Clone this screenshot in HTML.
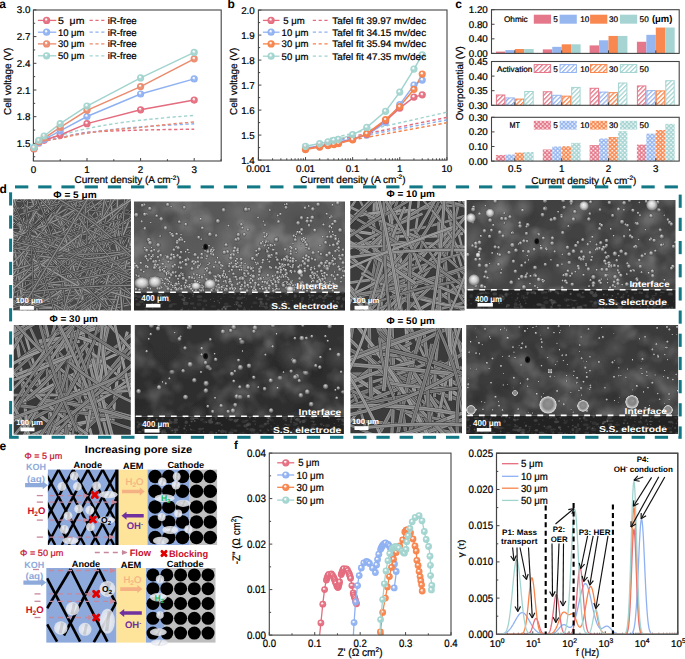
<!DOCTYPE html>
<html><head><meta charset="utf-8"><style>
html,body{margin:0;padding:0;background:#fff;overflow:hidden}
svg{display:block;font-family:"Liberation Sans", sans-serif;text-rendering:geometricPrecision}
</style></head><body>
<svg width="685" height="659" viewBox="0 0 685 659">
<defs><radialGradient id="ga5" cx="0.5" cy="0.5" r="0.5" fx="0.4" fy="0.34"><stop offset="0" stop-color="#fff"/><stop offset="0.18" stop-color="#fff" stop-opacity="0.7"/><stop offset="0.45" stop-color="#e46c7e" stop-opacity="0.9"/><stop offset="1" stop-color="#e46c7e"/></radialGradient>
<radialGradient id="ga10" cx="0.5" cy="0.5" r="0.5" fx="0.4" fy="0.34"><stop offset="0" stop-color="#fff"/><stop offset="0.18" stop-color="#fff" stop-opacity="0.7"/><stop offset="0.45" stop-color="#8fb1f2" stop-opacity="0.9"/><stop offset="1" stop-color="#8fb1f2"/></radialGradient>
<radialGradient id="ga30" cx="0.5" cy="0.5" r="0.5" fx="0.4" fy="0.34"><stop offset="0" stop-color="#fff"/><stop offset="0.18" stop-color="#fff" stop-opacity="0.7"/><stop offset="0.45" stop-color="#eb8a6c" stop-opacity="0.9"/><stop offset="1" stop-color="#eb8a6c"/></radialGradient>
<radialGradient id="ga50" cx="0.5" cy="0.5" r="0.5" fx="0.4" fy="0.34"><stop offset="0" stop-color="#fff"/><stop offset="0.18" stop-color="#fff" stop-opacity="0.7"/><stop offset="0.45" stop-color="#a2d4cf" stop-opacity="0.9"/><stop offset="1" stop-color="#a2d4cf"/></radialGradient>
<radialGradient id="gb5" cx="0.5" cy="0.5" r="0.5" fx="0.4" fy="0.34"><stop offset="0" stop-color="#fff"/><stop offset="0.18" stop-color="#fff" stop-opacity="0.7"/><stop offset="0.45" stop-color="#e46c7e" stop-opacity="0.9"/><stop offset="1" stop-color="#e46c7e"/></radialGradient>
<radialGradient id="gb10" cx="0.5" cy="0.5" r="0.5" fx="0.4" fy="0.34"><stop offset="0" stop-color="#fff"/><stop offset="0.18" stop-color="#fff" stop-opacity="0.7"/><stop offset="0.45" stop-color="#8fb1f2" stop-opacity="0.9"/><stop offset="1" stop-color="#8fb1f2"/></radialGradient>
<radialGradient id="gb30" cx="0.5" cy="0.5" r="0.5" fx="0.4" fy="0.34"><stop offset="0" stop-color="#fff"/><stop offset="0.18" stop-color="#fff" stop-opacity="0.7"/><stop offset="0.45" stop-color="#f7834a" stop-opacity="0.9"/><stop offset="1" stop-color="#f7834a"/></radialGradient>
<radialGradient id="gb50" cx="0.5" cy="0.5" r="0.5" fx="0.4" fy="0.34"><stop offset="0" stop-color="#fff"/><stop offset="0.18" stop-color="#fff" stop-opacity="0.7"/><stop offset="0.45" stop-color="#a2d4cf" stop-opacity="0.9"/><stop offset="1" stop-color="#a2d4cf"/></radialGradient>
<pattern id="h0" patternUnits="userSpaceOnUse" width="3.2" height="3.2" patternTransform="rotate(45)"><rect width="3.2" height="3.2" fill="#fff"/><rect width="1.3" height="3.2" fill="#e4788a"/></pattern>
<pattern id="x0" patternUnits="userSpaceOnUse" width="4.2" height="4.1"><rect width="4.2" height="4.1" fill="#e4788a"/><rect x="0.3" y="0.3" width="1.6" height="1.5" fill="#fff"/><rect x="2.4" y="2.35" width="1.6" height="1.5" fill="#fff"/></pattern>
<pattern id="h1" patternUnits="userSpaceOnUse" width="3.2" height="3.2" patternTransform="rotate(45)"><rect width="3.2" height="3.2" fill="#fff"/><rect width="1.3" height="3.2" fill="#96b6f0"/></pattern>
<pattern id="x1" patternUnits="userSpaceOnUse" width="4.2" height="4.1"><rect width="4.2" height="4.1" fill="#96b6f0"/><rect x="0.3" y="0.3" width="1.6" height="1.5" fill="#fff"/><rect x="2.4" y="2.35" width="1.6" height="1.5" fill="#fff"/></pattern>
<pattern id="h2" patternUnits="userSpaceOnUse" width="3.2" height="3.2" patternTransform="rotate(45)"><rect width="3.2" height="3.2" fill="#fff"/><rect width="1.3" height="3.2" fill="#f88850"/></pattern>
<pattern id="x2" patternUnits="userSpaceOnUse" width="4.2" height="4.1"><rect width="4.2" height="4.1" fill="#f88850"/><rect x="0.3" y="0.3" width="1.6" height="1.5" fill="#fff"/><rect x="2.4" y="2.35" width="1.6" height="1.5" fill="#fff"/></pattern>
<pattern id="h3" patternUnits="userSpaceOnUse" width="3.2" height="3.2" patternTransform="rotate(45)"><rect width="3.2" height="3.2" fill="#fff"/><rect width="1.3" height="3.2" fill="#a5d4d2"/></pattern>
<pattern id="x3" patternUnits="userSpaceOnUse" width="4.2" height="4.1"><rect width="4.2" height="4.1" fill="#a5d4d2"/><rect x="0.3" y="0.3" width="1.6" height="1.5" fill="#fff"/><rect x="2.4" y="2.35" width="1.6" height="1.5" fill="#fff"/></pattern>
<filter id="sblur" x="0" y="0" width="1" height="1"><feGaussianBlur stdDeviation="0.35"/></filter>
<clipPath id="c1"><rect x="13.2" y="199.3" width="117.8" height="111.3"/></clipPath>
<clipPath id="c2"><rect x="350.2" y="200.9" width="114.4" height="109.6"/></clipPath>
<clipPath id="c3"><rect x="13.7" y="324.9" width="117.1" height="109.9"/></clipPath>
<clipPath id="c4"><rect x="350.4" y="328" width="111.6" height="105.2"/></clipPath>
<radialGradient id="bub" cx="0.5" cy="0.5" r="0.5" fx="0.45" fy="0.3"><stop offset="0" stop-color="#d8d8d8"/><stop offset="0.4" stop-color="#a0a0a0"/><stop offset="0.78" stop-color="#686868"/><stop offset="1" stop-color="#3c3c3c" stop-opacity="0.7"/></radialGradient>
<radialGradient id="bigb" cx="0.5" cy="0.5" r="0.5" fx="0.5" fy="0.4"><stop offset="0" stop-color="#9a9a9a"/><stop offset="0.55" stop-color="#8c8c8c"/><stop offset="0.8" stop-color="#c8c8c8"/><stop offset="0.92" stop-color="#e8e8e8"/><stop offset="1" stop-color="#555" stop-opacity="0.6"/></radialGradient>
<radialGradient id="brb" cx="0.5" cy="0.5" r="0.5" fx="0.45" fy="0.35"><stop offset="0" stop-color="#f4f4f4"/><stop offset="0.5" stop-color="#d0d0d0"/><stop offset="0.85" stop-color="#8a8a8a"/><stop offset="1" stop-color="#505050" stop-opacity="0.6"/></radialGradient>
<radialGradient id="blobw" cx="0.5" cy="0.5" r="0.5"><stop offset="0" stop-color="#fff" stop-opacity="0.12"/><stop offset="1" stop-color="#fff" stop-opacity="0"/></radialGradient>
<radialGradient id="blobk" cx="0.5" cy="0.5" r="0.5"><stop offset="0" stop-color="#000" stop-opacity="0.12"/><stop offset="1" stop-color="#000" stop-opacity="0"/></radialGradient>
<radialGradient id="dspot" cx="0.5" cy="0.5" r="0.5"><stop offset="0" stop-color="#000"/><stop offset="0.6" stop-color="#111"/><stop offset="1" stop-color="#000" stop-opacity="0"/></radialGradient>
<filter id="bblur" x="0" y="0" width="1" height="1"><feGaussianBlur stdDeviation="0.3"/></filter>
<filter id="cloud" x="0" y="0" width="1" height="1"><feTurbulence type="fractalNoise" baseFrequency="0.035" numOctaves="3" seed="5"/><feColorMatrix type="matrix" values="0 0 0 0 1  0 0 0 0 1  0 0 0 0 1  2.6 0 0 0 -1.2"/></filter>
<filter id="grain" x="0" y="0" width="1" height="1"><feTurbulence type="fractalNoise" baseFrequency="0.9" numOctaves="1" seed="3"/><feColorMatrix type="matrix" values="0 0 0 0 0  0 0 0 0 0  0 0 0 0 0  0 0 0 -1.6 1.1"/></filter>
<clipPath id="b1"><rect x="134" y="201.5" width="211" height="109.1"/></clipPath>
<linearGradient id="b1g" x1="0" y1="0" x2="0" y2="1"><stop offset="0" stop-color="#585858"/><stop offset="1" stop-color="#5c5c5c"/></linearGradient>
<clipPath id="b2"><rect x="466.6" y="200" width="208.9" height="108.8"/></clipPath>
<linearGradient id="b2g" x1="0" y1="0" x2="0" y2="1"><stop offset="0" stop-color="#414141"/><stop offset="1" stop-color="#454545"/></linearGradient>
<clipPath id="b3"><rect x="134.8" y="325" width="209.1" height="108.9"/></clipPath>
<linearGradient id="b3g" x1="0" y1="0" x2="0" y2="1"><stop offset="0" stop-color="#313131"/><stop offset="1" stop-color="#2d2d2d"/></linearGradient>
<clipPath id="b4"><rect x="466.2" y="325" width="211.9" height="108.9"/></clipPath>
<linearGradient id="b4g" x1="0" y1="0" x2="0" y2="1"><stop offset="0" stop-color="#3a3a3a"/><stop offset="1" stop-color="#3c3c3c"/></linearGradient>
<radialGradient id="eb" cx="0.5" cy="0.5" r="0.5"><stop offset="0" stop-color="#f8f9fc" stop-opacity="0.9"/><stop offset="1" stop-color="#e4e6ee" stop-opacity="0.85"/></radialGradient>
<marker id="pa" markerWidth="6" markerHeight="6" refX="5" refY="3" orient="auto" markerUnits="userSpaceOnUse"><path d="M0,0.3 L6,3 L0,5.7 z" fill="#c6889c"/></marker>
<clipPath id="an1"><rect x="47.9" y="469.6" width="68" height="75.4"/></clipPath>
<clipPath id="an2"><rect x="46.3" y="568" width="70.2" height="74.6"/></clipPath></defs>
<rect x="33.4" y="10" width="187.8" height="151" fill="none" stroke="#444" stroke-width="1.1"/>
<line x1="33.4" y1="143.4" x2="36.4" y2="143.4" stroke="#444" stroke-width="1"/>
<line x1="33.4" y1="116.7" x2="36.4" y2="116.7" stroke="#444" stroke-width="1"/>
<line x1="33.4" y1="90" x2="36.4" y2="90" stroke="#444" stroke-width="1"/>
<line x1="33.4" y1="63.3" x2="36.4" y2="63.3" stroke="#444" stroke-width="1"/>
<line x1="33.4" y1="36.6" x2="36.4" y2="36.6" stroke="#444" stroke-width="1"/>
<line x1="33.4" y1="9.9" x2="36.4" y2="9.9" stroke="#444" stroke-width="1"/>
<line x1="33.4" y1="156.75" x2="35.2" y2="156.75" stroke="#444" stroke-width="1"/>
<line x1="33.4" y1="130.05" x2="35.2" y2="130.05" stroke="#444" stroke-width="1"/>
<line x1="33.4" y1="103.35" x2="35.2" y2="103.35" stroke="#444" stroke-width="1"/>
<line x1="33.4" y1="76.65" x2="35.2" y2="76.65" stroke="#444" stroke-width="1"/>
<line x1="33.4" y1="49.95" x2="35.2" y2="49.95" stroke="#444" stroke-width="1"/>
<line x1="33.4" y1="23.25" x2="35.2" y2="23.25" stroke="#444" stroke-width="1"/>
<line x1="33.4" y1="161" x2="33.4" y2="158" stroke="#444" stroke-width="1"/>
<line x1="87" y1="161" x2="87" y2="158" stroke="#444" stroke-width="1"/>
<line x1="140.6" y1="161" x2="140.6" y2="158" stroke="#444" stroke-width="1"/>
<line x1="194.2" y1="161" x2="194.2" y2="158" stroke="#444" stroke-width="1"/>
<line x1="60.2" y1="161" x2="60.2" y2="159.2" stroke="#444" stroke-width="1"/>
<line x1="113.8" y1="161" x2="113.8" y2="159.2" stroke="#444" stroke-width="1"/>
<line x1="167.4" y1="161" x2="167.4" y2="159.2" stroke="#444" stroke-width="1"/>
<line x1="221" y1="161" x2="221" y2="159.2" stroke="#444" stroke-width="1"/>
<text x="30.4" y="146.93" font-size="9.8" text-anchor="end" stroke="#000" stroke-width="0.22">1.5</text>
<text x="30.4" y="120.23" font-size="9.8" text-anchor="end" stroke="#000" stroke-width="0.22">1.8</text>
<text x="30.4" y="93.53" font-size="9.8" text-anchor="end" stroke="#000" stroke-width="0.22">2.1</text>
<text x="30.4" y="66.83" font-size="9.8" text-anchor="end" stroke="#000" stroke-width="0.22">2.4</text>
<text x="30.4" y="40.13" font-size="9.8" text-anchor="end" stroke="#000" stroke-width="0.22">2.7</text>
<text x="30.4" y="13.43" font-size="9.8" text-anchor="end" stroke="#000" stroke-width="0.22">3.0</text>
<text x="33.4" y="173.03" font-size="9.8" text-anchor="middle" stroke="#000" stroke-width="0.22">0</text>
<text x="87" y="173.03" font-size="9.8" text-anchor="middle" stroke="#000" stroke-width="0.22">1</text>
<text x="140.6" y="173.03" font-size="9.8" text-anchor="middle" stroke="#000" stroke-width="0.22">2</text>
<text x="194.2" y="173.03" font-size="9.8" text-anchor="middle" stroke="#000" stroke-width="0.22">3</text>
<text x="-0.8" y="8.4" font-size="12" font-weight="bold">a</text>
<text x="11.4" y="81.3" font-size="10" text-anchor="middle" stroke="#000" stroke-width="0.22" textLength="67.2" lengthAdjust="spacingAndGlyphs" transform="rotate(-90 11.4 81.3)">Cell voltage (V)</text>
<text x="127.1" y="183.3" font-size="10" text-anchor="middle" stroke="#000" stroke-width="0.22">Current density (A cm<tspan font-size="6.5" dy="-3.8">-2</tspan><tspan dy="3.8">)</tspan></text>
<polyline points="33.94,149.63 34.54,147.59 35.14,146.44 35.74,145.64 36.35,145.02 36.95,144.51 37.55,144.09 38.16,143.72 38.76,143.4 39.43,143.02 40.1,142.68 40.77,142.38 41.44,142.1 42.11,141.84 42.78,141.6 43.45,141.38 44.12,141.18 46.13,140.59 48.14,140.09 50.15,139.66 52.16,139.27 54.17,138.93 56.18,138.61 58.19,138.33 60.2,138.06 63.55,137.08 66.9,136.2 70.25,135.4 73.6,134.68 76.95,134.01 80.3,133.39 83.65,132.81 87,132.28 93.7,131.9 100.4,131.56 107.1,131.25 113.8,130.97 120.5,130.72 127.2,130.48 133.9,130.26 140.6,130.05 147.3,129.92 154,129.79 160.7,129.67 167.4,129.56 174.1,129.45 180.8,129.35 187.5,129.25 194.2,129.16" fill="none" stroke="#e46c7e" stroke-width="1.45" stroke-dasharray="3.3 2.5"/>
<polyline points="33.94,149.63 34.54,147.59 35.14,146.44 35.74,145.64 36.35,145.02 36.95,144.51 37.55,144.09 38.16,143.72 38.76,143.4 39.43,143.1 40.1,142.83 40.77,142.58 41.44,142.36 42.11,142.15 42.78,141.96 43.45,141.79 44.12,141.62 46.13,140.95 48.14,140.38 50.15,139.89 52.16,139.45 54.17,139.05 56.18,138.69 58.19,138.36 60.2,138.06 63.55,137.15 66.9,136.34 70.25,135.61 73.6,134.94 76.95,134.32 80.3,133.75 83.65,133.22 87,132.72 93.7,131.74 100.4,130.86 107.1,130.06 113.8,129.34 120.5,128.67 127.2,128.05 133.9,127.47 140.6,126.94 147.3,126.47 154,126.03 160.7,125.61 167.4,125.22 174.1,124.85 180.8,124.49 187.5,124.15 194.2,123.82" fill="none" stroke="#8fb1f2" stroke-width="1.45" stroke-dasharray="3.3 2.5"/>
<polyline points="33.94,150.52 34.54,148.33 35.14,147.1 35.74,146.24 36.35,145.58 36.95,145.04 37.55,144.58 38.16,144.19 38.76,143.84 39.43,143.47 40.1,143.13 40.77,142.82 41.44,142.54 42.11,142.29 42.78,142.05 43.45,141.83 44.12,141.62 46.13,141.04 48.14,140.54 50.15,140.1 52.16,139.72 54.17,139.37 56.18,139.06 58.19,138.77 60.2,138.51 63.55,137.6 66.9,136.79 70.25,136.05 73.6,135.38 76.95,134.76 80.3,134.19 83.65,133.66 87,133.17 93.7,132.18 100.4,131.3 107.1,130.51 113.8,129.78 120.5,129.11 127.2,128.49 133.9,127.92 140.6,127.38 147.3,126.58 154,125.83 160.7,125.12 167.4,124.44 174.1,123.8 180.8,123.19 187.5,122.6 194.2,122.04" fill="none" stroke="#eb8a6c" stroke-width="1.45" stroke-dasharray="3.3 2.5"/>
<polyline points="33.94,148.74 34.54,146.7 35.14,145.55 35.74,144.75 36.35,144.13 36.95,143.62 37.55,143.2 38.16,142.83 38.76,142.51 39.43,141.98 40.1,141.51 40.77,141.08 41.44,140.69 42.11,140.33 42.78,140 43.45,139.69 44.12,139.4 46.13,138.73 48.14,138.16 50.15,137.66 52.16,137.22 54.17,136.83 56.18,136.47 58.19,136.14 60.2,135.84 63.55,134.63 66.9,133.54 70.25,132.56 73.6,131.67 76.95,130.85 80.3,130.09 83.65,129.38 87,128.72 93.7,127.28 100.4,125.99 107.1,124.83 113.8,123.77 120.5,122.79 127.2,121.89 133.9,121.05 140.6,120.26 147.3,119.53 154,118.84 160.7,118.19 167.4,117.57 174.1,116.98 180.8,116.42 187.5,115.88 194.2,115.37" fill="none" stroke="#a2d4cf" stroke-width="1.45" stroke-dasharray="3.3 2.5"/>
<polyline points="33.94,148.74 38.76,142.96 44.12,140.29 60.2,134.94 87,123.64 140.6,109.85 194.2,100.06" fill="none" stroke="#e46c7e" stroke-width="1.5"/>
<polyline points="33.94,148.29 38.76,142.51 44.12,139.4 60.2,130.94 87,116.52 140.6,94 194.2,78.88" fill="none" stroke="#8fb1f2" stroke-width="1.5"/>
<polyline points="33.94,148.74 38.76,141.62 44.12,138.06 60.2,127.47 87,110.29 140.6,86.62 194.2,58.85" fill="none" stroke="#eb8a6c" stroke-width="1.5"/>
<polyline points="33.94,147.41 38.76,140.37 44.12,136.01 60.2,123.64 87,106.11 140.6,77.9 194.2,52.44" fill="none" stroke="#a2d4cf" stroke-width="1.5"/>
<circle cx="33.94" cy="148.74" r="3.6" fill="url(#ga5)"/>
<circle cx="38.76" cy="142.96" r="3.6" fill="url(#ga5)"/>
<circle cx="44.12" cy="140.29" r="3.6" fill="url(#ga5)"/>
<circle cx="60.2" cy="134.94" r="3.6" fill="url(#ga5)"/>
<circle cx="87" cy="123.64" r="3.6" fill="url(#ga5)"/>
<circle cx="140.6" cy="109.85" r="3.6" fill="url(#ga5)"/>
<circle cx="194.2" cy="100.06" r="3.6" fill="url(#ga5)"/>
<circle cx="33.94" cy="148.29" r="3.6" fill="url(#ga10)"/>
<circle cx="38.76" cy="142.51" r="3.6" fill="url(#ga10)"/>
<circle cx="44.12" cy="139.4" r="3.6" fill="url(#ga10)"/>
<circle cx="60.2" cy="130.94" r="3.6" fill="url(#ga10)"/>
<circle cx="87" cy="116.52" r="3.6" fill="url(#ga10)"/>
<circle cx="140.6" cy="94" r="3.6" fill="url(#ga10)"/>
<circle cx="194.2" cy="78.88" r="3.6" fill="url(#ga10)"/>
<circle cx="33.94" cy="148.74" r="3.6" fill="url(#ga30)"/>
<circle cx="38.76" cy="141.62" r="3.6" fill="url(#ga30)"/>
<circle cx="44.12" cy="138.06" r="3.6" fill="url(#ga30)"/>
<circle cx="60.2" cy="127.47" r="3.6" fill="url(#ga30)"/>
<circle cx="87" cy="110.29" r="3.6" fill="url(#ga30)"/>
<circle cx="140.6" cy="86.62" r="3.6" fill="url(#ga30)"/>
<circle cx="194.2" cy="58.85" r="3.6" fill="url(#ga30)"/>
<circle cx="33.94" cy="147.41" r="3.6" fill="url(#ga50)"/>
<circle cx="38.76" cy="140.37" r="3.6" fill="url(#ga50)"/>
<circle cx="44.12" cy="136.01" r="3.6" fill="url(#ga50)"/>
<circle cx="60.2" cy="123.64" r="3.6" fill="url(#ga50)"/>
<circle cx="87" cy="106.11" r="3.6" fill="url(#ga50)"/>
<circle cx="140.6" cy="77.9" r="3.6" fill="url(#ga50)"/>
<circle cx="194.2" cy="52.44" r="3.6" fill="url(#ga50)"/>
<line x1="37.9" y1="20.4" x2="56.3" y2="20.4" stroke="#e46c7e" stroke-width="1.3"/>
<circle cx="46.6" cy="20.4" r="3.6" fill="url(#ga5)"/>
<text x="57.9" y="23.86" font-size="9.6" stroke="#000" stroke-width="0.22" textLength="26.5" lengthAdjust="spacingAndGlyphs">5&#160; μm</text>
<line x1="89.6" y1="20.4" x2="106.2" y2="20.4" stroke="#e46c7e" stroke-width="1.3" stroke-dasharray="3.2 2.6"/>
<text x="107.7" y="23.86" font-size="9.6" stroke="#000" stroke-width="0.22" textLength="29" lengthAdjust="spacingAndGlyphs">iR-free</text>
<line x1="37.9" y1="32.2" x2="56.3" y2="32.2" stroke="#8fb1f2" stroke-width="1.3"/>
<circle cx="46.6" cy="32.2" r="3.6" fill="url(#ga10)"/>
<text x="57.9" y="35.66" font-size="9.6" stroke="#000" stroke-width="0.22" textLength="26.5" lengthAdjust="spacingAndGlyphs">10 μm</text>
<line x1="89.6" y1="32.2" x2="106.2" y2="32.2" stroke="#8fb1f2" stroke-width="1.3" stroke-dasharray="3.2 2.6"/>
<text x="107.7" y="35.66" font-size="9.6" stroke="#000" stroke-width="0.22" textLength="29" lengthAdjust="spacingAndGlyphs">iR-free</text>
<line x1="37.9" y1="43.9" x2="56.3" y2="43.9" stroke="#eb8a6c" stroke-width="1.3"/>
<circle cx="46.6" cy="43.9" r="3.6" fill="url(#ga30)"/>
<text x="57.9" y="47.36" font-size="9.6" stroke="#000" stroke-width="0.22" textLength="26.5" lengthAdjust="spacingAndGlyphs">30 μm</text>
<line x1="89.6" y1="43.9" x2="106.2" y2="43.9" stroke="#eb8a6c" stroke-width="1.3" stroke-dasharray="3.2 2.6"/>
<text x="107.7" y="47.36" font-size="9.6" stroke="#000" stroke-width="0.22" textLength="29" lengthAdjust="spacingAndGlyphs">iR-free</text>
<line x1="37.9" y1="55.8" x2="56.3" y2="55.8" stroke="#a2d4cf" stroke-width="1.3"/>
<circle cx="46.6" cy="55.8" r="3.6" fill="url(#ga50)"/>
<text x="57.9" y="59.26" font-size="9.6" stroke="#000" stroke-width="0.22" textLength="26.5" lengthAdjust="spacingAndGlyphs">50 μm</text>
<line x1="89.6" y1="55.8" x2="106.2" y2="55.8" stroke="#a2d4cf" stroke-width="1.3" stroke-dasharray="3.2 2.6"/>
<text x="107.7" y="59.26" font-size="9.6" stroke="#000" stroke-width="0.22" textLength="29" lengthAdjust="spacingAndGlyphs">iR-free</text>
<rect x="258.4" y="10" width="188.6" height="150.1" fill="none" stroke="#444" stroke-width="1.1"/>
<line x1="258.4" y1="160.1" x2="261.4" y2="160.1" stroke="#444" stroke-width="1"/>
<line x1="258.4" y1="135.1" x2="261.4" y2="135.1" stroke="#444" stroke-width="1"/>
<line x1="258.4" y1="110.1" x2="261.4" y2="110.1" stroke="#444" stroke-width="1"/>
<line x1="258.4" y1="85.1" x2="261.4" y2="85.1" stroke="#444" stroke-width="1"/>
<line x1="258.4" y1="60.1" x2="261.4" y2="60.1" stroke="#444" stroke-width="1"/>
<line x1="258.4" y1="35.1" x2="261.4" y2="35.1" stroke="#444" stroke-width="1"/>
<line x1="258.4" y1="10.1" x2="261.4" y2="10.1" stroke="#444" stroke-width="1"/>
<line x1="258.4" y1="147.6" x2="260.2" y2="147.6" stroke="#444" stroke-width="1"/>
<line x1="258.4" y1="122.6" x2="260.2" y2="122.6" stroke="#444" stroke-width="1"/>
<line x1="258.4" y1="97.6" x2="260.2" y2="97.6" stroke="#444" stroke-width="1"/>
<line x1="258.4" y1="72.6" x2="260.2" y2="72.6" stroke="#444" stroke-width="1"/>
<line x1="258.4" y1="47.6" x2="260.2" y2="47.6" stroke="#444" stroke-width="1"/>
<line x1="258.4" y1="22.6" x2="260.2" y2="22.6" stroke="#444" stroke-width="1"/>
<line x1="258.4" y1="160.1" x2="258.4" y2="157.1" stroke="#444" stroke-width="1"/>
<line x1="305.52" y1="160.1" x2="305.52" y2="157.1" stroke="#444" stroke-width="1"/>
<line x1="352.64" y1="160.1" x2="352.64" y2="157.1" stroke="#444" stroke-width="1"/>
<line x1="399.76" y1="160.1" x2="399.76" y2="157.1" stroke="#444" stroke-width="1"/>
<line x1="446.88" y1="160.1" x2="446.88" y2="157.1" stroke="#444" stroke-width="1"/>
<line x1="272.58" y1="160.1" x2="272.58" y2="158.3" stroke="#444" stroke-width="1"/>
<line x1="280.88" y1="160.1" x2="280.88" y2="158.3" stroke="#444" stroke-width="1"/>
<line x1="286.77" y1="160.1" x2="286.77" y2="158.3" stroke="#444" stroke-width="1"/>
<line x1="291.34" y1="160.1" x2="291.34" y2="158.3" stroke="#444" stroke-width="1"/>
<line x1="295.07" y1="160.1" x2="295.07" y2="158.3" stroke="#444" stroke-width="1"/>
<line x1="298.22" y1="160.1" x2="298.22" y2="158.3" stroke="#444" stroke-width="1"/>
<line x1="300.95" y1="160.1" x2="300.95" y2="158.3" stroke="#444" stroke-width="1"/>
<line x1="303.36" y1="160.1" x2="303.36" y2="158.3" stroke="#444" stroke-width="1"/>
<line x1="319.7" y1="160.1" x2="319.7" y2="158.3" stroke="#444" stroke-width="1"/>
<line x1="328" y1="160.1" x2="328" y2="158.3" stroke="#444" stroke-width="1"/>
<line x1="333.89" y1="160.1" x2="333.89" y2="158.3" stroke="#444" stroke-width="1"/>
<line x1="338.46" y1="160.1" x2="338.46" y2="158.3" stroke="#444" stroke-width="1"/>
<line x1="342.19" y1="160.1" x2="342.19" y2="158.3" stroke="#444" stroke-width="1"/>
<line x1="345.34" y1="160.1" x2="345.34" y2="158.3" stroke="#444" stroke-width="1"/>
<line x1="348.07" y1="160.1" x2="348.07" y2="158.3" stroke="#444" stroke-width="1"/>
<line x1="350.48" y1="160.1" x2="350.48" y2="158.3" stroke="#444" stroke-width="1"/>
<line x1="366.82" y1="160.1" x2="366.82" y2="158.3" stroke="#444" stroke-width="1"/>
<line x1="375.12" y1="160.1" x2="375.12" y2="158.3" stroke="#444" stroke-width="1"/>
<line x1="381.01" y1="160.1" x2="381.01" y2="158.3" stroke="#444" stroke-width="1"/>
<line x1="385.58" y1="160.1" x2="385.58" y2="158.3" stroke="#444" stroke-width="1"/>
<line x1="389.31" y1="160.1" x2="389.31" y2="158.3" stroke="#444" stroke-width="1"/>
<line x1="392.46" y1="160.1" x2="392.46" y2="158.3" stroke="#444" stroke-width="1"/>
<line x1="395.19" y1="160.1" x2="395.19" y2="158.3" stroke="#444" stroke-width="1"/>
<line x1="397.6" y1="160.1" x2="397.6" y2="158.3" stroke="#444" stroke-width="1"/>
<line x1="413.94" y1="160.1" x2="413.94" y2="158.3" stroke="#444" stroke-width="1"/>
<line x1="422.24" y1="160.1" x2="422.24" y2="158.3" stroke="#444" stroke-width="1"/>
<line x1="428.13" y1="160.1" x2="428.13" y2="158.3" stroke="#444" stroke-width="1"/>
<line x1="432.7" y1="160.1" x2="432.7" y2="158.3" stroke="#444" stroke-width="1"/>
<line x1="436.43" y1="160.1" x2="436.43" y2="158.3" stroke="#444" stroke-width="1"/>
<line x1="439.58" y1="160.1" x2="439.58" y2="158.3" stroke="#444" stroke-width="1"/>
<line x1="442.31" y1="160.1" x2="442.31" y2="158.3" stroke="#444" stroke-width="1"/>
<line x1="444.72" y1="160.1" x2="444.72" y2="158.3" stroke="#444" stroke-width="1"/>
<text x="254.8" y="163.63" font-size="9.8" text-anchor="end" stroke="#000" stroke-width="0.22">1.4</text>
<text x="254.8" y="138.63" font-size="9.8" text-anchor="end" stroke="#000" stroke-width="0.22">1.5</text>
<text x="254.8" y="113.63" font-size="9.8" text-anchor="end" stroke="#000" stroke-width="0.22">1.6</text>
<text x="254.8" y="88.63" font-size="9.8" text-anchor="end" stroke="#000" stroke-width="0.22">1.7</text>
<text x="254.8" y="63.63" font-size="9.8" text-anchor="end" stroke="#000" stroke-width="0.22">1.8</text>
<text x="254.8" y="38.63" font-size="9.8" text-anchor="end" stroke="#000" stroke-width="0.22">1.9</text>
<text x="254.8" y="13.63" font-size="9.8" text-anchor="end" stroke="#000" stroke-width="0.22">2.0</text>
<text x="258.4" y="172.03" font-size="9.8" text-anchor="middle" stroke="#000" stroke-width="0.22">0.001</text>
<text x="305.52" y="172.03" font-size="9.8" text-anchor="middle" stroke="#000" stroke-width="0.22">0.01</text>
<text x="352.64" y="172.03" font-size="9.8" text-anchor="middle" stroke="#000" stroke-width="0.22">0.1</text>
<text x="399.76" y="172.03" font-size="9.8" text-anchor="middle" stroke="#000" stroke-width="0.22">1</text>
<text x="446.88" y="172.03" font-size="9.8" text-anchor="middle" stroke="#000" stroke-width="0.22">10</text>
<text x="227.6" y="8.4" font-size="12" font-weight="bold">b</text>
<text x="236.6" y="81.3" font-size="10" text-anchor="middle" stroke="#000" stroke-width="0.22" textLength="67.2" lengthAdjust="spacingAndGlyphs" transform="rotate(-90 236.6 81.3)">Cell voltage (V)</text>
<text x="352.9" y="182.7" font-size="10" text-anchor="middle" stroke="#000" stroke-width="0.22">Current density (A cm<tspan font-size="6.5" dy="-3.8">-2</tspan><tspan dy="3.8">)</tspan></text>
<line x1="330" y1="138.5" x2="446.5" y2="112.3" stroke="#a2d4cf" stroke-width="1.45" stroke-dasharray="3.3 2.5"/>
<line x1="330" y1="141" x2="446.5" y2="117.5" stroke="#e46c7e" stroke-width="1.45" stroke-dasharray="3.3 2.5"/>
<line x1="330" y1="142" x2="446.5" y2="120" stroke="#8fb1f2" stroke-width="1.45" stroke-dasharray="3.3 2.5"/>
<line x1="330" y1="144" x2="446.5" y2="122.8" stroke="#f7834a" stroke-width="1.45" stroke-dasharray="3.3 2.5"/>
<polyline points="305.52,148.35 319.7,145.85 328,144.35 333.89,143.35 338.46,142.35 352.64,138.85 366.82,135.1 385.58,122.35 399.76,104.6 413.94,85.1 422.24,80.1" fill="none" stroke="#8fb1f2" stroke-width="1.5"/>
<polyline points="305.52,149.1 319.7,146.6 328,145.1 333.89,144.1 338.46,143.1 352.64,139.35 366.82,134.35 385.58,120.6 399.76,108.1 413.94,97.1 422.24,94.85" fill="none" stroke="#e46c7e" stroke-width="1.5"/>
<polyline points="305.52,149.6 319.7,147.1 328,145.6 333.89,144.6 338.46,143.6 352.64,139.85 366.82,133.6 385.58,119.6 399.76,106.6 413.94,89.35 422.24,74.1" fill="none" stroke="#f7834a" stroke-width="1.5"/>
<polyline points="305.52,146.35 319.7,143.6 328,141.85 333.89,140.35 338.46,139.35 352.64,134.6 366.82,127.35 385.58,111.35 399.76,92.1 413.94,69.1 422.24,54.85" fill="none" stroke="#a2d4cf" stroke-width="1.5"/>
<circle cx="305.52" cy="148.35" r="3.6" fill="url(#gb10)"/>
<circle cx="319.7" cy="145.85" r="3.6" fill="url(#gb10)"/>
<circle cx="328" cy="144.35" r="3.6" fill="url(#gb10)"/>
<circle cx="333.89" cy="143.35" r="3.6" fill="url(#gb10)"/>
<circle cx="338.46" cy="142.35" r="3.6" fill="url(#gb10)"/>
<circle cx="352.64" cy="138.85" r="3.6" fill="url(#gb10)"/>
<circle cx="366.82" cy="135.1" r="3.6" fill="url(#gb10)"/>
<circle cx="385.58" cy="122.35" r="3.6" fill="url(#gb10)"/>
<circle cx="399.76" cy="104.6" r="3.6" fill="url(#gb10)"/>
<circle cx="413.94" cy="85.1" r="3.6" fill="url(#gb10)"/>
<circle cx="422.24" cy="80.1" r="3.6" fill="url(#gb10)"/>
<circle cx="305.52" cy="149.1" r="3.6" fill="url(#gb5)"/>
<circle cx="319.7" cy="146.6" r="3.6" fill="url(#gb5)"/>
<circle cx="328" cy="145.1" r="3.6" fill="url(#gb5)"/>
<circle cx="333.89" cy="144.1" r="3.6" fill="url(#gb5)"/>
<circle cx="338.46" cy="143.1" r="3.6" fill="url(#gb5)"/>
<circle cx="352.64" cy="139.35" r="3.6" fill="url(#gb5)"/>
<circle cx="366.82" cy="134.35" r="3.6" fill="url(#gb5)"/>
<circle cx="385.58" cy="120.6" r="3.6" fill="url(#gb5)"/>
<circle cx="399.76" cy="108.1" r="3.6" fill="url(#gb5)"/>
<circle cx="413.94" cy="97.1" r="3.6" fill="url(#gb5)"/>
<circle cx="422.24" cy="94.85" r="3.6" fill="url(#gb5)"/>
<circle cx="305.52" cy="149.6" r="3.6" fill="url(#gb30)"/>
<circle cx="319.7" cy="147.1" r="3.6" fill="url(#gb30)"/>
<circle cx="328" cy="145.6" r="3.6" fill="url(#gb30)"/>
<circle cx="333.89" cy="144.6" r="3.6" fill="url(#gb30)"/>
<circle cx="338.46" cy="143.6" r="3.6" fill="url(#gb30)"/>
<circle cx="352.64" cy="139.85" r="3.6" fill="url(#gb30)"/>
<circle cx="366.82" cy="133.6" r="3.6" fill="url(#gb30)"/>
<circle cx="385.58" cy="119.6" r="3.6" fill="url(#gb30)"/>
<circle cx="399.76" cy="106.6" r="3.6" fill="url(#gb30)"/>
<circle cx="413.94" cy="89.35" r="3.6" fill="url(#gb30)"/>
<circle cx="422.24" cy="74.1" r="3.6" fill="url(#gb30)"/>
<circle cx="305.52" cy="146.35" r="3.6" fill="url(#gb50)"/>
<circle cx="319.7" cy="143.6" r="3.6" fill="url(#gb50)"/>
<circle cx="328" cy="141.85" r="3.6" fill="url(#gb50)"/>
<circle cx="333.89" cy="140.35" r="3.6" fill="url(#gb50)"/>
<circle cx="338.46" cy="139.35" r="3.6" fill="url(#gb50)"/>
<circle cx="352.64" cy="134.6" r="3.6" fill="url(#gb50)"/>
<circle cx="366.82" cy="127.35" r="3.6" fill="url(#gb50)"/>
<circle cx="385.58" cy="111.35" r="3.6" fill="url(#gb50)"/>
<circle cx="399.76" cy="92.1" r="3.6" fill="url(#gb50)"/>
<circle cx="413.94" cy="69.1" r="3.6" fill="url(#gb50)"/>
<circle cx="422.24" cy="54.85" r="3.6" fill="url(#gb50)"/>
<line x1="262.9" y1="20.4" x2="279.5" y2="20.4" stroke="#e46c7e" stroke-width="1.3"/>
<circle cx="271.1" cy="20.4" r="3.6" fill="url(#gb5)"/>
<text x="283.2" y="23.86" font-size="9.6" stroke="#000" stroke-width="0.22" textLength="21.5" lengthAdjust="spacingAndGlyphs">5 μm</text>
<line x1="312.8" y1="20.4" x2="330" y2="20.4" stroke="#e46c7e" stroke-width="1.3" stroke-dasharray="3.2 2.6"/>
<text x="332.3" y="23.86" font-size="9.6" stroke="#000" stroke-width="0.22" textLength="93.8" lengthAdjust="spacingAndGlyphs">Tafel fit 39.97 mv/dec</text>
<line x1="262.9" y1="32.2" x2="279.5" y2="32.2" stroke="#8fb1f2" stroke-width="1.3"/>
<circle cx="271.1" cy="32.2" r="3.6" fill="url(#gb10)"/>
<text x="281.6" y="35.66" font-size="9.6" stroke="#000" stroke-width="0.22" textLength="26.8" lengthAdjust="spacingAndGlyphs">10 μm</text>
<line x1="312.8" y1="32.2" x2="330" y2="32.2" stroke="#8fb1f2" stroke-width="1.3" stroke-dasharray="3.2 2.6"/>
<text x="332.3" y="35.66" font-size="9.6" stroke="#000" stroke-width="0.22" textLength="93.8" lengthAdjust="spacingAndGlyphs">Tafel fit 34.15 mv/dec</text>
<line x1="262.9" y1="43.9" x2="279.5" y2="43.9" stroke="#f7834a" stroke-width="1.3"/>
<circle cx="271.1" cy="43.9" r="3.6" fill="url(#gb30)"/>
<text x="281.6" y="47.36" font-size="9.6" stroke="#000" stroke-width="0.22" textLength="26.8" lengthAdjust="spacingAndGlyphs">30 μm</text>
<line x1="312.8" y1="43.9" x2="330" y2="43.9" stroke="#f7834a" stroke-width="1.3" stroke-dasharray="3.2 2.6"/>
<text x="332.3" y="47.36" font-size="9.6" stroke="#000" stroke-width="0.22" textLength="93.8" lengthAdjust="spacingAndGlyphs">Tafel fit 35.94 mv/dec</text>
<line x1="262.9" y1="56.2" x2="279.5" y2="56.2" stroke="#a2d4cf" stroke-width="1.3"/>
<circle cx="271.1" cy="56.2" r="3.6" fill="url(#gb50)"/>
<text x="281.6" y="59.66" font-size="9.6" stroke="#000" stroke-width="0.22" textLength="26.8" lengthAdjust="spacingAndGlyphs">50 μm</text>
<line x1="312.8" y1="56.2" x2="330" y2="56.2" stroke="#a2d4cf" stroke-width="1.3" stroke-dasharray="3.2 2.6"/>
<text x="332.3" y="59.66" font-size="9.6" stroke="#000" stroke-width="0.22" textLength="93.8" lengthAdjust="spacingAndGlyphs">Tafel fit 47.35 mv/dec</text>
<rect x="495.9" y="51.58" width="9.45" height="1.82" fill="#e4788a"/>
<rect x="505.35" y="50.12" width="9.45" height="3.28" fill="#96b6f0"/>
<rect x="514.8" y="49.03" width="9.45" height="4.37" fill="#f88850"/>
<rect x="524.25" y="49.03" width="9.45" height="4.37" fill="#a5d4d2"/>
<rect x="542.8" y="49.39" width="9.45" height="4.01" fill="#e4788a"/>
<rect x="552.25" y="46.84" width="9.45" height="6.55" fill="#96b6f0"/>
<rect x="561.7" y="44.3" width="9.45" height="9.1" fill="#f88850"/>
<rect x="571.15" y="44.3" width="9.45" height="9.1" fill="#a5d4d2"/>
<rect x="589.6" y="45.39" width="9.45" height="8.01" fill="#e4788a"/>
<rect x="599.05" y="40.29" width="9.45" height="13.11" fill="#96b6f0"/>
<rect x="608.5" y="35.92" width="9.45" height="17.48" fill="#f88850"/>
<rect x="617.95" y="35.92" width="9.45" height="17.48" fill="#a5d4d2"/>
<rect x="636.9" y="41.75" width="9.45" height="11.65" fill="#e4788a"/>
<rect x="646.35" y="34.83" width="9.45" height="18.57" fill="#96b6f0"/>
<rect x="655.8" y="27.54" width="9.45" height="25.86" fill="#f88850"/>
<rect x="665.25" y="27.54" width="9.45" height="25.86" fill="#a5d4d2"/>
<rect x="491.5" y="9.7" width="187.7" height="43.7" fill="none" stroke="#444" stroke-width="1.1"/>
<line x1="491.5" y1="53.4" x2="494.5" y2="53.4" stroke="#444" stroke-width="1"/>
<line x1="491.5" y1="38.83" x2="494.5" y2="38.83" stroke="#444" stroke-width="1"/>
<line x1="491.5" y1="24.27" x2="494.5" y2="24.27" stroke="#444" stroke-width="1"/>
<line x1="491.5" y1="9.7" x2="494.5" y2="9.7" stroke="#444" stroke-width="1"/>
<line x1="514.8" y1="53.4" x2="514.8" y2="50.4" stroke="#444" stroke-width="1"/>
<line x1="561.7" y1="53.4" x2="561.7" y2="50.4" stroke="#444" stroke-width="1"/>
<line x1="608.5" y1="53.4" x2="608.5" y2="50.4" stroke="#444" stroke-width="1"/>
<line x1="655.8" y1="53.4" x2="655.8" y2="50.4" stroke="#444" stroke-width="1"/>
<text x="487.8" y="56.93" font-size="9.8" text-anchor="end" stroke="#000" stroke-width="0.22">0.00</text>
<text x="487.8" y="42.36" font-size="9.8" text-anchor="end" stroke="#000" stroke-width="0.22">0.40</text>
<text x="487.8" y="27.79" font-size="9.8" text-anchor="end" stroke="#000" stroke-width="0.22">0.80</text>
<text x="487.8" y="13.23" font-size="9.8" text-anchor="end" stroke="#000" stroke-width="0.22">1.20</text>
<rect x="496.4" y="95" width="8.45" height="10.3" fill="url(#h0)" stroke="#e4788a" stroke-width="1"/>
<rect x="505.85" y="97.92" width="8.45" height="7.38" fill="url(#h1)" stroke="#96b6f0" stroke-width="1"/>
<rect x="515.3" y="99.08" width="8.45" height="6.22" fill="url(#h2)" stroke="#f88850" stroke-width="1"/>
<rect x="524.75" y="91.49" width="8.45" height="13.81" fill="url(#h3)" stroke="#a5d4d2" stroke-width="1"/>
<rect x="543.3" y="91.78" width="8.45" height="13.52" fill="url(#h0)" stroke="#e4788a" stroke-width="1"/>
<rect x="552.75" y="95.29" width="8.45" height="10.01" fill="url(#h1)" stroke="#96b6f0" stroke-width="1"/>
<rect x="562.2" y="96.16" width="8.45" height="9.14" fill="url(#h2)" stroke="#f88850" stroke-width="1"/>
<rect x="571.65" y="87.4" width="8.45" height="17.9" fill="url(#h3)" stroke="#a5d4d2" stroke-width="1"/>
<rect x="590.1" y="88.28" width="8.45" height="17.02" fill="url(#h0)" stroke="#e4788a" stroke-width="1"/>
<rect x="599.55" y="92.08" width="8.45" height="13.22" fill="url(#h1)" stroke="#96b6f0" stroke-width="1"/>
<rect x="609" y="92.66" width="8.45" height="12.64" fill="url(#h2)" stroke="#f88850" stroke-width="1"/>
<rect x="618.45" y="83.02" width="8.45" height="22.28" fill="url(#h3)" stroke="#a5d4d2" stroke-width="1"/>
<rect x="637.4" y="85.94" width="8.45" height="19.36" fill="url(#h0)" stroke="#e4788a" stroke-width="1"/>
<rect x="646.85" y="90.62" width="8.45" height="14.68" fill="url(#h1)" stroke="#96b6f0" stroke-width="1"/>
<rect x="656.3" y="90.91" width="8.45" height="14.39" fill="url(#h2)" stroke="#f88850" stroke-width="1"/>
<rect x="665.75" y="80.69" width="8.45" height="24.61" fill="url(#h3)" stroke="#a5d4d2" stroke-width="1"/>
<rect x="491.5" y="61.5" width="187.7" height="43.8" fill="none" stroke="#444" stroke-width="1.1"/>
<line x1="491.5" y1="105.3" x2="494.5" y2="105.3" stroke="#444" stroke-width="1"/>
<line x1="491.5" y1="90.7" x2="494.5" y2="90.7" stroke="#444" stroke-width="1"/>
<line x1="491.5" y1="76.1" x2="494.5" y2="76.1" stroke="#444" stroke-width="1"/>
<line x1="491.5" y1="61.5" x2="494.5" y2="61.5" stroke="#444" stroke-width="1"/>
<line x1="514.8" y1="105.3" x2="514.8" y2="102.3" stroke="#444" stroke-width="1"/>
<line x1="561.7" y1="105.3" x2="561.7" y2="102.3" stroke="#444" stroke-width="1"/>
<line x1="608.5" y1="105.3" x2="608.5" y2="102.3" stroke="#444" stroke-width="1"/>
<line x1="655.8" y1="105.3" x2="655.8" y2="102.3" stroke="#444" stroke-width="1"/>
<text x="487.8" y="108.83" font-size="9.8" text-anchor="end" stroke="#000" stroke-width="0.22">0.30</text>
<text x="487.8" y="94.23" font-size="9.8" text-anchor="end" stroke="#000" stroke-width="0.22">0.35</text>
<text x="487.8" y="79.63" font-size="9.8" text-anchor="end" stroke="#000" stroke-width="0.22">0.40</text>
<text x="487.8" y="65.03" font-size="9.8" text-anchor="end" stroke="#000" stroke-width="0.22">0.45</text>
<rect x="495.9" y="154.97" width="9.45" height="6.13" fill="url(#x0)"/>
<rect x="505.35" y="154.53" width="9.45" height="6.57" fill="url(#x1)"/>
<rect x="514.8" y="152.63" width="9.45" height="8.47" fill="url(#x2)"/>
<rect x="524.25" y="152.05" width="9.45" height="9.05" fill="url(#x3)"/>
<rect x="542.8" y="149.42" width="9.45" height="11.68" fill="url(#x0)"/>
<rect x="552.25" y="146.5" width="9.45" height="14.6" fill="url(#x1)"/>
<rect x="561.7" y="146.21" width="9.45" height="14.89" fill="url(#x2)"/>
<rect x="571.15" y="142.85" width="9.45" height="18.25" fill="url(#x3)"/>
<rect x="589.6" y="145.04" width="9.45" height="16.06" fill="url(#x0)"/>
<rect x="599.05" y="138.47" width="9.45" height="22.63" fill="url(#x1)"/>
<rect x="608.5" y="137.01" width="9.45" height="24.09" fill="url(#x2)"/>
<rect x="617.95" y="131.17" width="9.45" height="29.93" fill="url(#x3)"/>
<rect x="636.9" y="144.6" width="9.45" height="16.5" fill="url(#x0)"/>
<rect x="646.35" y="133.65" width="9.45" height="27.45" fill="url(#x1)"/>
<rect x="655.8" y="130" width="9.45" height="31.1" fill="url(#x2)"/>
<rect x="665.25" y="123.87" width="9.45" height="37.23" fill="url(#x3)"/>
<rect x="491.5" y="117.3" width="187.7" height="43.8" fill="none" stroke="#444" stroke-width="1.1"/>
<line x1="491.5" y1="161.1" x2="494.5" y2="161.1" stroke="#444" stroke-width="1"/>
<line x1="491.5" y1="146.5" x2="494.5" y2="146.5" stroke="#444" stroke-width="1"/>
<line x1="491.5" y1="131.9" x2="494.5" y2="131.9" stroke="#444" stroke-width="1"/>
<line x1="491.5" y1="117.3" x2="494.5" y2="117.3" stroke="#444" stroke-width="1"/>
<line x1="514.8" y1="161.1" x2="514.8" y2="158.1" stroke="#444" stroke-width="1"/>
<line x1="561.7" y1="161.1" x2="561.7" y2="158.1" stroke="#444" stroke-width="1"/>
<line x1="608.5" y1="161.1" x2="608.5" y2="158.1" stroke="#444" stroke-width="1"/>
<line x1="655.8" y1="161.1" x2="655.8" y2="158.1" stroke="#444" stroke-width="1"/>
<text x="487.8" y="164.63" font-size="9.8" text-anchor="end" stroke="#000" stroke-width="0.22">0.00</text>
<text x="487.8" y="150.03" font-size="9.8" text-anchor="end" stroke="#000" stroke-width="0.22">0.10</text>
<text x="487.8" y="135.43" font-size="9.8" text-anchor="end" stroke="#000" stroke-width="0.22">0.20</text>
<text x="487.8" y="120.83" font-size="9.8" text-anchor="end" stroke="#000" stroke-width="0.22">0.30</text>
<text x="503.9" y="22.15" font-size="8.2" stroke="#000" stroke-width="0.22" textLength="23.8" lengthAdjust="spacingAndGlyphs">Ohmic</text>
<rect x="533.8" y="14.7" width="17.2" height="9" fill="#e4788a"/>
<text x="553.2" y="22.15" font-size="8.2" stroke="#000" stroke-width="0.22">5</text>
<rect x="559.6" y="14.7" width="17.2" height="9" fill="#96b6f0"/>
<text x="580.3" y="22.15" font-size="8.2" stroke="#000" stroke-width="0.22">10</text>
<rect x="590.1" y="14.7" width="17.2" height="9" fill="#f88850"/>
<text x="608.9" y="22.15" font-size="8.2" stroke="#000" stroke-width="0.22">30</text>
<rect x="620" y="14.7" width="17.2" height="9" fill="#a5d4d2"/>
<text x="639.6" y="22.15" font-size="8.2" stroke="#000" stroke-width="0.22">50</text>
<text x="497" y="71.55" font-size="8.2" stroke="#000" stroke-width="0.22" textLength="35.3" lengthAdjust="spacingAndGlyphs">Activation</text>
<rect x="534.2" y="64.6" width="16.4" height="7.9" fill="url(#h0)" stroke="#e4788a" stroke-width="1"/>
<text x="553.2" y="71.55" font-size="8.2" stroke="#000" stroke-width="0.22">5</text>
<rect x="560" y="64.6" width="16.4" height="7.9" fill="url(#h1)" stroke="#96b6f0" stroke-width="1"/>
<text x="580.3" y="71.55" font-size="8.2" stroke="#000" stroke-width="0.22">10</text>
<rect x="590.5" y="64.6" width="16.4" height="7.9" fill="url(#h2)" stroke="#f88850" stroke-width="1"/>
<text x="608.9" y="71.55" font-size="8.2" stroke="#000" stroke-width="0.22">30</text>
<rect x="620.4" y="64.6" width="16.4" height="7.9" fill="url(#h3)" stroke="#a5d4d2" stroke-width="1"/>
<text x="639.6" y="71.55" font-size="8.2" stroke="#000" stroke-width="0.22">50</text>
<text x="509.6" y="128.15" font-size="8.2" stroke="#000" stroke-width="0.22" textLength="10.4" lengthAdjust="spacingAndGlyphs">MT</text>
<rect x="533.8" y="120.8" width="17.2" height="8.8" fill="url(#x0)"/>
<text x="553.2" y="128.15" font-size="8.2" stroke="#000" stroke-width="0.22">5</text>
<rect x="559.6" y="120.8" width="17.2" height="8.8" fill="url(#x1)"/>
<text x="580.3" y="128.15" font-size="8.2" stroke="#000" stroke-width="0.22">10</text>
<rect x="590.1" y="120.8" width="17.2" height="8.8" fill="url(#x2)"/>
<text x="608.9" y="128.15" font-size="8.2" stroke="#000" stroke-width="0.22">30</text>
<rect x="620" y="120.8" width="17.2" height="8.8" fill="url(#x3)"/>
<text x="639.6" y="128.15" font-size="8.2" stroke="#000" stroke-width="0.22">50</text>
<text x="651.9" y="22.46" font-size="9.6" font-weight="bold" textLength="20.4" lengthAdjust="spacingAndGlyphs">(μm)</text>
<text x="514.8" y="172.43" font-size="9.8" text-anchor="middle" stroke="#000" stroke-width="0.22">0.5</text>
<text x="561.7" y="172.43" font-size="9.8" text-anchor="middle" stroke="#000" stroke-width="0.22">1</text>
<text x="608.5" y="172.43" font-size="9.8" text-anchor="middle" stroke="#000" stroke-width="0.22">2</text>
<text x="655.8" y="172.43" font-size="9.8" text-anchor="middle" stroke="#000" stroke-width="0.22">3</text>
<text x="455.3" y="8.4" font-size="12" font-weight="bold">c</text>
<text x="462.6" y="83.2" font-size="10" text-anchor="middle" stroke="#000" stroke-width="0.22" textLength="74.2" lengthAdjust="spacingAndGlyphs" transform="rotate(-90 462.6 83.2)">Overpotential (V)</text>
<text x="583.8" y="183.8" font-size="10" text-anchor="middle" stroke="#000" stroke-width="0.22">Current density (A cm<tspan font-size="6.5" dy="-3.8">-2</tspan><tspan dy="3.8">)</tspan></text>
<rect x="15" y="185.4" width="13.3" height="3" fill="#127886"/>
<rect x="38.2" y="185.4" width="13.3" height="3" fill="#127886"/>
<rect x="61.4" y="185.4" width="13.3" height="3" fill="#127886"/>
<rect x="84.6" y="185.4" width="13.3" height="3" fill="#127886"/>
<rect x="107.8" y="185.4" width="13.3" height="3" fill="#127886"/>
<rect x="131" y="185.4" width="13.3" height="3" fill="#127886"/>
<rect x="154.2" y="185.4" width="13.3" height="3" fill="#127886"/>
<rect x="177.4" y="185.4" width="13.3" height="3" fill="#127886"/>
<rect x="200.6" y="185.4" width="13.3" height="3" fill="#127886"/>
<rect x="223.8" y="185.4" width="13.3" height="3" fill="#127886"/>
<rect x="247" y="185.4" width="13.3" height="3" fill="#127886"/>
<rect x="270.2" y="185.4" width="13.3" height="3" fill="#127886"/>
<rect x="293.4" y="185.4" width="13.3" height="3" fill="#127886"/>
<rect x="316.6" y="185.4" width="13.3" height="3" fill="#127886"/>
<rect x="339.8" y="185.4" width="13.3" height="3" fill="#127886"/>
<rect x="363" y="185.4" width="13.3" height="3" fill="#127886"/>
<rect x="386.2" y="185.4" width="13.3" height="3" fill="#127886"/>
<rect x="409.4" y="185.4" width="13.3" height="3" fill="#127886"/>
<rect x="432.6" y="185.4" width="13.3" height="3" fill="#127886"/>
<rect x="455.8" y="185.4" width="13.3" height="3" fill="#127886"/>
<rect x="479" y="185.4" width="13.3" height="3" fill="#127886"/>
<rect x="502.2" y="185.4" width="13.3" height="3" fill="#127886"/>
<rect x="525.4" y="185.4" width="13.3" height="3" fill="#127886"/>
<rect x="548.6" y="185.4" width="13.3" height="3" fill="#127886"/>
<rect x="571.8" y="185.4" width="13.3" height="3" fill="#127886"/>
<rect x="595" y="185.4" width="13.3" height="3" fill="#127886"/>
<rect x="618.2" y="185.4" width="13.3" height="3" fill="#127886"/>
<rect x="641.4" y="185.4" width="13.3" height="3" fill="#127886"/>
<rect x="664.6" y="185.4" width="13.3" height="3" fill="#127886"/>
<rect x="9.1" y="192.3" width="3" height="13.2" fill="#127886"/>
<rect x="9.1" y="215.48" width="3" height="13.2" fill="#127886"/>
<rect x="9.1" y="238.66" width="3" height="13.2" fill="#127886"/>
<rect x="9.1" y="261.84" width="3" height="13.2" fill="#127886"/>
<rect x="9.1" y="285.02" width="3" height="13.2" fill="#127886"/>
<rect x="9.1" y="308.2" width="3" height="13.2" fill="#127886"/>
<rect x="9.1" y="331.38" width="3" height="13.2" fill="#127886"/>
<rect x="9.1" y="354.56" width="3" height="13.2" fill="#127886"/>
<rect x="9.1" y="377.74" width="3" height="13.2" fill="#127886"/>
<rect x="9.1" y="400.92" width="3" height="13.2" fill="#127886"/>
<rect x="9.1" y="424.1" width="3" height="13.2" fill="#127886"/>
<rect x="678.7" y="194.6" width="3" height="13.2" fill="#127886"/>
<rect x="678.7" y="217.78" width="3" height="13.2" fill="#127886"/>
<rect x="678.7" y="240.96" width="3" height="13.2" fill="#127886"/>
<rect x="678.7" y="264.14" width="3" height="13.2" fill="#127886"/>
<rect x="678.7" y="287.32" width="3" height="13.2" fill="#127886"/>
<rect x="678.7" y="310.5" width="3" height="13.2" fill="#127886"/>
<rect x="678.7" y="333.68" width="3" height="13.2" fill="#127886"/>
<rect x="678.7" y="356.86" width="3" height="13.2" fill="#127886"/>
<rect x="678.7" y="380.04" width="3" height="13.2" fill="#127886"/>
<rect x="678.7" y="403.22" width="3" height="13.2" fill="#127886"/>
<rect x="678.7" y="426.4" width="3" height="12.4" fill="#127886"/>
<rect x="9.1" y="435.8" width="9.6" height="3" fill="#127886"/>
<rect x="28.4" y="435.8" width="13.3" height="3" fill="#127886"/>
<rect x="51.6" y="435.8" width="13.3" height="3" fill="#127886"/>
<rect x="74.8" y="435.8" width="13.3" height="3" fill="#127886"/>
<rect x="98" y="435.8" width="13.3" height="3" fill="#127886"/>
<rect x="121.2" y="435.8" width="13.3" height="3" fill="#127886"/>
<rect x="144.4" y="435.8" width="13.3" height="3" fill="#127886"/>
<rect x="167.6" y="435.8" width="13.3" height="3" fill="#127886"/>
<rect x="190.8" y="435.8" width="13.3" height="3" fill="#127886"/>
<rect x="214" y="435.8" width="13.3" height="3" fill="#127886"/>
<rect x="237.2" y="435.8" width="13.3" height="3" fill="#127886"/>
<rect x="260.4" y="435.8" width="13.3" height="3" fill="#127886"/>
<rect x="283.6" y="435.8" width="13.3" height="3" fill="#127886"/>
<rect x="306.8" y="435.8" width="13.3" height="3" fill="#127886"/>
<rect x="330" y="435.8" width="13.3" height="3" fill="#127886"/>
<rect x="353.2" y="435.8" width="13.3" height="3" fill="#127886"/>
<rect x="376.4" y="435.8" width="13.3" height="3" fill="#127886"/>
<rect x="399.6" y="435.8" width="13.3" height="3" fill="#127886"/>
<rect x="422.8" y="435.8" width="13.3" height="3" fill="#127886"/>
<rect x="446" y="435.8" width="13.3" height="3" fill="#127886"/>
<rect x="469.2" y="435.8" width="13.3" height="3" fill="#127886"/>
<rect x="492.4" y="435.8" width="13.3" height="3" fill="#127886"/>
<rect x="515.6" y="435.8" width="13.3" height="3" fill="#127886"/>
<rect x="538.8" y="435.8" width="13.3" height="3" fill="#127886"/>
<rect x="562" y="435.8" width="13.3" height="3" fill="#127886"/>
<rect x="585.2" y="435.8" width="13.3" height="3" fill="#127886"/>
<rect x="608.4" y="435.8" width="13.3" height="3" fill="#127886"/>
<rect x="631.6" y="435.8" width="13.3" height="3" fill="#127886"/>
<rect x="654.8" y="435.8" width="13.3" height="3" fill="#127886"/>
<rect x="678" y="435.8" width="0.5" height="3" fill="#127886"/>
<g clip-path="url(#c1)"><g filter="url(#sblur)"><rect x="11.2" y="197.3" width="121.8" height="115.3" fill="#4a4a4a"/><path d="M66.2,259.6Q29.1,293.7 -8.1,327.7" fill="none" stroke="rgb(71,71,71)" stroke-width="2"/><path d="M66.2,259.6Q29.1,293.7 -8.1,327.7" fill="none" stroke="rgb(146,146,146)" stroke-width="1.1"/><path d="M9.6,201.1Q106.4,206.5 202.6,218.4" fill="none" stroke="rgb(47,47,47)" stroke-width="2.2"/><path d="M9.6,201.1Q106.4,206.5 202.6,218.4" fill="none" stroke="rgb(122,122,122)" stroke-width="1.3"/><path d="M158,183.9Q104.1,241.4 32.4,274" fill="none" stroke="rgb(48,48,48)" stroke-width="1.9"/><path d="M158,183.9Q104.1,241.4 32.4,274" fill="none" stroke="rgb(123,123,123)" stroke-width="1"/><path d="M75.6,248.1Q17.8,268 -43.2,271.1" fill="none" stroke="rgb(48,48,48)" stroke-width="2"/><path d="M75.6,248.1Q17.8,268 -43.2,271.1" fill="none" stroke="rgb(123,123,123)" stroke-width="1.1"/><path d="M148.2,270.2Q76.4,289.9 2.5,298.4" fill="none" stroke="rgb(76,76,76)" stroke-width="2.2"/><path d="M148.2,270.2Q76.4,289.9 2.5,298.4" fill="none" stroke="rgb(151,151,151)" stroke-width="1.3"/><path d="M98.5,202.7Q104.3,308.1 152.3,402.2" fill="none" stroke="rgb(65,65,65)" stroke-width="1.8"/><path d="M98.5,202.7Q104.3,308.1 152.3,402.2" fill="none" stroke="rgb(140,140,140)" stroke-width="0.9"/><path d="M83.1,169.6Q12.9,224.2 -28.3,303" fill="none" stroke="rgb(59,59,59)" stroke-width="2"/><path d="M83.1,169.6Q12.9,224.2 -28.3,303" fill="none" stroke="rgb(134,134,134)" stroke-width="1.1"/><path d="M140,229.4Q48.8,264.5 -42.2,300" fill="none" stroke="rgb(49,49,49)" stroke-width="2.1"/><path d="M140,229.4Q48.8,264.5 -42.2,300" fill="none" stroke="rgb(124,124,124)" stroke-width="1.2"/><path d="M45.1,202.6Q75,280.4 94.4,361.5" fill="none" stroke="rgb(70,70,70)" stroke-width="2.3"/><path d="M45.1,202.6Q75,280.4 94.4,361.5" fill="none" stroke="rgb(145,145,145)" stroke-width="1.4"/><path d="M-17.3,258.8Q20.9,280.1 64,287.5" fill="none" stroke="rgb(48,48,48)" stroke-width="2"/><path d="M-17.3,258.8Q20.9,280.1 64,287.5" fill="none" stroke="rgb(123,123,123)" stroke-width="1.1"/><path d="M138.8,197.3Q67.1,230.9 -1.9,270" fill="none" stroke="rgb(57,57,57)" stroke-width="2.1"/><path d="M138.8,197.3Q67.1,230.9 -1.9,270" fill="none" stroke="rgb(132,132,132)" stroke-width="1.2"/><path d="M127.3,260.3Q63.7,298.7 17.4,356.9" fill="none" stroke="rgb(79,79,79)" stroke-width="1.9"/><path d="M127.3,260.3Q63.7,298.7 17.4,356.9" fill="none" stroke="rgb(154,154,154)" stroke-width="1"/><path d="M8,201.6Q46.4,297.3 99.4,385.7" fill="none" stroke="rgb(47,47,47)" stroke-width="2.1"/><path d="M8,201.6Q46.4,297.3 99.4,385.7" fill="none" stroke="rgb(122,122,122)" stroke-width="1.2"/><path d="M162.4,279.8Q58.3,294 -45.6,309.6" fill="none" stroke="rgb(82,82,82)" stroke-width="1.8"/><path d="M162.4,279.8Q58.3,294 -45.6,309.6" fill="none" stroke="rgb(157,157,157)" stroke-width="0.9"/><path d="M33.9,245.9Q35.8,305.1 40.9,364.1" fill="none" stroke="rgb(73,73,73)" stroke-width="2.3"/><path d="M33.9,245.9Q35.8,305.1 40.9,364.1" fill="none" stroke="rgb(148,148,148)" stroke-width="1.4"/><path d="M36.3,174.3Q66.3,241.1 104.3,303.7" fill="none" stroke="rgb(76,76,76)" stroke-width="2.1"/><path d="M36.3,174.3Q66.3,241.1 104.3,303.7" fill="none" stroke="rgb(151,151,151)" stroke-width="1.2"/><path d="M114.4,221.4Q94.6,293.7 53.3,356.3" fill="none" stroke="rgb(82,82,82)" stroke-width="1.8"/><path d="M114.4,221.4Q94.6,293.7 53.3,356.3" fill="none" stroke="rgb(157,157,157)" stroke-width="0.9"/><path d="M39.4,220.2Q101,296 174.8,360.1" fill="none" stroke="rgb(48,48,48)" stroke-width="1.8"/><path d="M39.4,220.2Q101,296 174.8,360.1" fill="none" stroke="rgb(123,123,123)" stroke-width="0.9"/><path d="M33.9,243.4Q60.6,288.1 99.2,323" fill="none" stroke="rgb(65,65,65)" stroke-width="1.9"/><path d="M33.9,243.4Q60.6,288.1 99.2,323" fill="none" stroke="rgb(140,140,140)" stroke-width="1"/><path d="M25.1,173.8Q26.3,217.5 17.7,260.4" fill="none" stroke="rgb(76,76,76)" stroke-width="2.2"/><path d="M25.1,173.8Q26.3,217.5 17.7,260.4" fill="none" stroke="rgb(151,151,151)" stroke-width="1.3"/><path d="M44.5,235.3Q97.5,250.5 147.4,273.9" fill="none" stroke="rgb(63,63,63)" stroke-width="2.2"/><path d="M44.5,235.3Q97.5,250.5 147.4,273.9" fill="none" stroke="rgb(138,138,138)" stroke-width="1.3"/><path d="M27.5,252.7Q23.5,299.4 24.5,346.2" fill="none" stroke="rgb(48,48,48)" stroke-width="2.2"/><path d="M27.5,252.7Q23.5,299.4 24.5,346.2" fill="none" stroke="rgb(123,123,123)" stroke-width="1.3"/><path d="M-66.4,231.7Q40.1,240.6 145.9,255.3" fill="none" stroke="rgb(74,74,74)" stroke-width="2.1"/><path d="M-66.4,231.7Q40.1,240.6 145.9,255.3" fill="none" stroke="rgb(149,149,149)" stroke-width="1.2"/><path d="M170.9,216.7Q77.3,223.1 -16.2,231" fill="none" stroke="rgb(48,48,48)" stroke-width="1.9"/><path d="M170.9,216.7Q77.3,223.1 -16.2,231" fill="none" stroke="rgb(123,123,123)" stroke-width="1"/><path d="M16.9,195.3Q74.7,253.9 102.6,331.5" fill="none" stroke="rgb(60,60,60)" stroke-width="1.9"/><path d="M16.9,195.3Q74.7,253.9 102.6,331.5" fill="none" stroke="rgb(135,135,135)" stroke-width="1"/><path d="M165.8,209.8Q111.2,222.5 66.8,257" fill="none" stroke="rgb(73,73,73)" stroke-width="2.2"/><path d="M165.8,209.8Q111.2,222.5 66.8,257" fill="none" stroke="rgb(148,148,148)" stroke-width="1.3"/><path d="M98.3,117.5Q75.4,213 61.2,310.1" fill="none" stroke="rgb(83,83,83)" stroke-width="1.9"/><path d="M98.3,117.5Q75.4,213 61.2,310.1" fill="none" stroke="rgb(158,158,158)" stroke-width="1"/><path d="M152.3,254.7Q65.2,286.2 -17.3,328.2" fill="none" stroke="rgb(59,59,59)" stroke-width="1.8"/><path d="M152.3,254.7Q65.2,286.2 -17.3,328.2" fill="none" stroke="rgb(134,134,134)" stroke-width="0.9"/><path d="M87.7,167Q62.5,227.3 20.4,277.4" fill="none" stroke="rgb(71,71,71)" stroke-width="1.8"/><path d="M87.7,167Q62.5,227.3 20.4,277.4" fill="none" stroke="rgb(146,146,146)" stroke-width="0.9"/><path d="M-3.9,169.8Q31.1,265.3 100.1,340" fill="none" stroke="rgb(59,59,59)" stroke-width="1.8"/><path d="M-3.9,169.8Q31.1,265.3 100.1,340" fill="none" stroke="rgb(134,134,134)" stroke-width="0.9"/><path d="M122.3,249.6Q115.6,289.9 106.2,329.6" fill="none" stroke="rgb(53,53,53)" stroke-width="1.9"/><path d="M122.3,249.6Q115.6,289.9 106.2,329.6" fill="none" stroke="rgb(128,128,128)" stroke-width="1"/><path d="M64.5,214.3Q103.6,307.5 159.3,391.8" fill="none" stroke="rgb(81,81,81)" stroke-width="2"/><path d="M64.5,214.3Q103.6,307.5 159.3,391.8" fill="none" stroke="rgb(156,156,156)" stroke-width="1.1"/><path d="M-1.2,268.6Q38.5,288.7 82.9,291.5" fill="none" stroke="rgb(68,68,68)" stroke-width="1.9"/><path d="M-1.2,268.6Q38.5,288.7 82.9,291.5" fill="none" stroke="rgb(143,143,143)" stroke-width="1"/><path d="M60.9,240.5Q89.4,290.5 106.9,345.3" fill="none" stroke="rgb(78,78,78)" stroke-width="2.3"/><path d="M60.9,240.5Q89.4,290.5 106.9,345.3" fill="none" stroke="rgb(153,153,153)" stroke-width="1.4"/><path d="M-2.2,250Q31.4,254 60.5,271.3" fill="none" stroke="rgb(56,56,56)" stroke-width="2.3"/><path d="M-2.2,250Q31.4,254 60.5,271.3" fill="none" stroke="rgb(131,131,131)" stroke-width="1.4"/><path d="M143.6,150.7Q116.1,239.2 78,323.8" fill="none" stroke="rgb(61,61,61)" stroke-width="2.1"/><path d="M143.6,150.7Q116.1,239.2 78,323.8" fill="none" stroke="rgb(136,136,136)" stroke-width="1.2"/><path d="M57.8,256.4Q79,305.7 102,354.2" fill="none" stroke="rgb(64,64,64)" stroke-width="1.8"/><path d="M57.8,256.4Q79,305.7 102,354.2" fill="none" stroke="rgb(139,139,139)" stroke-width="0.9"/><path d="M-21.5,141Q41.3,192.9 73.2,267.8" fill="none" stroke="rgb(49,49,49)" stroke-width="2"/><path d="M-21.5,141Q41.3,192.9 73.2,267.8" fill="none" stroke="rgb(124,124,124)" stroke-width="1.1"/><path d="M46.9,245.4Q36.4,287 23.8,328.1" fill="none" stroke="rgb(57,57,57)" stroke-width="2.2"/><path d="M46.9,245.4Q36.4,287 23.8,328.1" fill="none" stroke="rgb(132,132,132)" stroke-width="1.3"/><path d="M158.8,194.1Q96.9,197.1 42.9,227.4" fill="none" stroke="rgb(65,65,65)" stroke-width="2.3"/><path d="M158.8,194.1Q96.9,197.1 42.9,227.4" fill="none" stroke="rgb(140,140,140)" stroke-width="1.4"/><path d="M52.4,239.6Q81.6,276.2 103.7,317.4" fill="none" stroke="rgb(65,65,65)" stroke-width="1.8"/><path d="M52.4,239.6Q81.6,276.2 103.7,317.4" fill="none" stroke="rgb(140,140,140)" stroke-width="0.9"/><path d="M78,176.6Q111.5,230.4 119.5,293.3" fill="none" stroke="rgb(76,76,76)" stroke-width="1.9"/><path d="M78,176.6Q111.5,230.4 119.5,293.3" fill="none" stroke="rgb(151,151,151)" stroke-width="1"/><path d="M65.5,122.2Q24.2,222.4 -12.9,324.3" fill="none" stroke="rgb(69,69,69)" stroke-width="2.2"/><path d="M65.5,122.2Q24.2,222.4 -12.9,324.3" fill="none" stroke="rgb(144,144,144)" stroke-width="1.3"/><path d="M15.4,218.7Q52.3,253.7 72,300.5" fill="none" stroke="rgb(75,75,75)" stroke-width="1.9"/><path d="M15.4,218.7Q52.3,253.7 72,300.5" fill="none" stroke="rgb(150,150,150)" stroke-width="1"/><path d="M0.5,221.1Q14,268.7 47.2,305.4" fill="none" stroke="rgb(58,58,58)" stroke-width="1.8"/><path d="M0.5,221.1Q14,268.7 47.2,305.4" fill="none" stroke="rgb(133,133,133)" stroke-width="0.9"/><path d="M101.7,275.8Q52,297.8 -0.7,311.4" fill="none" stroke="rgb(52,52,52)" stroke-width="2.1"/><path d="M101.7,275.8Q52,297.8 -0.7,311.4" fill="none" stroke="rgb(127,127,127)" stroke-width="1.2"/><path d="M16.3,176.8Q41.4,202.2 67.9,226.4" fill="none" stroke="rgb(51,51,51)" stroke-width="1.8"/><path d="M16.3,176.8Q41.4,202.2 67.9,226.4" fill="none" stroke="rgb(126,126,126)" stroke-width="0.9"/><path d="M57.4,159Q16.4,201.1 -25.9,241.8" fill="none" stroke="rgb(53,53,53)" stroke-width="2.3"/><path d="M57.4,159Q16.4,201.1 -25.9,241.8" fill="none" stroke="rgb(128,128,128)" stroke-width="1.4"/><path d="M-30.6,262.4Q76.4,271 175.1,313.2" fill="none" stroke="rgb(56,56,56)" stroke-width="2.2"/><path d="M-30.6,262.4Q76.4,271 175.1,313.2" fill="none" stroke="rgb(131,131,131)" stroke-width="1.3"/><path d="M42.8,211.4Q105.1,249 177.2,258.3" fill="none" stroke="rgb(60,60,60)" stroke-width="1.9"/><path d="M42.8,211.4Q105.1,249 177.2,258.3" fill="none" stroke="rgb(135,135,135)" stroke-width="1"/><path d="M-25.1,295.1Q28.8,311.7 84.9,306.1" fill="none" stroke="rgb(82,82,82)" stroke-width="2.2"/><path d="M-25.1,295.1Q28.8,311.7 84.9,306.1" fill="none" stroke="rgb(157,157,157)" stroke-width="1.3"/><path d="M137.1,245.7Q113.5,283.2 87.4,319" fill="none" stroke="rgb(62,62,62)" stroke-width="1.8"/><path d="M137.1,245.7Q113.5,283.2 87.4,319" fill="none" stroke="rgb(137,137,137)" stroke-width="0.9"/><path d="M137,195.6Q42.7,204.2 -51.1,217.3" fill="none" stroke="rgb(81,81,81)" stroke-width="2.1"/><path d="M137,195.6Q42.7,204.2 -51.1,217.3" fill="none" stroke="rgb(156,156,156)" stroke-width="1.2"/><path d="M42,199.1Q77.1,237.5 91.2,287.6" fill="none" stroke="rgb(73,73,73)" stroke-width="2.1"/><path d="M42,199.1Q77.1,237.5 91.2,287.6" fill="none" stroke="rgb(148,148,148)" stroke-width="1.2"/><path d="M171.5,138.4Q125.3,199.4 84.9,264.4" fill="none" stroke="rgb(64,64,64)" stroke-width="1.8"/><path d="M171.5,138.4Q125.3,199.4 84.9,264.4" fill="none" stroke="rgb(139,139,139)" stroke-width="0.9"/><path d="M76.9,198.3Q71.3,248.1 43.2,289.6" fill="none" stroke="rgb(79,79,79)" stroke-width="2.1"/><path d="M76.9,198.3Q71.3,248.1 43.2,289.6" fill="none" stroke="rgb(154,154,154)" stroke-width="1.2"/><path d="M197.6,284.1Q120.8,312.6 39.2,319.4" fill="none" stroke="rgb(77,77,77)" stroke-width="1.9"/><path d="M197.6,284.1Q120.8,312.6 39.2,319.4" fill="none" stroke="rgb(152,152,152)" stroke-width="1"/><path d="M87.2,209.9Q118,283.1 164.6,347.4" fill="none" stroke="rgb(61,61,61)" stroke-width="2.1"/><path d="M87.2,209.9Q118,283.1 164.6,347.4" fill="none" stroke="rgb(136,136,136)" stroke-width="1.2"/><path d="M22.6,107.1Q35.9,207.9 15.2,307.4" fill="none" stroke="rgb(60,60,60)" stroke-width="2.2"/><path d="M22.6,107.1Q35.9,207.9 15.2,307.4" fill="none" stroke="rgb(135,135,135)" stroke-width="1.3"/><path d="M103.1,249.1Q47.2,271 -3.2,303.7" fill="none" stroke="rgb(52,52,52)" stroke-width="2.2"/><path d="M103.1,249.1Q47.2,271 -3.2,303.7" fill="none" stroke="rgb(127,127,127)" stroke-width="1.3"/><path d="M189.2,289.6Q115.6,311.2 39,308.6" fill="none" stroke="rgb(60,60,60)" stroke-width="1.9"/><path d="M189.2,289.6Q115.6,311.2 39,308.6" fill="none" stroke="rgb(135,135,135)" stroke-width="1"/><path d="M178.1,235.4Q126.5,282.3 70.2,323.4" fill="none" stroke="rgb(71,71,71)" stroke-width="2.1"/><path d="M178.1,235.4Q126.5,282.3 70.2,323.4" fill="none" stroke="rgb(146,146,146)" stroke-width="1.2"/><path d="M95.9,192.7Q67.9,212.4 51.9,242.6" fill="none" stroke="rgb(53,53,53)" stroke-width="2.2"/><path d="M95.9,192.7Q67.9,212.4 51.9,242.6" fill="none" stroke="rgb(128,128,128)" stroke-width="1.3"/><path d="M85.5,295.7Q44,295.3 3.9,306.1" fill="none" stroke="rgb(52,52,52)" stroke-width="2.3"/><path d="M85.5,295.7Q44,295.3 3.9,306.1" fill="none" stroke="rgb(127,127,127)" stroke-width="1.4"/><path d="M126,296.7Q64.8,293 5.3,307.6" fill="none" stroke="rgb(57,57,57)" stroke-width="2"/><path d="M126,296.7Q64.8,293 5.3,307.6" fill="none" stroke="rgb(132,132,132)" stroke-width="1.1"/><path d="M146.3,184.1Q129.6,251.8 94.5,312.1" fill="none" stroke="rgb(81,81,81)" stroke-width="2"/><path d="M146.3,184.1Q129.6,251.8 94.5,312.1" fill="none" stroke="rgb(156,156,156)" stroke-width="1.1"/><path d="M31.4,172.5Q56.3,216.2 91.2,252.4" fill="none" stroke="rgb(59,59,59)" stroke-width="1.8"/><path d="M31.4,172.5Q56.3,216.2 91.2,252.4" fill="none" stroke="rgb(134,134,134)" stroke-width="0.9"/><path d="M-31.9,253.3Q76.8,249.9 182.8,274.2" fill="none" stroke="rgb(58,58,58)" stroke-width="1.9"/><path d="M-31.9,253.3Q76.8,249.9 182.8,274.2" fill="none" stroke="rgb(133,133,133)" stroke-width="1"/><path d="M-3.5,201.5Q54,253.4 97,317.8" fill="none" stroke="rgb(57,57,57)" stroke-width="2.2"/><path d="M-3.5,201.5Q54,253.4 97,317.8" fill="none" stroke="rgb(132,132,132)" stroke-width="1.3"/><path d="M159.7,213.8Q76,251 -4.8,294" fill="none" stroke="rgb(65,65,65)" stroke-width="2"/><path d="M159.7,213.8Q76,251 -4.8,294" fill="none" stroke="rgb(140,140,140)" stroke-width="1.1"/><path d="M33.4,294.2Q110.1,281.6 184,305.6" fill="none" stroke="rgb(55,55,55)" stroke-width="1.9"/><path d="M33.4,294.2Q110.1,281.6 184,305.6" fill="none" stroke="rgb(130,130,130)" stroke-width="1"/><path d="M75.3,203.6Q18.8,236.2 -31.2,278.2" fill="none" stroke="rgb(67,67,67)" stroke-width="2.2"/><path d="M75.3,203.6Q18.8,236.2 -31.2,278.2" fill="none" stroke="rgb(142,142,142)" stroke-width="1.3"/><path d="M4.7,194.8Q16,248.1 21.9,302.2" fill="none" stroke="rgb(83,83,83)" stroke-width="2.2"/><path d="M4.7,194.8Q16,248.1 21.9,302.2" fill="none" stroke="rgb(158,158,158)" stroke-width="1.3"/><path d="M53.8,228.5Q81.8,267.1 88.6,314.3" fill="none" stroke="rgb(79,79,79)" stroke-width="1.9"/><path d="M53.8,228.5Q81.8,267.1 88.6,314.3" fill="none" stroke="rgb(154,154,154)" stroke-width="1"/><path d="M58.9,234.3Q21.8,297.2 14.4,369.9" fill="none" stroke="rgb(66,66,66)" stroke-width="2.2"/><path d="M58.9,234.3Q21.8,297.2 14.4,369.9" fill="none" stroke="rgb(141,141,141)" stroke-width="1.3"/><path d="M119.2,209.8Q95.5,249 72.8,288.8" fill="none" stroke="rgb(74,74,74)" stroke-width="2.2"/><path d="M119.2,209.8Q95.5,249 72.8,288.8" fill="none" stroke="rgb(149,149,149)" stroke-width="1.3"/><path d="M167.8,136.5Q117.5,232.7 87.2,336.9" fill="none" stroke="rgb(51,51,51)" stroke-width="2.3"/><path d="M167.8,136.5Q117.5,232.7 87.2,336.9" fill="none" stroke="rgb(126,126,126)" stroke-width="1.4"/><path d="M106.2,208.2Q66.4,280 36.3,356.4" fill="none" stroke="rgb(56,56,56)" stroke-width="2"/><path d="M106.2,208.2Q66.4,280 36.3,356.4" fill="none" stroke="rgb(131,131,131)" stroke-width="1.1"/><path d="M163.6,241.9Q79.6,293.5 12.1,365.3" fill="none" stroke="rgb(47,47,47)" stroke-width="2.2"/><path d="M163.6,241.9Q79.6,293.5 12.1,365.3" fill="none" stroke="rgb(122,122,122)" stroke-width="1.3"/><path d="M115.1,149.4Q52.6,227.4 -6.4,308.1" fill="none" stroke="rgb(63,63,63)" stroke-width="1.8"/><path d="M115.1,149.4Q52.6,227.4 -6.4,308.1" fill="none" stroke="rgb(138,138,138)" stroke-width="0.9"/><path d="M0.2,241.2Q69,259.9 140.4,261.4" fill="none" stroke="rgb(69,69,69)" stroke-width="2"/><path d="M0.2,241.2Q69,259.9 140.4,261.4" fill="none" stroke="rgb(144,144,144)" stroke-width="1.1"/><path d="M-54.4,205.7Q28.3,235.8 96.6,291.4" fill="none" stroke="rgb(64,64,64)" stroke-width="1.8"/><path d="M-54.4,205.7Q28.3,235.8 96.6,291.4" fill="none" stroke="rgb(139,139,139)" stroke-width="0.9"/><path d="M4.3,161.3Q91.5,213.3 164.6,283.8" fill="none" stroke="rgb(80,80,80)" stroke-width="1.8"/><path d="M4.3,161.3Q91.5,213.3 164.6,283.8" fill="none" stroke="rgb(155,155,155)" stroke-width="0.9"/><path d="M96.9,218Q94.2,252 84.7,284.8" fill="none" stroke="rgb(82,82,82)" stroke-width="2.2"/><path d="M96.9,218Q94.2,252 84.7,284.8" fill="none" stroke="rgb(157,157,157)" stroke-width="1.3"/><path d="M-10.9,217.3Q53.2,258 100.8,317" fill="none" stroke="rgb(68,68,68)" stroke-width="2.2"/><path d="M-10.9,217.3Q53.2,258 100.8,317" fill="none" stroke="rgb(143,143,143)" stroke-width="1.3"/><path d="M114.3,181.5Q93.8,226.8 80.8,274.7" fill="none" stroke="rgb(72,72,72)" stroke-width="2.3"/><path d="M114.3,181.5Q93.8,226.8 80.8,274.7" fill="none" stroke="rgb(147,147,147)" stroke-width="1.4"/><path d="M118.5,184.1Q60.3,257.9 -17.5,310.6" fill="none" stroke="rgb(57,57,57)" stroke-width="2.1"/><path d="M118.5,184.1Q60.3,257.9 -17.5,310.6" fill="none" stroke="rgb(132,132,132)" stroke-width="1.2"/><path d="M142.3,162.5Q133.6,268.4 89.3,365" fill="none" stroke="rgb(76,76,76)" stroke-width="2.3"/><path d="M142.3,162.5Q133.6,268.4 89.3,365" fill="none" stroke="rgb(151,151,151)" stroke-width="1.4"/><path d="M-3.9,178Q77.8,209.2 154.4,251.4" fill="none" stroke="rgb(62,62,62)" stroke-width="2.2"/><path d="M-3.9,178Q77.8,209.2 154.4,251.4" fill="none" stroke="rgb(137,137,137)" stroke-width="1.3"/><path d="M46,192.4Q30.9,224.9 7.7,252.1" fill="none" stroke="rgb(53,53,53)" stroke-width="1.9"/><path d="M46,192.4Q30.9,224.9 7.7,252.1" fill="none" stroke="rgb(128,128,128)" stroke-width="1"/><path d="M152.1,186.4Q123.5,201 99.4,222.3" fill="none" stroke="rgb(78,78,78)" stroke-width="2.2"/><path d="M152.1,186.4Q123.5,201 99.4,222.3" fill="none" stroke="rgb(153,153,153)" stroke-width="1.3"/><path d="M174.7,281.1Q96.8,296.2 17.6,298.9" fill="none" stroke="rgb(54,54,54)" stroke-width="2.3"/><path d="M174.7,281.1Q96.8,296.2 17.6,298.9" fill="none" stroke="rgb(129,129,129)" stroke-width="1.4"/><path d="M48.2,187.3Q86.2,217.6 122.7,249.8" fill="none" stroke="rgb(61,61,61)" stroke-width="2.2"/><path d="M48.2,187.3Q86.2,217.6 122.7,249.8" fill="none" stroke="rgb(136,136,136)" stroke-width="1.3"/><path d="M50,170.4Q42.4,231.1 32,291.4" fill="none" stroke="rgb(78,78,78)" stroke-width="1.9"/><path d="M50,170.4Q42.4,231.1 32,291.4" fill="none" stroke="rgb(153,153,153)" stroke-width="1"/><path d="M116.8,299.9Q83,295.5 49.4,301.1" fill="none" stroke="rgb(67,67,67)" stroke-width="2.3"/><path d="M116.8,299.9Q83,295.5 49.4,301.1" fill="none" stroke="rgb(142,142,142)" stroke-width="1.4"/><path d="M89.6,257.8Q124,288.9 146.2,329.5" fill="none" stroke="rgb(56,56,56)" stroke-width="2.2"/><path d="M89.6,257.8Q124,288.9 146.2,329.5" fill="none" stroke="rgb(131,131,131)" stroke-width="1.3"/><path d="M72,108.8Q104.7,203.4 141.4,296.6" fill="none" stroke="rgb(63,63,63)" stroke-width="2.1"/><path d="M72,108.8Q104.7,203.4 141.4,296.6" fill="none" stroke="rgb(138,138,138)" stroke-width="1.2"/><path d="M118.3,201.4Q40,271.7 -61.3,300.2" fill="none" stroke="rgb(55,55,55)" stroke-width="1.8"/><path d="M118.3,201.4Q40,271.7 -61.3,300.2" fill="none" stroke="rgb(130,130,130)" stroke-width="0.9"/><path d="M-16.5,216.3Q21.4,221.5 53,243.2" fill="none" stroke="rgb(64,64,64)" stroke-width="2.1"/><path d="M-16.5,216.3Q21.4,221.5 53,243.2" fill="none" stroke="rgb(139,139,139)" stroke-width="1.2"/><path d="M124.1,240.1Q90.6,291.5 64.1,346.7" fill="none" stroke="rgb(62,62,62)" stroke-width="2.3"/><path d="M124.1,240.1Q90.6,291.5 64.1,346.7" fill="none" stroke="rgb(137,137,137)" stroke-width="1.4"/><path d="M76.7,237.5Q43.1,266 7.5,291.9" fill="none" stroke="rgb(80,80,80)" stroke-width="2.2"/><path d="M76.7,237.5Q43.1,266 7.5,291.9" fill="none" stroke="rgb(155,155,155)" stroke-width="1.3"/><path d="M138.1,227.8Q119.7,298.9 116.6,372.3" fill="none" stroke="rgb(51,51,51)" stroke-width="2.1"/><path d="M138.1,227.8Q119.7,298.9 116.6,372.3" fill="none" stroke="rgb(126,126,126)" stroke-width="1.2"/><path d="M155,212.7Q105.9,289.2 39.5,351.3" fill="none" stroke="rgb(56,56,56)" stroke-width="2.3"/><path d="M155,212.7Q105.9,289.2 39.5,351.3" fill="none" stroke="rgb(131,131,131)" stroke-width="1.4"/><path d="M12.6,189.2Q17.9,222.4 27.6,254.7" fill="none" stroke="rgb(79,79,79)" stroke-width="2.3"/><path d="M12.6,189.2Q17.9,222.4 27.6,254.7" fill="none" stroke="rgb(154,154,154)" stroke-width="1.4"/><path d="M101.6,238.9Q68.4,240 35.3,242.1" fill="none" stroke="rgb(55,55,55)" stroke-width="2"/><path d="M101.6,238.9Q68.4,240 35.3,242.1" fill="none" stroke="rgb(130,130,130)" stroke-width="1.1"/><path d="M181.1,263.7Q116.2,276.9 56.3,304.8" fill="none" stroke="rgb(63,63,63)" stroke-width="1.9"/><path d="M181.1,263.7Q116.2,276.9 56.3,304.8" fill="none" stroke="rgb(138,138,138)" stroke-width="1"/><path d="M47.1,202.3Q106.7,215.9 167.9,215.4" fill="none" stroke="rgb(55,55,55)" stroke-width="1.9"/><path d="M47.1,202.3Q106.7,215.9 167.9,215.4" fill="none" stroke="rgb(130,130,130)" stroke-width="1"/><path d="M-34.7,211.3Q50,225.7 122.4,271.9" fill="none" stroke="rgb(79,79,79)" stroke-width="2.3"/><path d="M-34.7,211.3Q50,225.7 122.4,271.9" fill="none" stroke="rgb(154,154,154)" stroke-width="1.4"/><path d="M33.8,155Q60.3,246.3 123.8,317.1" fill="none" stroke="rgb(53,53,53)" stroke-width="2.1"/><path d="M33.8,155Q60.3,246.3 123.8,317.1" fill="none" stroke="rgb(128,128,128)" stroke-width="1.2"/><path d="M34,215.5Q15.7,289 22.9,364.5" fill="none" stroke="rgb(80,80,80)" stroke-width="2.1"/><path d="M34,215.5Q15.7,289 22.9,364.5" fill="none" stroke="rgb(155,155,155)" stroke-width="1.2"/><path d="M122.3,272.2Q80.9,307 30.3,326" fill="none" stroke="rgb(80,80,80)" stroke-width="2"/><path d="M122.3,272.2Q80.9,307 30.3,326" fill="none" stroke="rgb(155,155,155)" stroke-width="1.1"/><path d="M18.9,231.3Q52.8,241.6 83.8,258.5" fill="none" stroke="rgb(81,81,81)" stroke-width="2.2"/><path d="M18.9,231.3Q52.8,241.6 83.8,258.5" fill="none" stroke="rgb(156,156,156)" stroke-width="1.3"/><path d="M25.1,182.4Q43.9,235.6 75.2,282.6" fill="none" stroke="rgb(80,80,80)" stroke-width="2.1"/><path d="M25.1,182.4Q43.9,235.6 75.2,282.6" fill="none" stroke="rgb(155,155,155)" stroke-width="1.2"/><path d="M88.2,164.4Q25,232.4 -33.1,304.8" fill="none" stroke="rgb(64,64,64)" stroke-width="2"/><path d="M88.2,164.4Q25,232.4 -33.1,304.8" fill="none" stroke="rgb(139,139,139)" stroke-width="1.1"/><path d="M174.5,276.7Q65.9,284.4 -35.1,325.2" fill="none" stroke="rgb(50,50,50)" stroke-width="2.3"/><path d="M174.5,276.7Q65.9,284.4 -35.1,325.2" fill="none" stroke="rgb(125,125,125)" stroke-width="1.4"/><path d="M54.8,151.3Q14,253.9 3.3,363.9" fill="none" stroke="rgb(68,68,68)" stroke-width="2.2"/><path d="M54.8,151.3Q14,253.9 3.3,363.9" fill="none" stroke="rgb(143,143,143)" stroke-width="1.3"/><path d="M82.9,248.2Q56.8,304.7 28.7,360.2" fill="none" stroke="rgb(81,81,81)" stroke-width="2.3"/><path d="M82.9,248.2Q56.8,304.7 28.7,360.2" fill="none" stroke="rgb(156,156,156)" stroke-width="1.4"/><path d="M39.3,168.8Q79.2,196.4 106.7,236.3" fill="none" stroke="rgb(73,73,73)" stroke-width="1.8"/><path d="M39.3,168.8Q79.2,196.4 106.7,236.3" fill="none" stroke="rgb(148,148,148)" stroke-width="0.9"/><path d="M213.7,207.9Q118.4,260.1 33.9,328.7" fill="none" stroke="rgb(60,60,60)" stroke-width="2.2"/><path d="M213.7,207.9Q118.4,260.1 33.9,328.7" fill="none" stroke="rgb(135,135,135)" stroke-width="1.3"/><path d="M47,233.5Q51.8,270.3 41,305.8" fill="none" stroke="rgb(58,58,58)" stroke-width="2.3"/><path d="M47,233.5Q51.8,270.3 41,305.8" fill="none" stroke="rgb(133,133,133)" stroke-width="1.4"/><path d="M102,149.5Q74.1,247.6 44.9,345.3" fill="none" stroke="rgb(61,61,61)" stroke-width="2.2"/><path d="M102,149.5Q74.1,247.6 44.9,345.3" fill="none" stroke="rgb(136,136,136)" stroke-width="1.3"/><path d="M210.7,224.3Q119.7,269.3 25.7,307.5" fill="none" stroke="rgb(81,81,81)" stroke-width="2.2"/><path d="M210.7,224.3Q119.7,269.3 25.7,307.5" fill="none" stroke="rgb(156,156,156)" stroke-width="1.3"/><path d="M118.7,184.6Q114.6,220.7 122.7,256.1" fill="none" stroke="rgb(73,73,73)" stroke-width="2.3"/><path d="M118.7,184.6Q114.6,220.7 122.7,256.1" fill="none" stroke="rgb(148,148,148)" stroke-width="1.4"/><path d="M90.3,235.4Q37.2,282.8 -16.5,329.4" fill="none" stroke="rgb(79,79,79)" stroke-width="2"/><path d="M90.3,235.4Q37.2,282.8 -16.5,329.4" fill="none" stroke="rgb(154,154,154)" stroke-width="1.1"/><path d="M9.7,252Q107.3,262.3 204.3,276.7" fill="none" stroke="rgb(66,66,66)" stroke-width="1.9"/><path d="M9.7,252Q107.3,262.3 204.3,276.7" fill="none" stroke="rgb(141,141,141)" stroke-width="1"/><path d="M107.4,175.8Q94.6,270.7 83,365.7" fill="none" stroke="rgb(67,67,67)" stroke-width="2.3"/><path d="M107.4,175.8Q94.6,270.7 83,365.7" fill="none" stroke="rgb(142,142,142)" stroke-width="1.4"/><path d="M144.2,187.5Q126.6,259.5 110.9,332" fill="none" stroke="rgb(80,80,80)" stroke-width="2.1"/><path d="M144.2,187.5Q126.6,259.5 110.9,332" fill="none" stroke="rgb(155,155,155)" stroke-width="1.2"/><path d="M30.5,224.8Q61.2,269.5 92.1,314" fill="none" stroke="rgb(82,82,82)" stroke-width="2.1"/><path d="M30.5,224.8Q61.2,269.5 92.1,314" fill="none" stroke="rgb(157,157,157)" stroke-width="1.2"/><path d="M82.6,285.8Q105,306.9 125.8,329.7" fill="none" stroke="rgb(49,49,49)" stroke-width="2.1"/><path d="M82.6,285.8Q105,306.9 125.8,329.7" fill="none" stroke="rgb(124,124,124)" stroke-width="1.2"/><path d="M156.2,223.9Q54.9,235.6 -43,264.2" fill="none" stroke="rgb(52,52,52)" stroke-width="2.3"/><path d="M156.2,223.9Q54.9,235.6 -43,264.2" fill="none" stroke="rgb(127,127,127)" stroke-width="1.4"/><path d="M102.4,148.9Q118.8,241.3 123.4,335.1" fill="none" stroke="rgb(77,77,77)" stroke-width="2.2"/><path d="M102.4,148.9Q118.8,241.3 123.4,335.1" fill="none" stroke="rgb(152,152,152)" stroke-width="1.3"/><path d="M159.8,202.8Q110.8,252.5 47.7,282.3" fill="none" stroke="rgb(58,58,58)" stroke-width="1.8"/><path d="M159.8,202.8Q110.8,252.5 47.7,282.3" fill="none" stroke="rgb(133,133,133)" stroke-width="0.9"/><path d="M23.5,204.1Q101,259.5 194.7,276.4" fill="none" stroke="rgb(79,79,79)" stroke-width="2"/><path d="M23.5,204.1Q101,259.5 194.7,276.4" fill="none" stroke="rgb(154,154,154)" stroke-width="1.1"/><path d="M9.9,203Q38.1,253.8 84.2,289.2" fill="none" stroke="rgb(78,78,78)" stroke-width="1.9"/><path d="M9.9,203Q38.1,253.8 84.2,289.2" fill="none" stroke="rgb(153,153,153)" stroke-width="1"/><path d="M116.8,209.8Q130.1,242.8 133.2,278.2" fill="none" stroke="rgb(48,48,48)" stroke-width="1.8"/><path d="M116.8,209.8Q130.1,242.8 133.2,278.2" fill="none" stroke="rgb(123,123,123)" stroke-width="0.9"/><path d="M54.2,192Q23.5,214.5 -3.4,241.3" fill="none" stroke="rgb(47,47,47)" stroke-width="1.9"/><path d="M54.2,192Q23.5,214.5 -3.4,241.3" fill="none" stroke="rgb(122,122,122)" stroke-width="1"/><path d="M97.7,266.4Q23.7,266.1 -50.3,268.4" fill="none" stroke="rgb(53,53,53)" stroke-width="2"/><path d="M97.7,266.4Q23.7,266.1 -50.3,268.4" fill="none" stroke="rgb(128,128,128)" stroke-width="1.1"/><path d="M177.3,230.6Q88.8,255.7 22.2,319.1" fill="none" stroke="rgb(58,58,58)" stroke-width="2.2"/><path d="M177.3,230.6Q88.8,255.7 22.2,319.1" fill="none" stroke="rgb(133,133,133)" stroke-width="1.3"/><path d="M153.5,247.5Q66.2,280.2 -14.1,327.7" fill="none" stroke="rgb(71,71,71)" stroke-width="1.8"/><path d="M153.5,247.5Q66.2,280.2 -14.1,327.7" fill="none" stroke="rgb(146,146,146)" stroke-width="0.9"/><path d="M65.6,190.3Q30.9,251.1 -10,307.8" fill="none" stroke="rgb(77,77,77)" stroke-width="2.1"/><path d="M65.6,190.3Q30.9,251.1 -10,307.8" fill="none" stroke="rgb(152,152,152)" stroke-width="1.2"/><path d="M69.7,228.8Q25.5,241.8 -18.4,255.8" fill="none" stroke="rgb(81,81,81)" stroke-width="2"/><path d="M69.7,228.8Q25.5,241.8 -18.4,255.8" fill="none" stroke="rgb(156,156,156)" stroke-width="1.1"/><path d="M116.8,230.3Q50.6,264 -22.4,277.9" fill="none" stroke="rgb(68,68,68)" stroke-width="2.2"/><path d="M116.8,230.3Q50.6,264 -22.4,277.9" fill="none" stroke="rgb(143,143,143)" stroke-width="1.3"/><path d="M178.6,149.8Q119.3,215.6 50.7,271.7" fill="none" stroke="rgb(64,64,64)" stroke-width="2.3"/><path d="M178.6,149.8Q119.3,215.6 50.7,271.7" fill="none" stroke="rgb(139,139,139)" stroke-width="1.4"/><path d="M-40.3,186.1Q36.4,256.9 80,351.7" fill="none" stroke="rgb(64,64,64)" stroke-width="2.1"/><path d="M-40.3,186.1Q36.4,256.9 80,351.7" fill="none" stroke="rgb(139,139,139)" stroke-width="1.2"/><path d="M54.5,227Q95.8,246.4 138.3,263.3" fill="none" stroke="rgb(50,50,50)" stroke-width="2.1"/><path d="M54.5,227Q95.8,246.4 138.3,263.3" fill="none" stroke="rgb(125,125,125)" stroke-width="1.2"/><path d="M19.6,238.6Q79.1,260.9 132.3,295.5" fill="none" stroke="rgb(64,64,64)" stroke-width="2.2"/><path d="M19.6,238.6Q79.1,260.9 132.3,295.5" fill="none" stroke="rgb(139,139,139)" stroke-width="1.3"/><path d="M86.2,207.8Q78.7,257.3 56,301.8" fill="none" stroke="rgb(75,75,75)" stroke-width="2.2"/><path d="M86.2,207.8Q78.7,257.3 56,301.8" fill="none" stroke="rgb(150,150,150)" stroke-width="1.3"/><path d="M31.9,133Q70.9,209 120.5,278.6" fill="none" stroke="rgb(60,60,60)" stroke-width="2.2"/><path d="M31.9,133Q70.9,209 120.5,278.6" fill="none" stroke="rgb(135,135,135)" stroke-width="1.3"/><path d="M29.9,219.6Q56.6,250.6 70.8,288.9" fill="none" stroke="rgb(52,52,52)" stroke-width="1.9"/><path d="M29.9,219.6Q56.6,250.6 70.8,288.9" fill="none" stroke="rgb(127,127,127)" stroke-width="1"/><path d="M44.8,284.7Q89.3,283.3 131.3,298.4" fill="none" stroke="rgb(79,79,79)" stroke-width="2.1"/><path d="M44.8,284.7Q89.3,283.3 131.3,298.4" fill="none" stroke="rgb(154,154,154)" stroke-width="1.2"/><path d="M72.7,268.3Q87.1,296 87.4,327.2" fill="none" stroke="rgb(61,61,61)" stroke-width="1.9"/><path d="M72.7,268.3Q87.1,296 87.4,327.2" fill="none" stroke="rgb(136,136,136)" stroke-width="1"/><path d="M81.7,132.6Q30.5,228.9 -35.3,316" fill="none" stroke="rgb(80,80,80)" stroke-width="2.1"/><path d="M81.7,132.6Q30.5,228.9 -35.3,316" fill="none" stroke="rgb(155,155,155)" stroke-width="1.2"/><path d="M39.8,178.2Q51,216.4 75.9,247.5" fill="none" stroke="rgb(83,83,83)" stroke-width="1.8"/><path d="M39.8,178.2Q51,216.4 75.9,247.5" fill="none" stroke="rgb(158,158,158)" stroke-width="0.9"/><path d="M42.9,178.8Q20.7,210.2 -6.8,237" fill="none" stroke="rgb(50,50,50)" stroke-width="1.9"/><path d="M42.9,178.8Q20.7,210.2 -6.8,237" fill="none" stroke="rgb(125,125,125)" stroke-width="1"/><path d="M114,194.2Q54.3,201.6 -2.3,221.8" fill="none" stroke="rgb(53,53,53)" stroke-width="2.2"/><path d="M114,194.2Q54.3,201.6 -2.3,221.8" fill="none" stroke="rgb(128,128,128)" stroke-width="1.3"/><path d="M95.9,174.1Q80.8,229.2 90.6,285.4" fill="none" stroke="rgb(55,55,55)" stroke-width="2"/><path d="M95.9,174.1Q80.8,229.2 90.6,285.4" fill="none" stroke="rgb(130,130,130)" stroke-width="1.1"/><path d="M59.9,215.6Q79.7,297.7 109.4,376.8" fill="none" stroke="rgb(83,83,83)" stroke-width="2.1"/><path d="M59.9,215.6Q79.7,297.7 109.4,376.8" fill="none" stroke="rgb(158,158,158)" stroke-width="1.2"/><path d="M34.7,264.7Q66.3,300.5 90.3,341.8" fill="none" stroke="rgb(79,79,79)" stroke-width="1.8"/><path d="M34.7,264.7Q66.3,300.5 90.3,341.8" fill="none" stroke="rgb(154,154,154)" stroke-width="0.9"/><path d="M75.4,209.6Q30.1,237.9 -23.1,242.6" fill="none" stroke="rgb(80,80,80)" stroke-width="2.1"/><path d="M75.4,209.6Q30.1,237.9 -23.1,242.6" fill="none" stroke="rgb(155,155,155)" stroke-width="1.2"/><path d="M98.7,142.3Q59.3,225.1 -10.6,284.3" fill="none" stroke="rgb(70,70,70)" stroke-width="2.3"/><path d="M98.7,142.3Q59.3,225.1 -10.6,284.3" fill="none" stroke="rgb(145,145,145)" stroke-width="1.4"/><path d="M132.1,228.4Q92.6,306.1 22.7,358" fill="none" stroke="rgb(55,55,55)" stroke-width="1.9"/><path d="M132.1,228.4Q92.6,306.1 22.7,358" fill="none" stroke="rgb(130,130,130)" stroke-width="1"/><path d="M-59,257.7Q37.7,288.1 122.1,344.2" fill="none" stroke="rgb(68,68,68)" stroke-width="2.3"/><path d="M-59,257.7Q37.7,288.1 122.1,344.2" fill="none" stroke="rgb(143,143,143)" stroke-width="1.4"/><path d="M-26.4,187.9Q48.9,245.6 138.9,275.8" fill="none" stroke="rgb(56,56,56)" stroke-width="2"/><path d="M-26.4,187.9Q48.9,245.6 138.9,275.8" fill="none" stroke="rgb(131,131,131)" stroke-width="1.1"/><path d="M108.2,227.4Q56.3,289.1 -18.3,319.7" fill="none" stroke="rgb(55,55,55)" stroke-width="2.3"/><path d="M108.2,227.4Q56.3,289.1 -18.3,319.7" fill="none" stroke="rgb(130,130,130)" stroke-width="1.4"/><path d="M120.2,237.8Q54.6,253.1 -4.4,285.9" fill="none" stroke="rgb(74,74,74)" stroke-width="2.1"/><path d="M120.2,237.8Q54.6,253.1 -4.4,285.9" fill="none" stroke="rgb(149,149,149)" stroke-width="1.2"/><path d="M26.3,176.4Q58.6,236.6 65.2,304.6" fill="none" stroke="rgb(47,47,47)" stroke-width="2.2"/><path d="M26.3,176.4Q58.6,236.6 65.2,304.6" fill="none" stroke="rgb(122,122,122)" stroke-width="1.3"/><path d="M128.5,222.2Q99.7,289.3 89.2,361.6" fill="none" stroke="rgb(83,83,83)" stroke-width="2.1"/><path d="M128.5,222.2Q99.7,289.3 89.2,361.6" fill="none" stroke="rgb(158,158,158)" stroke-width="1.2"/><path d="M198,216.5Q127.4,282.1 42.6,327.9" fill="none" stroke="rgb(62,62,62)" stroke-width="2.2"/><path d="M198,216.5Q127.4,282.1 42.6,327.9" fill="none" stroke="rgb(137,137,137)" stroke-width="1.3"/><path d="M61.8,289.9Q29.2,313.6 -10.5,320.6" fill="none" stroke="rgb(74,74,74)" stroke-width="2.2"/><path d="M61.8,289.9Q29.2,313.6 -10.5,320.6" fill="none" stroke="rgb(149,149,149)" stroke-width="1.3"/><path d="M168.9,141.3Q103.7,230.8 64.7,334.3" fill="none" stroke="rgb(74,74,74)" stroke-width="1.8"/><path d="M168.9,141.3Q103.7,230.8 64.7,334.3" fill="none" stroke="rgb(149,149,149)" stroke-width="0.9"/><path d="M103.1,199.2Q56.1,233.1 21.1,279.2" fill="none" stroke="rgb(80,80,80)" stroke-width="1.9"/><path d="M103.1,199.2Q56.1,233.1 21.1,279.2" fill="none" stroke="rgb(155,155,155)" stroke-width="1"/><path d="M-36.4,212.5Q29.7,238.7 96.8,262.1" fill="none" stroke="rgb(68,68,68)" stroke-width="2.1"/><path d="M-36.4,212.5Q29.7,238.7 96.8,262.1" fill="none" stroke="rgb(143,143,143)" stroke-width="1.2"/><path d="M120,146.7Q112,215.4 84.8,278.9" fill="none" stroke="rgb(58,58,58)" stroke-width="2.1"/><path d="M120,146.7Q112,215.4 84.8,278.9" fill="none" stroke="rgb(133,133,133)" stroke-width="1.2"/><path d="M-16.8,148.7Q66.5,218.1 136.7,300.6" fill="none" stroke="rgb(76,76,76)" stroke-width="1.9"/><path d="M-16.8,148.7Q66.5,218.1 136.7,300.6" fill="none" stroke="rgb(151,151,151)" stroke-width="1"/><path d="M138.8,166.6Q84.6,232.1 62.7,314.3" fill="none" stroke="rgb(72,72,72)" stroke-width="2"/><path d="M138.8,166.6Q84.6,232.1 62.7,314.3" fill="none" stroke="rgb(147,147,147)" stroke-width="1.1"/><path d="M171.7,240.7Q80.9,279.5 -17.6,285.1" fill="none" stroke="rgb(53,53,53)" stroke-width="2"/><path d="M171.7,240.7Q80.9,279.5 -17.6,285.1" fill="none" stroke="rgb(128,128,128)" stroke-width="1.1"/><path d="M172.9,259.7Q108.1,275.9 41.7,284.1" fill="none" stroke="rgb(65,65,65)" stroke-width="2.1"/><path d="M172.9,259.7Q108.1,275.9 41.7,284.1" fill="none" stroke="rgb(140,140,140)" stroke-width="1.2"/><path d="M124.3,178.1Q126,216.8 118.4,254.8" fill="none" stroke="rgb(61,61,61)" stroke-width="2"/><path d="M124.3,178.1Q126,216.8 118.4,254.8" fill="none" stroke="rgb(136,136,136)" stroke-width="1.1"/><path d="M-17.8,241.2Q76.2,265.5 170.8,244.4" fill="none" stroke="rgb(58,58,58)" stroke-width="2.3"/><path d="M-17.8,241.2Q76.2,265.5 170.8,244.4" fill="none" stroke="rgb(133,133,133)" stroke-width="1.4"/><path d="M133.3,157.8Q37.9,207.6 -26.2,294" fill="none" stroke="rgb(48,48,48)" stroke-width="1.9"/><path d="M133.3,157.8Q37.9,207.6 -26.2,294" fill="none" stroke="rgb(123,123,123)" stroke-width="1"/><path d="M157.4,183.8Q66.6,237.5 -10.1,310" fill="none" stroke="rgb(81,81,81)" stroke-width="2.2"/><path d="M157.4,183.8Q66.6,237.5 -10.1,310" fill="none" stroke="rgb(156,156,156)" stroke-width="1.3"/><path d="M14,168.7Q39.2,241.7 30.6,318.5" fill="none" stroke="rgb(53,53,53)" stroke-width="1.8"/><path d="M14,168.7Q39.2,241.7 30.6,318.5" fill="none" stroke="rgb(128,128,128)" stroke-width="0.9"/><path d="M137.8,249.2Q89.6,264.6 39.7,256" fill="none" stroke="rgb(66,66,66)" stroke-width="2.3"/><path d="M137.8,249.2Q89.6,264.6 39.7,256" fill="none" stroke="rgb(141,141,141)" stroke-width="1.4"/><path d="M32.9,259.4Q67.5,280.8 103.4,300.1" fill="none" stroke="rgb(81,81,81)" stroke-width="2.2"/><path d="M32.9,259.4Q67.5,280.8 103.4,300.1" fill="none" stroke="rgb(156,156,156)" stroke-width="1.3"/><path d="M148.7,266.6Q83.9,303.7 27.7,352.8" fill="none" stroke="rgb(59,59,59)" stroke-width="2.2"/><path d="M148.7,266.6Q83.9,303.7 27.7,352.8" fill="none" stroke="rgb(134,134,134)" stroke-width="1.3"/><path d="M121,218.9Q72.8,235.7 22.1,241.6" fill="none" stroke="rgb(52,52,52)" stroke-width="1.9"/><path d="M121,218.9Q72.8,235.7 22.1,241.6" fill="none" stroke="rgb(127,127,127)" stroke-width="1"/><path d="M53.9,214.9Q101,233.3 144.7,258.6" fill="none" stroke="rgb(76,76,76)" stroke-width="1.9"/><path d="M53.9,214.9Q101,233.3 144.7,258.6" fill="none" stroke="rgb(151,151,151)" stroke-width="1"/><path d="M62.5,299.3Q16.1,315.7 -32.9,311.7" fill="none" stroke="rgb(59,59,59)" stroke-width="2.1"/><path d="M62.5,299.3Q16.1,315.7 -32.9,311.7" fill="none" stroke="rgb(134,134,134)" stroke-width="1.2"/><path d="M47.2,250.9Q77.7,278.4 107.2,307.1" fill="none" stroke="rgb(52,52,52)" stroke-width="2.2"/><path d="M47.2,250.9Q77.7,278.4 107.2,307.1" fill="none" stroke="rgb(127,127,127)" stroke-width="1.3"/><path d="M114,186.4Q84.2,204.6 59.8,229.4" fill="none" stroke="rgb(55,55,55)" stroke-width="2"/><path d="M114,186.4Q84.2,204.6 59.8,229.4" fill="none" stroke="rgb(130,130,130)" stroke-width="1.1"/><path d="M87.2,178Q87.4,214.2 78.5,249.3" fill="none" stroke="rgb(65,65,65)" stroke-width="2"/><path d="M87.2,178Q87.4,214.2 78.5,249.3" fill="none" stroke="rgb(140,140,140)" stroke-width="1.1"/><path d="M8.5,194Q50.8,274.7 65.6,364.6" fill="none" stroke="rgb(56,56,56)" stroke-width="1.9"/><path d="M8.5,194Q50.8,274.7 65.6,364.6" fill="none" stroke="rgb(131,131,131)" stroke-width="1"/><path d="M-38.3,232.5Q58,245.4 146.6,285.3" fill="none" stroke="rgb(65,65,65)" stroke-width="2"/><path d="M-38.3,232.5Q58,245.4 146.6,285.3" fill="none" stroke="rgb(140,140,140)" stroke-width="1.1"/><path d="M50.8,249.5Q108,266.9 164.2,287.6" fill="none" stroke="rgb(50,50,50)" stroke-width="2.1"/><path d="M50.8,249.5Q108,266.9 164.2,287.6" fill="none" stroke="rgb(125,125,125)" stroke-width="1.2"/><path d="M199.3,175.2Q107,228.7 22.3,293.7" fill="none" stroke="rgb(74,74,74)" stroke-width="1.8"/><path d="M199.3,175.2Q107,228.7 22.3,293.7" fill="none" stroke="rgb(149,149,149)" stroke-width="0.9"/><path d="M31.7,183.8Q95.9,216.1 143.9,269.6" fill="none" stroke="rgb(60,60,60)" stroke-width="2.3"/><path d="M31.7,183.8Q95.9,216.1 143.9,269.6" fill="none" stroke="rgb(135,135,135)" stroke-width="1.4"/><path d="M149.2,232.3Q108.7,237.7 70.2,251.7" fill="none" stroke="rgb(47,47,47)" stroke-width="1.9"/><path d="M149.2,232.3Q108.7,237.7 70.2,251.7" fill="none" stroke="rgb(122,122,122)" stroke-width="1"/><path d="M172.7,286Q97.5,283.2 22.8,292.6" fill="none" stroke="rgb(61,61,61)" stroke-width="2.1"/><path d="M172.7,286Q97.5,283.2 22.8,292.6" fill="none" stroke="rgb(136,136,136)" stroke-width="1.2"/><path d="M98,181.4Q44.6,270.3 -8.5,359.4" fill="none" stroke="rgb(64,64,64)" stroke-width="2.3"/><path d="M98,181.4Q44.6,270.3 -8.5,359.4" fill="none" stroke="rgb(139,139,139)" stroke-width="1.4"/><path d="M78.9,217.7Q99.1,250.3 128.6,274.7" fill="none" stroke="rgb(82,82,82)" stroke-width="1.8"/><path d="M78.9,217.7Q99.1,250.3 128.6,274.7" fill="none" stroke="rgb(157,157,157)" stroke-width="0.9"/></g></g>
<g clip-path="url(#c2)"><g filter="url(#sblur)"><rect x="348.2" y="198.9" width="118.4" height="113.6" fill="#3a3a3a"/><path d="M423.4,298.3Q458.5,310.9 495.8,311.3" fill="none" stroke="rgb(50,50,50)" stroke-width="3.6"/><path d="M423.4,298.3Q458.5,310.9 495.8,311.3" fill="none" stroke="rgb(125,125,125)" stroke-width="2.7"/><path d="M423.5,297.3Q458.7,309.9 496,310.3" fill="none" stroke="rgb(173,173,173)" stroke-width="0.5"/><path d="M423.2,299.2Q458.3,311.8 495.6,312.2" fill="none" stroke="rgb(173,173,173)" stroke-width="0.5"/><path d="M295,214.7Q376.6,245.1 462.9,233.6" fill="none" stroke="rgb(63,63,63)" stroke-width="3.5"/><path d="M295,214.7Q376.6,245.1 462.9,233.6" fill="none" stroke="rgb(138,138,138)" stroke-width="2.6"/><path d="M295.1,213.8Q376.7,244.2 463.1,232.7" fill="none" stroke="rgb(186,186,186)" stroke-width="0.5"/><path d="M294.9,215.6Q376.5,246.1 462.8,234.5" fill="none" stroke="rgb(186,186,186)" stroke-width="0.5"/><path d="M449.9,209.9Q470.6,258.5 467.7,311.2" fill="none" stroke="rgb(60,60,60)" stroke-width="2.7"/><path d="M449.9,209.9Q470.6,258.5 467.7,311.2" fill="none" stroke="rgb(135,135,135)" stroke-width="1.8"/><path d="M450.6,209.7Q471.2,258.4 468.3,311.1" fill="none" stroke="rgb(183,183,183)" stroke-width="0.5"/><path d="M449.3,210Q469.9,258.6 467,311.3" fill="none" stroke="rgb(183,183,183)" stroke-width="0.5"/><path d="M432.9,202.6Q473.2,296.4 480.7,398.2" fill="none" stroke="rgb(45,45,45)" stroke-width="2.9"/><path d="M432.9,202.6Q473.2,296.4 480.7,398.2" fill="none" stroke="rgb(120,120,120)" stroke-width="2"/><path d="M433.6,202.4Q473.9,296.2 481.4,398.1" fill="none" stroke="rgb(168,168,168)" stroke-width="0.5"/><path d="M432.2,202.7Q472.5,296.5 480,398.4" fill="none" stroke="rgb(168,168,168)" stroke-width="0.5"/><path d="M288.5,207Q345.6,252.6 417.3,266" fill="none" stroke="rgb(42,42,42)" stroke-width="3.5"/><path d="M288.5,207Q345.6,252.6 417.3,266" fill="none" stroke="rgb(117,117,117)" stroke-width="2.6"/><path d="M288.9,206.2Q346,251.7 417.7,265.2" fill="none" stroke="rgb(165,165,165)" stroke-width="0.5"/><path d="M288.2,207.9Q345.2,253.4 416.9,266.9" fill="none" stroke="rgb(165,165,165)" stroke-width="0.5"/><path d="M445,180.3Q449.9,253.6 483.1,319.2" fill="none" stroke="rgb(53,53,53)" stroke-width="3.1"/><path d="M445,180.3Q449.9,253.6 483.1,319.2" fill="none" stroke="rgb(128,128,128)" stroke-width="2.2"/><path d="M445.7,180.1Q450.6,253.4 483.9,319" fill="none" stroke="rgb(176,176,176)" stroke-width="0.5"/><path d="M444.2,180.5Q449.1,253.9 482.4,319.4" fill="none" stroke="rgb(176,176,176)" stroke-width="0.5"/><path d="M373.6,190.2Q396.8,294.1 409.6,399.9" fill="none" stroke="rgb(64,64,64)" stroke-width="3.6"/><path d="M373.6,190.2Q396.8,294.1 409.6,399.9" fill="none" stroke="rgb(139,139,139)" stroke-width="2.7"/><path d="M374.5,190Q397.8,294 410.6,399.7" fill="none" stroke="rgb(187,187,187)" stroke-width="0.5"/><path d="M372.6,190.4Q395.9,294.3 408.7,400.1" fill="none" stroke="rgb(187,187,187)" stroke-width="0.5"/><path d="M378.4,160.3Q368.2,231.6 379.2,302.7" fill="none" stroke="rgb(60,60,60)" stroke-width="3.5"/><path d="M378.4,160.3Q368.2,231.6 379.2,302.7" fill="none" stroke="rgb(135,135,135)" stroke-width="2.6"/><path d="M379.3,160.3Q369.2,231.5 380.2,302.7" fill="none" stroke="rgb(183,183,183)" stroke-width="0.5"/><path d="M377.4,160.3Q367.3,231.6 378.3,302.7" fill="none" stroke="rgb(183,183,183)" stroke-width="0.5"/><path d="M475,150.1Q441.8,249 431.3,352.7" fill="none" stroke="rgb(45,45,45)" stroke-width="3.3"/><path d="M475,150.1Q441.8,249 431.3,352.7" fill="none" stroke="rgb(120,120,120)" stroke-width="2.4"/><path d="M475.8,150.3Q442.6,249.2 432.1,352.9" fill="none" stroke="rgb(168,168,168)" stroke-width="0.5"/><path d="M474.2,150Q441,248.8 430.4,352.5" fill="none" stroke="rgb(168,168,168)" stroke-width="0.5"/><path d="M544.8,240.6Q454.9,285.1 370.8,339.8" fill="none" stroke="rgb(61,61,61)" stroke-width="3.6"/><path d="M544.8,240.6Q454.9,285.1 370.8,339.8" fill="none" stroke="rgb(136,136,136)" stroke-width="2.7"/><path d="M545.3,241.4Q455.4,286 371.3,340.6" fill="none" stroke="rgb(184,184,184)" stroke-width="0.5"/><path d="M544.3,239.7Q454.4,284.3 370.3,338.9" fill="none" stroke="rgb(184,184,184)" stroke-width="0.5"/><path d="M428.1,249.7Q385.1,305.5 343.2,361.9" fill="none" stroke="rgb(57,57,57)" stroke-width="3.5"/><path d="M428.1,249.7Q385.1,305.5 343.2,361.9" fill="none" stroke="rgb(132,132,132)" stroke-width="2.6"/><path d="M428.8,250.3Q385.9,306 343.9,362.5" fill="none" stroke="rgb(180,180,180)" stroke-width="0.5"/><path d="M427.3,249.2Q384.4,304.9 342.4,361.4" fill="none" stroke="rgb(180,180,180)" stroke-width="0.5"/><path d="M389.8,119Q379.4,223.4 382,328.3" fill="none" stroke="rgb(52,52,52)" stroke-width="2.8"/><path d="M389.8,119Q379.4,223.4 382,328.3" fill="none" stroke="rgb(127,127,127)" stroke-width="1.9"/><path d="M390.5,119Q380.1,223.5 382.6,328.4" fill="none" stroke="rgb(175,175,175)" stroke-width="0.5"/><path d="M389.1,119Q378.7,223.4 381.3,328.3" fill="none" stroke="rgb(175,175,175)" stroke-width="0.5"/><path d="M359.4,249.7Q444.4,284.1 507.1,351.1" fill="none" stroke="rgb(48,48,48)" stroke-width="3.5"/><path d="M359.4,249.7Q444.4,284.1 507.1,351.1" fill="none" stroke="rgb(123,123,123)" stroke-width="2.6"/><path d="M359.9,248.9Q445,283.3 507.6,350.3" fill="none" stroke="rgb(171,171,171)" stroke-width="0.5"/><path d="M358.9,250.5Q443.9,284.8 506.6,351.8" fill="none" stroke="rgb(171,171,171)" stroke-width="0.5"/><path d="M505.1,252.1Q422.2,291.5 330.7,299.3" fill="none" stroke="rgb(44,44,44)" stroke-width="3"/><path d="M505.1,252.1Q422.2,291.5 330.7,299.3" fill="none" stroke="rgb(119,119,119)" stroke-width="2.1"/><path d="M505.3,252.8Q422.4,292.3 330.9,300" fill="none" stroke="rgb(167,167,167)" stroke-width="0.5"/><path d="M504.9,251.4Q422,290.8 330.5,298.6" fill="none" stroke="rgb(167,167,167)" stroke-width="0.5"/><path d="M544.3,178.9Q464.5,226.6 372,236.1" fill="none" stroke="rgb(46,46,46)" stroke-width="3.1"/><path d="M544.3,178.9Q464.5,226.6 372,236.1" fill="none" stroke="rgb(121,121,121)" stroke-width="2.2"/><path d="M544.5,179.7Q464.7,227.4 372.3,236.9" fill="none" stroke="rgb(169,169,169)" stroke-width="0.5"/><path d="M544,178.2Q464.2,225.8 371.8,235.4" fill="none" stroke="rgb(169,169,169)" stroke-width="0.5"/><path d="M458.9,205.4Q426.6,206.3 395.5,214.5" fill="none" stroke="rgb(47,47,47)" stroke-width="2.7"/><path d="M458.9,205.4Q426.6,206.3 395.5,214.5" fill="none" stroke="rgb(122,122,122)" stroke-width="1.8"/><path d="M459,206.1Q426.7,207 395.6,215.2" fill="none" stroke="rgb(170,170,170)" stroke-width="0.5"/><path d="M458.8,204.8Q426.5,205.7 395.4,213.9" fill="none" stroke="rgb(170,170,170)" stroke-width="0.5"/><path d="M413.1,250.3Q378.1,315.5 316.5,356.7" fill="none" stroke="rgb(46,46,46)" stroke-width="3.4"/><path d="M413.1,250.3Q378.1,315.5 316.5,356.7" fill="none" stroke="rgb(121,121,121)" stroke-width="2.5"/><path d="M413.8,250.9Q378.7,316.1 317.2,357.3" fill="none" stroke="rgb(169,169,169)" stroke-width="0.5"/><path d="M412.5,249.7Q377.4,314.9 315.8,356" fill="none" stroke="rgb(169,169,169)" stroke-width="0.5"/><path d="M330.3,135Q359,209.4 404.8,274.8" fill="none" stroke="rgb(52,52,52)" stroke-width="2.8"/><path d="M330.3,135Q359,209.4 404.8,274.8" fill="none" stroke="rgb(127,127,127)" stroke-width="1.9"/><path d="M330.9,134.6Q359.7,209.1 405.4,274.5" fill="none" stroke="rgb(175,175,175)" stroke-width="0.5"/><path d="M329.7,135.3Q358.4,209.7 404.2,275.1" fill="none" stroke="rgb(175,175,175)" stroke-width="0.5"/><path d="M418.7,157.3Q423.7,237.6 393.5,312.1" fill="none" stroke="rgb(56,56,56)" stroke-width="3"/><path d="M418.7,157.3Q423.7,237.6 393.5,312.1" fill="none" stroke="rgb(131,131,131)" stroke-width="2.1"/><path d="M419.5,157.4Q424.4,237.7 394.2,312.2" fill="none" stroke="rgb(179,179,179)" stroke-width="0.5"/><path d="M418,157.2Q422.9,237.4 392.7,312" fill="none" stroke="rgb(179,179,179)" stroke-width="0.5"/><path d="M444.8,230.3Q445,278.5 453,326.1" fill="none" stroke="rgb(37,37,37)" stroke-width="3.1"/><path d="M444.8,230.3Q445,278.5 453,326.1" fill="none" stroke="rgb(112,112,112)" stroke-width="2.2"/><path d="M445.5,230.3Q445.8,278.5 453.7,326" fill="none" stroke="rgb(160,160,160)" stroke-width="0.5"/><path d="M444,230.4Q444.2,278.6 452.2,326.1" fill="none" stroke="rgb(160,160,160)" stroke-width="0.5"/><path d="M423.5,275.7Q351.3,277.4 282.5,298.9" fill="none" stroke="rgb(51,51,51)" stroke-width="3.3"/><path d="M423.5,275.7Q351.3,277.4 282.5,298.9" fill="none" stroke="rgb(126,126,126)" stroke-width="2.4"/><path d="M423.6,276.6Q351.5,278.2 282.6,299.8" fill="none" stroke="rgb(174,174,174)" stroke-width="0.5"/><path d="M423.3,274.9Q351.2,276.6 282.3,298.1" fill="none" stroke="rgb(174,174,174)" stroke-width="0.5"/><path d="M312.8,249Q368.9,303.9 420.5,363.1" fill="none" stroke="rgb(66,66,66)" stroke-width="2.7"/><path d="M312.8,249Q368.9,303.9 420.5,363.1" fill="none" stroke="rgb(141,141,141)" stroke-width="1.8"/><path d="M313.2,248.6Q369.4,303.5 421,362.7" fill="none" stroke="rgb(189,189,189)" stroke-width="0.5"/><path d="M312.3,249.5Q368.5,304.4 420.1,363.6" fill="none" stroke="rgb(189,189,189)" stroke-width="0.5"/><path d="M431.5,245.5Q464.7,269.7 488.3,303.3" fill="none" stroke="rgb(45,45,45)" stroke-width="3.2"/><path d="M431.5,245.5Q464.7,269.7 488.3,303.3" fill="none" stroke="rgb(120,120,120)" stroke-width="2.3"/><path d="M432.1,244.9Q465.3,269.1 488.9,302.7" fill="none" stroke="rgb(168,168,168)" stroke-width="0.5"/><path d="M430.9,246.1Q464.1,270.3 487.7,303.9" fill="none" stroke="rgb(168,168,168)" stroke-width="0.5"/><path d="M515.6,286.2Q411.4,323 301.1,331.2" fill="none" stroke="rgb(47,47,47)" stroke-width="3.2"/><path d="M515.6,286.2Q411.4,323 301.1,331.2" fill="none" stroke="rgb(122,122,122)" stroke-width="2.3"/><path d="M515.7,287Q411.5,323.9 301.3,332" fill="none" stroke="rgb(170,170,170)" stroke-width="0.5"/><path d="M515.4,285.4Q411.2,322.2 300.9,330.4" fill="none" stroke="rgb(170,170,170)" stroke-width="0.5"/><path d="M422.8,177.2Q362.8,230.4 296,274.6" fill="none" stroke="rgb(48,48,48)" stroke-width="3.5"/><path d="M422.8,177.2Q362.8,230.4 296,274.6" fill="none" stroke="rgb(123,123,123)" stroke-width="2.6"/><path d="M423.4,178Q363.4,231.1 296.6,275.3" fill="none" stroke="rgb(171,171,171)" stroke-width="0.5"/><path d="M422.2,176.5Q362.2,229.6 295.4,273.8" fill="none" stroke="rgb(171,171,171)" stroke-width="0.5"/><path d="M348.1,194.5Q411.8,189.3 472.7,208.4" fill="none" stroke="rgb(46,46,46)" stroke-width="3.6"/><path d="M348.1,194.5Q411.8,189.3 472.7,208.4" fill="none" stroke="rgb(121,121,121)" stroke-width="2.7"/><path d="M348.2,193.5Q411.9,188.4 472.8,207.5" fill="none" stroke="rgb(169,169,169)" stroke-width="0.5"/><path d="M348,195.4Q411.6,190.3 472.6,209.4" fill="none" stroke="rgb(169,169,169)" stroke-width="0.5"/><path d="M389.1,176Q368.3,209.5 334.6,230.2" fill="none" stroke="rgb(60,60,60)" stroke-width="3.5"/><path d="M389.1,176Q368.3,209.5 334.6,230.2" fill="none" stroke="rgb(135,135,135)" stroke-width="2.6"/><path d="M389.7,176.6Q369,210.2 335.3,230.8" fill="none" stroke="rgb(183,183,183)" stroke-width="0.5"/><path d="M388.4,175.3Q367.6,208.9 334,229.5" fill="none" stroke="rgb(183,183,183)" stroke-width="0.5"/><path d="M305.1,207.8Q370.9,289.9 466.2,334.7" fill="none" stroke="rgb(58,58,58)" stroke-width="3.6"/><path d="M305.1,207.8Q370.9,289.9 466.2,334.7" fill="none" stroke="rgb(133,133,133)" stroke-width="2.7"/><path d="M305.7,207Q371.5,289.1 466.8,333.9" fill="none" stroke="rgb(181,181,181)" stroke-width="0.5"/><path d="M304.5,208.5Q370.3,290.6 465.6,335.5" fill="none" stroke="rgb(181,181,181)" stroke-width="0.5"/><path d="M427.3,106.8Q378.2,197.1 370.4,299.6" fill="none" stroke="rgb(37,37,37)" stroke-width="3.4"/><path d="M427.3,106.8Q378.2,197.1 370.4,299.6" fill="none" stroke="rgb(112,112,112)" stroke-width="2.5"/><path d="M428.2,107.1Q379.1,197.4 371.3,299.9" fill="none" stroke="rgb(160,160,160)" stroke-width="0.5"/><path d="M426.5,106.6Q377.4,196.9 369.6,299.4" fill="none" stroke="rgb(160,160,160)" stroke-width="0.5"/><path d="M319.4,247Q427.3,233.1 532.7,260" fill="none" stroke="rgb(54,54,54)" stroke-width="3.1"/><path d="M319.4,247Q427.3,233.1 532.7,260" fill="none" stroke="rgb(129,129,129)" stroke-width="2.2"/><path d="M319.5,246.1Q427.4,232.3 532.8,259.2" fill="none" stroke="rgb(177,177,177)" stroke-width="0.5"/><path d="M319.4,247.8Q427.3,234 532.7,260.8" fill="none" stroke="rgb(177,177,177)" stroke-width="0.5"/><path d="M375,259.8Q391,295.2 395.9,333.7" fill="none" stroke="rgb(32,32,32)" stroke-width="3.6"/><path d="M375,259.8Q391,295.2 395.9,333.7" fill="none" stroke="rgb(107,107,107)" stroke-width="2.7"/><path d="M376,259.5Q392,294.9 396.9,333.4" fill="none" stroke="rgb(155,155,155)" stroke-width="0.5"/><path d="M374.1,260Q390.1,295.4 395,333.9" fill="none" stroke="rgb(155,155,155)" stroke-width="0.5"/><path d="M471.1,146.6Q431.2,202 415.1,268.4" fill="none" stroke="rgb(31,31,31)" stroke-width="3.4"/><path d="M471.1,146.6Q431.2,202 415.1,268.4" fill="none" stroke="rgb(106,106,106)" stroke-width="2.5"/><path d="M472,146.9Q432.1,202.4 415.9,268.8" fill="none" stroke="rgb(154,154,154)" stroke-width="0.5"/><path d="M470.3,146.2Q430.4,201.6 414.2,268" fill="none" stroke="rgb(154,154,154)" stroke-width="0.5"/><path d="M418.1,234.5Q381.8,237.3 347.4,249.1" fill="none" stroke="rgb(67,67,67)" stroke-width="2.9"/><path d="M418.1,234.5Q381.8,237.3 347.4,249.1" fill="none" stroke="rgb(142,142,142)" stroke-width="2"/><path d="M418.3,235.2Q381.9,238 347.5,249.8" fill="none" stroke="rgb(190,190,190)" stroke-width="0.5"/><path d="M418,233.8Q381.7,236.5 347.2,248.3" fill="none" stroke="rgb(190,190,190)" stroke-width="0.5"/><path d="M340.8,254.9Q388.2,289.5 445.1,303.8" fill="none" stroke="rgb(38,38,38)" stroke-width="3"/><path d="M340.8,254.9Q388.2,289.5 445.1,303.8" fill="none" stroke="rgb(113,113,113)" stroke-width="2.1"/><path d="M341.1,254.2Q388.5,288.8 445.4,303.1" fill="none" stroke="rgb(161,161,161)" stroke-width="0.5"/><path d="M340.5,255.6Q387.9,290.2 444.7,304.5" fill="none" stroke="rgb(161,161,161)" stroke-width="0.5"/><path d="M405.2,197.6Q350.1,289.7 313.6,390.5" fill="none" stroke="rgb(61,61,61)" stroke-width="2.7"/><path d="M405.2,197.6Q350.1,289.7 313.6,390.5" fill="none" stroke="rgb(136,136,136)" stroke-width="1.8"/><path d="M405.8,197.9Q350.7,289.9 314.2,390.8" fill="none" stroke="rgb(184,184,184)" stroke-width="0.5"/><path d="M404.6,197.3Q349.5,289.4 313.1,390.3" fill="none" stroke="rgb(184,184,184)" stroke-width="0.5"/><path d="M438.7,221.6Q440.4,280.2 439.5,338.8" fill="none" stroke="rgb(48,48,48)" stroke-width="3.7"/><path d="M438.7,221.6Q440.4,280.2 439.5,338.8" fill="none" stroke="rgb(123,123,123)" stroke-width="2.8"/><path d="M439.7,221.6Q441.4,280.2 440.5,338.8" fill="none" stroke="rgb(171,171,171)" stroke-width="0.5"/><path d="M437.7,221.6Q439.4,280.2 438.5,338.8" fill="none" stroke="rgb(171,171,171)" stroke-width="0.5"/><path d="M461.7,227.7Q408.4,298.1 349.4,363.9" fill="none" stroke="rgb(49,49,49)" stroke-width="3.3"/><path d="M461.7,227.7Q408.4,298.1 349.4,363.9" fill="none" stroke="rgb(124,124,124)" stroke-width="2.4"/><path d="M462.4,228.3Q409,298.6 350.1,364.4" fill="none" stroke="rgb(172,172,172)" stroke-width="0.5"/><path d="M461.1,227.2Q407.7,297.5 348.8,363.3" fill="none" stroke="rgb(172,172,172)" stroke-width="0.5"/><path d="M417.4,147.5Q388.5,215.9 373.3,288.6" fill="none" stroke="rgb(36,36,36)" stroke-width="3.5"/><path d="M417.4,147.5Q388.5,215.9 373.3,288.6" fill="none" stroke="rgb(111,111,111)" stroke-width="2.6"/><path d="M418.3,147.8Q389.4,216.2 374.2,288.8" fill="none" stroke="rgb(159,159,159)" stroke-width="0.5"/><path d="M416.5,147.2Q387.5,215.6 372.4,288.3" fill="none" stroke="rgb(159,159,159)" stroke-width="0.5"/><path d="M361.4,273.2Q412.9,304.4 473.1,307.9" fill="none" stroke="rgb(57,57,57)" stroke-width="2.9"/><path d="M361.4,273.2Q412.9,304.4 473.1,307.9" fill="none" stroke="rgb(132,132,132)" stroke-width="2"/><path d="M361.6,272.5Q413.1,303.8 473.3,307.2" fill="none" stroke="rgb(180,180,180)" stroke-width="0.5"/><path d="M361.2,273.9Q412.7,305.1 472.9,308.6" fill="none" stroke="rgb(180,180,180)" stroke-width="0.5"/><path d="M534.2,265.2Q449.4,275.8 371.7,311.7" fill="none" stroke="rgb(49,49,49)" stroke-width="2.7"/><path d="M534.2,265.2Q449.4,275.8 371.7,311.7" fill="none" stroke="rgb(124,124,124)" stroke-width="1.8"/><path d="M534.4,265.8Q449.5,276.5 371.9,312.3" fill="none" stroke="rgb(172,172,172)" stroke-width="0.5"/><path d="M534,264.6Q449.2,275.2 371.5,311" fill="none" stroke="rgb(172,172,172)" stroke-width="0.5"/><path d="M447.6,258.6Q398.1,287.2 342.2,298.4" fill="none" stroke="rgb(40,40,40)" stroke-width="3"/><path d="M447.6,258.6Q398.1,287.2 342.2,298.4" fill="none" stroke="rgb(115,115,115)" stroke-width="2.1"/><path d="M447.9,259.4Q398.4,287.9 342.4,299.2" fill="none" stroke="rgb(163,163,163)" stroke-width="0.5"/><path d="M447.3,257.9Q397.9,286.5 341.9,297.7" fill="none" stroke="rgb(163,163,163)" stroke-width="0.5"/><path d="M439.2,278.8Q411.9,304.8 384.9,331.2" fill="none" stroke="rgb(47,47,47)" stroke-width="3.6"/><path d="M439.2,278.8Q411.9,304.8 384.9,331.2" fill="none" stroke="rgb(122,122,122)" stroke-width="2.7"/><path d="M439.9,279.5Q412.5,305.5 385.6,331.9" fill="none" stroke="rgb(170,170,170)" stroke-width="0.5"/><path d="M438.5,278.2Q411.2,304.1 384.3,330.5" fill="none" stroke="rgb(170,170,170)" stroke-width="0.5"/><path d="M417.7,210.1Q368.1,209.2 321.5,226.2" fill="none" stroke="rgb(67,67,67)" stroke-width="3.1"/><path d="M417.7,210.1Q368.1,209.2 321.5,226.2" fill="none" stroke="rgb(142,142,142)" stroke-width="2.2"/><path d="M417.8,210.9Q368.2,210 321.6,227" fill="none" stroke="rgb(190,190,190)" stroke-width="0.5"/><path d="M417.6,209.3Q368,208.4 321.4,225.4" fill="none" stroke="rgb(190,190,190)" stroke-width="0.5"/><path d="M493.7,178.8Q437.9,255.6 373.4,325.3" fill="none" stroke="rgb(56,56,56)" stroke-width="3.6"/><path d="M493.7,178.8Q437.9,255.6 373.4,325.3" fill="none" stroke="rgb(131,131,131)" stroke-width="2.7"/><path d="M494.5,179.4Q438.6,256.2 374.2,325.9" fill="none" stroke="rgb(179,179,179)" stroke-width="0.5"/><path d="M493,178.2Q437.1,254.9 372.7,324.7" fill="none" stroke="rgb(179,179,179)" stroke-width="0.5"/><path d="M383,170.8Q390.4,259.4 434.1,336.8" fill="none" stroke="rgb(61,61,61)" stroke-width="3.5"/><path d="M383,170.8Q390.4,259.4 434.1,336.8" fill="none" stroke="rgb(136,136,136)" stroke-width="2.6"/><path d="M383.9,170.5Q391.4,259.1 435,336.5" fill="none" stroke="rgb(184,184,184)" stroke-width="0.5"/><path d="M382.1,171.1Q389.5,259.6 433.2,337" fill="none" stroke="rgb(184,184,184)" stroke-width="0.5"/><path d="M455.3,180.2Q408.3,274.3 327.5,341.6" fill="none" stroke="rgb(45,45,45)" stroke-width="3.7"/><path d="M455.3,180.2Q408.3,274.3 327.5,341.6" fill="none" stroke="rgb(120,120,120)" stroke-width="2.8"/><path d="M456.1,180.8Q409.1,274.9 328.2,342.2" fill="none" stroke="rgb(168,168,168)" stroke-width="0.5"/><path d="M454.5,179.6Q407.5,273.7 326.7,341" fill="none" stroke="rgb(168,168,168)" stroke-width="0.5"/><path d="M461.9,188.4Q404.9,211.8 360.4,254.6" fill="none" stroke="rgb(51,51,51)" stroke-width="3.8"/><path d="M461.9,188.4Q404.9,211.8 360.4,254.6" fill="none" stroke="rgb(126,126,126)" stroke-width="2.9"/><path d="M462.5,189.3Q405.4,212.7 360.9,255.4" fill="none" stroke="rgb(174,174,174)" stroke-width="0.5"/><path d="M461.4,187.5Q404.3,210.9 359.8,253.7" fill="none" stroke="rgb(174,174,174)" stroke-width="0.5"/><path d="M479.9,249.5Q398.7,266.8 326.8,308.3" fill="none" stroke="rgb(44,44,44)" stroke-width="2.7"/><path d="M479.9,249.5Q398.7,266.8 326.8,308.3" fill="none" stroke="rgb(119,119,119)" stroke-width="1.8"/><path d="M480.1,250.1Q398.9,267.4 327,308.9" fill="none" stroke="rgb(167,167,167)" stroke-width="0.5"/><path d="M479.7,248.9Q398.5,266.2 326.6,307.7" fill="none" stroke="rgb(167,167,167)" stroke-width="0.5"/><path d="M530,237.8Q439.6,286.6 337.3,296.9" fill="none" stroke="rgb(43,43,43)" stroke-width="3.7"/><path d="M530,237.8Q439.6,286.6 337.3,296.9" fill="none" stroke="rgb(118,118,118)" stroke-width="2.8"/><path d="M530.3,238.8Q439.8,287.6 337.6,297.9" fill="none" stroke="rgb(166,166,166)" stroke-width="0.5"/><path d="M529.7,236.9Q439.3,285.7 337,295.9" fill="none" stroke="rgb(166,166,166)" stroke-width="0.5"/><path d="M398.8,234.9Q377.8,300.9 364.3,368.9" fill="none" stroke="rgb(58,58,58)" stroke-width="2.7"/><path d="M398.8,234.9Q377.8,300.9 364.3,368.9" fill="none" stroke="rgb(133,133,133)" stroke-width="1.8"/><path d="M399.5,235Q378.5,301.1 365,369" fill="none" stroke="rgb(181,181,181)" stroke-width="0.5"/><path d="M398.2,234.7Q377.2,300.8 363.7,368.7" fill="none" stroke="rgb(181,181,181)" stroke-width="0.5"/><path d="M330.9,212Q394.7,274.7 479.7,302.3" fill="none" stroke="rgb(53,53,53)" stroke-width="3.6"/><path d="M330.9,212Q394.7,274.7 479.7,302.3" fill="none" stroke="rgb(128,128,128)" stroke-width="2.7"/><path d="M331.5,211.2Q395.2,273.9 480.3,301.5" fill="none" stroke="rgb(176,176,176)" stroke-width="0.5"/><path d="M330.4,212.9Q394.2,275.6 479.2,303.1" fill="none" stroke="rgb(176,176,176)" stroke-width="0.5"/><path d="M422.6,213.6Q345.4,244.9 278.5,294.6" fill="none" stroke="rgb(52,52,52)" stroke-width="3.3"/><path d="M422.6,213.6Q345.4,244.9 278.5,294.6" fill="none" stroke="rgb(127,127,127)" stroke-width="2.4"/><path d="M423.1,214.4Q345.8,245.7 278.9,295.3" fill="none" stroke="rgb(175,175,175)" stroke-width="0.5"/><path d="M422.2,212.9Q345,244.2 278,293.8" fill="none" stroke="rgb(175,175,175)" stroke-width="0.5"/><path d="M389.2,189Q396.6,297.8 416.3,405.2" fill="none" stroke="rgb(56,56,56)" stroke-width="3.1"/><path d="M389.2,189Q396.6,297.8 416.3,405.2" fill="none" stroke="rgb(131,131,131)" stroke-width="2.2"/><path d="M390,188.9Q397.4,297.7 417.1,405.1" fill="none" stroke="rgb(179,179,179)" stroke-width="0.5"/><path d="M388.4,189.1Q395.8,297.9 415.5,405.3" fill="none" stroke="rgb(179,179,179)" stroke-width="0.5"/><path d="M455.3,225.7Q389.2,286.3 303.6,313.2" fill="none" stroke="rgb(60,60,60)" stroke-width="3.3"/><path d="M455.3,225.7Q389.2,286.3 303.6,313.2" fill="none" stroke="rgb(135,135,135)" stroke-width="2.4"/><path d="M455.7,226.4Q389.6,287.1 304,313.9" fill="none" stroke="rgb(183,183,183)" stroke-width="0.5"/><path d="M454.8,224.9Q388.7,285.6 303.1,312.4" fill="none" stroke="rgb(183,183,183)" stroke-width="0.5"/><path d="M385,165.7Q440.5,207.4 470,270.3" fill="none" stroke="rgb(55,55,55)" stroke-width="2.7"/><path d="M385,165.7Q440.5,207.4 470,270.3" fill="none" stroke="rgb(130,130,130)" stroke-width="1.8"/><path d="M385.5,165.3Q441,207 470.5,269.8" fill="none" stroke="rgb(178,178,178)" stroke-width="0.5"/><path d="M384.5,166.1Q440,207.8 469.5,270.7" fill="none" stroke="rgb(178,178,178)" stroke-width="0.5"/><path d="M451.5,163.9Q425.6,230 378,282.7" fill="none" stroke="rgb(50,50,50)" stroke-width="3.5"/><path d="M451.5,163.9Q425.6,230 378,282.7" fill="none" stroke="rgb(125,125,125)" stroke-width="2.6"/><path d="M452.3,164.4Q426.5,230.5 378.8,283.2" fill="none" stroke="rgb(173,173,173)" stroke-width="0.5"/><path d="M450.7,163.4Q424.8,229.5 377.2,282.2" fill="none" stroke="rgb(173,173,173)" stroke-width="0.5"/><path d="M311.8,224.5Q349.1,298.2 406.1,358" fill="none" stroke="rgb(56,56,56)" stroke-width="3.5"/><path d="M311.8,224.5Q349.1,298.2 406.1,358" fill="none" stroke="rgb(131,131,131)" stroke-width="2.6"/><path d="M312.6,224Q349.9,297.7 406.9,357.4" fill="none" stroke="rgb(179,179,179)" stroke-width="0.5"/><path d="M311.1,225.1Q348.3,298.8 405.4,358.5" fill="none" stroke="rgb(179,179,179)" stroke-width="0.5"/><path d="M410.7,255Q407.2,301.7 408.2,348.6" fill="none" stroke="rgb(40,40,40)" stroke-width="3.7"/><path d="M410.7,255Q407.2,301.7 408.2,348.6" fill="none" stroke="rgb(115,115,115)" stroke-width="2.8"/><path d="M411.7,255Q408.2,301.8 409.2,348.6" fill="none" stroke="rgb(163,163,163)" stroke-width="0.5"/><path d="M409.7,254.9Q406.2,301.7 407.2,348.6" fill="none" stroke="rgb(163,163,163)" stroke-width="0.5"/><path d="M413.9,229.8Q442.3,269.2 469.1,309.9" fill="none" stroke="rgb(48,48,48)" stroke-width="3"/><path d="M413.9,229.8Q442.3,269.2 469.1,309.9" fill="none" stroke="rgb(123,123,123)" stroke-width="2.1"/><path d="M414.5,229.3Q442.9,268.8 469.7,309.5" fill="none" stroke="rgb(171,171,171)" stroke-width="0.5"/><path d="M413.3,230.2Q441.7,269.7 468.4,310.3" fill="none" stroke="rgb(171,171,171)" stroke-width="0.5"/><path d="M405.9,133.9Q343.1,204.5 308.5,292.4" fill="none" stroke="rgb(53,53,53)" stroke-width="3"/><path d="M405.9,133.9Q343.1,204.5 308.5,292.4" fill="none" stroke="rgb(128,128,128)" stroke-width="2.1"/><path d="M406.5,134.3Q343.7,204.9 309.2,292.8" fill="none" stroke="rgb(176,176,176)" stroke-width="0.5"/><path d="M405.3,133.5Q342.5,204.1 307.9,292" fill="none" stroke="rgb(176,176,176)" stroke-width="0.5"/><path d="M302.4,218.4Q362.4,245.1 415.7,283.7" fill="none" stroke="rgb(59,59,59)" stroke-width="3.8"/><path d="M302.4,218.4Q362.4,245.1 415.7,283.7" fill="none" stroke="rgb(134,134,134)" stroke-width="2.9"/><path d="M302.9,217.5Q363,244.2 416.2,282.8" fill="none" stroke="rgb(182,182,182)" stroke-width="0.5"/><path d="M301.9,219.3Q361.9,246 415.2,284.6" fill="none" stroke="rgb(182,182,182)" stroke-width="0.5"/><path d="M435.6,192.3Q457.3,230 491.5,256.9" fill="none" stroke="rgb(54,54,54)" stroke-width="3.3"/><path d="M435.6,192.3Q457.3,230 491.5,256.9" fill="none" stroke="rgb(129,129,129)" stroke-width="2.4"/><path d="M436.2,191.7Q457.9,229.4 492.1,256.3" fill="none" stroke="rgb(177,177,177)" stroke-width="0.5"/><path d="M435,192.8Q456.6,230.5 490.8,257.4" fill="none" stroke="rgb(177,177,177)" stroke-width="0.5"/><path d="M324.5,195Q370.9,217.5 418.3,237.5" fill="none" stroke="rgb(52,52,52)" stroke-width="3.2"/><path d="M324.5,195Q370.9,217.5 418.3,237.5" fill="none" stroke="rgb(127,127,127)" stroke-width="2.3"/><path d="M324.8,194.3Q371.2,216.7 418.6,236.8" fill="none" stroke="rgb(175,175,175)" stroke-width="0.5"/><path d="M324.2,195.8Q370.5,218.2 418,238.3" fill="none" stroke="rgb(175,175,175)" stroke-width="0.5"/><path d="M404.8,206.7Q373.8,277.2 359.8,352.9" fill="none" stroke="rgb(56,56,56)" stroke-width="3.1"/><path d="M404.8,206.7Q373.8,277.2 359.8,352.9" fill="none" stroke="rgb(131,131,131)" stroke-width="2.2"/><path d="M405.6,207Q374.6,277.4 360.6,353.1" fill="none" stroke="rgb(179,179,179)" stroke-width="0.5"/><path d="M404.1,206.5Q373.1,277 359.1,352.7" fill="none" stroke="rgb(179,179,179)" stroke-width="0.5"/><path d="M524.6,278Q431.8,275 347.7,314.3" fill="none" stroke="rgb(35,35,35)" stroke-width="3"/><path d="M524.6,278Q431.8,275 347.7,314.3" fill="none" stroke="rgb(110,110,110)" stroke-width="2.1"/><path d="M524.7,278.8Q431.9,275.8 347.8,315.1" fill="none" stroke="rgb(158,158,158)" stroke-width="0.5"/><path d="M524.4,277.3Q431.6,274.2 347.5,313.6" fill="none" stroke="rgb(158,158,158)" stroke-width="0.5"/><path d="M301.3,188.6Q396.3,237.6 483.2,299.9" fill="none" stroke="rgb(42,42,42)" stroke-width="3.3"/><path d="M301.3,188.6Q396.3,237.6 483.2,299.9" fill="none" stroke="rgb(117,117,117)" stroke-width="2.4"/><path d="M301.7,187.8Q396.7,236.8 483.6,299.1" fill="none" stroke="rgb(165,165,165)" stroke-width="0.5"/><path d="M300.8,189.3Q395.9,238.3 482.7,300.6" fill="none" stroke="rgb(165,165,165)" stroke-width="0.5"/><path d="M424.4,238.6Q386.9,248.8 348.1,246.3" fill="none" stroke="rgb(58,58,58)" stroke-width="2.8"/><path d="M424.4,238.6Q386.9,248.8 348.1,246.3" fill="none" stroke="rgb(133,133,133)" stroke-width="1.9"/><path d="M424.4,239.3Q386.9,249.5 348.1,247" fill="none" stroke="rgb(181,181,181)" stroke-width="0.5"/><path d="M424.3,237.9Q386.8,248.1 348,245.6" fill="none" stroke="rgb(181,181,181)" stroke-width="0.5"/><path d="M417.3,195.5Q350.3,234.7 285,276.5" fill="none" stroke="rgb(40,40,40)" stroke-width="3.3"/><path d="M417.3,195.5Q350.3,234.7 285,276.5" fill="none" stroke="rgb(115,115,115)" stroke-width="2.4"/><path d="M417.8,196.2Q350.8,235.4 285.5,277.3" fill="none" stroke="rgb(163,163,163)" stroke-width="0.5"/><path d="M416.9,194.8Q349.9,233.9 284.6,275.8" fill="none" stroke="rgb(163,163,163)" stroke-width="0.5"/><path d="M390.8,115.4Q376.1,223.1 391.9,330.7" fill="none" stroke="rgb(40,40,40)" stroke-width="3.1"/><path d="M390.8,115.4Q376.1,223.1 391.9,330.7" fill="none" stroke="rgb(115,115,115)" stroke-width="2.2"/><path d="M391.6,115.4Q376.9,223.1 392.7,330.7" fill="none" stroke="rgb(163,163,163)" stroke-width="0.5"/><path d="M390,115.4Q375.3,223.1 391.1,330.7" fill="none" stroke="rgb(163,163,163)" stroke-width="0.5"/><path d="M374.7,184.5Q404,225.3 421.9,272.1" fill="none" stroke="rgb(52,52,52)" stroke-width="3.4"/><path d="M374.7,184.5Q404,225.3 421.9,272.1" fill="none" stroke="rgb(127,127,127)" stroke-width="2.5"/><path d="M375.5,184.1Q404.8,224.8 422.7,271.7" fill="none" stroke="rgb(175,175,175)" stroke-width="0.5"/><path d="M373.9,185Q403.2,225.7 421.1,272.5" fill="none" stroke="rgb(175,175,175)" stroke-width="0.5"/><path d="M491.7,178.9Q472.7,277.4 423.8,364.9" fill="none" stroke="rgb(59,59,59)" stroke-width="2.8"/><path d="M491.7,178.9Q472.7,277.4 423.8,364.9" fill="none" stroke="rgb(134,134,134)" stroke-width="1.9"/><path d="M492.3,179.2Q473.4,277.6 424.4,365.1" fill="none" stroke="rgb(182,182,182)" stroke-width="0.5"/><path d="M491.1,178.7Q472.1,277.2 423.2,364.7" fill="none" stroke="rgb(182,182,182)" stroke-width="0.5"/><path d="M446.3,118.1Q447.2,216 432.2,312.8" fill="none" stroke="rgb(56,56,56)" stroke-width="3.6"/><path d="M446.3,118.1Q447.2,216 432.2,312.8" fill="none" stroke="rgb(131,131,131)" stroke-width="2.7"/><path d="M447.3,118.1Q448.2,216.1 433.2,312.9" fill="none" stroke="rgb(179,179,179)" stroke-width="0.5"/><path d="M445.4,118Q446.2,216 431.3,312.8" fill="none" stroke="rgb(179,179,179)" stroke-width="0.5"/><path d="M427.7,160.5Q367.7,197.3 324.9,253.1" fill="none" stroke="rgb(36,36,36)" stroke-width="3.4"/><path d="M427.7,160.5Q367.7,197.3 324.9,253.1" fill="none" stroke="rgb(111,111,111)" stroke-width="2.5"/><path d="M428.2,161.2Q368.2,197.9 325.4,253.8" fill="none" stroke="rgb(159,159,159)" stroke-width="0.5"/><path d="M427.1,159.9Q367.1,196.6 324.3,252.5" fill="none" stroke="rgb(159,159,159)" stroke-width="0.5"/><path d="M526.5,254.8Q416.6,241.4 308.5,265.1" fill="none" stroke="rgb(57,57,57)" stroke-width="3.2"/><path d="M526.5,254.8Q416.6,241.4 308.5,265.1" fill="none" stroke="rgb(132,132,132)" stroke-width="2.3"/><path d="M526.5,255.6Q416.6,242.2 308.5,265.9" fill="none" stroke="rgb(180,180,180)" stroke-width="0.5"/><path d="M526.4,253.9Q416.5,240.5 308.4,264.2" fill="none" stroke="rgb(180,180,180)" stroke-width="0.5"/><path d="M455.7,226Q393.2,247.7 333,275.1" fill="none" stroke="rgb(63,63,63)" stroke-width="2.8"/><path d="M455.7,226Q393.2,247.7 333,275.1" fill="none" stroke="rgb(138,138,138)" stroke-width="1.9"/><path d="M456,226.6Q393.5,248.4 333.2,275.7" fill="none" stroke="rgb(186,186,186)" stroke-width="0.5"/><path d="M455.5,225.3Q393,247.1 332.7,274.4" fill="none" stroke="rgb(186,186,186)" stroke-width="0.5"/><path d="M401.1,132.5Q473.8,196.2 508.6,286.3" fill="none" stroke="rgb(53,53,53)" stroke-width="2.8"/><path d="M401.1,132.5Q473.8,196.2 508.6,286.3" fill="none" stroke="rgb(128,128,128)" stroke-width="1.9"/><path d="M401.7,132.1Q474.3,195.8 509.2,285.9" fill="none" stroke="rgb(176,176,176)" stroke-width="0.5"/><path d="M400.6,132.9Q473.2,196.6 508.1,286.7" fill="none" stroke="rgb(176,176,176)" stroke-width="0.5"/><path d="M350.8,97.8Q384.1,201.6 400,309.5" fill="none" stroke="rgb(60,60,60)" stroke-width="3.7"/><path d="M350.8,97.8Q384.1,201.6 400,309.5" fill="none" stroke="rgb(135,135,135)" stroke-width="2.8"/><path d="M351.8,97.6Q385.1,201.4 401,309.3" fill="none" stroke="rgb(183,183,183)" stroke-width="0.5"/><path d="M349.9,98Q383.1,201.8 399.1,309.7" fill="none" stroke="rgb(183,183,183)" stroke-width="0.5"/><path d="M306.2,252.3Q354.5,300.9 405.6,346.5" fill="none" stroke="rgb(63,63,63)" stroke-width="2.9"/><path d="M306.2,252.3Q354.5,300.9 405.6,346.5" fill="none" stroke="rgb(138,138,138)" stroke-width="2"/><path d="M306.7,251.7Q355,300.3 406.1,346" fill="none" stroke="rgb(186,186,186)" stroke-width="0.5"/><path d="M305.7,252.8Q354,301.4 405.1,347.1" fill="none" stroke="rgb(186,186,186)" stroke-width="0.5"/><path d="M416.6,176Q407.5,205.5 407.8,236.4" fill="none" stroke="rgb(64,64,64)" stroke-width="3.1"/><path d="M416.6,176Q407.5,205.5 407.8,236.4" fill="none" stroke="rgb(139,139,139)" stroke-width="2.2"/><path d="M417.4,176.1Q408.3,205.6 408.6,236.5" fill="none" stroke="rgb(187,187,187)" stroke-width="0.5"/><path d="M415.8,175.9Q406.7,205.4 407,236.3" fill="none" stroke="rgb(187,187,187)" stroke-width="0.5"/><path d="M449.4,175.7Q458.1,216 451.4,256.8" fill="none" stroke="rgb(44,44,44)" stroke-width="2.8"/><path d="M449.4,175.7Q458.1,216 451.4,256.8" fill="none" stroke="rgb(119,119,119)" stroke-width="1.9"/><path d="M450,175.7Q458.8,216 452.1,256.8" fill="none" stroke="rgb(167,167,167)" stroke-width="0.5"/><path d="M448.7,175.7Q457.4,216.1 450.7,256.8" fill="none" stroke="rgb(167,167,167)" stroke-width="0.5"/></g></g>
<g clip-path="url(#c3)"><g filter="url(#sblur)"><rect x="11.7" y="322.9" width="121.1" height="113.9" fill="#383838"/><path d="M10.5,312.8Q37,386.7 72.7,456.6" fill="none" stroke="rgb(29,29,29)" stroke-width="3"/><path d="M10.5,312.8Q37,386.7 72.7,456.6" fill="none" stroke="rgb(104,104,104)" stroke-width="2.1"/><path d="M11.1,312.5Q37.7,386.4 73.4,456.3" fill="none" stroke="rgb(152,152,152)" stroke-width="0.5"/><path d="M9.8,313.1Q36.4,387 72,456.9" fill="none" stroke="rgb(152,152,152)" stroke-width="0.5"/><path d="M127.3,331.7Q115.3,375.7 112.9,421.2" fill="none" stroke="rgb(64,64,64)" stroke-width="3.5"/><path d="M127.3,331.7Q115.3,375.7 112.9,421.2" fill="none" stroke="rgb(139,139,139)" stroke-width="2.6"/><path d="M128.3,331.9Q116.2,375.8 113.9,421.4" fill="none" stroke="rgb(187,187,187)" stroke-width="0.5"/><path d="M126.4,331.6Q114.3,375.5 112,421.1" fill="none" stroke="rgb(187,187,187)" stroke-width="0.5"/><path d="M-2.4,358.3Q62.7,408.4 141.4,432" fill="none" stroke="rgb(29,29,29)" stroke-width="3.5"/><path d="M-2.4,358.3Q62.7,408.4 141.4,432" fill="none" stroke="rgb(104,104,104)" stroke-width="2.6"/><path d="M-2,357.5Q63.1,407.5 141.8,431.1" fill="none" stroke="rgb(152,152,152)" stroke-width="0.5"/><path d="M-2.9,359.2Q62.3,409.2 141,432.8" fill="none" stroke="rgb(152,152,152)" stroke-width="0.5"/><path d="M148.4,278.7Q97.6,337.5 36.3,385.2" fill="none" stroke="rgb(46,46,46)" stroke-width="2.9"/><path d="M148.4,278.7Q97.6,337.5 36.3,385.2" fill="none" stroke="rgb(121,121,121)" stroke-width="2"/><path d="M148.9,279.2Q98.1,338 36.8,385.7" fill="none" stroke="rgb(169,169,169)" stroke-width="0.5"/><path d="M147.9,278.2Q97.1,337 35.8,384.6" fill="none" stroke="rgb(169,169,169)" stroke-width="0.5"/><path d="M150,371.5Q62.2,386.9 -11.8,436.3" fill="none" stroke="rgb(65,65,65)" stroke-width="3.4"/><path d="M150,371.5Q62.2,386.9 -11.8,436.3" fill="none" stroke="rgb(140,140,140)" stroke-width="2.5"/><path d="M150.3,372.3Q62.6,387.7 -11.5,437.1" fill="none" stroke="rgb(188,188,188)" stroke-width="0.5"/><path d="M149.6,370.7Q61.9,386 -12.2,435.4" fill="none" stroke="rgb(188,188,188)" stroke-width="0.5"/><path d="M100.9,413.7Q68.3,434.1 30.7,441.8" fill="none" stroke="rgb(56,56,56)" stroke-width="3.2"/><path d="M100.9,413.7Q68.3,434.1 30.7,441.8" fill="none" stroke="rgb(131,131,131)" stroke-width="2.3"/><path d="M101.2,414.4Q68.6,434.9 31,442.5" fill="none" stroke="rgb(179,179,179)" stroke-width="0.5"/><path d="M100.6,412.9Q68,433.4 30.4,441" fill="none" stroke="rgb(179,179,179)" stroke-width="0.5"/><path d="M81.2,325.2Q101.4,419.8 128.6,512.6" fill="none" stroke="rgb(55,55,55)" stroke-width="3.5"/><path d="M81.2,325.2Q101.4,419.8 128.6,512.6" fill="none" stroke="rgb(130,130,130)" stroke-width="2.6"/><path d="M82.1,324.9Q102.4,419.5 129.5,512.4" fill="none" stroke="rgb(178,178,178)" stroke-width="0.5"/><path d="M80.3,325.4Q100.5,420 127.7,512.8" fill="none" stroke="rgb(178,178,178)" stroke-width="0.5"/><path d="M138.6,336.5Q66.5,414.2 25.7,512" fill="none" stroke="rgb(39,39,39)" stroke-width="4.1"/><path d="M138.6,336.5Q66.5,414.2 25.7,512" fill="none" stroke="rgb(114,114,114)" stroke-width="3.2"/><path d="M139.5,337.2Q67.4,414.8 26.6,512.6" fill="none" stroke="rgb(162,162,162)" stroke-width="0.5"/><path d="M137.6,335.9Q65.5,413.6 24.7,511.4" fill="none" stroke="rgb(162,162,162)" stroke-width="0.5"/><path d="M105.4,285.7Q110.4,362.7 85.6,435.9" fill="none" stroke="rgb(65,65,65)" stroke-width="3.7"/><path d="M105.4,285.7Q110.4,362.7 85.6,435.9" fill="none" stroke="rgb(140,140,140)" stroke-width="2.8"/><path d="M106.4,285.8Q111.4,362.9 86.6,436" fill="none" stroke="rgb(188,188,188)" stroke-width="0.5"/><path d="M104.4,285.5Q109.4,362.6 84.6,435.7" fill="none" stroke="rgb(188,188,188)" stroke-width="0.5"/><path d="M40.4,257.6Q45.6,338.5 49.6,419.5" fill="none" stroke="rgb(33,33,33)" stroke-width="3.3"/><path d="M40.4,257.6Q45.6,338.5 49.6,419.5" fill="none" stroke="rgb(108,108,108)" stroke-width="2.4"/><path d="M41.3,257.6Q46.5,338.5 50.4,419.5" fill="none" stroke="rgb(156,156,156)" stroke-width="0.5"/><path d="M39.5,257.7Q44.8,338.6 48.7,419.6" fill="none" stroke="rgb(156,156,156)" stroke-width="0.5"/><path d="M6.6,268.5Q48.2,351.8 117,414.5" fill="none" stroke="rgb(31,31,31)" stroke-width="3"/><path d="M6.6,268.5Q48.2,351.8 117,414.5" fill="none" stroke="rgb(106,106,106)" stroke-width="2.1"/><path d="M7.2,268Q48.8,351.3 117.5,414" fill="none" stroke="rgb(154,154,154)" stroke-width="0.5"/><path d="M6,268.9Q47.6,352.2 116.4,414.9" fill="none" stroke="rgb(154,154,154)" stroke-width="0.5"/><path d="M74.4,286.9Q69.3,391.2 41.4,491.8" fill="none" stroke="rgb(31,31,31)" stroke-width="3.2"/><path d="M74.4,286.9Q69.3,391.2 41.4,491.8" fill="none" stroke="rgb(106,106,106)" stroke-width="2.3"/><path d="M75.3,287Q70.1,391.3 42.2,491.9" fill="none" stroke="rgb(154,154,154)" stroke-width="0.5"/><path d="M73.6,286.8Q68.4,391 40.6,491.6" fill="none" stroke="rgb(154,154,154)" stroke-width="0.5"/><path d="M60,302.4Q54.6,334.9 39.9,364.3" fill="none" stroke="rgb(45,45,45)" stroke-width="3.4"/><path d="M60,302.4Q54.6,334.9 39.9,364.3" fill="none" stroke="rgb(120,120,120)" stroke-width="2.5"/><path d="M60.8,302.7Q55.5,335.2 40.8,364.6" fill="none" stroke="rgb(168,168,168)" stroke-width="0.5"/><path d="M59.1,302.2Q53.8,334.6 39.1,364" fill="none" stroke="rgb(168,168,168)" stroke-width="0.5"/><path d="M82.4,307.3Q26.9,318 -18.4,351.8" fill="none" stroke="rgb(53,53,53)" stroke-width="4"/><path d="M82.4,307.3Q26.9,318 -18.4,351.8" fill="none" stroke="rgb(128,128,128)" stroke-width="3.1"/><path d="M82.9,308.3Q27.3,319 -18,352.8" fill="none" stroke="rgb(176,176,176)" stroke-width="0.5"/><path d="M82,306.3Q26.4,317 -18.9,350.8" fill="none" stroke="rgb(176,176,176)" stroke-width="0.5"/><path d="M23,327.4Q49.4,423.6 92.6,513.6" fill="none" stroke="rgb(61,61,61)" stroke-width="3"/><path d="M23,327.4Q49.4,423.6 92.6,513.6" fill="none" stroke="rgb(136,136,136)" stroke-width="2.1"/><path d="M23.8,327.2Q50.1,423.4 93.3,513.3" fill="none" stroke="rgb(184,184,184)" stroke-width="0.5"/><path d="M22.3,327.7Q48.7,423.9 91.9,513.8" fill="none" stroke="rgb(184,184,184)" stroke-width="0.5"/><path d="M111.2,312.9Q48,396.7 -20.3,476.4" fill="none" stroke="rgb(48,48,48)" stroke-width="3.2"/><path d="M111.2,312.9Q48,396.7 -20.3,476.4" fill="none" stroke="rgb(123,123,123)" stroke-width="2.3"/><path d="M111.9,313.4Q48.7,397.2 -19.6,476.9" fill="none" stroke="rgb(171,171,171)" stroke-width="0.5"/><path d="M110.6,312.3Q47.4,396.1 -20.9,475.8" fill="none" stroke="rgb(171,171,171)" stroke-width="0.5"/><path d="M57.8,252.5Q95.6,321.3 98,399.9" fill="none" stroke="rgb(37,37,37)" stroke-width="3.6"/><path d="M57.8,252.5Q95.6,321.3 98,399.9" fill="none" stroke="rgb(112,112,112)" stroke-width="2.7"/><path d="M58.8,252.2Q96.6,321.1 99,399.6" fill="none" stroke="rgb(160,160,160)" stroke-width="0.5"/><path d="M56.9,252.7Q94.7,321.6 97.1,400.1" fill="none" stroke="rgb(160,160,160)" stroke-width="0.5"/><path d="M11.8,310Q26.9,393.2 29.7,477.7" fill="none" stroke="rgb(60,60,60)" stroke-width="3.7"/><path d="M11.8,310Q26.9,393.2 29.7,477.7" fill="none" stroke="rgb(135,135,135)" stroke-width="2.8"/><path d="M12.8,309.9Q27.9,393.1 30.7,477.6" fill="none" stroke="rgb(183,183,183)" stroke-width="0.5"/><path d="M10.8,310.1Q25.9,393.3 28.6,477.8" fill="none" stroke="rgb(183,183,183)" stroke-width="0.5"/><path d="M72.5,240.4Q27.6,338.6 -39.9,422.7" fill="none" stroke="rgb(49,49,49)" stroke-width="3.4"/><path d="M72.5,240.4Q27.6,338.6 -39.9,422.7" fill="none" stroke="rgb(124,124,124)" stroke-width="2.5"/><path d="M73.3,240.9Q28.4,339 -39.2,423.1" fill="none" stroke="rgb(172,172,172)" stroke-width="0.5"/><path d="M71.8,240Q26.9,338.1 -40.7,422.2" fill="none" stroke="rgb(172,172,172)" stroke-width="0.5"/><path d="M105.2,278.1Q42.4,353.6 -36.2,412.4" fill="none" stroke="rgb(35,35,35)" stroke-width="3.8"/><path d="M105.2,278.1Q42.4,353.6 -36.2,412.4" fill="none" stroke="rgb(110,110,110)" stroke-width="2.9"/><path d="M105.9,278.9Q43.1,354.4 -35.5,413.2" fill="none" stroke="rgb(158,158,158)" stroke-width="0.5"/><path d="M104.4,277.3Q41.7,352.8 -36.9,411.7" fill="none" stroke="rgb(158,158,158)" stroke-width="0.5"/><path d="M123.3,241.1Q112.4,329.7 85,414.6" fill="none" stroke="rgb(46,46,46)" stroke-width="3.2"/><path d="M123.3,241.1Q112.4,329.7 85,414.6" fill="none" stroke="rgb(121,121,121)" stroke-width="2.3"/><path d="M124.1,241.3Q113.2,329.9 85.8,414.8" fill="none" stroke="rgb(169,169,169)" stroke-width="0.5"/><path d="M122.5,241Q111.6,329.5 84.2,414.4" fill="none" stroke="rgb(169,169,169)" stroke-width="0.5"/><path d="M24.3,261.4Q58.4,342 59,429.6" fill="none" stroke="rgb(50,50,50)" stroke-width="3.3"/><path d="M24.3,261.4Q58.4,342 59,429.6" fill="none" stroke="rgb(125,125,125)" stroke-width="2.4"/><path d="M25.1,261.2Q59.2,341.9 59.8,429.4" fill="none" stroke="rgb(173,173,173)" stroke-width="0.5"/><path d="M23.5,261.6Q57.5,342.2 58.2,429.7" fill="none" stroke="rgb(173,173,173)" stroke-width="0.5"/><path d="M181.1,289.4Q105.4,368.1 4.4,409.7" fill="none" stroke="rgb(42,42,42)" stroke-width="3.8"/><path d="M181.1,289.4Q105.4,368.1 4.4,409.7" fill="none" stroke="rgb(117,117,117)" stroke-width="2.9"/><path d="M181.7,290.3Q105.9,369 5,410.6" fill="none" stroke="rgb(165,165,165)" stroke-width="0.5"/><path d="M180.5,288.6Q104.8,367.3 3.8,408.8" fill="none" stroke="rgb(165,165,165)" stroke-width="0.5"/><path d="M87.2,348.7Q116.9,374.9 147.5,400.2" fill="none" stroke="rgb(65,65,65)" stroke-width="3.1"/><path d="M87.2,348.7Q116.9,374.9 147.5,400.2" fill="none" stroke="rgb(140,140,140)" stroke-width="2.2"/><path d="M87.7,348.1Q117.5,374.3 148,399.6" fill="none" stroke="rgb(188,188,188)" stroke-width="0.5"/><path d="M86.6,349.3Q116.4,375.5 147,400.9" fill="none" stroke="rgb(188,188,188)" stroke-width="0.5"/><path d="M102.1,309.2Q28.1,345.3 -31.7,401.8" fill="none" stroke="rgb(37,37,37)" stroke-width="3.3"/><path d="M102.1,309.2Q28.1,345.3 -31.7,401.8" fill="none" stroke="rgb(112,112,112)" stroke-width="2.4"/><path d="M102.6,309.9Q28.6,346 -31.2,402.5" fill="none" stroke="rgb(160,160,160)" stroke-width="0.5"/><path d="M101.6,308.5Q27.6,344.6 -32.2,401.1" fill="none" stroke="rgb(160,160,160)" stroke-width="0.5"/><path d="M122.9,351.4Q61,377.9 3.2,412.4" fill="none" stroke="rgb(65,65,65)" stroke-width="3.2"/><path d="M122.9,351.4Q61,377.9 3.2,412.4" fill="none" stroke="rgb(140,140,140)" stroke-width="2.3"/><path d="M123.3,352.1Q61.4,378.6 3.6,413.1" fill="none" stroke="rgb(188,188,188)" stroke-width="0.5"/><path d="M122.5,350.6Q60.6,377.1 2.8,411.6" fill="none" stroke="rgb(188,188,188)" stroke-width="0.5"/><path d="M34.9,411.8Q58.5,432 88.5,440.4" fill="none" stroke="rgb(61,61,61)" stroke-width="4"/><path d="M34.9,411.8Q58.5,432 88.5,440.4" fill="none" stroke="rgb(136,136,136)" stroke-width="3.1"/><path d="M35.4,410.8Q59,431 89,439.4" fill="none" stroke="rgb(184,184,184)" stroke-width="0.5"/><path d="M34.3,412.7Q58,433 87.9,441.3" fill="none" stroke="rgb(184,184,184)" stroke-width="0.5"/><path d="M111.1,418.5Q63.2,423.6 18,440.1" fill="none" stroke="rgb(62,62,62)" stroke-width="3.9"/><path d="M111.1,418.5Q63.2,423.6 18,440.1" fill="none" stroke="rgb(137,137,137)" stroke-width="3"/><path d="M111.3,419.6Q63.5,424.7 18.3,441.2" fill="none" stroke="rgb(185,185,185)" stroke-width="0.5"/><path d="M110.8,417.5Q63,422.6 17.8,439.1" fill="none" stroke="rgb(185,185,185)" stroke-width="0.5"/><path d="M219.6,351.1Q120.5,368 33.5,418.3" fill="none" stroke="rgb(36,36,36)" stroke-width="4.1"/><path d="M219.6,351.1Q120.5,368 33.5,418.3" fill="none" stroke="rgb(111,111,111)" stroke-width="3.2"/><path d="M219.9,352.1Q120.9,369.1 33.9,419.3" fill="none" stroke="rgb(159,159,159)" stroke-width="0.5"/><path d="M219.2,350Q120.1,366.9 33.1,417.2" fill="none" stroke="rgb(159,159,159)" stroke-width="0.5"/><path d="M190.2,304.4Q103.2,312.6 27,355.4" fill="none" stroke="rgb(56,56,56)" stroke-width="4"/><path d="M190.2,304.4Q103.2,312.6 27,355.4" fill="none" stroke="rgb(131,131,131)" stroke-width="3.1"/><path d="M190.5,305.4Q103.5,313.6 27.3,356.4" fill="none" stroke="rgb(179,179,179)" stroke-width="0.5"/><path d="M189.8,303.3Q102.8,311.5 26.6,354.3" fill="none" stroke="rgb(179,179,179)" stroke-width="0.5"/><path d="M111.7,295Q84.4,329.4 50.8,357.7" fill="none" stroke="rgb(62,62,62)" stroke-width="3.7"/><path d="M111.7,295Q84.4,329.4 50.8,357.7" fill="none" stroke="rgb(137,137,137)" stroke-width="2.8"/><path d="M112.5,295.7Q85.1,330.1 51.5,358.4" fill="none" stroke="rgb(185,185,185)" stroke-width="0.5"/><path d="M111,294.3Q83.7,328.7 50.1,357" fill="none" stroke="rgb(185,185,185)" stroke-width="0.5"/><path d="M114.2,320.2Q78.6,337.8 38.9,341.3" fill="none" stroke="rgb(63,63,63)" stroke-width="4.1"/><path d="M114.2,320.2Q78.6,337.8 38.9,341.3" fill="none" stroke="rgb(138,138,138)" stroke-width="3.2"/><path d="M114.5,321.3Q78.9,338.9 39.3,342.4" fill="none" stroke="rgb(186,186,186)" stroke-width="0.5"/><path d="M113.9,319.1Q78.2,336.7 38.6,340.2" fill="none" stroke="rgb(186,186,186)" stroke-width="0.5"/><path d="M49,370Q68.9,411.2 90.1,451.8" fill="none" stroke="rgb(39,39,39)" stroke-width="3.9"/><path d="M49,370Q68.9,411.2 90.1,451.8" fill="none" stroke="rgb(114,114,114)" stroke-width="3"/><path d="M50,369.5Q69.8,410.8 91.1,451.3" fill="none" stroke="rgb(162,162,162)" stroke-width="0.5"/><path d="M48.1,370.4Q67.9,411.7 89.2,452.3" fill="none" stroke="rgb(162,162,162)" stroke-width="0.5"/><path d="M79.6,341.3Q38.9,347 3.9,368.7" fill="none" stroke="rgb(65,65,65)" stroke-width="3.5"/><path d="M79.6,341.3Q38.9,347 3.9,368.7" fill="none" stroke="rgb(140,140,140)" stroke-width="2.6"/><path d="M79.9,342.2Q39.2,347.9 4.2,369.5" fill="none" stroke="rgb(188,188,188)" stroke-width="0.5"/><path d="M79.3,340.4Q38.5,346.1 3.5,367.8" fill="none" stroke="rgb(188,188,188)" stroke-width="0.5"/><path d="M80.8,291.6Q114.2,330.8 148.6,369.2" fill="none" stroke="rgb(59,59,59)" stroke-width="3.4"/><path d="M80.8,291.6Q114.2,330.8 148.6,369.2" fill="none" stroke="rgb(134,134,134)" stroke-width="2.5"/><path d="M81.5,291Q114.9,330.3 149.3,368.6" fill="none" stroke="rgb(182,182,182)" stroke-width="0.5"/><path d="M80.1,292.2Q113.5,331.4 147.9,369.8" fill="none" stroke="rgb(182,182,182)" stroke-width="0.5"/><path d="M134.4,375Q60.6,433.8 -31.4,454.9" fill="none" stroke="rgb(59,59,59)" stroke-width="3"/><path d="M134.4,375Q60.6,433.8 -31.4,454.9" fill="none" stroke="rgb(134,134,134)" stroke-width="2.1"/><path d="M134.8,375.7Q60.9,434.4 -31,455.6" fill="none" stroke="rgb(182,182,182)" stroke-width="0.5"/><path d="M134.1,374.3Q60.3,433.1 -31.7,454.3" fill="none" stroke="rgb(182,182,182)" stroke-width="0.5"/><path d="M60.2,400Q129.6,412.6 195.5,437.6" fill="none" stroke="rgb(51,51,51)" stroke-width="3.3"/><path d="M60.2,400Q129.6,412.6 195.5,437.6" fill="none" stroke="rgb(126,126,126)" stroke-width="2.4"/><path d="M60.4,399.2Q129.8,411.8 195.7,436.7" fill="none" stroke="rgb(174,174,174)" stroke-width="0.5"/><path d="M60,400.9Q129.3,413.4 195.2,438.4" fill="none" stroke="rgb(174,174,174)" stroke-width="0.5"/><path d="M29.3,325.9Q48.7,374.9 88.4,409.5" fill="none" stroke="rgb(37,37,37)" stroke-width="3.4"/><path d="M29.3,325.9Q48.7,374.9 88.4,409.5" fill="none" stroke="rgb(112,112,112)" stroke-width="2.5"/><path d="M30.1,325.4Q49.4,374.4 89.2,409" fill="none" stroke="rgb(160,160,160)" stroke-width="0.5"/><path d="M28.6,326.4Q47.9,375.5 87.7,410" fill="none" stroke="rgb(160,160,160)" stroke-width="0.5"/><path d="M65.4,369.7Q84.2,401.4 92.1,437.4" fill="none" stroke="rgb(63,63,63)" stroke-width="3.3"/><path d="M65.4,369.7Q84.2,401.4 92.1,437.4" fill="none" stroke="rgb(138,138,138)" stroke-width="2.4"/><path d="M66.2,369.4Q85,401.1 92.9,437.1" fill="none" stroke="rgb(186,186,186)" stroke-width="0.5"/><path d="M64.6,370.1Q83.4,401.8 91.3,437.8" fill="none" stroke="rgb(186,186,186)" stroke-width="0.5"/><path d="M82.5,353.2Q62,414.5 33.9,472.7" fill="none" stroke="rgb(49,49,49)" stroke-width="3.5"/><path d="M82.5,353.2Q62,414.5 33.9,472.7" fill="none" stroke="rgb(124,124,124)" stroke-width="2.6"/><path d="M83.4,353.5Q62.9,414.8 34.8,473.1" fill="none" stroke="rgb(172,172,172)" stroke-width="0.5"/><path d="M81.7,352.8Q61.2,414.1 33.1,472.4" fill="none" stroke="rgb(172,172,172)" stroke-width="0.5"/><path d="M56.9,352Q62.1,401.3 69,450.4" fill="none" stroke="rgb(33,33,33)" stroke-width="3.7"/><path d="M56.9,352Q62.1,401.3 69,450.4" fill="none" stroke="rgb(108,108,108)" stroke-width="2.8"/><path d="M57.9,351.8Q63.1,401.2 70,450.3" fill="none" stroke="rgb(156,156,156)" stroke-width="0.5"/><path d="M55.8,352.1Q61,401.4 68,450.5" fill="none" stroke="rgb(156,156,156)" stroke-width="0.5"/><path d="M78.2,336.7Q108.9,347 137.3,362.4" fill="none" stroke="rgb(64,64,64)" stroke-width="4.1"/><path d="M78.2,336.7Q108.9,347 137.3,362.4" fill="none" stroke="rgb(139,139,139)" stroke-width="3.2"/><path d="M78.6,335.7Q109.3,345.9 137.8,361.4" fill="none" stroke="rgb(187,187,187)" stroke-width="0.5"/><path d="M77.7,337.8Q108.4,348 136.9,363.5" fill="none" stroke="rgb(187,187,187)" stroke-width="0.5"/><path d="M101.8,314.1Q100.1,354.4 110.8,393.3" fill="none" stroke="rgb(62,62,62)" stroke-width="3.7"/><path d="M101.8,314.1Q100.1,354.4 110.8,393.3" fill="none" stroke="rgb(137,137,137)" stroke-width="2.8"/><path d="M102.8,314Q101.1,354.3 111.8,393.2" fill="none" stroke="rgb(185,185,185)" stroke-width="0.5"/><path d="M100.8,314.2Q99.1,354.5 109.8,393.4" fill="none" stroke="rgb(185,185,185)" stroke-width="0.5"/><path d="M156.8,342.5Q117.6,408.3 56.2,454" fill="none" stroke="rgb(29,29,29)" stroke-width="3.6"/><path d="M156.8,342.5Q117.6,408.3 56.2,454" fill="none" stroke="rgb(104,104,104)" stroke-width="2.7"/><path d="M157.5,343.2Q118.3,408.9 56.9,454.7" fill="none" stroke="rgb(152,152,152)" stroke-width="0.5"/><path d="M156.1,341.9Q116.8,407.6 55.4,453.4" fill="none" stroke="rgb(152,152,152)" stroke-width="0.5"/><path d="M44.4,283Q67,351.6 93.9,418.6" fill="none" stroke="rgb(53,53,53)" stroke-width="3.7"/><path d="M44.4,283Q67,351.6 93.9,418.6" fill="none" stroke="rgb(128,128,128)" stroke-width="2.8"/><path d="M45.4,282.7Q67.9,351.3 94.8,418.3" fill="none" stroke="rgb(176,176,176)" stroke-width="0.5"/><path d="M43.5,283.4Q66,352 92.9,419" fill="none" stroke="rgb(176,176,176)" stroke-width="0.5"/><path d="M69.6,308.5Q31.4,321.5 -0.2,346.4" fill="none" stroke="rgb(47,47,47)" stroke-width="3.7"/><path d="M69.6,308.5Q31.4,321.5 -0.2,346.4" fill="none" stroke="rgb(122,122,122)" stroke-width="2.8"/><path d="M70,309.4Q31.9,322.4 0.3,347.3" fill="none" stroke="rgb(170,170,170)" stroke-width="0.5"/><path d="M69.1,307.6Q30.9,320.6 -0.7,345.6" fill="none" stroke="rgb(170,170,170)" stroke-width="0.5"/><path d="M-9.3,402.3Q81.5,413.2 172.3,423.1" fill="none" stroke="rgb(35,35,35)" stroke-width="3.8"/><path d="M-9.3,402.3Q81.5,413.2 172.3,423.1" fill="none" stroke="rgb(110,110,110)" stroke-width="2.9"/><path d="M-9.2,401.3Q81.6,412.2 172.4,422.1" fill="none" stroke="rgb(158,158,158)" stroke-width="0.5"/><path d="M-9.4,403.3Q81.3,414.2 172.2,424.1" fill="none" stroke="rgb(158,158,158)" stroke-width="0.5"/><path d="M91,262.9Q65.1,333.6 66.3,408.9" fill="none" stroke="rgb(33,33,33)" stroke-width="3.1"/><path d="M91,262.9Q65.1,333.6 66.3,408.9" fill="none" stroke="rgb(108,108,108)" stroke-width="2.2"/><path d="M91.8,263Q65.9,333.7 67.1,409" fill="none" stroke="rgb(156,156,156)" stroke-width="0.5"/><path d="M90.2,262.8Q64.4,333.5 65.5,408.7" fill="none" stroke="rgb(156,156,156)" stroke-width="0.5"/><path d="M-14,288.6Q34.9,351.8 98.1,400.7" fill="none" stroke="rgb(52,52,52)" stroke-width="3.4"/><path d="M-14,288.6Q34.9,351.8 98.1,400.7" fill="none" stroke="rgb(127,127,127)" stroke-width="2.5"/><path d="M-13.4,288Q35.6,351.1 98.7,400.1" fill="none" stroke="rgb(175,175,175)" stroke-width="0.5"/><path d="M-14.6,289.2Q34.3,352.4 97.5,401.3" fill="none" stroke="rgb(175,175,175)" stroke-width="0.5"/><path d="M102.9,322.5Q90.5,429.3 64.9,533.7" fill="none" stroke="rgb(55,55,55)" stroke-width="3.2"/><path d="M102.9,322.5Q90.5,429.3 64.9,533.7" fill="none" stroke="rgb(130,130,130)" stroke-width="2.3"/><path d="M103.7,322.6Q91.3,429.4 65.7,533.8" fill="none" stroke="rgb(178,178,178)" stroke-width="0.5"/><path d="M102.1,322.3Q89.7,429.1 64.1,533.5" fill="none" stroke="rgb(178,178,178)" stroke-width="0.5"/><path d="M92.6,358.4Q109.6,432 132.3,504" fill="none" stroke="rgb(59,59,59)" stroke-width="4"/><path d="M92.6,358.4Q109.6,432 132.3,504" fill="none" stroke="rgb(134,134,134)" stroke-width="3.1"/><path d="M93.7,358.1Q110.7,431.7 133.4,503.7" fill="none" stroke="rgb(182,182,182)" stroke-width="0.5"/><path d="M91.6,358.7Q108.5,432.3 131.3,504.3" fill="none" stroke="rgb(182,182,182)" stroke-width="0.5"/><path d="M72.3,354.1Q32,369 -8.4,383.9" fill="none" stroke="rgb(62,62,62)" stroke-width="3.5"/><path d="M72.3,354.1Q32,369 -8.4,383.9" fill="none" stroke="rgb(137,137,137)" stroke-width="2.6"/><path d="M72.7,355Q32.3,369.9 -8,384.7" fill="none" stroke="rgb(185,185,185)" stroke-width="0.5"/><path d="M72,353.2Q31.7,368.1 -8.7,383" fill="none" stroke="rgb(185,185,185)" stroke-width="0.5"/><path d="M161.9,371.7Q122.8,384.7 88.1,407" fill="none" stroke="rgb(61,61,61)" stroke-width="3.1"/><path d="M161.9,371.7Q122.8,384.7 88.1,407" fill="none" stroke="rgb(136,136,136)" stroke-width="2.2"/><path d="M162.3,372.4Q123.1,385.4 88.5,407.7" fill="none" stroke="rgb(184,184,184)" stroke-width="0.5"/><path d="M161.6,371Q122.5,384 87.8,406.3" fill="none" stroke="rgb(184,184,184)" stroke-width="0.5"/><path d="M110.6,262.7Q59.5,356.6 -9.5,438.1" fill="none" stroke="rgb(55,55,55)" stroke-width="3.7"/><path d="M110.6,262.7Q59.5,356.6 -9.5,438.1" fill="none" stroke="rgb(130,130,130)" stroke-width="2.8"/><path d="M111.5,263.3Q60.4,357.1 -8.6,438.7" fill="none" stroke="rgb(178,178,178)" stroke-width="0.5"/><path d="M109.8,262.2Q58.7,356 -10.3,437.5" fill="none" stroke="rgb(178,178,178)" stroke-width="0.5"/><path d="M184.4,384Q83.9,398.9 -17.6,394.3" fill="none" stroke="rgb(53,53,53)" stroke-width="3.2"/><path d="M184.4,384Q83.9,398.9 -17.6,394.3" fill="none" stroke="rgb(128,128,128)" stroke-width="2.3"/><path d="M184.5,384.8Q83.9,399.7 -17.6,395.1" fill="none" stroke="rgb(176,176,176)" stroke-width="0.5"/><path d="M184.4,383.1Q83.9,398 -17.7,393.5" fill="none" stroke="rgb(176,176,176)" stroke-width="0.5"/><path d="M-13,340.8Q28.7,396.7 87.4,434.3" fill="none" stroke="rgb(59,59,59)" stroke-width="3.4"/><path d="M-13,340.8Q28.7,396.7 87.4,434.3" fill="none" stroke="rgb(134,134,134)" stroke-width="2.5"/><path d="M-12.4,340.1Q29.3,396 88,433.7" fill="none" stroke="rgb(182,182,182)" stroke-width="0.5"/><path d="M-13.6,341.4Q28.1,397.3 86.8,435" fill="none" stroke="rgb(182,182,182)" stroke-width="0.5"/><path d="M121.4,248.6Q88.3,345.6 70.3,446.4" fill="none" stroke="rgb(33,33,33)" stroke-width="2.9"/><path d="M121.4,248.6Q88.3,345.6 70.3,446.4" fill="none" stroke="rgb(108,108,108)" stroke-width="2"/><path d="M122.1,248.8Q89,345.7 71,446.6" fill="none" stroke="rgb(156,156,156)" stroke-width="0.5"/><path d="M120.7,248.4Q87.6,345.4 69.6,446.2" fill="none" stroke="rgb(156,156,156)" stroke-width="0.5"/><path d="M185.6,289.6Q115.3,370.1 42.5,448.2" fill="none" stroke="rgb(44,44,44)" stroke-width="3.2"/><path d="M185.6,289.6Q115.3,370.1 42.5,448.2" fill="none" stroke="rgb(119,119,119)" stroke-width="2.3"/><path d="M186.2,290.1Q115.9,370.6 43.1,448.8" fill="none" stroke="rgb(167,167,167)" stroke-width="0.5"/><path d="M184.9,289Q114.7,369.5 41.9,447.7" fill="none" stroke="rgb(167,167,167)" stroke-width="0.5"/><path d="M43.3,400.1Q90.9,404.6 135.9,420.6" fill="none" stroke="rgb(45,45,45)" stroke-width="4"/><path d="M43.3,400.1Q90.9,404.6 135.9,420.6" fill="none" stroke="rgb(120,120,120)" stroke-width="3.1"/><path d="M43.6,399Q91.1,403.6 136.1,419.5" fill="none" stroke="rgb(168,168,168)" stroke-width="0.5"/><path d="M43.1,401.2Q90.6,405.7 135.6,421.6" fill="none" stroke="rgb(168,168,168)" stroke-width="0.5"/><path d="M47,365.2Q23.7,389.5 12.6,421.3" fill="none" stroke="rgb(31,31,31)" stroke-width="3.1"/><path d="M47,365.2Q23.7,389.5 12.6,421.3" fill="none" stroke="rgb(106,106,106)" stroke-width="2.2"/><path d="M47.7,365.6Q24.4,389.9 13.3,421.7" fill="none" stroke="rgb(154,154,154)" stroke-width="0.5"/><path d="M46.3,364.8Q23,389.1 11.9,420.9" fill="none" stroke="rgb(154,154,154)" stroke-width="0.5"/><path d="M74.7,343.7Q56.1,376.4 26.1,399.2" fill="none" stroke="rgb(47,47,47)" stroke-width="3.9"/><path d="M74.7,343.7Q56.1,376.4 26.1,399.2" fill="none" stroke="rgb(122,122,122)" stroke-width="3"/><path d="M75.5,344.4Q56.9,377.1 26.9,399.9" fill="none" stroke="rgb(170,170,170)" stroke-width="0.5"/><path d="M73.9,343Q55.2,375.7 25.3,398.4" fill="none" stroke="rgb(170,170,170)" stroke-width="0.5"/><path d="M56.1,332.4Q27.9,383.6 -20.3,416.8" fill="none" stroke="rgb(53,53,53)" stroke-width="3.3"/><path d="M56.1,332.4Q27.9,383.6 -20.3,416.8" fill="none" stroke="rgb(128,128,128)" stroke-width="2.4"/><path d="M56.8,333Q28.5,384.2 -19.6,417.4" fill="none" stroke="rgb(176,176,176)" stroke-width="0.5"/><path d="M55.5,331.8Q27.2,383 -20.9,416.3" fill="none" stroke="rgb(176,176,176)" stroke-width="0.5"/><path d="M98.7,245.3Q76.2,349.5 42.5,450.6" fill="none" stroke="rgb(36,36,36)" stroke-width="3.6"/><path d="M98.7,245.3Q76.2,349.5 42.5,450.6" fill="none" stroke="rgb(111,111,111)" stroke-width="2.7"/><path d="M99.6,245.6Q77.1,349.8 43.4,450.9" fill="none" stroke="rgb(159,159,159)" stroke-width="0.5"/><path d="M97.8,245.1Q75.3,349.3 41.6,450.4" fill="none" stroke="rgb(159,159,159)" stroke-width="0.5"/><path d="M103.5,269.7Q116.3,333.5 130.8,396.9" fill="none" stroke="rgb(62,62,62)" stroke-width="3.2"/><path d="M103.5,269.7Q116.3,333.5 130.8,396.9" fill="none" stroke="rgb(137,137,137)" stroke-width="2.3"/><path d="M104.3,269.5Q117.1,333.3 131.6,396.7" fill="none" stroke="rgb(185,185,185)" stroke-width="0.5"/><path d="M102.6,269.8Q115.5,333.6 130,397.1" fill="none" stroke="rgb(185,185,185)" stroke-width="0.5"/><path d="M192.3,306.6Q130,373 55.5,425.4" fill="none" stroke="rgb(45,45,45)" stroke-width="3.7"/><path d="M192.3,306.6Q130,373 55.5,425.4" fill="none" stroke="rgb(120,120,120)" stroke-width="2.8"/><path d="M193,307.4Q130.7,373.8 56.2,426.2" fill="none" stroke="rgb(168,168,168)" stroke-width="0.5"/><path d="M191.7,305.9Q129.3,372.3 54.9,424.7" fill="none" stroke="rgb(168,168,168)" stroke-width="0.5"/><path d="M-10.3,362.9Q25.4,429.2 62.8,494.5" fill="none" stroke="rgb(61,61,61)" stroke-width="3.7"/><path d="M-10.3,362.9Q25.4,429.2 62.8,494.5" fill="none" stroke="rgb(136,136,136)" stroke-width="2.8"/><path d="M-9.4,362.4Q26.3,428.7 63.7,494" fill="none" stroke="rgb(184,184,184)" stroke-width="0.5"/><path d="M-11.2,363.4Q24.5,429.7 61.9,495" fill="none" stroke="rgb(184,184,184)" stroke-width="0.5"/><path d="M95,340Q65.1,410.2 14.9,467.6" fill="none" stroke="rgb(38,38,38)" stroke-width="3.7"/><path d="M95,340Q65.1,410.2 14.9,467.6" fill="none" stroke="rgb(113,113,113)" stroke-width="2.8"/><path d="M95.8,340.6Q65.9,410.7 15.7,468.1" fill="none" stroke="rgb(161,161,161)" stroke-width="0.5"/><path d="M94.2,339.5Q64.2,409.7 14,467.1" fill="none" stroke="rgb(161,161,161)" stroke-width="0.5"/><path d="M53.4,387.5Q27.1,418.7 16,457.9" fill="none" stroke="rgb(50,50,50)" stroke-width="3.1"/><path d="M53.4,387.5Q27.1,418.7 16,457.9" fill="none" stroke="rgb(125,125,125)" stroke-width="2.2"/><path d="M54.1,387.9Q27.8,419 16.7,458.3" fill="none" stroke="rgb(173,173,173)" stroke-width="0.5"/><path d="M52.7,387.1Q26.4,418.3 15.3,457.5" fill="none" stroke="rgb(173,173,173)" stroke-width="0.5"/><path d="M75.8,343.9Q97.4,394.2 102.6,448.6" fill="none" stroke="rgb(40,40,40)" stroke-width="3.5"/><path d="M75.8,343.9Q97.4,394.2 102.6,448.6" fill="none" stroke="rgb(115,115,115)" stroke-width="2.6"/><path d="M76.7,343.7Q98.3,394 103.5,448.4" fill="none" stroke="rgb(163,163,163)" stroke-width="0.5"/><path d="M74.9,344.2Q96.5,394.4 101.7,448.9" fill="none" stroke="rgb(163,163,163)" stroke-width="0.5"/><path d="M33.7,296.7Q94.8,339.1 158.9,376.8" fill="none" stroke="rgb(35,35,35)" stroke-width="3.4"/><path d="M33.7,296.7Q94.8,339.1 158.9,376.8" fill="none" stroke="rgb(110,110,110)" stroke-width="2.5"/><path d="M34.2,295.9Q95.3,338.3 159.4,376" fill="none" stroke="rgb(158,158,158)" stroke-width="0.5"/><path d="M33.3,297.4Q94.3,339.8 158.4,377.5" fill="none" stroke="rgb(158,158,158)" stroke-width="0.5"/><path d="M75.6,354Q44.8,367 14.1,380" fill="none" stroke="rgb(61,61,61)" stroke-width="3.2"/><path d="M75.6,354Q44.8,367 14.1,380" fill="none" stroke="rgb(136,136,136)" stroke-width="2.3"/><path d="M75.9,354.8Q45.1,367.7 14.4,380.8" fill="none" stroke="rgb(184,184,184)" stroke-width="0.5"/><path d="M75.2,353.3Q44.5,366.2 13.8,379.3" fill="none" stroke="rgb(184,184,184)" stroke-width="0.5"/><path d="M33.2,291.5Q45.7,364.5 77.1,431.4" fill="none" stroke="rgb(36,36,36)" stroke-width="3.3"/><path d="M33.2,291.5Q45.7,364.5 77.1,431.4" fill="none" stroke="rgb(111,111,111)" stroke-width="2.4"/><path d="M34.1,291.3Q46.5,364.2 77.9,431.2" fill="none" stroke="rgb(159,159,159)" stroke-width="0.5"/><path d="M32.4,291.8Q44.8,364.7 76.3,431.7" fill="none" stroke="rgb(159,159,159)" stroke-width="0.5"/><path d="M72,326.5Q18.5,381.4 -9.1,453" fill="none" stroke="rgb(41,41,41)" stroke-width="3"/><path d="M72,326.5Q18.5,381.4 -9.1,453" fill="none" stroke="rgb(116,116,116)" stroke-width="2.1"/><path d="M72.7,326.9Q19.1,381.9 -8.5,453.4" fill="none" stroke="rgb(164,164,164)" stroke-width="0.5"/><path d="M71.4,326.1Q17.8,381 -9.8,452.6" fill="none" stroke="rgb(164,164,164)" stroke-width="0.5"/><path d="M43.7,296.2Q99.1,391.8 116.5,500.9" fill="none" stroke="rgb(54,54,54)" stroke-width="3.6"/><path d="M43.7,296.2Q99.1,391.8 116.5,500.9" fill="none" stroke="rgb(129,129,129)" stroke-width="2.7"/><path d="M44.6,295.8Q100.1,391.5 117.5,500.6" fill="none" stroke="rgb(177,177,177)" stroke-width="0.5"/><path d="M42.7,296.5Q98.2,392.1 115.6,501.3" fill="none" stroke="rgb(177,177,177)" stroke-width="0.5"/><path d="M69.1,362.2Q103,391.8 145.3,407.4" fill="none" stroke="rgb(47,47,47)" stroke-width="3.3"/><path d="M69.1,362.2Q103,391.8 145.3,407.4" fill="none" stroke="rgb(122,122,122)" stroke-width="2.4"/><path d="M69.5,361.4Q103.5,391 145.7,406.6" fill="none" stroke="rgb(170,170,170)" stroke-width="0.5"/><path d="M68.6,362.9Q102.6,392.5 144.8,408.1" fill="none" stroke="rgb(170,170,170)" stroke-width="0.5"/><path d="M117,377.7Q19.3,419 -82.6,448.7" fill="none" stroke="rgb(48,48,48)" stroke-width="3.6"/><path d="M117,377.7Q19.3,419 -82.6,448.7" fill="none" stroke="rgb(123,123,123)" stroke-width="2.7"/><path d="M117.4,378.6Q19.6,419.9 -82.3,449.6" fill="none" stroke="rgb(171,171,171)" stroke-width="0.5"/><path d="M116.7,376.8Q19,418.1 -82.9,447.8" fill="none" stroke="rgb(171,171,171)" stroke-width="0.5"/></g></g>
<g clip-path="url(#c4)"><g filter="url(#sblur)"><rect x="348.4" y="326" width="115.6" height="109.2" fill="#3a3a3a"/><path d="M363.1,298.7Q385.4,335.9 390.3,379" fill="none" stroke="rgb(49,49,49)" stroke-width="3.7"/><path d="M363.1,298.7Q385.4,335.9 390.3,379" fill="none" stroke="rgb(124,124,124)" stroke-width="2.8"/><path d="M364.1,298.4Q386.4,335.6 391.3,378.7" fill="none" stroke="rgb(172,172,172)" stroke-width="0.5"/><path d="M362.2,299Q384.5,336.2 389.4,379.3" fill="none" stroke="rgb(172,172,172)" stroke-width="0.5"/><path d="M383.8,361.7Q445,402.3 495.6,455.3" fill="none" stroke="rgb(37,37,37)" stroke-width="3.4"/><path d="M383.8,361.7Q445,402.3 495.6,455.3" fill="none" stroke="rgb(112,112,112)" stroke-width="2.5"/><path d="M384.4,361Q445.5,401.6 496.2,454.6" fill="none" stroke="rgb(160,160,160)" stroke-width="0.5"/><path d="M383.2,362.4Q444.4,402.9 495.1,456" fill="none" stroke="rgb(160,160,160)" stroke-width="0.5"/><path d="M298.6,420.7Q380.4,417.5 460.6,433.7" fill="none" stroke="rgb(41,41,41)" stroke-width="3.6"/><path d="M298.6,420.7Q380.4,417.5 460.6,433.7" fill="none" stroke="rgb(116,116,116)" stroke-width="2.7"/><path d="M298.7,419.7Q380.5,416.5 460.7,432.8" fill="none" stroke="rgb(164,164,164)" stroke-width="0.5"/><path d="M298.5,421.6Q380.3,418.4 460.5,434.7" fill="none" stroke="rgb(164,164,164)" stroke-width="0.5"/><path d="M450.5,320.6Q371,381.5 319.5,467.4" fill="none" stroke="rgb(52,52,52)" stroke-width="3.3"/><path d="M450.5,320.6Q371,381.5 319.5,467.4" fill="none" stroke="rgb(127,127,127)" stroke-width="2.4"/><path d="M451.1,321.1Q371.7,382.1 320.1,467.9" fill="none" stroke="rgb(175,175,175)" stroke-width="0.5"/><path d="M449.8,320Q370.4,380.9 318.8,466.8" fill="none" stroke="rgb(175,175,175)" stroke-width="0.5"/><path d="M367.8,345.2Q432.7,369.4 482.9,417.2" fill="none" stroke="rgb(66,66,66)" stroke-width="4.4"/><path d="M367.8,345.2Q432.7,369.4 482.9,417.2" fill="none" stroke="rgb(141,141,141)" stroke-width="3.5"/><path d="M368.5,344.2Q433.4,368.3 483.6,416.1" fill="none" stroke="rgb(189,189,189)" stroke-width="0.5"/><path d="M367.1,346.3Q432.1,370.5 482.3,418.3" fill="none" stroke="rgb(189,189,189)" stroke-width="0.5"/><path d="M391.7,260.2Q450.7,323.8 496.7,397.3" fill="none" stroke="rgb(43,43,43)" stroke-width="4.2"/><path d="M391.7,260.2Q450.7,323.8 496.7,397.3" fill="none" stroke="rgb(118,118,118)" stroke-width="3.3"/><path d="M392.6,259.5Q451.6,323.1 497.7,396.6" fill="none" stroke="rgb(166,166,166)" stroke-width="0.5"/><path d="M390.7,260.9Q449.7,324.5 495.8,398.1" fill="none" stroke="rgb(166,166,166)" stroke-width="0.5"/><path d="M387.4,349.1Q400.7,390.1 405.8,432.9" fill="none" stroke="rgb(33,33,33)" stroke-width="4.3"/><path d="M387.4,349.1Q400.7,390.1 405.8,432.9" fill="none" stroke="rgb(108,108,108)" stroke-width="3.4"/><path d="M388.6,348.8Q401.9,389.8 407,432.6" fill="none" stroke="rgb(156,156,156)" stroke-width="0.5"/><path d="M386.2,349.4Q399.5,390.4 404.6,433.2" fill="none" stroke="rgb(156,156,156)" stroke-width="0.5"/><path d="M431,376.1Q359.4,371.4 287.9,377.2" fill="none" stroke="rgb(40,40,40)" stroke-width="4.1"/><path d="M431,376.1Q359.4,371.4 287.9,377.2" fill="none" stroke="rgb(115,115,115)" stroke-width="3.2"/><path d="M431,377.3Q359.4,372.5 287.9,378.4" fill="none" stroke="rgb(163,163,163)" stroke-width="0.5"/><path d="M430.9,374.9Q359.4,370.2 287.9,376.1" fill="none" stroke="rgb(163,163,163)" stroke-width="0.5"/><path d="M449.2,304.1Q458.7,349.4 474.2,393.1" fill="none" stroke="rgb(53,53,53)" stroke-width="3.6"/><path d="M449.2,304.1Q458.7,349.4 474.2,393.1" fill="none" stroke="rgb(128,128,128)" stroke-width="2.7"/><path d="M450.1,303.8Q459.7,349.1 475.1,392.8" fill="none" stroke="rgb(176,176,176)" stroke-width="0.5"/><path d="M448.3,304.3Q457.8,349.7 473.3,393.3" fill="none" stroke="rgb(176,176,176)" stroke-width="0.5"/><path d="M417.9,348.1Q402.7,391.6 380.2,431.8" fill="none" stroke="rgb(45,45,45)" stroke-width="4.3"/><path d="M417.9,348.1Q402.7,391.6 380.2,431.8" fill="none" stroke="rgb(120,120,120)" stroke-width="3.4"/><path d="M419,348.6Q403.9,392.1 381.4,432.3" fill="none" stroke="rgb(168,168,168)" stroke-width="0.5"/><path d="M416.7,347.6Q401.6,391.1 379.1,431.3" fill="none" stroke="rgb(168,168,168)" stroke-width="0.5"/><path d="M417.5,372.6Q377.7,381.4 345.3,405.9" fill="none" stroke="rgb(32,32,32)" stroke-width="3.6"/><path d="M417.5,372.6Q377.7,381.4 345.3,405.9" fill="none" stroke="rgb(107,107,107)" stroke-width="2.7"/><path d="M417.9,373.4Q378.1,382.3 345.7,406.8" fill="none" stroke="rgb(155,155,155)" stroke-width="0.5"/><path d="M417.1,371.7Q377.3,380.5 344.9,405.1" fill="none" stroke="rgb(155,155,155)" stroke-width="0.5"/><path d="M455.9,367.2Q351.2,389.5 254.4,435.5" fill="none" stroke="rgb(32,32,32)" stroke-width="4.4"/><path d="M455.9,367.2Q351.2,389.5 254.4,435.5" fill="none" stroke="rgb(107,107,107)" stroke-width="3.5"/><path d="M456.3,368.4Q351.6,390.7 254.8,436.7" fill="none" stroke="rgb(155,155,155)" stroke-width="0.5"/><path d="M455.5,366Q350.8,388.3 254,434.3" fill="none" stroke="rgb(155,155,155)" stroke-width="0.5"/><path d="M313.6,323.9Q379.6,375 459.3,399.8" fill="none" stroke="rgb(35,35,35)" stroke-width="4.3"/><path d="M313.6,323.9Q379.6,375 459.3,399.8" fill="none" stroke="rgb(110,110,110)" stroke-width="3.4"/><path d="M314.1,322.8Q380.1,373.9 459.9,398.7" fill="none" stroke="rgb(158,158,158)" stroke-width="0.5"/><path d="M313,325Q379,376.1 458.7,400.9" fill="none" stroke="rgb(158,158,158)" stroke-width="0.5"/><path d="M376,307.9Q385.5,347.7 390.3,388.4" fill="none" stroke="rgb(52,52,52)" stroke-width="4.5"/><path d="M376,307.9Q385.5,347.7 390.3,388.4" fill="none" stroke="rgb(127,127,127)" stroke-width="3.6"/><path d="M377.3,307.6Q386.8,347.5 391.5,388.2" fill="none" stroke="rgb(175,175,175)" stroke-width="0.5"/><path d="M374.7,308.1Q384.3,347.9 389,388.6" fill="none" stroke="rgb(175,175,175)" stroke-width="0.5"/><path d="M406,307.6Q405.4,367.5 422.7,424.8" fill="none" stroke="rgb(67,67,67)" stroke-width="4.5"/><path d="M406,307.6Q405.4,367.5 422.7,424.8" fill="none" stroke="rgb(142,142,142)" stroke-width="3.6"/><path d="M407.3,307.4Q406.7,367.3 424,424.7" fill="none" stroke="rgb(190,190,190)" stroke-width="0.5"/><path d="M404.7,307.8Q404.2,367.7 421.5,425" fill="none" stroke="rgb(190,190,190)" stroke-width="0.5"/><path d="M350.2,386Q371.2,428.8 372.3,476.6" fill="none" stroke="rgb(41,41,41)" stroke-width="3.3"/><path d="M350.2,386Q371.2,428.8 372.3,476.6" fill="none" stroke="rgb(116,116,116)" stroke-width="2.4"/><path d="M351,385.8Q372,428.6 373.1,476.4" fill="none" stroke="rgb(164,164,164)" stroke-width="0.5"/><path d="M349.4,386.2Q370.4,429.1 371.4,476.8" fill="none" stroke="rgb(164,164,164)" stroke-width="0.5"/><path d="M441.1,360.5Q414,429.1 392.7,499.7" fill="none" stroke="rgb(33,33,33)" stroke-width="3.6"/><path d="M441.1,360.5Q414,429.1 392.7,499.7" fill="none" stroke="rgb(108,108,108)" stroke-width="2.7"/><path d="M442,360.8Q414.9,429.4 393.6,500" fill="none" stroke="rgb(156,156,156)" stroke-width="0.5"/><path d="M440.1,360.2Q413.1,428.8 391.7,499.4" fill="none" stroke="rgb(156,156,156)" stroke-width="0.5"/><path d="M411.6,342.7Q354.1,372.1 316.5,424.6" fill="none" stroke="rgb(46,46,46)" stroke-width="3.8"/><path d="M411.6,342.7Q354.1,372.1 316.5,424.6" fill="none" stroke="rgb(121,121,121)" stroke-width="2.9"/><path d="M412.3,343.5Q354.8,372.9 317.2,425.4" fill="none" stroke="rgb(169,169,169)" stroke-width="0.5"/><path d="M410.9,341.9Q353.4,371.3 315.8,423.8" fill="none" stroke="rgb(169,169,169)" stroke-width="0.5"/><path d="M348.8,338.2Q396.3,383.5 449.9,421.3" fill="none" stroke="rgb(44,44,44)" stroke-width="3.8"/><path d="M348.8,338.2Q396.3,383.5 449.9,421.3" fill="none" stroke="rgb(119,119,119)" stroke-width="2.9"/><path d="M349.4,337.4Q397,382.7 450.6,420.5" fill="none" stroke="rgb(167,167,167)" stroke-width="0.5"/><path d="M348.1,339Q395.7,384.3 449.3,422.1" fill="none" stroke="rgb(167,167,167)" stroke-width="0.5"/><path d="M371.6,295.9Q411.2,326.3 440.5,366.7" fill="none" stroke="rgb(47,47,47)" stroke-width="3.5"/><path d="M371.6,295.9Q411.2,326.3 440.5,366.7" fill="none" stroke="rgb(122,122,122)" stroke-width="2.6"/><path d="M372.3,295.3Q411.9,325.6 441.2,366.1" fill="none" stroke="rgb(170,170,170)" stroke-width="0.5"/><path d="M370.9,296.6Q410.5,327 439.8,367.4" fill="none" stroke="rgb(170,170,170)" stroke-width="0.5"/><path d="M439.5,316.5Q362.1,315.4 292.9,350.3" fill="none" stroke="rgb(33,33,33)" stroke-width="3.7"/><path d="M439.5,316.5Q362.1,315.4 292.9,350.3" fill="none" stroke="rgb(108,108,108)" stroke-width="2.8"/><path d="M439.8,317.5Q362.3,316.4 293.1,351.2" fill="none" stroke="rgb(156,156,156)" stroke-width="0.5"/><path d="M439.3,315.5Q361.8,314.4 292.7,349.3" fill="none" stroke="rgb(156,156,156)" stroke-width="0.5"/><path d="M326.8,276.3Q393.3,353.5 484.3,399.2" fill="none" stroke="rgb(52,52,52)" stroke-width="4.4"/><path d="M326.8,276.3Q393.3,353.5 484.3,399.2" fill="none" stroke="rgb(127,127,127)" stroke-width="3.5"/><path d="M327.6,275.3Q394.1,352.5 485.1,398.2" fill="none" stroke="rgb(175,175,175)" stroke-width="0.5"/><path d="M326,277.3Q392.5,354.5 483.5,400.2" fill="none" stroke="rgb(175,175,175)" stroke-width="0.5"/><path d="M436,360.6Q384.1,379.7 330.9,394.5" fill="none" stroke="rgb(48,48,48)" stroke-width="3.5"/><path d="M436,360.6Q384.1,379.7 330.9,394.5" fill="none" stroke="rgb(123,123,123)" stroke-width="2.6"/><path d="M436.3,361.5Q384.4,380.6 331.2,395.4" fill="none" stroke="rgb(171,171,171)" stroke-width="0.5"/><path d="M435.7,359.7Q383.8,378.8 330.6,393.6" fill="none" stroke="rgb(171,171,171)" stroke-width="0.5"/><path d="M387.1,270.6Q399,369.1 389.3,467.9" fill="none" stroke="rgb(43,43,43)" stroke-width="4"/><path d="M387.1,270.6Q399,369.1 389.3,467.9" fill="none" stroke="rgb(118,118,118)" stroke-width="3.1"/><path d="M388.2,270.6Q400.2,369.1 390.4,467.9" fill="none" stroke="rgb(166,166,166)" stroke-width="0.5"/><path d="M385.9,270.6Q397.9,369.1 388.2,468" fill="none" stroke="rgb(166,166,166)" stroke-width="0.5"/><path d="M256.4,380.6Q351.9,430.8 454.3,464.5" fill="none" stroke="rgb(41,41,41)" stroke-width="3.3"/><path d="M256.4,380.6Q351.9,430.8 454.3,464.5" fill="none" stroke="rgb(116,116,116)" stroke-width="2.4"/><path d="M256.7,379.8Q352.2,430.1 454.7,463.7" fill="none" stroke="rgb(164,164,164)" stroke-width="0.5"/><path d="M256.1,381.4Q351.5,431.6 454,465.3" fill="none" stroke="rgb(164,164,164)" stroke-width="0.5"/><path d="M421.7,314.8Q430.6,376.6 432.6,438.9" fill="none" stroke="rgb(44,44,44)" stroke-width="4.2"/><path d="M421.7,314.8Q430.6,376.6 432.6,438.9" fill="none" stroke="rgb(119,119,119)" stroke-width="3.3"/><path d="M422.9,314.7Q431.8,376.5 433.8,438.8" fill="none" stroke="rgb(167,167,167)" stroke-width="0.5"/><path d="M420.5,314.9Q429.4,376.7 431.4,439" fill="none" stroke="rgb(167,167,167)" stroke-width="0.5"/><path d="M489.7,314.5Q451,323.7 417,344.2" fill="none" stroke="rgb(45,45,45)" stroke-width="4.2"/><path d="M489.7,314.5Q451,323.7 417,344.2" fill="none" stroke="rgb(120,120,120)" stroke-width="3.3"/><path d="M490.1,315.6Q451.5,324.9 417.4,345.4" fill="none" stroke="rgb(168,168,168)" stroke-width="0.5"/><path d="M489.2,313.4Q450.6,322.6 416.5,343.1" fill="none" stroke="rgb(168,168,168)" stroke-width="0.5"/><path d="M344.4,370.9Q416,414.7 479.3,470" fill="none" stroke="rgb(61,61,61)" stroke-width="4.4"/><path d="M344.4,370.9Q416,414.7 479.3,470" fill="none" stroke="rgb(136,136,136)" stroke-width="3.5"/><path d="M345.1,369.9Q416.8,413.7 480.1,469" fill="none" stroke="rgb(184,184,184)" stroke-width="0.5"/><path d="M343.6,371.9Q415.3,415.7 478.6,471" fill="none" stroke="rgb(184,184,184)" stroke-width="0.5"/><path d="M369.5,353.2Q456.6,358.2 535.6,395.3" fill="none" stroke="rgb(47,47,47)" stroke-width="3.9"/><path d="M369.5,353.2Q456.6,358.2 535.6,395.3" fill="none" stroke="rgb(122,122,122)" stroke-width="3"/><path d="M369.8,352.2Q456.9,357.1 535.8,394.2" fill="none" stroke="rgb(170,170,170)" stroke-width="0.5"/><path d="M369.3,354.3Q456.3,359.2 535.3,396.3" fill="none" stroke="rgb(170,170,170)" stroke-width="0.5"/><path d="M380,259.6Q417.3,343 456.5,425.6" fill="none" stroke="rgb(53,53,53)" stroke-width="3.2"/><path d="M380,259.6Q417.3,343 456.5,425.6" fill="none" stroke="rgb(128,128,128)" stroke-width="2.3"/><path d="M380.8,259.2Q418.1,342.7 457.3,425.3" fill="none" stroke="rgb(176,176,176)" stroke-width="0.5"/><path d="M379.3,259.9Q416.6,343.4 455.8,426" fill="none" stroke="rgb(176,176,176)" stroke-width="0.5"/><path d="M451,277Q434.1,335.8 434.5,396.9" fill="none" stroke="rgb(45,45,45)" stroke-width="3.6"/><path d="M451,277Q434.1,335.8 434.5,396.9" fill="none" stroke="rgb(120,120,120)" stroke-width="2.7"/><path d="M451.9,277.2Q435.1,335.9 435.5,397" fill="none" stroke="rgb(168,168,168)" stroke-width="0.5"/><path d="M450,276.9Q433.2,335.6 433.6,396.8" fill="none" stroke="rgb(168,168,168)" stroke-width="0.5"/><path d="M423.9,383.6Q427.9,420.3 446.2,452.4" fill="none" stroke="rgb(54,54,54)" stroke-width="4.2"/><path d="M423.9,383.6Q427.9,420.3 446.2,452.4" fill="none" stroke="rgb(129,129,129)" stroke-width="3.3"/><path d="M425,383.2Q429.1,419.9 447.4,452" fill="none" stroke="rgb(177,177,177)" stroke-width="0.5"/><path d="M422.8,384Q426.8,420.7 445.1,452.8" fill="none" stroke="rgb(177,177,177)" stroke-width="0.5"/><path d="M490.7,333.9Q416.2,391.6 324.5,413.4" fill="none" stroke="rgb(43,43,43)" stroke-width="4.3"/><path d="M490.7,333.9Q416.2,391.6 324.5,413.4" fill="none" stroke="rgb(118,118,118)" stroke-width="3.4"/><path d="M491.2,335Q416.7,392.8 325,414.6" fill="none" stroke="rgb(166,166,166)" stroke-width="0.5"/><path d="M490.1,332.7Q415.7,390.5 324,412.3" fill="none" stroke="rgb(166,166,166)" stroke-width="0.5"/><path d="M418.8,386.4Q420.3,425.9 424.1,465.2" fill="none" stroke="rgb(41,41,41)" stroke-width="3.7"/><path d="M418.8,386.4Q420.3,425.9 424.1,465.2" fill="none" stroke="rgb(116,116,116)" stroke-width="2.8"/><path d="M419.8,386.4Q421.3,425.8 425.1,465.1" fill="none" stroke="rgb(164,164,164)" stroke-width="0.5"/><path d="M417.8,386.5Q419.3,426 423.1,465.2" fill="none" stroke="rgb(164,164,164)" stroke-width="0.5"/><path d="M369.1,286.6Q368.9,343.7 371.1,400.8" fill="none" stroke="rgb(41,41,41)" stroke-width="4.4"/><path d="M369.1,286.6Q368.9,343.7 371.1,400.8" fill="none" stroke="rgb(116,116,116)" stroke-width="3.5"/><path d="M370.3,286.6Q370.1,343.7 372.4,400.8" fill="none" stroke="rgb(164,164,164)" stroke-width="0.5"/><path d="M367.8,286.7Q367.6,343.8 369.9,400.8" fill="none" stroke="rgb(164,164,164)" stroke-width="0.5"/><path d="M360.7,292.6Q343.7,359.8 341.3,429" fill="none" stroke="rgb(35,35,35)" stroke-width="3.8"/><path d="M360.7,292.6Q343.7,359.8 341.3,429" fill="none" stroke="rgb(110,110,110)" stroke-width="2.9"/><path d="M361.8,292.7Q344.7,359.9 342.4,429.2" fill="none" stroke="rgb(158,158,158)" stroke-width="0.5"/><path d="M359.7,292.4Q342.6,359.6 340.3,428.9" fill="none" stroke="rgb(158,158,158)" stroke-width="0.5"/><path d="M379.3,332.7Q414.7,366.6 437.7,409.8" fill="none" stroke="rgb(31,31,31)" stroke-width="4.3"/><path d="M379.3,332.7Q414.7,366.6 437.7,409.8" fill="none" stroke="rgb(106,106,106)" stroke-width="3.4"/><path d="M380.3,332Q415.6,365.8 438.7,409" fill="none" stroke="rgb(154,154,154)" stroke-width="0.5"/><path d="M378.3,333.5Q413.7,367.3 436.7,410.5" fill="none" stroke="rgb(154,154,154)" stroke-width="0.5"/><path d="M368.9,306.3Q427.3,391.2 483,477.9" fill="none" stroke="rgb(50,50,50)" stroke-width="4.4"/><path d="M368.9,306.3Q427.3,391.2 483,477.9" fill="none" stroke="rgb(125,125,125)" stroke-width="3.5"/><path d="M369.9,305.6Q428.4,390.5 484,477.2" fill="none" stroke="rgb(173,173,173)" stroke-width="0.5"/><path d="M367.9,307Q426.3,391.9 481.9,478.6" fill="none" stroke="rgb(173,173,173)" stroke-width="0.5"/><path d="M440.2,303.3Q459.2,380.5 469.6,459.3" fill="none" stroke="rgb(54,54,54)" stroke-width="3.5"/><path d="M440.2,303.3Q459.2,380.5 469.6,459.3" fill="none" stroke="rgb(129,129,129)" stroke-width="2.6"/><path d="M441.2,303.1Q460.1,380.3 470.6,459.2" fill="none" stroke="rgb(177,177,177)" stroke-width="0.5"/><path d="M439.3,303.5Q458.2,380.7 468.7,459.5" fill="none" stroke="rgb(177,177,177)" stroke-width="0.5"/><path d="M444.1,287Q453.7,365.2 476.7,440.5" fill="none" stroke="rgb(49,49,49)" stroke-width="4"/><path d="M444.1,287Q453.7,365.2 476.7,440.5" fill="none" stroke="rgb(124,124,124)" stroke-width="3.1"/><path d="M445.2,286.8Q454.8,365 477.8,440.3" fill="none" stroke="rgb(172,172,172)" stroke-width="0.5"/><path d="M443,287.3Q452.6,365.4 475.6,440.7" fill="none" stroke="rgb(172,172,172)" stroke-width="0.5"/><path d="M464.8,310.7Q447.6,366.3 437.3,423.5" fill="none" stroke="rgb(56,56,56)" stroke-width="3.3"/><path d="M464.8,310.7Q447.6,366.3 437.3,423.5" fill="none" stroke="rgb(131,131,131)" stroke-width="2.4"/><path d="M465.6,310.9Q448.5,366.5 438.2,423.7" fill="none" stroke="rgb(179,179,179)" stroke-width="0.5"/><path d="M463.9,310.5Q446.8,366.1 436.5,423.3" fill="none" stroke="rgb(179,179,179)" stroke-width="0.5"/><path d="M392,371.7Q430.8,418.2 452.9,474.5" fill="none" stroke="rgb(32,32,32)" stroke-width="4.3"/><path d="M392,371.7Q430.8,418.2 452.9,474.5" fill="none" stroke="rgb(107,107,107)" stroke-width="3.4"/><path d="M393.1,371.1Q431.9,417.5 454,473.9" fill="none" stroke="rgb(155,155,155)" stroke-width="0.5"/><path d="M390.9,372.4Q429.8,418.8 451.9,475.2" fill="none" stroke="rgb(155,155,155)" stroke-width="0.5"/><path d="M352.4,391.2Q406.3,416.2 465.3,423.5" fill="none" stroke="rgb(42,42,42)" stroke-width="3.3"/><path d="M352.4,391.2Q406.3,416.2 465.3,423.5" fill="none" stroke="rgb(117,117,117)" stroke-width="2.4"/><path d="M352.7,390.4Q406.6,415.4 465.6,422.7" fill="none" stroke="rgb(165,165,165)" stroke-width="0.5"/><path d="M352.2,392.1Q406.1,417.1 465.1,424.4" fill="none" stroke="rgb(165,165,165)" stroke-width="0.5"/><path d="M439.7,277.9Q402.3,377 391.4,482.3" fill="none" stroke="rgb(38,38,38)" stroke-width="4.5"/><path d="M439.7,277.9Q402.3,377 391.4,482.3" fill="none" stroke="rgb(113,113,113)" stroke-width="3.6"/><path d="M441,278.2Q403.5,377.3 392.7,482.6" fill="none" stroke="rgb(161,161,161)" stroke-width="0.5"/><path d="M438.5,277.6Q401,376.7 390.2,482" fill="none" stroke="rgb(161,161,161)" stroke-width="0.5"/><path d="M414.4,361.7Q367.2,372 324.8,395.1" fill="none" stroke="rgb(56,56,56)" stroke-width="4.1"/><path d="M414.4,361.7Q367.2,372 324.8,395.1" fill="none" stroke="rgb(131,131,131)" stroke-width="3.2"/><path d="M414.8,362.8Q367.6,373.1 325.2,396.2" fill="none" stroke="rgb(179,179,179)" stroke-width="0.5"/><path d="M414,360.6Q366.8,370.9 324.4,394" fill="none" stroke="rgb(179,179,179)" stroke-width="0.5"/><path d="M447.2,305.3Q451.9,352.9 450.2,400.6" fill="none" stroke="rgb(65,65,65)" stroke-width="4.2"/><path d="M447.2,305.3Q451.9,352.9 450.2,400.6" fill="none" stroke="rgb(140,140,140)" stroke-width="3.3"/><path d="M448.4,305.3Q453.1,352.8 451.4,400.6" fill="none" stroke="rgb(188,188,188)" stroke-width="0.5"/><path d="M446,305.4Q450.7,352.9 449.1,400.7" fill="none" stroke="rgb(188,188,188)" stroke-width="0.5"/><path d="M479.3,413.5Q421.3,435.8 361.4,452.2" fill="none" stroke="rgb(49,49,49)" stroke-width="4.3"/><path d="M479.3,413.5Q421.3,435.8 361.4,452.2" fill="none" stroke="rgb(124,124,124)" stroke-width="3.4"/><path d="M479.7,414.6Q421.7,436.9 361.8,453.3" fill="none" stroke="rgb(172,172,172)" stroke-width="0.5"/><path d="M478.9,412.3Q420.9,434.6 361.1,451" fill="none" stroke="rgb(172,172,172)" stroke-width="0.5"/><path d="M327.6,317.6Q400.8,388.4 471,462.1" fill="none" stroke="rgb(54,54,54)" stroke-width="3.9"/><path d="M327.6,317.6Q400.8,388.4 471,462.1" fill="none" stroke="rgb(129,129,129)" stroke-width="3"/><path d="M328.4,316.8Q401.6,387.6 471.8,461.4" fill="none" stroke="rgb(177,177,177)" stroke-width="0.5"/><path d="M326.9,318.4Q400,389.2 470.2,462.9" fill="none" stroke="rgb(177,177,177)" stroke-width="0.5"/><path d="M324.9,362.7Q395.6,367.4 466.1,375.1" fill="none" stroke="rgb(53,53,53)" stroke-width="4.5"/><path d="M324.9,362.7Q395.6,367.4 466.1,375.1" fill="none" stroke="rgb(128,128,128)" stroke-width="3.6"/><path d="M325,361.4Q395.8,366.1 466.3,373.8" fill="none" stroke="rgb(176,176,176)" stroke-width="0.5"/><path d="M324.8,363.9Q395.5,368.7 466,376.4" fill="none" stroke="rgb(176,176,176)" stroke-width="0.5"/><path d="M369.2,346.5Q419.8,354.1 466.3,375.2" fill="none" stroke="rgb(35,35,35)" stroke-width="4.4"/><path d="M369.2,346.5Q419.8,354.1 466.3,375.2" fill="none" stroke="rgb(110,110,110)" stroke-width="3.5"/><path d="M369.6,345.3Q420.1,352.9 466.7,374" fill="none" stroke="rgb(158,158,158)" stroke-width="0.5"/><path d="M368.9,347.7Q419.4,355.3 466,376.4" fill="none" stroke="rgb(158,158,158)" stroke-width="0.5"/><path d="M304.6,267.6Q381.4,342.6 429.4,438.5" fill="none" stroke="rgb(66,66,66)" stroke-width="4.2"/><path d="M304.6,267.6Q381.4,342.6 429.4,438.5" fill="none" stroke="rgb(141,141,141)" stroke-width="3.3"/><path d="M305.5,266.9Q382.4,341.9 430.4,437.8" fill="none" stroke="rgb(189,189,189)" stroke-width="0.5"/><path d="M303.6,268.3Q380.4,343.3 428.4,439.2" fill="none" stroke="rgb(189,189,189)" stroke-width="0.5"/><path d="M380.4,381.8Q429.6,390.9 479.5,387.5" fill="none" stroke="rgb(51,51,51)" stroke-width="3.5"/><path d="M380.4,381.8Q429.6,390.9 479.5,387.5" fill="none" stroke="rgb(126,126,126)" stroke-width="2.6"/><path d="M380.5,380.8Q429.7,390 479.6,386.6" fill="none" stroke="rgb(174,174,174)" stroke-width="0.5"/><path d="M380.4,382.7Q429.6,391.8 479.5,388.5" fill="none" stroke="rgb(174,174,174)" stroke-width="0.5"/><path d="M435.2,326.2Q357.9,352.3 283.9,386.8" fill="none" stroke="rgb(42,42,42)" stroke-width="4"/><path d="M435.2,326.2Q357.9,352.3 283.9,386.8" fill="none" stroke="rgb(117,117,117)" stroke-width="3.1"/><path d="M435.6,327.2Q358.3,353.4 284.3,387.8" fill="none" stroke="rgb(165,165,165)" stroke-width="0.5"/><path d="M434.8,325.1Q357.5,351.3 283.5,385.7" fill="none" stroke="rgb(165,165,165)" stroke-width="0.5"/><path d="M531.2,382.1Q430.4,386 332.8,411.8" fill="none" stroke="rgb(31,31,31)" stroke-width="3.9"/><path d="M531.2,382.1Q430.4,386 332.8,411.8" fill="none" stroke="rgb(106,106,106)" stroke-width="3"/><path d="M531.3,383.1Q430.5,387.1 333,412.9" fill="none" stroke="rgb(154,154,154)" stroke-width="0.5"/><path d="M531,381Q430.2,385 332.7,410.7" fill="none" stroke="rgb(154,154,154)" stroke-width="0.5"/><path d="M431.5,343.8Q423.9,386 430.8,428.4" fill="none" stroke="rgb(35,35,35)" stroke-width="3.8"/><path d="M431.5,343.8Q423.9,386 430.8,428.4" fill="none" stroke="rgb(110,110,110)" stroke-width="2.9"/><path d="M432.6,343.8Q424.9,386.1 431.9,428.5" fill="none" stroke="rgb(158,158,158)" stroke-width="0.5"/><path d="M430.5,343.8Q422.8,386 429.8,428.4" fill="none" stroke="rgb(158,158,158)" stroke-width="0.5"/><path d="M459.3,321Q391.9,343.9 325.4,369.4" fill="none" stroke="rgb(56,56,56)" stroke-width="3.6"/><path d="M459.3,321Q391.9,343.9 325.4,369.4" fill="none" stroke="rgb(131,131,131)" stroke-width="2.7"/><path d="M459.6,321.9Q392.2,344.9 325.7,370.3" fill="none" stroke="rgb(179,179,179)" stroke-width="0.5"/><path d="M459,320.1Q391.6,343 325.1,368.5" fill="none" stroke="rgb(179,179,179)" stroke-width="0.5"/><path d="M379.3,337.4Q381.2,370.1 394.8,400" fill="none" stroke="rgb(40,40,40)" stroke-width="3.2"/><path d="M379.3,337.4Q381.2,370.1 394.8,400" fill="none" stroke="rgb(115,115,115)" stroke-width="2.3"/><path d="M380.1,337.2Q382,369.9 395.6,399.8" fill="none" stroke="rgb(163,163,163)" stroke-width="0.5"/><path d="M378.5,337.6Q380.3,370.3 394,400.2" fill="none" stroke="rgb(163,163,163)" stroke-width="0.5"/><path d="M370.5,310.8Q363.9,341.6 349.5,369.6" fill="none" stroke="rgb(65,65,65)" stroke-width="3.2"/><path d="M370.5,310.8Q363.9,341.6 349.5,369.6" fill="none" stroke="rgb(140,140,140)" stroke-width="2.3"/><path d="M371.3,311.1Q364.7,341.9 350.2,369.9" fill="none" stroke="rgb(188,188,188)" stroke-width="0.5"/><path d="M369.7,310.5Q363.1,341.3 348.7,369.3" fill="none" stroke="rgb(188,188,188)" stroke-width="0.5"/><path d="M457.6,413.9Q370.9,396.6 284.5,415.8" fill="none" stroke="rgb(55,55,55)" stroke-width="4.4"/><path d="M457.6,413.9Q370.9,396.6 284.5,415.8" fill="none" stroke="rgb(130,130,130)" stroke-width="3.5"/><path d="M457.6,415.1Q370.9,397.9 284.6,417.1" fill="none" stroke="rgb(178,178,178)" stroke-width="0.5"/><path d="M457.6,412.6Q370.8,395.4 284.5,414.5" fill="none" stroke="rgb(178,178,178)" stroke-width="0.5"/><path d="M392.2,301.3Q388.5,346.2 383.6,391" fill="none" stroke="rgb(53,53,53)" stroke-width="4.4"/><path d="M392.2,301.3Q388.5,346.2 383.6,391" fill="none" stroke="rgb(128,128,128)" stroke-width="3.5"/><path d="M393.5,301.4Q389.7,346.3 384.9,391.1" fill="none" stroke="rgb(176,176,176)" stroke-width="0.5"/><path d="M391,301.2Q387.2,346.1 382.4,390.9" fill="none" stroke="rgb(176,176,176)" stroke-width="0.5"/><path d="M458.4,371.3Q390.2,413.2 310.5,420.8" fill="none" stroke="rgb(47,47,47)" stroke-width="4"/><path d="M458.4,371.3Q390.2,413.2 310.5,420.8" fill="none" stroke="rgb(122,122,122)" stroke-width="3.1"/><path d="M458.8,372.3Q390.5,414.2 310.8,421.9" fill="none" stroke="rgb(170,170,170)" stroke-width="0.5"/><path d="M458.1,370.2Q389.8,412.1 310.1,419.7" fill="none" stroke="rgb(170,170,170)" stroke-width="0.5"/><path d="M441.2,323.4Q416,412.7 388.8,501.4" fill="none" stroke="rgb(36,36,36)" stroke-width="4.3"/><path d="M441.2,323.4Q416,412.7 388.8,501.4" fill="none" stroke="rgb(111,111,111)" stroke-width="3.4"/><path d="M442.3,323.8Q417.2,413 390,501.7" fill="none" stroke="rgb(159,159,159)" stroke-width="0.5"/><path d="M440,323.1Q414.8,412.4 387.7,501" fill="none" stroke="rgb(159,159,159)" stroke-width="0.5"/><path d="M527.1,392.3Q447,414.3 372.7,451.6" fill="none" stroke="rgb(64,64,64)" stroke-width="4"/><path d="M527.1,392.3Q447,414.3 372.7,451.6" fill="none" stroke="rgb(139,139,139)" stroke-width="3.1"/><path d="M527.5,393.4Q447.4,415.3 373.1,452.6" fill="none" stroke="rgb(187,187,187)" stroke-width="0.5"/><path d="M526.7,391.3Q446.6,413.3 372.3,450.6" fill="none" stroke="rgb(187,187,187)" stroke-width="0.5"/><path d="M446.6,418.6Q405.8,438.3 360.5,438.4" fill="none" stroke="rgb(46,46,46)" stroke-width="3.9"/><path d="M446.6,418.6Q405.8,438.3 360.5,438.4" fill="none" stroke="rgb(121,121,121)" stroke-width="3"/><path d="M446.8,419.7Q406,439.4 360.7,439.4" fill="none" stroke="rgb(169,169,169)" stroke-width="0.5"/><path d="M446.4,417.6Q405.6,437.3 360.2,437.3" fill="none" stroke="rgb(169,169,169)" stroke-width="0.5"/><path d="M316.3,331.1Q367.1,392.2 393.2,467.2" fill="none" stroke="rgb(63,63,63)" stroke-width="3.6"/><path d="M316.3,331.1Q367.1,392.2 393.2,467.2" fill="none" stroke="rgb(138,138,138)" stroke-width="2.7"/><path d="M317.2,330.6Q367.9,391.7 394,466.7" fill="none" stroke="rgb(186,186,186)" stroke-width="0.5"/><path d="M315.5,331.5Q366.2,392.6 392.3,467.6" fill="none" stroke="rgb(186,186,186)" stroke-width="0.5"/><path d="M460.5,384.9Q454.4,414.8 458.7,445" fill="none" stroke="rgb(32,32,32)" stroke-width="4"/><path d="M460.5,384.9Q454.4,414.8 458.7,445" fill="none" stroke="rgb(107,107,107)" stroke-width="3.1"/><path d="M461.6,384.9Q455.6,414.8 459.8,445.1" fill="none" stroke="rgb(155,155,155)" stroke-width="0.5"/><path d="M459.4,384.9Q453.3,414.8 457.6,445" fill="none" stroke="rgb(155,155,155)" stroke-width="0.5"/><path d="M364,427.6Q450.2,418.1 535.6,433.2" fill="none" stroke="rgb(53,53,53)" stroke-width="3.5"/><path d="M364,427.6Q450.2,418.1 535.6,433.2" fill="none" stroke="rgb(128,128,128)" stroke-width="2.6"/><path d="M364.1,426.6Q450.2,417.2 535.6,432.3" fill="none" stroke="rgb(176,176,176)" stroke-width="0.5"/><path d="M364,428.5Q450.2,419 535.5,434.2" fill="none" stroke="rgb(176,176,176)" stroke-width="0.5"/><path d="M414.5,285.7Q458.6,353.1 468.4,433" fill="none" stroke="rgb(35,35,35)" stroke-width="3.7"/><path d="M414.5,285.7Q458.6,353.1 468.4,433" fill="none" stroke="rgb(110,110,110)" stroke-width="2.8"/><path d="M415.5,285.4Q459.6,352.7 469.3,432.6" fill="none" stroke="rgb(158,158,158)" stroke-width="0.5"/><path d="M413.6,286.1Q457.6,353.4 467.4,433.3" fill="none" stroke="rgb(158,158,158)" stroke-width="0.5"/></g></g>
<text x="15.8" y="303.24" font-size="7.6" font-weight="bold" fill="#fff" textLength="26.8" lengthAdjust="spacingAndGlyphs">100 μm</text>
<rect x="19.9" y="306" width="14" height="3.8" fill="#fff"/>
<text x="352.5" y="303.24" font-size="7.6" font-weight="bold" fill="#fff" textLength="26.8" lengthAdjust="spacingAndGlyphs">100 μm</text>
<rect x="354.5" y="305.8" width="14" height="3.8" fill="#fff"/>
<text x="16.2" y="425.04" font-size="7.6" font-weight="bold" fill="#fff" textLength="26.8" lengthAdjust="spacingAndGlyphs">100 μm</text>
<rect x="20.5" y="427.5" width="14" height="3.8" fill="#fff"/>
<text x="352" y="423.64" font-size="7.6" font-weight="bold" fill="#fff" textLength="26.8" lengthAdjust="spacingAndGlyphs">100 μm</text>
<rect x="354.5" y="426.2" width="14" height="3.8" fill="#fff"/>
<g clip-path="url(#b1)"><g filter="url(#bblur)"><rect x="132" y="199.5" width="215" height="92.7" fill="url(#b1g)"/><rect x="134" y="201.5" width="211" height="90.7" filter="url(#cloud)" opacity="0.22"/><circle cx="168.8" cy="264.1" r="12.6" fill="url(#blobw)"/><circle cx="179.6" cy="273.4" r="14.7" fill="url(#blobk)"/><circle cx="240.6" cy="222.9" r="5" fill="url(#blobw)"/><circle cx="257.5" cy="207.8" r="14.5" fill="url(#blobw)"/><circle cx="183.1" cy="205.3" r="17" fill="url(#blobk)"/><circle cx="318.6" cy="257.4" r="5.4" fill="url(#blobw)"/><circle cx="239" cy="212" r="16.4" fill="url(#blobw)"/><circle cx="166.7" cy="275.6" r="6.5" fill="url(#blobk)"/><circle cx="229.6" cy="251.6" r="9.1" fill="url(#blobw)"/><circle cx="173.4" cy="204.9" r="15.4" fill="url(#blobw)"/><circle cx="298.6" cy="220.4" r="16.6" fill="url(#blobk)"/><circle cx="293.3" cy="270.7" r="12" fill="url(#blobk)"/><circle cx="159.8" cy="244.7" r="14.9" fill="url(#blobw)"/><circle cx="328.8" cy="282" r="9.9" fill="url(#blobw)"/><circle cx="229.2" cy="236.5" r="16.9" fill="url(#blobw)"/><circle cx="139.7" cy="210" r="13.6" fill="url(#blobk)"/><circle cx="238.7" cy="246.1" r="11.6" fill="url(#blobk)"/><circle cx="180.8" cy="256.7" r="11.7" fill="url(#blobk)"/><circle cx="172.1" cy="216.9" r="9.2" fill="url(#blobk)"/><circle cx="207.1" cy="255.7" r="8.7" fill="url(#blobw)"/><circle cx="147.9" cy="275.3" r="14.3" fill="url(#blobw)"/><circle cx="278.2" cy="262.8" r="15.8" fill="url(#blobk)"/><circle cx="219.9" cy="291.2" r="16.5" fill="url(#blobk)"/><circle cx="320.3" cy="246" r="9.5" fill="url(#blobw)"/><circle cx="318.9" cy="216.2" r="5.8" fill="url(#blobk)"/><circle cx="297.3" cy="245.3" r="15" fill="url(#blobw)"/><circle cx="188.4" cy="227.8" r="10" fill="url(#blobw)"/><circle cx="148.7" cy="232.2" r="15.8" fill="url(#blobk)"/><circle cx="291.4" cy="244.9" r="8" fill="url(#blobk)"/><circle cx="244.9" cy="267.6" r="5.3" fill="url(#blobw)"/><circle cx="310.9" cy="273.6" r="15.6" fill="url(#blobk)"/><circle cx="223.9" cy="254.2" r="15.2" fill="url(#blobw)"/><circle cx="246.7" cy="226.5" r="14.2" fill="url(#blobw)"/><circle cx="278.6" cy="288" r="5.3" fill="url(#blobk)"/><circle cx="269.9" cy="278.7" r="12" fill="url(#blobw)"/><circle cx="219.6" cy="288.5" r="15.9" fill="url(#blobw)"/><circle cx="154" cy="210" r="5.3" fill="url(#blobw)"/><circle cx="163.7" cy="280.2" r="12.9" fill="url(#blobw)"/><circle cx="247.7" cy="230.9" r="10.9" fill="url(#blobw)"/><circle cx="169" cy="218.2" r="9.5" fill="url(#blobk)"/><rect x="132" y="292.2" width="215" height="20.4" fill="#262626"/><ellipse cx="250.1" cy="293.5" rx="2" ry="1.6" fill="rgb(95,95,95)" opacity="0.55"/><ellipse cx="146" cy="309.8" rx="1.9" ry="0.8" fill="rgb(74,74,74)" opacity="0.55"/><ellipse cx="295.2" cy="295.9" rx="1.5" ry="1.9" fill="rgb(95,95,95)" opacity="0.55"/><ellipse cx="261.7" cy="306.4" rx="1.8" ry="1.1" fill="rgb(65,65,65)" opacity="0.55"/><ellipse cx="324.1" cy="298.1" rx="2.6" ry="1.3" fill="rgb(82,82,82)" opacity="0.55"/><ellipse cx="254.9" cy="302.7" rx="2" ry="1.6" fill="rgb(53,53,53)" opacity="0.55"/><ellipse cx="338.1" cy="298.4" rx="2.2" ry="1.6" fill="rgb(94,94,94)" opacity="0.55"/><ellipse cx="174" cy="304" rx="3" ry="1.1" fill="rgb(70,70,70)" opacity="0.55"/><ellipse cx="201.1" cy="311" rx="2.7" ry="1.5" fill="rgb(56,56,56)" opacity="0.55"/><ellipse cx="266.2" cy="307.6" rx="2" ry="1.8" fill="rgb(78,78,78)" opacity="0.55"/><ellipse cx="277.5" cy="305.7" rx="2" ry="1.2" fill="rgb(80,80,80)" opacity="0.55"/><ellipse cx="218.7" cy="296.8" rx="2.3" ry="0.8" fill="rgb(53,53,53)" opacity="0.55"/><ellipse cx="192.1" cy="303.5" rx="2.4" ry="1.2" fill="rgb(75,75,75)" opacity="0.55"/><ellipse cx="183.9" cy="299.8" rx="1.5" ry="1.8" fill="rgb(81,81,81)" opacity="0.55"/><ellipse cx="272.1" cy="293.4" rx="2" ry="1.6" fill="rgb(61,61,61)" opacity="0.55"/><ellipse cx="321.9" cy="307" rx="2.3" ry="1.4" fill="rgb(90,90,90)" opacity="0.55"/><ellipse cx="288.2" cy="303.8" rx="1.5" ry="1.3" fill="rgb(93,93,93)" opacity="0.55"/><ellipse cx="239.2" cy="298.3" rx="2.6" ry="1.9" fill="rgb(74,74,74)" opacity="0.55"/><ellipse cx="342.7" cy="292.8" rx="1.4" ry="1.8" fill="rgb(70,70,70)" opacity="0.55"/><ellipse cx="285.2" cy="294.4" rx="1.2" ry="1.1" fill="rgb(61,61,61)" opacity="0.55"/><ellipse cx="333.1" cy="306.4" rx="3" ry="1.9" fill="rgb(79,79,79)" opacity="0.55"/><ellipse cx="169.1" cy="300.7" rx="1.7" ry="1.5" fill="rgb(93,93,93)" opacity="0.55"/><ellipse cx="277.8" cy="297.5" rx="1.6" ry="1" fill="rgb(51,51,51)" opacity="0.55"/><ellipse cx="312.4" cy="295.5" rx="2" ry="1" fill="rgb(93,93,93)" opacity="0.55"/><ellipse cx="279.2" cy="305.9" rx="2.9" ry="1.3" fill="rgb(60,60,60)" opacity="0.55"/><ellipse cx="226.2" cy="304.1" rx="2.3" ry="1.5" fill="rgb(67,67,67)" opacity="0.55"/><ellipse cx="265.2" cy="294.5" rx="1.1" ry="1.7" fill="rgb(63,63,63)" opacity="0.55"/><ellipse cx="331.2" cy="305.7" rx="1.1" ry="1.4" fill="rgb(51,51,51)" opacity="0.55"/><ellipse cx="218" cy="300.8" rx="1.5" ry="0.7" fill="rgb(78,78,78)" opacity="0.55"/><ellipse cx="248.9" cy="294.4" rx="1.4" ry="1.1" fill="rgb(69,69,69)" opacity="0.55"/><ellipse cx="134.6" cy="295.8" rx="2.6" ry="1.7" fill="rgb(86,86,86)" opacity="0.55"/><ellipse cx="245.7" cy="293.6" rx="1.8" ry="1.8" fill="rgb(62,62,62)" opacity="0.55"/><ellipse cx="185.6" cy="303.3" rx="2.9" ry="1.8" fill="rgb(87,87,87)" opacity="0.55"/><ellipse cx="137.7" cy="303.4" rx="1.9" ry="1.7" fill="rgb(55,55,55)" opacity="0.55"/><ellipse cx="342.7" cy="304.8" rx="1.1" ry="1.7" fill="rgb(59,59,59)" opacity="0.55"/><ellipse cx="262" cy="304.1" rx="2.4" ry="1.5" fill="rgb(80,80,80)" opacity="0.55"/><ellipse cx="166.2" cy="295.5" rx="1.6" ry="1.5" fill="rgb(68,68,68)" opacity="0.55"/><ellipse cx="321.8" cy="294" rx="1.4" ry="0.8" fill="rgb(54,54,54)" opacity="0.55"/><ellipse cx="308.8" cy="299.3" rx="1.1" ry="0.7" fill="rgb(72,72,72)" opacity="0.55"/><ellipse cx="238.5" cy="305.2" rx="1.8" ry="0.7" fill="rgb(91,91,91)" opacity="0.55"/><ellipse cx="183.1" cy="299.3" rx="1.8" ry="1.5" fill="rgb(66,66,66)" opacity="0.55"/><ellipse cx="287.6" cy="302.4" rx="1.6" ry="1" fill="rgb(55,55,55)" opacity="0.55"/><ellipse cx="240.1" cy="306.1" rx="2.1" ry="1.5" fill="rgb(88,88,88)" opacity="0.55"/><ellipse cx="170.7" cy="305.8" rx="2" ry="1.7" fill="rgb(81,81,81)" opacity="0.55"/><ellipse cx="227.2" cy="293" rx="2.4" ry="1" fill="rgb(67,67,67)" opacity="0.55"/><ellipse cx="298.1" cy="309.3" rx="2.2" ry="0.8" fill="rgb(84,84,84)" opacity="0.55"/><ellipse cx="199.5" cy="296.6" rx="2.9" ry="1.7" fill="rgb(79,79,79)" opacity="0.55"/><ellipse cx="136.4" cy="299.2" rx="1.5" ry="0.7" fill="rgb(89,89,89)" opacity="0.55"/><ellipse cx="213.4" cy="306.5" rx="2.9" ry="1.3" fill="rgb(61,61,61)" opacity="0.55"/><ellipse cx="320" cy="296.5" rx="2.1" ry="1.6" fill="rgb(82,82,82)" opacity="0.55"/><ellipse cx="290.1" cy="308.9" rx="2.8" ry="1" fill="rgb(73,73,73)" opacity="0.55"/><ellipse cx="260.5" cy="299.2" rx="2.6" ry="1.1" fill="rgb(92,92,92)" opacity="0.55"/><ellipse cx="161.7" cy="293.2" rx="2.9" ry="1.6" fill="rgb(77,77,77)" opacity="0.55"/><ellipse cx="341.7" cy="306.3" rx="1.2" ry="1.8" fill="rgb(97,97,97)" opacity="0.55"/><ellipse cx="244.4" cy="309.2" rx="1.6" ry="0.9" fill="rgb(82,82,82)" opacity="0.55"/><ellipse cx="273.7" cy="304" rx="2.5" ry="1.6" fill="rgb(79,79,79)" opacity="0.55"/><ellipse cx="271.3" cy="297.4" rx="2.7" ry="1" fill="rgb(77,77,77)" opacity="0.55"/><ellipse cx="234.7" cy="293.4" rx="1.4" ry="1.6" fill="rgb(79,79,79)" opacity="0.55"/><ellipse cx="204.9" cy="300.8" rx="2.5" ry="1.6" fill="rgb(69,69,69)" opacity="0.55"/><ellipse cx="343.6" cy="299.6" rx="1.1" ry="1.6" fill="rgb(75,75,75)" opacity="0.55"/><ellipse cx="316.9" cy="298.2" rx="1.4" ry="1" fill="rgb(79,79,79)" opacity="0.55"/><ellipse cx="288.9" cy="307.6" rx="2.3" ry="0.7" fill="rgb(80,80,80)" opacity="0.55"/><ellipse cx="327.4" cy="295.1" rx="1.9" ry="1.2" fill="rgb(71,71,71)" opacity="0.55"/><ellipse cx="266.6" cy="303.7" rx="1.1" ry="1" fill="rgb(94,94,94)" opacity="0.55"/><ellipse cx="156.1" cy="304.8" rx="2.6" ry="1.7" fill="rgb(96,96,96)" opacity="0.55"/><ellipse cx="329.8" cy="296.4" rx="2.8" ry="0.8" fill="rgb(71,71,71)" opacity="0.55"/><ellipse cx="199" cy="304.4" rx="2.5" ry="1.8" fill="rgb(59,59,59)" opacity="0.55"/><ellipse cx="156" cy="304.1" rx="1.4" ry="0.9" fill="rgb(91,91,91)" opacity="0.55"/><ellipse cx="239" cy="305.8" rx="1.1" ry="1.8" fill="rgb(63,63,63)" opacity="0.55"/><ellipse cx="328.4" cy="302.3" rx="1.4" ry="0.9" fill="rgb(50,50,50)" opacity="0.55"/><ellipse cx="146.2" cy="305.5" rx="1.1" ry="1.6" fill="rgb(76,76,76)" opacity="0.55"/><ellipse cx="261" cy="302.1" rx="1.5" ry="1.5" fill="rgb(96,96,96)" opacity="0.55"/><ellipse cx="237" cy="302.6" rx="1.7" ry="1.5" fill="rgb(85,85,85)" opacity="0.55"/><ellipse cx="268.1" cy="299.4" rx="1.8" ry="1.2" fill="rgb(72,72,72)" opacity="0.55"/><ellipse cx="270.7" cy="305.9" rx="1.4" ry="1.6" fill="rgb(87,87,87)" opacity="0.55"/><ellipse cx="138.2" cy="304.5" rx="2.7" ry="1.6" fill="rgb(79,79,79)" opacity="0.55"/><ellipse cx="324.4" cy="306.5" rx="2" ry="0.9" fill="rgb(72,72,72)" opacity="0.55"/><ellipse cx="302.6" cy="298.7" rx="1.6" ry="1.9" fill="rgb(71,71,71)" opacity="0.55"/><ellipse cx="230.4" cy="296.4" rx="2.2" ry="1.7" fill="rgb(50,50,50)" opacity="0.55"/><ellipse cx="180.6" cy="294.8" rx="2.3" ry="1.5" fill="rgb(84,84,84)" opacity="0.55"/><ellipse cx="159.8" cy="295" rx="2.4" ry="1.3" fill="rgb(94,94,94)" opacity="0.55"/><ellipse cx="151.9" cy="297.2" rx="2.1" ry="1" fill="rgb(88,88,88)" opacity="0.55"/><ellipse cx="225.1" cy="307.2" rx="2.4" ry="1.7" fill="rgb(83,83,83)" opacity="0.55"/><ellipse cx="218.3" cy="310.4" rx="1.7" ry="1.6" fill="rgb(93,93,93)" opacity="0.55"/><ellipse cx="141.2" cy="301.9" rx="2.5" ry="1.4" fill="rgb(75,75,75)" opacity="0.55"/><ellipse cx="172.4" cy="309.7" rx="2.6" ry="1" fill="rgb(55,55,55)" opacity="0.55"/><ellipse cx="233.5" cy="297.5" rx="1.6" ry="1.1" fill="rgb(60,60,60)" opacity="0.55"/><ellipse cx="237.6" cy="297.6" rx="1.1" ry="1" fill="rgb(68,68,68)" opacity="0.55"/><ellipse cx="153.1" cy="298.7" rx="1.3" ry="1.6" fill="rgb(100,100,100)" opacity="0.55"/><ellipse cx="199.8" cy="299.9" rx="2.3" ry="1.2" fill="rgb(67,67,67)" opacity="0.55"/><ellipse cx="182.9" cy="299.6" rx="2" ry="0.8" fill="rgb(77,77,77)" opacity="0.55"/><ellipse cx="339.1" cy="296.7" rx="2.5" ry="0.8" fill="rgb(73,73,73)" opacity="0.55"/><ellipse cx="266.1" cy="303.9" rx="1.4" ry="1.8" fill="rgb(77,77,77)" opacity="0.55"/><ellipse cx="223.8" cy="296.4" rx="1.4" ry="0.9" fill="rgb(52,52,52)" opacity="0.55"/><ellipse cx="337.3" cy="292.9" rx="1.5" ry="1.5" fill="rgb(99,99,99)" opacity="0.55"/><ellipse cx="229" cy="306.2" rx="2.7" ry="0.9" fill="rgb(83,83,83)" opacity="0.55"/><ellipse cx="281.9" cy="309.2" rx="2.4" ry="1.3" fill="rgb(61,61,61)" opacity="0.55"/><ellipse cx="203.3" cy="309.1" rx="1.3" ry="1.5" fill="rgb(91,91,91)" opacity="0.55"/><ellipse cx="296.9" cy="305.1" rx="2.8" ry="1" fill="rgb(55,55,55)" opacity="0.55"/><ellipse cx="344.3" cy="298.7" rx="2.6" ry="1.6" fill="rgb(74,74,74)" opacity="0.55"/><ellipse cx="286.2" cy="293.2" rx="1.5" ry="1" fill="rgb(86,86,86)" opacity="0.55"/><ellipse cx="301.6" cy="304" rx="1.5" ry="0.8" fill="rgb(97,97,97)" opacity="0.55"/><ellipse cx="139.1" cy="296.6" rx="3" ry="1.3" fill="rgb(74,74,74)" opacity="0.55"/><ellipse cx="282" cy="302.2" rx="2.3" ry="1.2" fill="rgb(60,60,60)" opacity="0.55"/><ellipse cx="274.1" cy="298.1" rx="2" ry="0.8" fill="rgb(58,58,58)" opacity="0.55"/><ellipse cx="284.5" cy="306.6" rx="1.9" ry="1.6" fill="rgb(60,60,60)" opacity="0.55"/><ellipse cx="144.2" cy="304.4" rx="1.4" ry="1.4" fill="rgb(57,57,57)" opacity="0.55"/><ellipse cx="271.7" cy="308.7" rx="1.8" ry="1.2" fill="rgb(68,68,68)" opacity="0.55"/><ellipse cx="287.7" cy="294.8" rx="1" ry="1.2" fill="rgb(72,72,72)" opacity="0.55"/><ellipse cx="301.1" cy="308.8" rx="2.3" ry="1.1" fill="rgb(79,79,79)" opacity="0.55"/><ellipse cx="282.1" cy="308.3" rx="2.1" ry="1.5" fill="rgb(58,58,58)" opacity="0.55"/><ellipse cx="267" cy="296.5" rx="2.6" ry="1" fill="rgb(60,60,60)" opacity="0.55"/><ellipse cx="299.3" cy="292.8" rx="1.1" ry="1.6" fill="rgb(71,71,71)" opacity="0.55"/><ellipse cx="280.3" cy="302" rx="2.6" ry="0.9" fill="rgb(52,52,52)" opacity="0.55"/><ellipse cx="254.9" cy="302.9" rx="2.7" ry="1.4" fill="rgb(58,58,58)" opacity="0.55"/><ellipse cx="169.6" cy="306.7" rx="1.3" ry="1.6" fill="rgb(56,56,56)" opacity="0.55"/><circle cx="221" cy="298.7" r="0.6" fill="rgb(136,136,136)" opacity="0.5"/><circle cx="301" cy="308.4" r="1" fill="rgb(137,137,137)" opacity="0.5"/><circle cx="142.7" cy="298.2" r="0.6" fill="rgb(104,104,104)" opacity="0.5"/><circle cx="225.4" cy="308.8" r="0.8" fill="rgb(95,95,95)" opacity="0.5"/><circle cx="323.9" cy="301.2" r="0.8" fill="rgb(135,135,135)" opacity="0.5"/><circle cx="299.5" cy="296.1" r="0.7" fill="rgb(129,129,129)" opacity="0.5"/><circle cx="144.6" cy="299.7" r="0.5" fill="rgb(121,121,121)" opacity="0.5"/><circle cx="284.8" cy="301.7" r="1" fill="rgb(148,148,148)" opacity="0.5"/><circle cx="306.4" cy="309.4" r="0.9" fill="rgb(129,129,129)" opacity="0.5"/><circle cx="286.5" cy="293.3" r="0.7" fill="rgb(109,109,109)" opacity="0.5"/><circle cx="286.3" cy="292.7" r="0.4" fill="rgb(146,146,146)" opacity="0.5"/><circle cx="334.6" cy="310.5" r="0.5" fill="rgb(118,118,118)" opacity="0.5"/><circle cx="220" cy="310.8" r="0.6" fill="rgb(145,145,145)" opacity="0.5"/><circle cx="227" cy="306.5" r="0.7" fill="rgb(101,101,101)" opacity="0.5"/><circle cx="268.9" cy="310.6" r="0.4" fill="rgb(109,109,109)" opacity="0.5"/><circle cx="326.3" cy="295.6" r="0.8" fill="rgb(116,116,116)" opacity="0.5"/><circle cx="251.8" cy="306.9" r="0.7" fill="rgb(115,115,115)" opacity="0.5"/><circle cx="158.5" cy="302.5" r="0.9" fill="rgb(93,93,93)" opacity="0.5"/><circle cx="269.3" cy="309" r="0.6" fill="rgb(119,119,119)" opacity="0.5"/><circle cx="195.5" cy="308.1" r="0.7" fill="rgb(132,132,132)" opacity="0.5"/><circle cx="193" cy="296.3" r="0.6" fill="rgb(126,126,126)" opacity="0.5"/><circle cx="264" cy="306.4" r="0.7" fill="rgb(124,124,124)" opacity="0.5"/><circle cx="182.5" cy="309.2" r="0.6" fill="rgb(145,145,145)" opacity="0.5"/><circle cx="275.7" cy="310.7" r="1" fill="rgb(123,123,123)" opacity="0.5"/><circle cx="168.9" cy="310.1" r="0.6" fill="rgb(101,101,101)" opacity="0.5"/><circle cx="292.3" cy="300.5" r="0.6" fill="rgb(124,124,124)" opacity="0.5"/><circle cx="239.9" cy="294.3" r="0.8" fill="rgb(128,128,128)" opacity="0.5"/><circle cx="266.7" cy="294.8" r="0.7" fill="rgb(108,108,108)" opacity="0.5"/><circle cx="147.2" cy="311" r="0.8" fill="rgb(100,100,100)" opacity="0.5"/><circle cx="241.7" cy="302.9" r="0.9" fill="rgb(141,141,141)" opacity="0.5"/><circle cx="184" cy="300.6" r="1" fill="rgb(116,116,116)" opacity="0.5"/><circle cx="312.8" cy="300" r="0.8" fill="rgb(129,129,129)" opacity="0.5"/><circle cx="225" cy="293" r="1" fill="rgb(108,108,108)" opacity="0.5"/><circle cx="222.2" cy="309.1" r="1" fill="rgb(132,132,132)" opacity="0.5"/><circle cx="330.6" cy="304.3" r="0.6" fill="rgb(144,144,144)" opacity="0.5"/><circle cx="193.8" cy="306.2" r="0.4" fill="rgb(104,104,104)" opacity="0.5"/><circle cx="210.4" cy="299.6" r="0.7" fill="rgb(111,111,111)" opacity="0.5"/><circle cx="242.4" cy="297.6" r="1" fill="rgb(100,100,100)" opacity="0.5"/><circle cx="183.4" cy="296.1" r="0.8" fill="rgb(111,111,111)" opacity="0.5"/><circle cx="325.3" cy="295.8" r="0.5" fill="rgb(127,127,127)" opacity="0.5"/><circle cx="259.6" cy="306" r="0.8" fill="rgb(133,133,133)" opacity="0.5"/><circle cx="141.1" cy="293.6" r="0.7" fill="rgb(133,133,133)" opacity="0.5"/><circle cx="315.3" cy="303.8" r="1" fill="rgb(100,100,100)" opacity="0.5"/><circle cx="213.5" cy="298.3" r="0.4" fill="rgb(140,140,140)" opacity="0.5"/><circle cx="169" cy="296.1" r="0.6" fill="rgb(127,127,127)" opacity="0.5"/><circle cx="266.1" cy="295.7" r="1" fill="rgb(141,141,141)" opacity="0.5"/><circle cx="206.3" cy="305.1" r="0.8" fill="rgb(103,103,103)" opacity="0.5"/><circle cx="308.9" cy="294.5" r="0.4" fill="rgb(111,111,111)" opacity="0.5"/><circle cx="337.9" cy="307.4" r="0.7" fill="rgb(111,111,111)" opacity="0.5"/><circle cx="301.9" cy="301.5" r="0.9" fill="rgb(95,95,95)" opacity="0.5"/><circle cx="327.1" cy="293.7" r="1" fill="rgb(139,139,139)" opacity="0.5"/><circle cx="244.6" cy="297.3" r="0.7" fill="rgb(112,112,112)" opacity="0.5"/><circle cx="152.7" cy="308.2" r="0.6" fill="rgb(119,119,119)" opacity="0.5"/><circle cx="272.4" cy="307.7" r="0.6" fill="rgb(138,138,138)" opacity="0.5"/><circle cx="264.4" cy="293.7" r="0.8" fill="rgb(105,105,105)" opacity="0.5"/><circle cx="145.4" cy="307.3" r="0.7" fill="rgb(135,135,135)" opacity="0.5"/><circle cx="184.9" cy="297.6" r="0.9" fill="rgb(126,126,126)" opacity="0.5"/><circle cx="224" cy="307.1" r="0.8" fill="rgb(149,149,149)" opacity="0.5"/><circle cx="225.7" cy="309.1" r="1" fill="rgb(146,146,146)" opacity="0.5"/><circle cx="324.9" cy="296.2" r="0.9" fill="rgb(113,113,113)" opacity="0.5"/><circle cx="194" cy="307.9" r="0.7" fill="rgb(133,133,133)" opacity="0.5"/><circle cx="336.9" cy="294.4" r="0.4" fill="rgb(107,107,107)" opacity="0.5"/><circle cx="158.8" cy="301.9" r="0.7" fill="rgb(131,131,131)" opacity="0.5"/><circle cx="300.8" cy="310.6" r="0.6" fill="rgb(111,111,111)" opacity="0.5"/><circle cx="245" cy="294.1" r="0.5" fill="rgb(144,144,144)" opacity="0.5"/><circle cx="249.3" cy="309.8" r="0.6" fill="rgb(102,102,102)" opacity="0.5"/><circle cx="219.3" cy="302.8" r="0.7" fill="rgb(150,150,150)" opacity="0.5"/><circle cx="237.6" cy="309.3" r="0.9" fill="rgb(138,138,138)" opacity="0.5"/><circle cx="152.3" cy="304.1" r="1" fill="rgb(150,150,150)" opacity="0.5"/><circle cx="337.2" cy="301.8" r="0.9" fill="rgb(116,116,116)" opacity="0.5"/><circle cx="182.2" cy="307.7" r="0.5" fill="rgb(91,91,91)" opacity="0.5"/><circle cx="288.1" cy="293.6" r="0.6" fill="rgb(128,128,128)" opacity="0.5"/><circle cx="280.9" cy="296.3" r="1" fill="rgb(97,97,97)" opacity="0.5"/><circle cx="193.3" cy="294.4" r="0.9" fill="rgb(127,127,127)" opacity="0.5"/><circle cx="319.1" cy="306.7" r="0.8" fill="rgb(92,92,92)" opacity="0.5"/><circle cx="309.9" cy="297.2" r="0.9" fill="rgb(121,121,121)" opacity="0.5"/><circle cx="223.3" cy="293.8" r="0.8" fill="rgb(120,120,120)" opacity="0.5"/><circle cx="191.5" cy="293.1" r="0.5" fill="rgb(147,147,147)" opacity="0.5"/><circle cx="338.4" cy="302.9" r="0.6" fill="rgb(127,127,127)" opacity="0.5"/><circle cx="333.5" cy="301.2" r="0.9" fill="rgb(138,138,138)" opacity="0.5"/><circle cx="256.5" cy="297.7" r="0.8" fill="rgb(130,130,130)" opacity="0.5"/><circle cx="189.3" cy="298.5" r="0.8" fill="rgb(101,101,101)" opacity="0.5"/><circle cx="161.8" cy="303.7" r="0.7" fill="rgb(100,100,100)" opacity="0.5"/><circle cx="308.7" cy="302.1" r="0.6" fill="rgb(100,100,100)" opacity="0.5"/><circle cx="244.3" cy="307.2" r="0.6" fill="rgb(95,95,95)" opacity="0.5"/><circle cx="280.4" cy="307.1" r="0.7" fill="rgb(140,140,140)" opacity="0.5"/><circle cx="214.3" cy="301.4" r="0.6" fill="rgb(148,148,148)" opacity="0.5"/><circle cx="236.5" cy="304.4" r="0.6" fill="rgb(144,144,144)" opacity="0.5"/><circle cx="246.5" cy="298.9" r="0.5" fill="rgb(90,90,90)" opacity="0.5"/><circle cx="234.7" cy="304.6" r="0.6" fill="rgb(130,130,130)" opacity="0.5"/><circle cx="256.4" cy="292.7" r="0.7" fill="rgb(90,90,90)" opacity="0.5"/><circle cx="188.6" cy="309.6" r="0.5" fill="rgb(99,99,99)" opacity="0.5"/><circle cx="309.1" cy="295.3" r="0.8" fill="rgb(148,148,148)" opacity="0.5"/><circle cx="181.2" cy="309.7" r="0.9" fill="rgb(130,130,130)" opacity="0.5"/><circle cx="337.7" cy="203" r="2.4" fill="url(#bub)"/><circle cx="286.7" cy="204.3" r="1.5" fill="url(#bub)"/><circle cx="318.1" cy="204.4" r="2.3" fill="url(#bub)"/><circle cx="284.7" cy="204.5" r="1.2" fill="url(#bub)"/><circle cx="167.7" cy="204.7" r="2.3" fill="url(#bub)"/><circle cx="144.2" cy="204.8" r="1.8" fill="url(#bub)"/><circle cx="332.5" cy="205.1" r="1.4" fill="url(#bub)"/><circle cx="142.3" cy="205.4" r="2" fill="url(#bub)"/><circle cx="308.7" cy="206.3" r="1.4" fill="url(#bub)"/><circle cx="171.2" cy="206.7" r="1.3" fill="url(#bub)"/><circle cx="286" cy="207.5" r="2" fill="url(#bub)"/><circle cx="184.3" cy="207.5" r="2" fill="url(#bub)"/><circle cx="305" cy="207.9" r="1.8" fill="url(#bub)"/><circle cx="149.8" cy="208.6" r="2.3" fill="url(#bub)"/><circle cx="312.8" cy="209.1" r="2.3" fill="url(#bub)"/><circle cx="248.9" cy="209.4" r="1.9" fill="url(#bub)"/><circle cx="245.9" cy="209.5" r="2.6" fill="url(#bub)"/><circle cx="223.6" cy="210" r="2.4" fill="url(#bub)"/><circle cx="269.8" cy="210.3" r="1.4" fill="url(#bub)"/><circle cx="326.7" cy="213.9" r="1.5" fill="url(#bub)"/><circle cx="280.4" cy="214.1" r="1.6" fill="url(#bub)"/><circle cx="146.7" cy="214.2" r="1.4" fill="url(#bub)"/><circle cx="144.7" cy="214.3" r="2.1" fill="url(#bub)"/><circle cx="136.3" cy="214.9" r="2.5" fill="url(#bub)"/><circle cx="277.7" cy="215.6" r="1.4" fill="url(#bub)"/><circle cx="156.7" cy="215.9" r="1.8" fill="url(#bub)"/><circle cx="331.3" cy="216.9" r="2" fill="url(#bub)"/><circle cx="330.7" cy="217.5" r="1.5" fill="url(#bub)"/><circle cx="312.3" cy="217.5" r="2.4" fill="url(#bub)"/><circle cx="258.1" cy="217.6" r="1.4" fill="url(#bub)"/><circle cx="329.9" cy="217.8" r="1.4" fill="url(#bub)"/><circle cx="301.5" cy="217.9" r="2.2" fill="url(#bub)"/><circle cx="307.6" cy="218" r="1.6" fill="url(#bub)"/><circle cx="161.2" cy="219" r="2.3" fill="url(#bub)"/><circle cx="200.6" cy="219.1" r="1.6" fill="url(#bub)"/><circle cx="311" cy="221.1" r="2" fill="url(#bub)"/><circle cx="217.9" cy="221.1" r="2.5" fill="url(#bub)"/><circle cx="307.1" cy="221.2" r="2.1" fill="url(#bub)"/><circle cx="263.4" cy="221.4" r="1.2" fill="url(#bub)"/><circle cx="335" cy="221.5" r="2.2" fill="url(#bub)"/><circle cx="141.7" cy="221.5" r="1.5" fill="url(#bub)"/><circle cx="278.5" cy="221.7" r="1.9" fill="url(#bub)"/><circle cx="179.3" cy="221.9" r="1.9" fill="url(#bub)"/><circle cx="150.8" cy="222.6" r="1.1" fill="url(#bub)"/><circle cx="298.1" cy="223" r="2.3" fill="url(#bub)"/><circle cx="332.5" cy="224.1" r="1.8" fill="url(#bub)"/><circle cx="185.8" cy="224.4" r="1.9" fill="url(#bub)"/><circle cx="241.4" cy="224.5" r="1.9" fill="url(#bub)"/><circle cx="323.5" cy="224.7" r="1.6" fill="url(#bub)"/><circle cx="265" cy="225.3" r="1.4" fill="url(#bub)"/><circle cx="309" cy="225.4" r="1.8" fill="url(#bub)"/><circle cx="228.5" cy="225.7" r="1.4" fill="url(#bub)"/><circle cx="329.8" cy="226.6" r="1.9" fill="url(#bub)"/><circle cx="242.5" cy="227.9" r="1.7" fill="url(#bub)"/><circle cx="331.6" cy="227.9" r="1.2" fill="url(#bub)"/><circle cx="165.5" cy="228" r="2.3" fill="url(#bub)"/><circle cx="202.3" cy="228" r="1.9" fill="url(#bub)"/><circle cx="144.8" cy="228.5" r="1.8" fill="url(#bub)"/><circle cx="247.9" cy="229.7" r="1.7" fill="url(#bub)"/><circle cx="301.7" cy="229.8" r="2.2" fill="url(#bub)"/><circle cx="340.1" cy="230.2" r="2.5" fill="url(#bub)"/><circle cx="314.8" cy="230.3" r="2.1" fill="url(#bub)"/><circle cx="332.6" cy="232" r="1.3" fill="url(#bub)"/><circle cx="329.5" cy="232.1" r="1.2" fill="url(#bub)"/><circle cx="297.6" cy="232.2" r="1.7" fill="url(#bub)"/><circle cx="299.7" cy="232.4" r="2" fill="url(#bub)"/><circle cx="170.2" cy="232.9" r="1.3" fill="url(#bub)"/><circle cx="264.1" cy="233" r="1.3" fill="url(#bub)"/><circle cx="176.7" cy="234" r="1.8" fill="url(#bub)"/><circle cx="301.6" cy="234.1" r="1.4" fill="url(#bub)"/><circle cx="296.3" cy="234.3" r="1.2" fill="url(#bub)"/><circle cx="266.8" cy="234.4" r="1.6" fill="url(#bub)"/><circle cx="209.9" cy="234.4" r="2.4" fill="url(#bub)"/><circle cx="244.3" cy="234.5" r="2" fill="url(#bub)"/><circle cx="333.2" cy="234.7" r="1.4" fill="url(#bub)"/><circle cx="238.3" cy="234.7" r="2.3" fill="url(#bub)"/><circle cx="172" cy="234.7" r="2.2" fill="url(#bub)"/><circle cx="181.1" cy="234.8" r="1.1" fill="url(#bub)"/><circle cx="216.2" cy="235.6" r="1.8" fill="url(#bub)"/><circle cx="266.5" cy="235.9" r="1.2" fill="url(#bub)"/><circle cx="293.8" cy="235.9" r="1.8" fill="url(#bub)"/><circle cx="172.9" cy="236" r="1.9" fill="url(#bub)"/><circle cx="335.4" cy="236.1" r="1.7" fill="url(#bub)"/><circle cx="160.2" cy="236.3" r="1.3" fill="url(#bub)"/><circle cx="295.5" cy="236.8" r="1.2" fill="url(#bub)"/><circle cx="322.8" cy="236.9" r="1.2" fill="url(#bub)"/><circle cx="327.4" cy="236.9" r="1.7" fill="url(#bub)"/><circle cx="264.7" cy="236.9" r="1.8" fill="url(#bub)"/><circle cx="331" cy="236.9" r="2.1" fill="url(#bub)"/><circle cx="198.7" cy="237.4" r="1.9" fill="url(#bub)"/><circle cx="277.2" cy="237.6" r="1.2" fill="url(#bub)"/><circle cx="180.8" cy="237.7" r="1.4" fill="url(#bub)"/><circle cx="335.4" cy="237.8" r="1.6" fill="url(#bub)"/><circle cx="335.7" cy="237.9" r="1.8" fill="url(#bub)"/><circle cx="303.7" cy="238.4" r="1.8" fill="url(#bub)"/><circle cx="305.4" cy="238.7" r="1.5" fill="url(#bub)"/><circle cx="302" cy="238.9" r="1.4" fill="url(#bub)"/><circle cx="238.1" cy="239.1" r="2.4" fill="url(#bub)"/><circle cx="338.3" cy="239.2" r="1.1" fill="url(#bub)"/><circle cx="335.7" cy="239.2" r="1.9" fill="url(#bub)"/><circle cx="201.3" cy="239.4" r="1.3" fill="url(#bub)"/><circle cx="276.3" cy="239.7" r="2.6" fill="url(#bub)"/><circle cx="235.9" cy="239.7" r="2" fill="url(#bub)"/><circle cx="295.3" cy="239.9" r="2.1" fill="url(#bub)"/><circle cx="181.9" cy="239.9" r="2" fill="url(#bub)"/><circle cx="179.4" cy="240" r="2.2" fill="url(#bub)"/><circle cx="148.7" cy="240" r="2.6" fill="url(#bub)"/><circle cx="301.9" cy="240.3" r="1.5" fill="url(#bub)"/><circle cx="303.9" cy="240.6" r="2.2" fill="url(#bub)"/><circle cx="148.4" cy="240.8" r="1.3" fill="url(#bub)"/><circle cx="302.7" cy="241.5" r="1.2" fill="url(#bub)"/><circle cx="338.8" cy="241.6" r="2.2" fill="url(#bub)"/><circle cx="177.3" cy="241.7" r="2.2" fill="url(#bub)"/><circle cx="267.7" cy="241.7" r="1.9" fill="url(#bub)"/><circle cx="184.6" cy="241.8" r="1.4" fill="url(#bub)"/><circle cx="266.2" cy="241.9" r="2.1" fill="url(#bub)"/><circle cx="338.6" cy="242" r="1.8" fill="url(#bub)"/><circle cx="262.7" cy="242.1" r="1.3" fill="url(#bub)"/><circle cx="325.6" cy="242.6" r="2.1" fill="url(#bub)"/><circle cx="305.6" cy="242.7" r="2" fill="url(#bub)"/><circle cx="265.7" cy="242.7" r="1.2" fill="url(#bub)"/><circle cx="177.1" cy="242.8" r="1.9" fill="url(#bub)"/><circle cx="150" cy="242.9" r="2.6" fill="url(#bub)"/><circle cx="261.1" cy="243.5" r="1.9" fill="url(#bub)"/><circle cx="293" cy="243.6" r="1.1" fill="url(#bub)"/><circle cx="337.4" cy="243.9" r="2.2" fill="url(#bub)"/><circle cx="306.2" cy="244.1" r="1.4" fill="url(#bub)"/><circle cx="265.2" cy="244.6" r="1.3" fill="url(#bub)"/><circle cx="306.8" cy="244.9" r="2.1" fill="url(#bub)"/><circle cx="226.1" cy="245" r="2.2" fill="url(#bub)"/><circle cx="274.8" cy="245.1" r="1.3" fill="url(#bub)"/><circle cx="158.2" cy="245.1" r="2.5" fill="url(#bub)"/><circle cx="333.3" cy="245.1" r="2" fill="url(#bub)"/><circle cx="301.1" cy="245.3" r="1.1" fill="url(#bub)"/><circle cx="270.9" cy="245.4" r="2.1" fill="url(#bub)"/><circle cx="267.9" cy="245.4" r="1.3" fill="url(#bub)"/><circle cx="329.8" cy="245.5" r="1.4" fill="url(#bub)"/><circle cx="272.4" cy="245.6" r="1.3" fill="url(#bub)"/><circle cx="320" cy="245.6" r="1.5" fill="url(#bub)"/><circle cx="209.1" cy="245.7" r="1.3" fill="url(#bub)"/><circle cx="264.6" cy="245.7" r="1.5" fill="url(#bub)"/><circle cx="176.4" cy="246.7" r="1.5" fill="url(#bub)"/><circle cx="203.7" cy="246.9" r="1.9" fill="url(#bub)"/><circle cx="176.6" cy="247.3" r="1.9" fill="url(#bub)"/><circle cx="290.6" cy="247.3" r="1.9" fill="url(#bub)"/><circle cx="204.3" cy="247.4" r="1.3" fill="url(#bub)"/><circle cx="203.8" cy="247.4" r="1.7" fill="url(#bub)"/><circle cx="151.5" cy="247.7" r="1.1" fill="url(#bub)"/><circle cx="306.1" cy="247.7" r="1.2" fill="url(#bub)"/><circle cx="144.7" cy="247.8" r="1.4" fill="url(#bub)"/><circle cx="338.7" cy="247.8" r="1.8" fill="url(#bub)"/><circle cx="178.2" cy="247.9" r="2.1" fill="url(#bub)"/><circle cx="234.9" cy="248.1" r="2.1" fill="url(#bub)"/><circle cx="268.6" cy="248.2" r="1.4" fill="url(#bub)"/><circle cx="212.9" cy="248.2" r="1.3" fill="url(#bub)"/><circle cx="291.5" cy="248.3" r="1.8" fill="url(#bub)"/><circle cx="309" cy="248.8" r="1.9" fill="url(#bub)"/><circle cx="285.6" cy="249" r="1.7" fill="url(#bub)"/><circle cx="237.9" cy="249" r="1.9" fill="url(#bub)"/><circle cx="206.2" cy="249.1" r="1.5" fill="url(#bub)"/><circle cx="259.3" cy="249.2" r="2.3" fill="url(#bub)"/><circle cx="295.8" cy="249.3" r="1.7" fill="url(#bub)"/><circle cx="285.1" cy="249.5" r="1.7" fill="url(#bub)"/><circle cx="343.1" cy="249.7" r="1.6" fill="url(#bub)"/><circle cx="173.9" cy="249.9" r="1.9" fill="url(#bub)"/><circle cx="213.8" cy="249.9" r="1.6" fill="url(#bub)"/><circle cx="272.9" cy="249.9" r="1.7" fill="url(#bub)"/><circle cx="145.8" cy="249.9" r="2" fill="url(#bub)"/><circle cx="187.7" cy="249.9" r="1.6" fill="url(#bub)"/><circle cx="273.8" cy="249.9" r="1.2" fill="url(#bub)"/><circle cx="337.1" cy="249.9" r="1.2" fill="url(#bub)"/><circle cx="211.4" cy="250" r="1.9" fill="url(#bub)"/><circle cx="154.3" cy="250" r="1.6" fill="url(#bub)"/><circle cx="266.8" cy="250.3" r="1.4" fill="url(#bub)"/><circle cx="146.7" cy="250.4" r="2.1" fill="url(#bub)"/><circle cx="205.5" cy="250.4" r="2.2" fill="url(#bub)"/><circle cx="237.6" cy="250.7" r="2.1" fill="url(#bub)"/><circle cx="213.5" cy="250.7" r="1.1" fill="url(#bub)"/><circle cx="208" cy="250.8" r="1.8" fill="url(#bub)"/><circle cx="338.9" cy="250.8" r="1.5" fill="url(#bub)"/><circle cx="256.3" cy="250.9" r="1.5" fill="url(#bub)"/><circle cx="159.1" cy="251" r="1.9" fill="url(#bub)"/><circle cx="339" cy="251.1" r="1.1" fill="url(#bub)"/><circle cx="234" cy="251.2" r="2.1" fill="url(#bub)"/><circle cx="151.4" cy="251.2" r="1.9" fill="url(#bub)"/><circle cx="335.4" cy="251.3" r="1.7" fill="url(#bub)"/><circle cx="267.1" cy="251.3" r="1.7" fill="url(#bub)"/><circle cx="290.7" cy="251.5" r="1.7" fill="url(#bub)"/><circle cx="158.3" cy="251.6" r="1.7" fill="url(#bub)"/><circle cx="267.4" cy="251.6" r="1.8" fill="url(#bub)"/><circle cx="210.9" cy="251.6" r="1.9" fill="url(#bub)"/><circle cx="228" cy="251.7" r="1.5" fill="url(#bub)"/><circle cx="207.9" cy="251.8" r="2.1" fill="url(#bub)"/><circle cx="227.5" cy="251.9" r="2.3" fill="url(#bub)"/><circle cx="318.4" cy="252" r="1.5" fill="url(#bub)"/><circle cx="185.7" cy="252" r="1.2" fill="url(#bub)"/><circle cx="181.1" cy="252.2" r="1.8" fill="url(#bub)"/><circle cx="212.4" cy="252.4" r="1.7" fill="url(#bub)"/><circle cx="224.3" cy="252.4" r="2.4" fill="url(#bub)"/><circle cx="296.3" cy="252.5" r="1.2" fill="url(#bub)"/><circle cx="189" cy="252.7" r="1.1" fill="url(#bub)"/><circle cx="238" cy="252.7" r="1.5" fill="url(#bub)"/><circle cx="313.1" cy="252.9" r="2.2" fill="url(#bub)"/><circle cx="329.4" cy="253.3" r="2.3" fill="url(#bub)"/><circle cx="276.5" cy="253.6" r="2" fill="url(#bub)"/><circle cx="232.2" cy="253.7" r="1.5" fill="url(#bub)"/><circle cx="213" cy="253.8" r="1.2" fill="url(#bub)"/><circle cx="258.4" cy="253.8" r="1.4" fill="url(#bub)"/><circle cx="211.2" cy="253.8" r="1.7" fill="url(#bub)"/><circle cx="290.8" cy="253.9" r="1.8" fill="url(#bub)"/><circle cx="321" cy="254.2" r="1.7" fill="url(#bub)"/><circle cx="268.1" cy="254.3" r="1.1" fill="url(#bub)"/><circle cx="201.8" cy="254.3" r="1.9" fill="url(#bub)"/><circle cx="233.7" cy="254.8" r="1.9" fill="url(#bub)"/><circle cx="153" cy="254.8" r="1.2" fill="url(#bub)"/><circle cx="212.4" cy="254.8" r="1.5" fill="url(#bub)"/><circle cx="149" cy="254.8" r="1.5" fill="url(#bub)"/><circle cx="195.1" cy="254.8" r="2.2" fill="url(#bub)"/><circle cx="171.6" cy="254.9" r="2" fill="url(#bub)"/><circle cx="173.5" cy="255" r="1.5" fill="url(#bub)"/><circle cx="230.9" cy="255" r="1.6" fill="url(#bub)"/><circle cx="213.6" cy="255.1" r="1.3" fill="url(#bub)"/><circle cx="342.5" cy="255.3" r="2.1" fill="url(#bub)"/><circle cx="326.8" cy="255.3" r="2.1" fill="url(#bub)"/><circle cx="165.9" cy="255.4" r="1.1" fill="url(#bub)"/><circle cx="271.4" cy="255.4" r="2" fill="url(#bub)"/><circle cx="256.8" cy="255.4" r="2" fill="url(#bub)"/><circle cx="160.8" cy="255.4" r="1.9" fill="url(#bub)"/><circle cx="177.6" cy="255.6" r="1.8" fill="url(#bub)"/><circle cx="339.4" cy="255.8" r="1.8" fill="url(#bub)"/><circle cx="306.4" cy="255.9" r="2.1" fill="url(#bub)"/><circle cx="257" cy="256" r="1.1" fill="url(#bub)"/><circle cx="332.5" cy="256" r="1.2" fill="url(#bub)"/><circle cx="152.8" cy="256.4" r="1.6" fill="url(#bub)"/><circle cx="269.2" cy="256.4" r="2.5" fill="url(#bub)"/><circle cx="207.1" cy="256.4" r="1.6" fill="url(#bub)"/><circle cx="145.8" cy="256.7" r="2" fill="url(#bub)"/><circle cx="151.6" cy="257" r="1.6" fill="url(#bub)"/><circle cx="308.2" cy="257" r="1.3" fill="url(#bub)"/><circle cx="286.9" cy="257.2" r="2.4" fill="url(#bub)"/><circle cx="158" cy="257.2" r="1.8" fill="url(#bub)"/><circle cx="174.1" cy="257.2" r="2.1" fill="url(#bub)"/><circle cx="276.1" cy="257.3" r="1.2" fill="url(#bub)"/><circle cx="167.5" cy="257.3" r="2.4" fill="url(#bub)"/><circle cx="270.8" cy="257.4" r="1.1" fill="url(#bub)"/><circle cx="308.9" cy="257.4" r="1.8" fill="url(#bub)"/><circle cx="180.1" cy="257.6" r="2" fill="url(#bub)"/><circle cx="231.5" cy="257.7" r="1.8" fill="url(#bub)"/><circle cx="339.4" cy="257.7" r="1.4" fill="url(#bub)"/><circle cx="303.4" cy="257.8" r="1.6" fill="url(#bub)"/><circle cx="198" cy="257.8" r="1.8" fill="url(#bub)"/><circle cx="290.6" cy="257.9" r="1.4" fill="url(#bub)"/><circle cx="253.6" cy="258" r="1.3" fill="url(#bub)"/><circle cx="201.6" cy="258" r="2" fill="url(#bub)"/><circle cx="202.1" cy="258" r="1.4" fill="url(#bub)"/><circle cx="217.6" cy="258" r="1.2" fill="url(#bub)"/><circle cx="287" cy="258.2" r="1.6" fill="url(#bub)"/><circle cx="230.8" cy="258.2" r="2.3" fill="url(#bub)"/><circle cx="311.4" cy="258.3" r="1.2" fill="url(#bub)"/><circle cx="333.6" cy="258.5" r="1.7" fill="url(#bub)"/><circle cx="341.6" cy="258.6" r="1.2" fill="url(#bub)"/><circle cx="252.5" cy="258.7" r="2.2" fill="url(#bub)"/><circle cx="146.6" cy="258.8" r="1.2" fill="url(#bub)"/><circle cx="312.1" cy="258.8" r="1.6" fill="url(#bub)"/><circle cx="206.2" cy="258.8" r="1.1" fill="url(#bub)"/><circle cx="170.9" cy="258.8" r="2.1" fill="url(#bub)"/><circle cx="187.4" cy="258.8" r="1.7" fill="url(#bub)"/><circle cx="150.7" cy="258.9" r="1.9" fill="url(#bub)"/><circle cx="151" cy="258.9" r="1.3" fill="url(#bub)"/><circle cx="340.5" cy="259" r="1.9" fill="url(#bub)"/><circle cx="237" cy="259" r="1.6" fill="url(#bub)"/><circle cx="293.1" cy="259.1" r="2.2" fill="url(#bub)"/><circle cx="305.7" cy="259.1" r="1.9" fill="url(#bub)"/><circle cx="335" cy="259.1" r="1.8" fill="url(#bub)"/><circle cx="163.1" cy="259.2" r="1.1" fill="url(#bub)"/><circle cx="241.1" cy="259.3" r="2.1" fill="url(#bub)"/><circle cx="267.5" cy="259.5" r="1.2" fill="url(#bub)"/><circle cx="276.9" cy="259.5" r="1.2" fill="url(#bub)"/><circle cx="284.5" cy="259.6" r="2.5" fill="url(#bub)"/><circle cx="188.2" cy="259.6" r="1.9" fill="url(#bub)"/><circle cx="254.5" cy="259.7" r="1.2" fill="url(#bub)"/><circle cx="277.3" cy="259.9" r="2" fill="url(#bub)"/><circle cx="315.2" cy="259.9" r="1.7" fill="url(#bub)"/><circle cx="281.7" cy="260" r="1.1" fill="url(#bub)"/><circle cx="285.9" cy="260.2" r="1.4" fill="url(#bub)"/><circle cx="185.9" cy="260.3" r="2.1" fill="url(#bub)"/><circle cx="263.1" cy="260.3" r="1.9" fill="url(#bub)"/><circle cx="148" cy="260.5" r="1.6" fill="url(#bub)"/><circle cx="159.4" cy="260.6" r="1.4" fill="url(#bub)"/><circle cx="288.3" cy="260.7" r="2" fill="url(#bub)"/><circle cx="308.3" cy="260.8" r="2.3" fill="url(#bub)"/><circle cx="296" cy="260.8" r="1.3" fill="url(#bub)"/><circle cx="290.1" cy="260.9" r="1.6" fill="url(#bub)"/><circle cx="193.7" cy="261" r="1.5" fill="url(#bub)"/><circle cx="235.7" cy="261.1" r="1.6" fill="url(#bub)"/><circle cx="332.5" cy="261.2" r="2" fill="url(#bub)"/><circle cx="290.4" cy="261.3" r="1.9" fill="url(#bub)"/><circle cx="156.2" cy="261.3" r="1.8" fill="url(#bub)"/><circle cx="326.9" cy="261.4" r="2" fill="url(#bub)"/><circle cx="292.9" cy="261.5" r="2" fill="url(#bub)"/><circle cx="303" cy="261.5" r="2" fill="url(#bub)"/><circle cx="155.7" cy="261.6" r="2.2" fill="url(#bub)"/><circle cx="153.6" cy="261.7" r="1.9" fill="url(#bub)"/><circle cx="269.4" cy="261.7" r="1.5" fill="url(#bub)"/><circle cx="192.6" cy="261.8" r="1.9" fill="url(#bub)"/><circle cx="168.4" cy="261.9" r="1.6" fill="url(#bub)"/><circle cx="197.9" cy="261.9" r="1.9" fill="url(#bub)"/><circle cx="182.7" cy="262" r="1.2" fill="url(#bub)"/><circle cx="215.6" cy="262.4" r="1.6" fill="url(#bub)"/><circle cx="195.5" cy="262.5" r="1.9" fill="url(#bub)"/><circle cx="320.6" cy="262.6" r="1.5" fill="url(#bub)"/><circle cx="262.5" cy="262.6" r="1.5" fill="url(#bub)"/><circle cx="255.7" cy="262.7" r="1.4" fill="url(#bub)"/><circle cx="325.6" cy="262.8" r="1.9" fill="url(#bub)"/><circle cx="219.4" cy="262.8" r="2" fill="url(#bub)"/><circle cx="180.3" cy="262.9" r="2.1" fill="url(#bub)"/><circle cx="343" cy="262.9" r="2.1" fill="url(#bub)"/><circle cx="140.8" cy="263.1" r="1.7" fill="url(#bub)"/><circle cx="241.5" cy="263.2" r="1.6" fill="url(#bub)"/><circle cx="237.6" cy="263.2" r="1.5" fill="url(#bub)"/><circle cx="279.2" cy="263.2" r="1.3" fill="url(#bub)"/><circle cx="231.3" cy="263.3" r="1.6" fill="url(#bub)"/><circle cx="209.4" cy="263.3" r="1.8" fill="url(#bub)"/><circle cx="331.4" cy="263.4" r="1.8" fill="url(#bub)"/><circle cx="321.4" cy="263.5" r="2.4" fill="url(#bub)"/><circle cx="134.8" cy="263.6" r="1.6" fill="url(#bub)"/><circle cx="257.8" cy="263.6" r="1.7" fill="url(#bub)"/><circle cx="245.2" cy="263.6" r="1.3" fill="url(#bub)"/><circle cx="209.4" cy="263.6" r="1.4" fill="url(#bub)"/><circle cx="329.6" cy="263.7" r="2.3" fill="url(#bub)"/><circle cx="335" cy="263.8" r="1.5" fill="url(#bub)"/><circle cx="304.7" cy="263.8" r="2.1" fill="url(#bub)"/><circle cx="279.8" cy="263.9" r="1.5" fill="url(#bub)"/><circle cx="161.3" cy="264" r="1.2" fill="url(#bub)"/><circle cx="194" cy="264" r="1.5" fill="url(#bub)"/><circle cx="229.6" cy="264" r="1.7" fill="url(#bub)"/><circle cx="162.9" cy="264" r="1.7" fill="url(#bub)"/><circle cx="200.4" cy="264.4" r="1.3" fill="url(#bub)"/><circle cx="236" cy="264.4" r="2.1" fill="url(#bub)"/><circle cx="256.5" cy="264.5" r="1.3" fill="url(#bub)"/><circle cx="333.5" cy="264.5" r="1.7" fill="url(#bub)"/><circle cx="208.1" cy="264.6" r="1.3" fill="url(#bub)"/><circle cx="186.1" cy="264.6" r="2.1" fill="url(#bub)"/><circle cx="288.3" cy="264.8" r="1.9" fill="url(#bub)"/><circle cx="174.8" cy="264.9" r="1.7" fill="url(#bub)"/><circle cx="157.8" cy="264.9" r="1.6" fill="url(#bub)"/><circle cx="293.2" cy="265" r="1.5" fill="url(#bub)"/><circle cx="282.4" cy="265" r="2.2" fill="url(#bub)"/><circle cx="155.2" cy="265.1" r="2.2" fill="url(#bub)"/><circle cx="285.1" cy="265.1" r="1.7" fill="url(#bub)"/><circle cx="221.2" cy="265.3" r="1.8" fill="url(#bub)"/><circle cx="301" cy="265.5" r="1.7" fill="url(#bub)"/><circle cx="229.1" cy="265.5" r="1.3" fill="url(#bub)"/><circle cx="198.2" cy="265.5" r="1.4" fill="url(#bub)"/><circle cx="345.6" cy="265.6" r="1.2" fill="url(#bub)"/><circle cx="241.3" cy="265.7" r="1.7" fill="url(#bub)"/><circle cx="324.4" cy="265.7" r="1.7" fill="url(#bub)"/><circle cx="299.6" cy="265.7" r="1.6" fill="url(#bub)"/><circle cx="240.1" cy="265.8" r="1.6" fill="url(#bub)"/><circle cx="233.6" cy="265.9" r="1.3" fill="url(#bub)"/><circle cx="199.2" cy="265.9" r="1.6" fill="url(#bub)"/><circle cx="134" cy="266" r="1.6" fill="url(#bub)"/><circle cx="222.4" cy="266" r="1.8" fill="url(#bub)"/><circle cx="172.3" cy="266" r="1.4" fill="url(#bub)"/><circle cx="281.3" cy="266.1" r="1.7" fill="url(#bub)"/><circle cx="319.2" cy="266.1" r="2.2" fill="url(#bub)"/><circle cx="307.9" cy="266.1" r="1.9" fill="url(#bub)"/><circle cx="136.5" cy="266.3" r="2.2" fill="url(#bub)"/><circle cx="283.8" cy="266.3" r="1.4" fill="url(#bub)"/><circle cx="292.9" cy="266.4" r="1.6" fill="url(#bub)"/><circle cx="229.2" cy="266.4" r="1.6" fill="url(#bub)"/><circle cx="329.1" cy="266.5" r="1.6" fill="url(#bub)"/><circle cx="235.1" cy="266.6" r="2.2" fill="url(#bub)"/><circle cx="146.3" cy="266.6" r="2.2" fill="url(#bub)"/><circle cx="327" cy="266.7" r="2.4" fill="url(#bub)"/><circle cx="290.4" cy="266.7" r="1.3" fill="url(#bub)"/><circle cx="172.9" cy="266.7" r="1.9" fill="url(#bub)"/><circle cx="281.8" cy="266.8" r="1.8" fill="url(#bub)"/><circle cx="156.2" cy="266.9" r="1.2" fill="url(#bub)"/><circle cx="338.7" cy="266.9" r="1.9" fill="url(#bub)"/><circle cx="233.1" cy="267" r="2" fill="url(#bub)"/><circle cx="238.3" cy="267" r="1.7" fill="url(#bub)"/><circle cx="214" cy="267.1" r="1.7" fill="url(#bub)"/><circle cx="166.9" cy="267.1" r="1.3" fill="url(#bub)"/><circle cx="236.7" cy="267.1" r="1.8" fill="url(#bub)"/><circle cx="345.9" cy="267.2" r="2" fill="url(#bub)"/><circle cx="314.3" cy="267.2" r="1.2" fill="url(#bub)"/><circle cx="298.5" cy="267.2" r="1.8" fill="url(#bub)"/><circle cx="275.7" cy="267.3" r="1.2" fill="url(#bub)"/><circle cx="147.6" cy="267.3" r="1.7" fill="url(#bub)"/><circle cx="165.3" cy="267.3" r="1.5" fill="url(#bub)"/><circle cx="270" cy="267.3" r="1.8" fill="url(#bub)"/><circle cx="178.8" cy="267.4" r="1.5" fill="url(#bub)"/><circle cx="343.1" cy="267.4" r="1.2" fill="url(#bub)"/><circle cx="292.4" cy="267.4" r="1.5" fill="url(#bub)"/><circle cx="260.9" cy="267.5" r="2.1" fill="url(#bub)"/><circle cx="137.8" cy="267.5" r="1.6" fill="url(#bub)"/><circle cx="250.5" cy="267.6" r="1.6" fill="url(#bub)"/><circle cx="197.9" cy="267.6" r="1.8" fill="url(#bub)"/><circle cx="280.2" cy="267.6" r="2.2" fill="url(#bub)"/><circle cx="324.8" cy="267.6" r="1.9" fill="url(#bub)"/><circle cx="276" cy="267.6" r="1.8" fill="url(#bub)"/><circle cx="248.2" cy="267.7" r="2.1" fill="url(#bub)"/><circle cx="311.4" cy="267.8" r="1.6" fill="url(#bub)"/><circle cx="154.5" cy="267.8" r="2.1" fill="url(#bub)"/><circle cx="133.7" cy="267.8" r="2.1" fill="url(#bub)"/><circle cx="181.2" cy="267.9" r="1.8" fill="url(#bub)"/><circle cx="241.2" cy="267.9" r="1.2" fill="url(#bub)"/><circle cx="160" cy="267.9" r="2.2" fill="url(#bub)"/><circle cx="271.2" cy="267.9" r="1.5" fill="url(#bub)"/><circle cx="252.9" cy="268" r="1.8" fill="url(#bub)"/><circle cx="325.5" cy="268.1" r="1.3" fill="url(#bub)"/><circle cx="159.4" cy="268.3" r="1.5" fill="url(#bub)"/><circle cx="220.9" cy="268.5" r="1.4" fill="url(#bub)"/><circle cx="278.3" cy="268.7" r="1.5" fill="url(#bub)"/><circle cx="326" cy="268.7" r="1.9" fill="url(#bub)"/><circle cx="304.8" cy="268.8" r="1.7" fill="url(#bub)"/><circle cx="164.6" cy="268.8" r="1.5" fill="url(#bub)"/><circle cx="251.3" cy="268.8" r="2.1" fill="url(#bub)"/><circle cx="192.1" cy="268.8" r="2" fill="url(#bub)"/><circle cx="207" cy="268.8" r="2.2" fill="url(#bub)"/><circle cx="283.8" cy="268.9" r="1.5" fill="url(#bub)"/><circle cx="327.5" cy="268.9" r="2.4" fill="url(#bub)"/><circle cx="314.6" cy="268.9" r="1.4" fill="url(#bub)"/><circle cx="205.4" cy="269" r="1.5" fill="url(#bub)"/><circle cx="163.9" cy="269.3" r="1.7" fill="url(#bub)"/><circle cx="341.3" cy="269.4" r="1.7" fill="url(#bub)"/><circle cx="259.5" cy="269.6" r="2" fill="url(#bub)"/><circle cx="339.8" cy="269.6" r="2.1" fill="url(#bub)"/><circle cx="310.9" cy="269.7" r="1.7" fill="url(#bub)"/><circle cx="241.3" cy="269.9" r="1.6" fill="url(#bub)"/><circle cx="239.6" cy="269.9" r="1.4" fill="url(#bub)"/><circle cx="162.4" cy="270" r="1.5" fill="url(#bub)"/><circle cx="299.9" cy="270" r="1.8" fill="url(#bub)"/><circle cx="231.9" cy="270.1" r="1.7" fill="url(#bub)"/><circle cx="281.1" cy="270.2" r="2" fill="url(#bub)"/><circle cx="141.1" cy="270.2" r="1.5" fill="url(#bub)"/><circle cx="285.7" cy="270.3" r="2" fill="url(#bub)"/><circle cx="160.1" cy="270.5" r="1.9" fill="url(#bub)"/><circle cx="164.2" cy="270.6" r="1.4" fill="url(#bub)"/><circle cx="245" cy="270.9" r="1.2" fill="url(#bub)"/><circle cx="207.2" cy="271" r="1.2" fill="url(#bub)"/><circle cx="247.1" cy="271" r="1.3" fill="url(#bub)"/><circle cx="223.8" cy="271" r="1.6" fill="url(#bub)"/><circle cx="206.9" cy="271" r="1.3" fill="url(#bub)"/><circle cx="253.3" cy="271.1" r="1.6" fill="url(#bub)"/><circle cx="321.3" cy="271.1" r="2" fill="url(#bub)"/><circle cx="259.9" cy="271.1" r="1.9" fill="url(#bub)"/><circle cx="304.9" cy="271.1" r="1.9" fill="url(#bub)"/><circle cx="290.9" cy="271.4" r="2.1" fill="url(#bub)"/><circle cx="342.7" cy="271.4" r="1.4" fill="url(#bub)"/><circle cx="229.3" cy="271.5" r="1.4" fill="url(#bub)"/><circle cx="223.8" cy="271.5" r="1.8" fill="url(#bub)"/><circle cx="164.4" cy="271.5" r="1.9" fill="url(#bub)"/><circle cx="294.8" cy="271.5" r="1.6" fill="url(#bub)"/><circle cx="344.5" cy="271.5" r="1.8" fill="url(#bub)"/><circle cx="175.9" cy="271.6" r="1.1" fill="url(#bub)"/><circle cx="168.9" cy="271.6" r="1.9" fill="url(#bub)"/><circle cx="302.4" cy="271.7" r="1.3" fill="url(#bub)"/><circle cx="317.4" cy="271.8" r="1.5" fill="url(#bub)"/><circle cx="168" cy="271.9" r="1.8" fill="url(#bub)"/><circle cx="143.8" cy="271.9" r="1.4" fill="url(#bub)"/><circle cx="259.6" cy="271.9" r="2" fill="url(#bub)"/><circle cx="334.6" cy="272.2" r="1.1" fill="url(#bub)"/><circle cx="300.5" cy="272.3" r="1.5" fill="url(#bub)"/><circle cx="277.5" cy="272.4" r="2.1" fill="url(#bub)"/><circle cx="175.4" cy="272.4" r="1.5" fill="url(#bub)"/><circle cx="280.7" cy="272.5" r="1.7" fill="url(#bub)"/><circle cx="243.8" cy="272.5" r="1.2" fill="url(#bub)"/><circle cx="248.7" cy="272.7" r="1.5" fill="url(#bub)"/><circle cx="173" cy="272.8" r="2.1" fill="url(#bub)"/><circle cx="291.5" cy="272.8" r="1.1" fill="url(#bub)"/><circle cx="312.4" cy="272.9" r="2.1" fill="url(#bub)"/><circle cx="209.9" cy="273.1" r="2.3" fill="url(#bub)"/><circle cx="169.2" cy="273.1" r="1.3" fill="url(#bub)"/><circle cx="166.6" cy="273.2" r="1.8" fill="url(#bub)"/><circle cx="324.6" cy="273.2" r="1.8" fill="url(#bub)"/><circle cx="244.2" cy="273.2" r="1.8" fill="url(#bub)"/><circle cx="248.1" cy="273.4" r="1.6" fill="url(#bub)"/><circle cx="131.9" cy="273.4" r="1.8" fill="url(#bub)"/><circle cx="286.9" cy="273.6" r="1.6" fill="url(#bub)"/><circle cx="223.6" cy="273.6" r="1.6" fill="url(#bub)"/><circle cx="181.3" cy="273.7" r="1.7" fill="url(#bub)"/><circle cx="286.5" cy="273.7" r="2" fill="url(#bub)"/><circle cx="248.3" cy="273.8" r="1.8" fill="url(#bub)"/><circle cx="244.4" cy="273.8" r="1.9" fill="url(#bub)"/><circle cx="169.2" cy="273.8" r="2.2" fill="url(#bub)"/><circle cx="321.9" cy="273.9" r="1.3" fill="url(#bub)"/><circle cx="314.9" cy="273.9" r="2" fill="url(#bub)"/><circle cx="233.4" cy="273.9" r="1.8" fill="url(#bub)"/><circle cx="170.1" cy="274" r="1.5" fill="url(#bub)"/><circle cx="166.8" cy="274.2" r="1.4" fill="url(#bub)"/><circle cx="225.7" cy="274.3" r="1.2" fill="url(#bub)"/><circle cx="193.9" cy="274.3" r="1.4" fill="url(#bub)"/><circle cx="313.3" cy="274.4" r="1.5" fill="url(#bub)"/><circle cx="182.7" cy="274.6" r="1.8" fill="url(#bub)"/><circle cx="251.4" cy="274.6" r="1.2" fill="url(#bub)"/><circle cx="170.9" cy="274.7" r="2" fill="url(#bub)"/><circle cx="197" cy="274.8" r="1.5" fill="url(#bub)"/><circle cx="204.4" cy="274.9" r="1.3" fill="url(#bub)"/><circle cx="136.3" cy="274.9" r="1.4" fill="url(#bub)"/><circle cx="327" cy="275" r="1.8" fill="url(#bub)"/><circle cx="337.6" cy="275" r="1.8" fill="url(#bub)"/><circle cx="259.1" cy="275" r="1.6" fill="url(#bub)"/><circle cx="166.6" cy="275" r="1.1" fill="url(#bub)"/><circle cx="225.5" cy="275.1" r="1.2" fill="url(#bub)"/><circle cx="284.1" cy="275.1" r="1.2" fill="url(#bub)"/><circle cx="285.6" cy="275.2" r="1.8" fill="url(#bub)"/><circle cx="282.4" cy="275.2" r="1.4" fill="url(#bub)"/><circle cx="275.2" cy="275.3" r="1.2" fill="url(#bub)"/><circle cx="171.2" cy="275.3" r="1.8" fill="url(#bub)"/><circle cx="267.9" cy="275.4" r="1.9" fill="url(#bub)"/><circle cx="182.9" cy="275.4" r="1.3" fill="url(#bub)"/><circle cx="331.7" cy="275.4" r="1.8" fill="url(#bub)"/><circle cx="301.6" cy="275.4" r="2.1" fill="url(#bub)"/><circle cx="317.1" cy="275.5" r="1.6" fill="url(#bub)"/><circle cx="220.3" cy="275.6" r="1.1" fill="url(#bub)"/><circle cx="218.4" cy="275.6" r="1.9" fill="url(#bub)"/><circle cx="136.7" cy="275.6" r="1.4" fill="url(#bub)"/><circle cx="250.4" cy="275.7" r="1.3" fill="url(#bub)"/><circle cx="343.7" cy="275.9" r="1.6" fill="url(#bub)"/><circle cx="199.7" cy="275.9" r="1.2" fill="url(#bub)"/><circle cx="222.7" cy="275.9" r="2.1" fill="url(#bub)"/><circle cx="179.5" cy="276" r="2" fill="url(#bub)"/><circle cx="314.3" cy="276" r="1.4" fill="url(#bub)"/><circle cx="322.7" cy="276" r="1.5" fill="url(#bub)"/><circle cx="244.3" cy="276" r="1.5" fill="url(#bub)"/><circle cx="310.6" cy="276.3" r="2.1" fill="url(#bub)"/><circle cx="176" cy="276.3" r="1.7" fill="url(#bub)"/><circle cx="272.7" cy="276.4" r="1.6" fill="url(#bub)"/><circle cx="245.9" cy="276.4" r="1.3" fill="url(#bub)"/><circle cx="324.3" cy="276.4" r="1.5" fill="url(#bub)"/><circle cx="333.6" cy="276.4" r="1.4" fill="url(#bub)"/><circle cx="219.7" cy="276.4" r="2" fill="url(#bub)"/><circle cx="214.5" cy="276.5" r="1.9" fill="url(#bub)"/><circle cx="279.5" cy="276.6" r="1.5" fill="url(#bub)"/><circle cx="253.3" cy="276.6" r="2.5" fill="url(#bub)"/><circle cx="138.9" cy="276.7" r="1.9" fill="url(#bub)"/><circle cx="283.4" cy="276.7" r="2" fill="url(#bub)"/><circle cx="277.5" cy="276.7" r="1.5" fill="url(#bub)"/><circle cx="286" cy="276.7" r="1.4" fill="url(#bub)"/><circle cx="189.8" cy="276.9" r="1.4" fill="url(#bub)"/><circle cx="155.4" cy="277" r="1.2" fill="url(#bub)"/><circle cx="234.3" cy="277" r="1.3" fill="url(#bub)"/><circle cx="243.6" cy="277.1" r="1.7" fill="url(#bub)"/><circle cx="235.9" cy="277.1" r="1.8" fill="url(#bub)"/><circle cx="283.4" cy="277.1" r="1.4" fill="url(#bub)"/><circle cx="215.6" cy="277.1" r="2.2" fill="url(#bub)"/><circle cx="170" cy="277.3" r="1.2" fill="url(#bub)"/><circle cx="281.2" cy="277.3" r="1.3" fill="url(#bub)"/><circle cx="169" cy="277.4" r="1.2" fill="url(#bub)"/><circle cx="224.4" cy="277.4" r="1.6" fill="url(#bub)"/><circle cx="226.8" cy="277.4" r="1.8" fill="url(#bub)"/><circle cx="242.6" cy="277.4" r="2.1" fill="url(#bub)"/><circle cx="202" cy="277.5" r="1.9" fill="url(#bub)"/><circle cx="189.5" cy="277.5" r="2.1" fill="url(#bub)"/><circle cx="199.3" cy="277.6" r="1.4" fill="url(#bub)"/><circle cx="154.4" cy="277.7" r="1.5" fill="url(#bub)"/><circle cx="318.5" cy="277.7" r="1.8" fill="url(#bub)"/><circle cx="287.7" cy="277.7" r="1.4" fill="url(#bub)"/><circle cx="192.2" cy="277.8" r="1.9" fill="url(#bub)"/><circle cx="263.4" cy="277.8" r="1.2" fill="url(#bub)"/><circle cx="341.4" cy="277.8" r="1.6" fill="url(#bub)"/><circle cx="158.2" cy="277.8" r="1.2" fill="url(#bub)"/><circle cx="241.6" cy="277.8" r="2.2" fill="url(#bub)"/><circle cx="349.9" cy="277.9" r="1.3" fill="url(#bub)"/><circle cx="142.4" cy="277.9" r="1.2" fill="url(#bub)"/><circle cx="139.5" cy="277.9" r="1.4" fill="url(#bub)"/><circle cx="311.1" cy="277.9" r="1.1" fill="url(#bub)"/><circle cx="220.4" cy="277.9" r="1.2" fill="url(#bub)"/><circle cx="169.7" cy="278" r="1.4" fill="url(#bub)"/><circle cx="335.4" cy="278.1" r="1.3" fill="url(#bub)"/><circle cx="314.2" cy="278.2" r="1.5" fill="url(#bub)"/><circle cx="131.2" cy="278.3" r="1.5" fill="url(#bub)"/><circle cx="241.9" cy="278.3" r="1.8" fill="url(#bub)"/><circle cx="277.7" cy="278.3" r="2.1" fill="url(#bub)"/><circle cx="183.3" cy="278.5" r="2.2" fill="url(#bub)"/><circle cx="325.1" cy="278.5" r="1.7" fill="url(#bub)"/><circle cx="194.3" cy="278.5" r="1.4" fill="url(#bub)"/><circle cx="299.6" cy="278.6" r="1.8" fill="url(#bub)"/><circle cx="240.2" cy="278.7" r="2.2" fill="url(#bub)"/><circle cx="151" cy="278.7" r="2" fill="url(#bub)"/><circle cx="242.8" cy="278.7" r="2.3" fill="url(#bub)"/><circle cx="140.1" cy="278.8" r="2.1" fill="url(#bub)"/><circle cx="215.3" cy="278.8" r="1.3" fill="url(#bub)"/><circle cx="178.2" cy="278.9" r="1.6" fill="url(#bub)"/><circle cx="312.2" cy="278.9" r="1.3" fill="url(#bub)"/><circle cx="260.6" cy="279" r="2.4" fill="url(#bub)"/><circle cx="250.9" cy="279" r="1.8" fill="url(#bub)"/><circle cx="165.7" cy="279" r="2" fill="url(#bub)"/><circle cx="335.1" cy="279.2" r="1.9" fill="url(#bub)"/><circle cx="129.6" cy="279.3" r="2.1" fill="url(#bub)"/><circle cx="206.6" cy="279.3" r="1.9" fill="url(#bub)"/><circle cx="258.6" cy="279.4" r="1.7" fill="url(#bub)"/><circle cx="288.7" cy="279.5" r="1.5" fill="url(#bub)"/><circle cx="322.3" cy="279.5" r="2.2" fill="url(#bub)"/><circle cx="236.8" cy="279.5" r="1.5" fill="url(#bub)"/><circle cx="319.3" cy="279.5" r="1.9" fill="url(#bub)"/><circle cx="161.1" cy="279.6" r="2.1" fill="url(#bub)"/><circle cx="273.8" cy="279.6" r="1.7" fill="url(#bub)"/><circle cx="229.9" cy="279.7" r="1.9" fill="url(#bub)"/><circle cx="167.4" cy="279.9" r="1.9" fill="url(#bub)"/><circle cx="279.1" cy="279.9" r="1.7" fill="url(#bub)"/><circle cx="206.9" cy="279.9" r="1.4" fill="url(#bub)"/><circle cx="252.8" cy="280" r="1.2" fill="url(#bub)"/><circle cx="319.7" cy="280" r="2.1" fill="url(#bub)"/><circle cx="270.7" cy="280.1" r="1.7" fill="url(#bub)"/><circle cx="186" cy="280.2" r="1.8" fill="url(#bub)"/><circle cx="249.5" cy="280.4" r="1.2" fill="url(#bub)"/><circle cx="137.3" cy="280.4" r="1.9" fill="url(#bub)"/><circle cx="214" cy="280.5" r="1.4" fill="url(#bub)"/><circle cx="145.6" cy="280.5" r="1.4" fill="url(#bub)"/><circle cx="162.5" cy="280.6" r="1.5" fill="url(#bub)"/><circle cx="216.1" cy="280.6" r="2.1" fill="url(#bub)"/><circle cx="211.2" cy="280.7" r="1.2" fill="url(#bub)"/><circle cx="313.1" cy="281" r="1.8" fill="url(#bub)"/><circle cx="225.5" cy="281" r="1.7" fill="url(#bub)"/><circle cx="252.7" cy="281" r="1.4" fill="url(#bub)"/><circle cx="270.1" cy="281.1" r="2.3" fill="url(#bub)"/><circle cx="292.5" cy="281.2" r="1.2" fill="url(#bub)"/><circle cx="186.2" cy="281.2" r="1.9" fill="url(#bub)"/><circle cx="229.6" cy="281.2" r="1.3" fill="url(#bub)"/><circle cx="268.9" cy="281.2" r="1.3" fill="url(#bub)"/><circle cx="218.4" cy="281.2" r="1.7" fill="url(#bub)"/><circle cx="207.7" cy="281.3" r="1.3" fill="url(#bub)"/><circle cx="195.1" cy="281.3" r="1.8" fill="url(#bub)"/><circle cx="270.8" cy="281.3" r="1.3" fill="url(#bub)"/><circle cx="275.4" cy="281.4" r="1.9" fill="url(#bub)"/><circle cx="320.5" cy="281.4" r="1.7" fill="url(#bub)"/><circle cx="225.4" cy="281.4" r="1.9" fill="url(#bub)"/><circle cx="131" cy="281.4" r="1.8" fill="url(#bub)"/><circle cx="168.5" cy="281.4" r="1.5" fill="url(#bub)"/><circle cx="271.2" cy="281.4" r="2.1" fill="url(#bub)"/><circle cx="244.6" cy="281.5" r="1.5" fill="url(#bub)"/><circle cx="223.5" cy="281.5" r="1.3" fill="url(#bub)"/><circle cx="158.5" cy="281.6" r="1.4" fill="url(#bub)"/><circle cx="141.1" cy="281.7" r="1.3" fill="url(#bub)"/><circle cx="291.1" cy="281.7" r="1.6" fill="url(#bub)"/><circle cx="285.1" cy="281.7" r="1.4" fill="url(#bub)"/><circle cx="330.1" cy="281.7" r="1.5" fill="url(#bub)"/><circle cx="277.4" cy="281.8" r="1.8" fill="url(#bub)"/><circle cx="317.4" cy="281.8" r="2.1" fill="url(#bub)"/><circle cx="341" cy="281.8" r="1.2" fill="url(#bub)"/><circle cx="277.8" cy="281.9" r="2.1" fill="url(#bub)"/><circle cx="142.7" cy="281.9" r="1.3" fill="url(#bub)"/><circle cx="169.5" cy="281.9" r="1.2" fill="url(#bub)"/><circle cx="311.6" cy="282" r="1.2" fill="url(#bub)"/><circle cx="262.7" cy="282" r="1.6" fill="url(#bub)"/><circle cx="262.7" cy="282.1" r="1.8" fill="url(#bub)"/><circle cx="178.5" cy="282.1" r="1.3" fill="url(#bub)"/><circle cx="271.3" cy="282.1" r="1.4" fill="url(#bub)"/><circle cx="197.6" cy="282.1" r="1.5" fill="url(#bub)"/><circle cx="324.5" cy="282.1" r="1.6" fill="url(#bub)"/><circle cx="158.7" cy="282.2" r="1.7" fill="url(#bub)"/><circle cx="300.7" cy="282.2" r="2" fill="url(#bub)"/><circle cx="267.1" cy="282.2" r="2" fill="url(#bub)"/><circle cx="287" cy="282.2" r="1.7" fill="url(#bub)"/><circle cx="130.7" cy="282.3" r="1.3" fill="url(#bub)"/><circle cx="302" cy="282.3" r="2.1" fill="url(#bub)"/><circle cx="275.5" cy="282.3" r="1.7" fill="url(#bub)"/><circle cx="230.2" cy="282.3" r="2.6" fill="url(#bub)"/><circle cx="265.2" cy="282.4" r="2.1" fill="url(#bub)"/><circle cx="163.1" cy="282.4" r="1.2" fill="url(#bub)"/><circle cx="278.5" cy="282.5" r="1.7" fill="url(#bub)"/><circle cx="199.8" cy="282.6" r="1.2" fill="url(#bub)"/><circle cx="244.8" cy="282.6" r="1.9" fill="url(#bub)"/><circle cx="239.9" cy="282.6" r="1.6" fill="url(#bub)"/><circle cx="160" cy="282.7" r="2.1" fill="url(#bub)"/><circle cx="142.3" cy="282.7" r="1.9" fill="url(#bub)"/><circle cx="210.3" cy="282.7" r="1.2" fill="url(#bub)"/><circle cx="271.7" cy="282.7" r="1.4" fill="url(#bub)"/><circle cx="302.4" cy="282.8" r="1.9" fill="url(#bub)"/><circle cx="185.6" cy="282.9" r="1.6" fill="url(#bub)"/><circle cx="283.2" cy="283" r="1.8" fill="url(#bub)"/><circle cx="250.5" cy="283" r="1.8" fill="url(#bub)"/><circle cx="239.3" cy="283" r="1.6" fill="url(#bub)"/><circle cx="226.1" cy="283" r="1.1" fill="url(#bub)"/><circle cx="157.9" cy="283" r="1.7" fill="url(#bub)"/><circle cx="245.7" cy="283" r="1.1" fill="url(#bub)"/><circle cx="283.3" cy="283.1" r="1.5" fill="url(#bub)"/><circle cx="255.4" cy="283.1" r="1.9" fill="url(#bub)"/><circle cx="151.1" cy="283.1" r="1.9" fill="url(#bub)"/><circle cx="326.7" cy="283.2" r="1.6" fill="url(#bub)"/><circle cx="163.2" cy="283.2" r="2.1" fill="url(#bub)"/><circle cx="346.9" cy="283.2" r="1.9" fill="url(#bub)"/><circle cx="162.5" cy="283.3" r="1.8" fill="url(#bub)"/><circle cx="238" cy="283.3" r="1.2" fill="url(#bub)"/><circle cx="138.4" cy="283.3" r="1.7" fill="url(#bub)"/><circle cx="245" cy="283.4" r="1.8" fill="url(#bub)"/><circle cx="287.3" cy="283.4" r="1.8" fill="url(#bub)"/><circle cx="267.2" cy="283.5" r="1.9" fill="url(#bub)"/><circle cx="160.6" cy="283.5" r="2.1" fill="url(#bub)"/><circle cx="156" cy="283.5" r="1.4" fill="url(#bub)"/><circle cx="171.1" cy="283.6" r="1.7" fill="url(#bub)"/><circle cx="301.1" cy="283.6" r="1.8" fill="url(#bub)"/><circle cx="131.7" cy="283.7" r="1.6" fill="url(#bub)"/><circle cx="291.1" cy="283.7" r="2.2" fill="url(#bub)"/><circle cx="325.4" cy="283.8" r="2.1" fill="url(#bub)"/><circle cx="329.6" cy="283.8" r="1.1" fill="url(#bub)"/><circle cx="145.2" cy="283.8" r="1.2" fill="url(#bub)"/><circle cx="168.4" cy="283.9" r="1.4" fill="url(#bub)"/><circle cx="192.2" cy="283.9" r="1.5" fill="url(#bub)"/><circle cx="333.3" cy="284" r="2" fill="url(#bub)"/><circle cx="178.6" cy="284" r="2" fill="url(#bub)"/><circle cx="130.3" cy="284" r="2" fill="url(#bub)"/><circle cx="156" cy="284" r="1.1" fill="url(#bub)"/><circle cx="321.9" cy="284.1" r="1.6" fill="url(#bub)"/><circle cx="143.7" cy="284.2" r="1.2" fill="url(#bub)"/><circle cx="272.8" cy="284.2" r="1.9" fill="url(#bub)"/><circle cx="164.7" cy="284.2" r="1.7" fill="url(#bub)"/><circle cx="231" cy="284.2" r="2.2" fill="url(#bub)"/><circle cx="237.5" cy="284.3" r="1.6" fill="url(#bub)"/><circle cx="230.4" cy="284.3" r="1.7" fill="url(#bub)"/><circle cx="281.8" cy="284.3" r="1.3" fill="url(#bub)"/><circle cx="176.2" cy="284.4" r="2.4" fill="url(#bub)"/><circle cx="156.3" cy="284.5" r="2.1" fill="url(#bub)"/><circle cx="289.1" cy="284.5" r="2.1" fill="url(#bub)"/><circle cx="207.8" cy="284.6" r="1.3" fill="url(#bub)"/><circle cx="275.4" cy="284.6" r="1.3" fill="url(#bub)"/><circle cx="170.7" cy="284.6" r="1.4" fill="url(#bub)"/><circle cx="288" cy="284.6" r="1.3" fill="url(#bub)"/><circle cx="198.4" cy="284.7" r="1.4" fill="url(#bub)"/><circle cx="231.1" cy="284.7" r="1.8" fill="url(#bub)"/><circle cx="282.8" cy="284.7" r="2" fill="url(#bub)"/><circle cx="326.6" cy="284.7" r="1.3" fill="url(#bub)"/><circle cx="143.4" cy="284.8" r="1.9" fill="url(#bub)"/><circle cx="171.2" cy="284.8" r="1.5" fill="url(#bub)"/><circle cx="197.3" cy="285" r="1.4" fill="url(#bub)"/><circle cx="290.2" cy="285" r="1.4" fill="url(#bub)"/><circle cx="258.5" cy="285" r="1.9" fill="url(#bub)"/><circle cx="232.3" cy="285" r="2" fill="url(#bub)"/><circle cx="218.5" cy="285.1" r="2" fill="url(#bub)"/><circle cx="211.1" cy="285.1" r="1.3" fill="url(#bub)"/><circle cx="328.3" cy="285.1" r="1.8" fill="url(#bub)"/><circle cx="294.9" cy="285.1" r="1.9" fill="url(#bub)"/><circle cx="255.2" cy="285.2" r="1.3" fill="url(#bub)"/><circle cx="293.5" cy="285.3" r="1.5" fill="url(#bub)"/><circle cx="232" cy="285.3" r="1.9" fill="url(#bub)"/><circle cx="143.5" cy="285.3" r="2.1" fill="url(#bub)"/><circle cx="314.6" cy="285.3" r="1.5" fill="url(#bub)"/><circle cx="276.1" cy="285.3" r="2" fill="url(#bub)"/><circle cx="241.9" cy="285.3" r="1.7" fill="url(#bub)"/><circle cx="312.2" cy="285.4" r="1.5" fill="url(#bub)"/><circle cx="190.2" cy="285.4" r="1.2" fill="url(#bub)"/><circle cx="247.8" cy="285.4" r="2.1" fill="url(#bub)"/><circle cx="313.5" cy="285.5" r="1.7" fill="url(#bub)"/><circle cx="329.1" cy="285.5" r="1.5" fill="url(#bub)"/><circle cx="321.4" cy="285.5" r="1.1" fill="url(#bub)"/><circle cx="184.5" cy="285.5" r="1.4" fill="url(#bub)"/><circle cx="283.4" cy="285.5" r="2.2" fill="url(#bub)"/><circle cx="165.4" cy="285.6" r="1.3" fill="url(#bub)"/><circle cx="189.7" cy="285.6" r="2" fill="url(#bub)"/><circle cx="198.9" cy="285.7" r="1.6" fill="url(#bub)"/><circle cx="175" cy="285.7" r="1.6" fill="url(#bub)"/><circle cx="156.9" cy="285.8" r="1.2" fill="url(#bub)"/><circle cx="172.7" cy="285.8" r="1.3" fill="url(#bub)"/><circle cx="293" cy="285.8" r="1.8" fill="url(#bub)"/><circle cx="223.9" cy="285.9" r="1.1" fill="url(#bub)"/><circle cx="203.2" cy="285.9" r="1.2" fill="url(#bub)"/><circle cx="310.5" cy="285.9" r="1.6" fill="url(#bub)"/><circle cx="181.3" cy="286" r="1.3" fill="url(#bub)"/><circle cx="128.7" cy="286" r="1.3" fill="url(#bub)"/><circle cx="222.4" cy="286" r="1.1" fill="url(#bub)"/><circle cx="308.7" cy="286.1" r="1.2" fill="url(#bub)"/><circle cx="269.3" cy="286.1" r="2.1" fill="url(#bub)"/><circle cx="194.5" cy="286.2" r="1.4" fill="url(#bub)"/><circle cx="202" cy="286.2" r="2.2" fill="url(#bub)"/><circle cx="186.6" cy="286.2" r="1.5" fill="url(#bub)"/><circle cx="226.9" cy="286.3" r="1.7" fill="url(#bub)"/><circle cx="217.9" cy="286.4" r="1.3" fill="url(#bub)"/><circle cx="200.4" cy="286.4" r="1.7" fill="url(#bub)"/><circle cx="186.8" cy="286.5" r="1.6" fill="url(#bub)"/><circle cx="244.9" cy="286.5" r="1.7" fill="url(#bub)"/><circle cx="249.8" cy="286.5" r="1.1" fill="url(#bub)"/><circle cx="203.4" cy="286.6" r="1.2" fill="url(#bub)"/><circle cx="276.2" cy="286.6" r="1.8" fill="url(#bub)"/><circle cx="206" cy="286.7" r="2" fill="url(#bub)"/><circle cx="159.8" cy="286.7" r="2" fill="url(#bub)"/><circle cx="216" cy="286.7" r="1.7" fill="url(#bub)"/><circle cx="214.6" cy="286.7" r="1.5" fill="url(#bub)"/><circle cx="157.6" cy="286.8" r="2.2" fill="url(#bub)"/><circle cx="196.2" cy="286.8" r="2.1" fill="url(#bub)"/><circle cx="240.9" cy="286.9" r="1.7" fill="url(#bub)"/><circle cx="262.2" cy="287" r="1.7" fill="url(#bub)"/><circle cx="187.8" cy="287.1" r="1.6" fill="url(#bub)"/><circle cx="314.4" cy="287.1" r="2.1" fill="url(#bub)"/><circle cx="250.9" cy="287.1" r="1.9" fill="url(#bub)"/><circle cx="166.6" cy="287.1" r="1.8" fill="url(#bub)"/><circle cx="147.2" cy="287.2" r="1.3" fill="url(#bub)"/><circle cx="315.8" cy="287.2" r="2" fill="url(#bub)"/><circle cx="251.6" cy="287.2" r="1.4" fill="url(#bub)"/><circle cx="167.1" cy="287.3" r="1.4" fill="url(#bub)"/><circle cx="248.7" cy="287.3" r="1.1" fill="url(#bub)"/><circle cx="212.7" cy="287.3" r="1.7" fill="url(#bub)"/><circle cx="214" cy="287.4" r="1.2" fill="url(#bub)"/><circle cx="189.6" cy="287.4" r="2.1" fill="url(#bub)"/><circle cx="294.2" cy="287.4" r="1.3" fill="url(#bub)"/><circle cx="288.5" cy="287.4" r="2" fill="url(#bub)"/><circle cx="173" cy="287.4" r="1.3" fill="url(#bub)"/><circle cx="292.8" cy="287.5" r="1.3" fill="url(#bub)"/><circle cx="267.7" cy="287.5" r="1.2" fill="url(#bub)"/><circle cx="185.3" cy="287.5" r="1.7" fill="url(#bub)"/><circle cx="124.8" cy="287.5" r="1.6" fill="url(#bub)"/><circle cx="302.2" cy="287.5" r="2" fill="url(#bub)"/><circle cx="221.8" cy="287.5" r="2.2" fill="url(#bub)"/><circle cx="161.4" cy="287.6" r="1.7" fill="url(#bub)"/><circle cx="253.5" cy="287.7" r="1.5" fill="url(#bub)"/><circle cx="296.2" cy="287.7" r="1.4" fill="url(#bub)"/><circle cx="254.5" cy="287.7" r="2" fill="url(#bub)"/><circle cx="147.6" cy="287.8" r="1.6" fill="url(#bub)"/><circle cx="158.5" cy="287.8" r="1.3" fill="url(#bub)"/><circle cx="235.1" cy="287.8" r="1.4" fill="url(#bub)"/><circle cx="286.4" cy="287.9" r="1.8" fill="url(#bub)"/><circle cx="240.7" cy="287.9" r="1.1" fill="url(#bub)"/><circle cx="201.3" cy="287.9" r="1.6" fill="url(#bub)"/><circle cx="203.3" cy="287.9" r="1.2" fill="url(#bub)"/><circle cx="219.2" cy="288" r="1.3" fill="url(#bub)"/><circle cx="317.5" cy="288" r="1.2" fill="url(#bub)"/><circle cx="123.3" cy="288" r="1.7" fill="url(#bub)"/><circle cx="232" cy="288" r="2.1" fill="url(#bub)"/><circle cx="219.2" cy="288.1" r="2.1" fill="url(#bub)"/><circle cx="224.6" cy="288.2" r="1.9" fill="url(#bub)"/><circle cx="213" cy="288.3" r="2.2" fill="url(#bub)"/><circle cx="202.6" cy="288.3" r="1.3" fill="url(#bub)"/><circle cx="269" cy="288.4" r="2" fill="url(#bub)"/><circle cx="179.5" cy="288.4" r="1.7" fill="url(#bub)"/><circle cx="127.8" cy="288.4" r="2.2" fill="url(#bub)"/><circle cx="175.6" cy="288.4" r="2.2" fill="url(#bub)"/><circle cx="241" cy="288.4" r="1.5" fill="url(#bub)"/><circle cx="157.8" cy="288.5" r="2" fill="url(#bub)"/><circle cx="294" cy="288.5" r="1.7" fill="url(#bub)"/><circle cx="288.6" cy="288.5" r="2" fill="url(#bub)"/><circle cx="225.4" cy="288.6" r="1.8" fill="url(#bub)"/><circle cx="159.6" cy="288.6" r="1.6" fill="url(#bub)"/><circle cx="265.7" cy="288.6" r="2.1" fill="url(#bub)"/><circle cx="129.1" cy="288.7" r="2.2" fill="url(#bub)"/><circle cx="254.4" cy="288.7" r="2" fill="url(#bub)"/><circle cx="260" cy="288.8" r="1.3" fill="url(#bub)"/><circle cx="230.2" cy="288.8" r="1.9" fill="url(#bub)"/><circle cx="142" cy="288.8" r="1.4" fill="url(#bub)"/><circle cx="217.1" cy="288.9" r="1.9" fill="url(#bub)"/><circle cx="195.6" cy="288.9" r="1.6" fill="url(#bub)"/><circle cx="240.7" cy="288.9" r="1.2" fill="url(#bub)"/><circle cx="272.9" cy="289" r="1.4" fill="url(#bub)"/><circle cx="194.6" cy="289" r="1.3" fill="url(#bub)"/><circle cx="235.5" cy="289" r="1.4" fill="url(#bub)"/><circle cx="190.2" cy="289" r="1.3" fill="url(#bub)"/><circle cx="150.4" cy="289" r="1.2" fill="url(#bub)"/><circle cx="168.1" cy="289" r="2.2" fill="url(#bub)"/><circle cx="276.7" cy="289.1" r="2" fill="url(#bub)"/><circle cx="262.9" cy="289.1" r="1.6" fill="url(#bub)"/><circle cx="192.9" cy="289.1" r="1.9" fill="url(#bub)"/><circle cx="242.4" cy="289.1" r="1.6" fill="url(#bub)"/><circle cx="181.5" cy="289.1" r="2" fill="url(#bub)"/><circle cx="191.3" cy="289.1" r="2" fill="url(#bub)"/><circle cx="313.5" cy="289.2" r="1.1" fill="url(#bub)"/><circle cx="279.1" cy="289.2" r="1.2" fill="url(#bub)"/><circle cx="232.8" cy="289.2" r="1.6" fill="url(#bub)"/><circle cx="303.4" cy="289.2" r="2.1" fill="url(#bub)"/><circle cx="322.5" cy="289.3" r="2" fill="url(#bub)"/><circle cx="135.9" cy="289.3" r="1.6" fill="url(#bub)"/><circle cx="240.6" cy="289.3" r="2.1" fill="url(#bub)"/><circle cx="178.1" cy="289.4" r="2.1" fill="url(#bub)"/><circle cx="255.7" cy="289.5" r="1.5" fill="url(#bub)"/><circle cx="221.6" cy="289.6" r="1.3" fill="url(#bub)"/><circle cx="226.2" cy="289.6" r="2.5" fill="url(#bub)"/><circle cx="216.1" cy="289.6" r="1.7" fill="url(#bub)"/><circle cx="176.6" cy="289.7" r="1.9" fill="url(#bub)"/><circle cx="289.2" cy="289.8" r="1.9" fill="url(#bub)"/><circle cx="311.8" cy="289.8" r="1.5" fill="url(#bub)"/><circle cx="139.5" cy="289.8" r="1.7" fill="url(#bub)"/><circle cx="273.6" cy="289.8" r="1.6" fill="url(#bub)"/><circle cx="302.5" cy="289.9" r="1.3" fill="url(#bub)"/><circle cx="218.2" cy="289.9" r="1.9" fill="url(#bub)"/><circle cx="275.1" cy="289.9" r="1.4" fill="url(#bub)"/><circle cx="171.3" cy="289.9" r="1.7" fill="url(#bub)"/><circle cx="200.8" cy="290" r="1.5" fill="url(#bub)"/><circle cx="293.8" cy="290" r="2.1" fill="url(#bub)"/><circle cx="210.9" cy="290" r="1.1" fill="url(#bub)"/><circle cx="200.1" cy="290.1" r="1.3" fill="url(#bub)"/><circle cx="201.2" cy="290.1" r="1.8" fill="url(#bub)"/><circle cx="216.4" cy="290.1" r="1.7" fill="url(#bub)"/><circle cx="199.8" cy="290.2" r="1.2" fill="url(#bub)"/><circle cx="195.9" cy="290.2" r="1.6" fill="url(#bub)"/><circle cx="234.2" cy="290.3" r="1.3" fill="url(#bub)"/><circle cx="224.8" cy="290.3" r="1.5" fill="url(#bub)"/><circle cx="203.1" cy="290.4" r="1.6" fill="url(#bub)"/><circle cx="255.6" cy="290.4" r="2" fill="url(#bub)"/><circle cx="252.9" cy="290.5" r="1.7" fill="url(#bub)"/><circle cx="289.6" cy="290.5" r="1.2" fill="url(#bub)"/><circle cx="211.7" cy="290.5" r="1.8" fill="url(#bub)"/><circle cx="332.7" cy="290.6" r="1.7" fill="url(#bub)"/><circle cx="201.2" cy="290.7" r="1.6" fill="url(#bub)"/><circle cx="217.7" cy="290.7" r="2" fill="url(#bub)"/><circle cx="247.1" cy="290.8" r="2" fill="url(#bub)"/><circle cx="254" cy="290.8" r="1.3" fill="url(#bub)"/><circle cx="192.5" cy="290.8" r="1.3" fill="url(#bub)"/><circle cx="307.1" cy="290.8" r="1.6" fill="url(#bub)"/><circle cx="266.8" cy="290.9" r="2" fill="url(#bub)"/><circle cx="273.4" cy="291" r="2" fill="url(#bub)"/><ellipse cx="142" cy="283" rx="8" ry="6" fill="url(#brb)"/><ellipse cx="155" cy="282" rx="7" ry="6" fill="url(#brb)"/><ellipse cx="196" cy="286" rx="5" ry="4" fill="url(#brb)"/><ellipse cx="210" cy="284" rx="6" ry="5" fill="url(#brb)"/><ellipse cx="290" cy="289" rx="4" ry="3" fill="url(#brb)"/><ellipse cx="300" cy="272" rx="3" ry="3" fill="url(#brb)"/><ellipse cx="205.5" cy="247" rx="3" ry="3.8" fill="url(#dspot)"/></g></g>
<line x1="135" y1="292.2" x2="345" y2="292.2" stroke="#fff" stroke-width="1.6" stroke-dasharray="5.8 5.9"/>
<text x="296.3" y="289.4" font-size="8.6" font-weight="bold" fill="#fff" textLength="41.8" lengthAdjust="spacingAndGlyphs">Interface</text>
<text x="271.3" y="308.9" font-size="8.6" font-weight="bold" fill="#fff" textLength="66.8" lengthAdjust="spacingAndGlyphs">S.S. electrode</text>
<text x="141.3" y="301.4" font-size="8.6" font-weight="bold" fill="#fff" textLength="27.7" lengthAdjust="spacingAndGlyphs">400 μm</text>
<rect x="146" y="303.9" width="14.5" height="3.6" fill="#fff"/>
<g clip-path="url(#b2)"><g filter="url(#bblur)"><rect x="464.6" y="198" width="212.9" height="91.7" fill="url(#b2g)"/><rect x="466.6" y="200" width="208.9" height="89.7" filter="url(#cloud)" opacity="0.22"/><circle cx="666.8" cy="212.6" r="5.3" fill="url(#blobk)"/><circle cx="505.1" cy="210.8" r="12.8" fill="url(#blobw)"/><circle cx="652.4" cy="220.8" r="16.5" fill="url(#blobw)"/><circle cx="592.2" cy="283.6" r="13.2" fill="url(#blobk)"/><circle cx="614.5" cy="204.3" r="15.6" fill="url(#blobk)"/><circle cx="531.5" cy="217.1" r="15.2" fill="url(#blobk)"/><circle cx="662.5" cy="269.4" r="16.5" fill="url(#blobk)"/><circle cx="612.5" cy="254.9" r="8.1" fill="url(#blobk)"/><circle cx="531.9" cy="270.1" r="16.5" fill="url(#blobk)"/><circle cx="496.3" cy="274" r="13" fill="url(#blobw)"/><circle cx="476.9" cy="247.7" r="5.4" fill="url(#blobk)"/><circle cx="572.4" cy="246.4" r="9.9" fill="url(#blobk)"/><circle cx="658" cy="227.6" r="9.5" fill="url(#blobk)"/><circle cx="528.7" cy="253.4" r="11.5" fill="url(#blobw)"/><circle cx="607.2" cy="247.4" r="6.1" fill="url(#blobk)"/><circle cx="540.9" cy="238.7" r="9.8" fill="url(#blobk)"/><circle cx="665.5" cy="245.9" r="9.8" fill="url(#blobw)"/><circle cx="653.7" cy="215.4" r="11.6" fill="url(#blobw)"/><circle cx="535.2" cy="232" r="7.3" fill="url(#blobw)"/><circle cx="578.5" cy="271.4" r="12.8" fill="url(#blobw)"/><circle cx="611.5" cy="204.7" r="9.9" fill="url(#blobk)"/><circle cx="659" cy="241.3" r="15.2" fill="url(#blobw)"/><circle cx="576.1" cy="252.4" r="16.9" fill="url(#blobk)"/><circle cx="565.4" cy="265.2" r="12.7" fill="url(#blobw)"/><circle cx="630.4" cy="273.5" r="12.3" fill="url(#blobk)"/><circle cx="470.4" cy="244.9" r="12.6" fill="url(#blobw)"/><circle cx="502.4" cy="262.1" r="10.2" fill="url(#blobw)"/><circle cx="475.3" cy="286.8" r="9.2" fill="url(#blobw)"/><circle cx="511.8" cy="222.9" r="15.4" fill="url(#blobw)"/><circle cx="524.3" cy="208.7" r="10.6" fill="url(#blobw)"/><circle cx="538.5" cy="265.9" r="16.1" fill="url(#blobk)"/><circle cx="474.6" cy="233.9" r="15.2" fill="url(#blobw)"/><circle cx="509" cy="244" r="9.6" fill="url(#blobk)"/><circle cx="616.6" cy="241.7" r="8" fill="url(#blobw)"/><circle cx="522.2" cy="205.8" r="13" fill="url(#blobw)"/><circle cx="652.4" cy="257.9" r="5.7" fill="url(#blobw)"/><circle cx="592.7" cy="203.8" r="10.8" fill="url(#blobw)"/><circle cx="626.7" cy="200.4" r="12.6" fill="url(#blobk)"/><circle cx="643.4" cy="220.9" r="11.4" fill="url(#blobw)"/><circle cx="538.1" cy="277.5" r="14.8" fill="url(#blobw)"/><rect x="464.6" y="289.7" width="212.9" height="21.1" fill="#242424"/><ellipse cx="546" cy="302.4" rx="2.7" ry="1.8" fill="rgb(61,61,61)" opacity="0.55"/><ellipse cx="596.3" cy="302.6" rx="2.7" ry="1.3" fill="rgb(67,67,67)" opacity="0.55"/><ellipse cx="505.9" cy="295.5" rx="1.7" ry="1.7" fill="rgb(60,60,60)" opacity="0.55"/><ellipse cx="570.2" cy="299.7" rx="2.9" ry="0.9" fill="rgb(58,58,58)" opacity="0.55"/><ellipse cx="551.4" cy="306.9" rx="1.2" ry="1.5" fill="rgb(98,98,98)" opacity="0.55"/><ellipse cx="576.6" cy="303.7" rx="1.1" ry="1.2" fill="rgb(55,55,55)" opacity="0.55"/><ellipse cx="515.9" cy="300.1" rx="1.4" ry="1.1" fill="rgb(59,59,59)" opacity="0.55"/><ellipse cx="665.6" cy="290.2" rx="2.5" ry="0.7" fill="rgb(70,70,70)" opacity="0.55"/><ellipse cx="664.8" cy="303.3" rx="2.7" ry="0.8" fill="rgb(90,90,90)" opacity="0.55"/><ellipse cx="480.5" cy="293.6" rx="1.6" ry="1.1" fill="rgb(82,82,82)" opacity="0.55"/><ellipse cx="657.3" cy="301.2" rx="2.5" ry="1.1" fill="rgb(83,83,83)" opacity="0.55"/><ellipse cx="669.3" cy="308.2" rx="1.1" ry="1" fill="rgb(96,96,96)" opacity="0.55"/><ellipse cx="573.5" cy="308.4" rx="1.6" ry="1" fill="rgb(93,93,93)" opacity="0.55"/><ellipse cx="478.6" cy="307.9" rx="2.8" ry="1.8" fill="rgb(69,69,69)" opacity="0.55"/><ellipse cx="490.2" cy="307.5" rx="2.8" ry="0.9" fill="rgb(71,71,71)" opacity="0.55"/><ellipse cx="526" cy="297.7" rx="2.6" ry="1.1" fill="rgb(58,58,58)" opacity="0.55"/><ellipse cx="579.7" cy="307" rx="2.8" ry="1.3" fill="rgb(73,73,73)" opacity="0.55"/><ellipse cx="525.1" cy="300.6" rx="1.3" ry="1" fill="rgb(55,55,55)" opacity="0.55"/><ellipse cx="531.5" cy="292.8" rx="1.5" ry="1" fill="rgb(53,53,53)" opacity="0.55"/><ellipse cx="498.5" cy="300.9" rx="2.6" ry="1.3" fill="rgb(70,70,70)" opacity="0.55"/><ellipse cx="481.1" cy="296.7" rx="1.3" ry="1.5" fill="rgb(74,74,74)" opacity="0.55"/><ellipse cx="653.6" cy="298.5" rx="1.1" ry="1.5" fill="rgb(84,84,84)" opacity="0.55"/><ellipse cx="635.4" cy="303" rx="1.4" ry="1.5" fill="rgb(73,73,73)" opacity="0.55"/><ellipse cx="662.2" cy="292.4" rx="2.5" ry="0.8" fill="rgb(79,79,79)" opacity="0.55"/><ellipse cx="584.3" cy="305.3" rx="2.3" ry="0.7" fill="rgb(67,67,67)" opacity="0.55"/><ellipse cx="658.9" cy="301.4" rx="2.1" ry="1.4" fill="rgb(69,69,69)" opacity="0.55"/><ellipse cx="508" cy="305.3" rx="1.8" ry="1.4" fill="rgb(97,97,97)" opacity="0.55"/><ellipse cx="503.1" cy="298" rx="2.1" ry="1.7" fill="rgb(78,78,78)" opacity="0.55"/><ellipse cx="521.3" cy="306.8" rx="1.5" ry="1.5" fill="rgb(100,100,100)" opacity="0.55"/><ellipse cx="523.1" cy="295.8" rx="2.2" ry="1" fill="rgb(52,52,52)" opacity="0.55"/><ellipse cx="582.3" cy="297" rx="3" ry="0.8" fill="rgb(73,73,73)" opacity="0.55"/><ellipse cx="622.9" cy="296.9" rx="1.3" ry="1.6" fill="rgb(73,73,73)" opacity="0.55"/><ellipse cx="476.2" cy="301.8" rx="2.3" ry="0.8" fill="rgb(69,69,69)" opacity="0.55"/><ellipse cx="635.2" cy="299.9" rx="1.8" ry="0.8" fill="rgb(64,64,64)" opacity="0.55"/><ellipse cx="572.1" cy="304.4" rx="1" ry="1.2" fill="rgb(50,50,50)" opacity="0.55"/><ellipse cx="635.5" cy="293.2" rx="2" ry="0.9" fill="rgb(60,60,60)" opacity="0.55"/><ellipse cx="487.5" cy="297.3" rx="1.3" ry="1.6" fill="rgb(80,80,80)" opacity="0.55"/><ellipse cx="611.8" cy="303" rx="1.9" ry="1.2" fill="rgb(93,93,93)" opacity="0.55"/><ellipse cx="612.3" cy="301.2" rx="2.7" ry="1.6" fill="rgb(64,64,64)" opacity="0.55"/><ellipse cx="599.8" cy="301.9" rx="1.1" ry="1.7" fill="rgb(73,73,73)" opacity="0.55"/><ellipse cx="579.6" cy="307.8" rx="2.9" ry="1.8" fill="rgb(90,90,90)" opacity="0.55"/><ellipse cx="626.8" cy="292" rx="1.5" ry="1.4" fill="rgb(76,76,76)" opacity="0.55"/><ellipse cx="594.9" cy="295.4" rx="2.8" ry="1.8" fill="rgb(96,96,96)" opacity="0.55"/><ellipse cx="573.4" cy="307.5" rx="1.7" ry="0.8" fill="rgb(94,94,94)" opacity="0.55"/><ellipse cx="559.2" cy="305.8" rx="1.9" ry="1.2" fill="rgb(50,50,50)" opacity="0.55"/><ellipse cx="482" cy="302" rx="1.8" ry="1" fill="rgb(80,80,80)" opacity="0.55"/><ellipse cx="594.6" cy="305.4" rx="2.9" ry="1.9" fill="rgb(60,60,60)" opacity="0.55"/><ellipse cx="489.5" cy="299.1" rx="1.6" ry="1.7" fill="rgb(62,62,62)" opacity="0.55"/><ellipse cx="561.6" cy="293.4" rx="3" ry="0.9" fill="rgb(51,51,51)" opacity="0.55"/><ellipse cx="554.7" cy="302.5" rx="2.3" ry="1.1" fill="rgb(81,81,81)" opacity="0.55"/><ellipse cx="605.3" cy="304.2" rx="1.6" ry="1.4" fill="rgb(73,73,73)" opacity="0.55"/><ellipse cx="670.1" cy="292.9" rx="1.8" ry="0.8" fill="rgb(77,77,77)" opacity="0.55"/><ellipse cx="654.2" cy="295.6" rx="2.5" ry="0.7" fill="rgb(73,73,73)" opacity="0.55"/><ellipse cx="654.5" cy="305.7" rx="2.2" ry="1.3" fill="rgb(83,83,83)" opacity="0.55"/><ellipse cx="506.2" cy="294.2" rx="1.6" ry="1.7" fill="rgb(96,96,96)" opacity="0.55"/><ellipse cx="639.9" cy="292.5" rx="1.4" ry="1.5" fill="rgb(72,72,72)" opacity="0.55"/><ellipse cx="666.2" cy="308.6" rx="1.3" ry="1.5" fill="rgb(60,60,60)" opacity="0.55"/><ellipse cx="517.2" cy="307.2" rx="2.4" ry="0.8" fill="rgb(80,80,80)" opacity="0.55"/><ellipse cx="647.6" cy="292.8" rx="1.2" ry="1.1" fill="rgb(58,58,58)" opacity="0.55"/><ellipse cx="515.6" cy="304.2" rx="1.7" ry="1.9" fill="rgb(72,72,72)" opacity="0.55"/><ellipse cx="595.1" cy="303" rx="1.8" ry="1.8" fill="rgb(93,93,93)" opacity="0.55"/><ellipse cx="508.2" cy="294.2" rx="1.6" ry="0.9" fill="rgb(59,59,59)" opacity="0.55"/><ellipse cx="481.1" cy="303.1" rx="2.2" ry="1.7" fill="rgb(53,53,53)" opacity="0.55"/><ellipse cx="527.9" cy="292.5" rx="2.5" ry="0.7" fill="rgb(55,55,55)" opacity="0.55"/><ellipse cx="616.7" cy="303.3" rx="2.2" ry="1.6" fill="rgb(100,100,100)" opacity="0.55"/><ellipse cx="552.7" cy="303.1" rx="2" ry="1" fill="rgb(98,98,98)" opacity="0.55"/><ellipse cx="533.7" cy="291.1" rx="1.2" ry="1.6" fill="rgb(60,60,60)" opacity="0.55"/><ellipse cx="559" cy="305.5" rx="2" ry="1" fill="rgb(82,82,82)" opacity="0.55"/><ellipse cx="493.2" cy="301.6" rx="2.9" ry="0.8" fill="rgb(93,93,93)" opacity="0.55"/><ellipse cx="480" cy="303.2" rx="1.6" ry="1.7" fill="rgb(51,51,51)" opacity="0.55"/><ellipse cx="545.4" cy="292.2" rx="2" ry="1.3" fill="rgb(76,76,76)" opacity="0.55"/><ellipse cx="543.2" cy="308.3" rx="2.7" ry="1.2" fill="rgb(88,88,88)" opacity="0.55"/><ellipse cx="518.4" cy="304.9" rx="3" ry="0.8" fill="rgb(56,56,56)" opacity="0.55"/><ellipse cx="618.3" cy="305.9" rx="1.7" ry="1" fill="rgb(74,74,74)" opacity="0.55"/><ellipse cx="542.5" cy="292.5" rx="1.7" ry="1.8" fill="rgb(67,67,67)" opacity="0.55"/><ellipse cx="543.1" cy="305.9" rx="2.5" ry="1.9" fill="rgb(67,67,67)" opacity="0.55"/><ellipse cx="632.5" cy="298.1" rx="1.3" ry="1.7" fill="rgb(97,97,97)" opacity="0.55"/><ellipse cx="487" cy="293.2" rx="2.6" ry="1" fill="rgb(65,65,65)" opacity="0.55"/><ellipse cx="556.6" cy="291.9" rx="1.9" ry="1.5" fill="rgb(73,73,73)" opacity="0.55"/><ellipse cx="559.7" cy="308.8" rx="1.2" ry="1.1" fill="rgb(78,78,78)" opacity="0.55"/><ellipse cx="567.6" cy="299.6" rx="1.6" ry="0.9" fill="rgb(93,93,93)" opacity="0.55"/><ellipse cx="652.9" cy="301.8" rx="2.1" ry="1.9" fill="rgb(78,78,78)" opacity="0.55"/><ellipse cx="591.2" cy="301.5" rx="1.8" ry="1" fill="rgb(75,75,75)" opacity="0.55"/><ellipse cx="566.1" cy="299.7" rx="2.5" ry="1.8" fill="rgb(57,57,57)" opacity="0.55"/><ellipse cx="614.2" cy="301.1" rx="2.9" ry="1.6" fill="rgb(73,73,73)" opacity="0.55"/><ellipse cx="539" cy="304.6" rx="2.8" ry="1.3" fill="rgb(98,98,98)" opacity="0.55"/><ellipse cx="664.6" cy="305.2" rx="2.7" ry="1.2" fill="rgb(50,50,50)" opacity="0.55"/><ellipse cx="564.1" cy="291.2" rx="3" ry="1.1" fill="rgb(61,61,61)" opacity="0.55"/><ellipse cx="477.4" cy="295.2" rx="1.2" ry="0.8" fill="rgb(73,73,73)" opacity="0.55"/><ellipse cx="619.8" cy="308.7" rx="2.5" ry="1.5" fill="rgb(98,98,98)" opacity="0.55"/><ellipse cx="585.7" cy="305.6" rx="1.2" ry="1.3" fill="rgb(82,82,82)" opacity="0.55"/><ellipse cx="646.8" cy="296.1" rx="1.7" ry="1.9" fill="rgb(75,75,75)" opacity="0.55"/><ellipse cx="620.9" cy="306.7" rx="2.6" ry="0.9" fill="rgb(95,95,95)" opacity="0.55"/><ellipse cx="574.4" cy="300.6" rx="2.4" ry="0.8" fill="rgb(96,96,96)" opacity="0.55"/><ellipse cx="500.8" cy="295.6" rx="1.9" ry="1.7" fill="rgb(67,67,67)" opacity="0.55"/><ellipse cx="582.3" cy="297" rx="1.6" ry="1.4" fill="rgb(64,64,64)" opacity="0.55"/><ellipse cx="607.1" cy="295" rx="1.1" ry="1" fill="rgb(64,64,64)" opacity="0.55"/><ellipse cx="482.7" cy="293.2" rx="2.3" ry="0.9" fill="rgb(87,87,87)" opacity="0.55"/><ellipse cx="550.9" cy="300.2" rx="1.6" ry="1.3" fill="rgb(97,97,97)" opacity="0.55"/><ellipse cx="591.6" cy="292.6" rx="2.1" ry="1.8" fill="rgb(100,100,100)" opacity="0.55"/><ellipse cx="527.7" cy="293.2" rx="1" ry="1.4" fill="rgb(97,97,97)" opacity="0.55"/><ellipse cx="661.5" cy="304.4" rx="1.5" ry="0.8" fill="rgb(87,87,87)" opacity="0.55"/><ellipse cx="471.1" cy="296" rx="1.8" ry="1.9" fill="rgb(67,67,67)" opacity="0.55"/><ellipse cx="638.8" cy="301.4" rx="1.6" ry="1.4" fill="rgb(78,78,78)" opacity="0.55"/><ellipse cx="480" cy="304.2" rx="2.8" ry="1.5" fill="rgb(100,100,100)" opacity="0.55"/><ellipse cx="545.5" cy="297.8" rx="2.8" ry="1.3" fill="rgb(56,56,56)" opacity="0.55"/><ellipse cx="651.3" cy="304.2" rx="2.5" ry="1.1" fill="rgb(55,55,55)" opacity="0.55"/><ellipse cx="599.8" cy="308.8" rx="2" ry="1.5" fill="rgb(95,95,95)" opacity="0.55"/><ellipse cx="494.8" cy="294" rx="2.4" ry="1.8" fill="rgb(88,88,88)" opacity="0.55"/><ellipse cx="670.5" cy="294.2" rx="2.8" ry="1.3" fill="rgb(80,80,80)" opacity="0.55"/><ellipse cx="553.3" cy="301.5" rx="2.4" ry="1.8" fill="rgb(89,89,89)" opacity="0.55"/><ellipse cx="533.4" cy="292.5" rx="2.9" ry="1.2" fill="rgb(81,81,81)" opacity="0.55"/><ellipse cx="578.8" cy="295" rx="2.1" ry="1.7" fill="rgb(69,69,69)" opacity="0.55"/><ellipse cx="652.8" cy="308.7" rx="2.4" ry="1.6" fill="rgb(60,60,60)" opacity="0.55"/><circle cx="611.2" cy="298.5" r="0.9" fill="rgb(104,104,104)" opacity="0.5"/><circle cx="567.6" cy="305.4" r="1" fill="rgb(91,91,91)" opacity="0.5"/><circle cx="519.5" cy="301.5" r="0.5" fill="rgb(124,124,124)" opacity="0.5"/><circle cx="485.2" cy="303.3" r="0.7" fill="rgb(110,110,110)" opacity="0.5"/><circle cx="641.9" cy="293" r="0.8" fill="rgb(144,144,144)" opacity="0.5"/><circle cx="640.5" cy="306.2" r="0.6" fill="rgb(144,144,144)" opacity="0.5"/><circle cx="479.4" cy="303.5" r="0.9" fill="rgb(133,133,133)" opacity="0.5"/><circle cx="651.1" cy="299.3" r="0.9" fill="rgb(148,148,148)" opacity="0.5"/><circle cx="535.2" cy="293.4" r="0.9" fill="rgb(136,136,136)" opacity="0.5"/><circle cx="475.7" cy="297.4" r="0.7" fill="rgb(131,131,131)" opacity="0.5"/><circle cx="483.6" cy="308" r="0.6" fill="rgb(114,114,114)" opacity="0.5"/><circle cx="648.1" cy="296.9" r="0.6" fill="rgb(120,120,120)" opacity="0.5"/><circle cx="548.6" cy="291" r="0.7" fill="rgb(145,145,145)" opacity="0.5"/><circle cx="648.1" cy="306.3" r="1" fill="rgb(101,101,101)" opacity="0.5"/><circle cx="520.1" cy="304.9" r="0.7" fill="rgb(122,122,122)" opacity="0.5"/><circle cx="598.5" cy="302.5" r="0.8" fill="rgb(132,132,132)" opacity="0.5"/><circle cx="559.3" cy="309.3" r="0.5" fill="rgb(90,90,90)" opacity="0.5"/><circle cx="616.3" cy="297.6" r="0.7" fill="rgb(107,107,107)" opacity="0.5"/><circle cx="506.6" cy="306.7" r="0.7" fill="rgb(138,138,138)" opacity="0.5"/><circle cx="570.6" cy="294.1" r="1" fill="rgb(149,149,149)" opacity="0.5"/><circle cx="493.9" cy="301" r="1" fill="rgb(100,100,100)" opacity="0.5"/><circle cx="521.6" cy="297.3" r="0.4" fill="rgb(113,113,113)" opacity="0.5"/><circle cx="609.2" cy="303.8" r="0.5" fill="rgb(93,93,93)" opacity="0.5"/><circle cx="608.7" cy="299.1" r="0.8" fill="rgb(143,143,143)" opacity="0.5"/><circle cx="550.6" cy="291.4" r="0.9" fill="rgb(142,142,142)" opacity="0.5"/><circle cx="628.4" cy="295.8" r="0.8" fill="rgb(90,90,90)" opacity="0.5"/><circle cx="661.5" cy="306.7" r="0.4" fill="rgb(123,123,123)" opacity="0.5"/><circle cx="517.4" cy="297.9" r="0.8" fill="rgb(94,94,94)" opacity="0.5"/><circle cx="603.1" cy="307.7" r="0.8" fill="rgb(101,101,101)" opacity="0.5"/><circle cx="662.3" cy="305.7" r="0.9" fill="rgb(137,137,137)" opacity="0.5"/><circle cx="661" cy="307" r="0.7" fill="rgb(138,138,138)" opacity="0.5"/><circle cx="486" cy="301.1" r="0.8" fill="rgb(91,91,91)" opacity="0.5"/><circle cx="571" cy="293" r="0.6" fill="rgb(98,98,98)" opacity="0.5"/><circle cx="632.1" cy="303.1" r="0.4" fill="rgb(112,112,112)" opacity="0.5"/><circle cx="612.4" cy="295.8" r="0.8" fill="rgb(145,145,145)" opacity="0.5"/><circle cx="673.4" cy="301.2" r="0.4" fill="rgb(139,139,139)" opacity="0.5"/><circle cx="471.1" cy="303.7" r="0.6" fill="rgb(129,129,129)" opacity="0.5"/><circle cx="517.4" cy="298.8" r="0.8" fill="rgb(93,93,93)" opacity="0.5"/><circle cx="631.1" cy="304.6" r="0.6" fill="rgb(147,147,147)" opacity="0.5"/><circle cx="672.1" cy="307.4" r="1" fill="rgb(100,100,100)" opacity="0.5"/><circle cx="647.7" cy="308.8" r="0.7" fill="rgb(146,146,146)" opacity="0.5"/><circle cx="607.4" cy="299.6" r="0.6" fill="rgb(106,106,106)" opacity="0.5"/><circle cx="511.7" cy="293.3" r="0.4" fill="rgb(149,149,149)" opacity="0.5"/><circle cx="534.2" cy="305.6" r="0.4" fill="rgb(98,98,98)" opacity="0.5"/><circle cx="468.9" cy="300" r="0.4" fill="rgb(128,128,128)" opacity="0.5"/><circle cx="478" cy="294" r="0.5" fill="rgb(140,140,140)" opacity="0.5"/><circle cx="499.2" cy="303" r="1" fill="rgb(145,145,145)" opacity="0.5"/><circle cx="520.5" cy="303.7" r="0.6" fill="rgb(118,118,118)" opacity="0.5"/><circle cx="623.7" cy="294.3" r="0.9" fill="rgb(96,96,96)" opacity="0.5"/><circle cx="668" cy="304.8" r="0.7" fill="rgb(110,110,110)" opacity="0.5"/><circle cx="660.9" cy="295.4" r="0.5" fill="rgb(99,99,99)" opacity="0.5"/><circle cx="619.2" cy="304" r="0.7" fill="rgb(100,100,100)" opacity="0.5"/><circle cx="652.3" cy="296.9" r="0.6" fill="rgb(108,108,108)" opacity="0.5"/><circle cx="595.8" cy="293" r="0.7" fill="rgb(126,126,126)" opacity="0.5"/><circle cx="625.2" cy="300.1" r="0.4" fill="rgb(146,146,146)" opacity="0.5"/><circle cx="582.9" cy="292.6" r="0.9" fill="rgb(123,123,123)" opacity="0.5"/><circle cx="501.7" cy="303.6" r="0.7" fill="rgb(95,95,95)" opacity="0.5"/><circle cx="503.1" cy="299.9" r="0.7" fill="rgb(121,121,121)" opacity="0.5"/><circle cx="495" cy="300.5" r="0.7" fill="rgb(107,107,107)" opacity="0.5"/><circle cx="518" cy="294" r="0.7" fill="rgb(130,130,130)" opacity="0.5"/><circle cx="569" cy="305.5" r="0.5" fill="rgb(134,134,134)" opacity="0.5"/><circle cx="631" cy="290.6" r="0.5" fill="rgb(108,108,108)" opacity="0.5"/><circle cx="527.2" cy="294.2" r="0.5" fill="rgb(125,125,125)" opacity="0.5"/><circle cx="558.2" cy="293.4" r="1" fill="rgb(118,118,118)" opacity="0.5"/><circle cx="570.9" cy="291.7" r="0.4" fill="rgb(111,111,111)" opacity="0.5"/><circle cx="566.2" cy="300.8" r="0.7" fill="rgb(105,105,105)" opacity="0.5"/><circle cx="621.2" cy="297.3" r="0.8" fill="rgb(149,149,149)" opacity="0.5"/><circle cx="586.5" cy="309.2" r="0.7" fill="rgb(115,115,115)" opacity="0.5"/><circle cx="512" cy="297.6" r="0.4" fill="rgb(118,118,118)" opacity="0.5"/><circle cx="467.4" cy="304.9" r="0.5" fill="rgb(114,114,114)" opacity="0.5"/><circle cx="616" cy="304.9" r="0.5" fill="rgb(91,91,91)" opacity="0.5"/><circle cx="551.8" cy="299.8" r="0.8" fill="rgb(125,125,125)" opacity="0.5"/><circle cx="632.2" cy="307.9" r="0.6" fill="rgb(104,104,104)" opacity="0.5"/><circle cx="502.8" cy="296.3" r="0.9" fill="rgb(143,143,143)" opacity="0.5"/><circle cx="597.8" cy="300.4" r="0.5" fill="rgb(118,118,118)" opacity="0.5"/><circle cx="603.5" cy="309" r="1" fill="rgb(114,114,114)" opacity="0.5"/><circle cx="491.3" cy="290.9" r="0.8" fill="rgb(129,129,129)" opacity="0.5"/><circle cx="618" cy="293.9" r="0.8" fill="rgb(150,150,150)" opacity="0.5"/><circle cx="603.8" cy="294.6" r="0.8" fill="rgb(142,142,142)" opacity="0.5"/><circle cx="485.7" cy="296.2" r="0.6" fill="rgb(141,141,141)" opacity="0.5"/><circle cx="605.1" cy="303" r="0.6" fill="rgb(144,144,144)" opacity="0.5"/><circle cx="525.8" cy="303.2" r="0.7" fill="rgb(123,123,123)" opacity="0.5"/><circle cx="605.8" cy="305.1" r="0.9" fill="rgb(110,110,110)" opacity="0.5"/><circle cx="552.5" cy="304.8" r="0.7" fill="rgb(118,118,118)" opacity="0.5"/><circle cx="514.6" cy="307" r="1" fill="rgb(91,91,91)" opacity="0.5"/><circle cx="523.9" cy="298.6" r="0.5" fill="rgb(117,117,117)" opacity="0.5"/><circle cx="581" cy="306" r="0.5" fill="rgb(130,130,130)" opacity="0.5"/><circle cx="523.4" cy="297.1" r="0.5" fill="rgb(133,133,133)" opacity="0.5"/><circle cx="611" cy="299.4" r="0.5" fill="rgb(142,142,142)" opacity="0.5"/><circle cx="656" cy="293.6" r="0.9" fill="rgb(105,105,105)" opacity="0.5"/><circle cx="647.4" cy="305.7" r="0.5" fill="rgb(139,139,139)" opacity="0.5"/><circle cx="524" cy="308.3" r="0.5" fill="rgb(107,107,107)" opacity="0.5"/><circle cx="485.8" cy="292.4" r="0.8" fill="rgb(96,96,96)" opacity="0.5"/><circle cx="652.8" cy="309.2" r="0.9" fill="rgb(90,90,90)" opacity="0.5"/><circle cx="629.4" cy="200.4" r="2" fill="url(#bub)"/><circle cx="563.1" cy="200.5" r="2.3" fill="url(#bub)"/><circle cx="544.9" cy="200.7" r="2.5" fill="url(#bub)"/><circle cx="495.2" cy="201.2" r="2.3" fill="url(#bub)"/><circle cx="646.2" cy="201.4" r="1.8" fill="url(#bub)"/><circle cx="571.4" cy="201.7" r="2.5" fill="url(#bub)"/><circle cx="590.6" cy="202" r="2" fill="url(#bub)"/><circle cx="657.8" cy="202.2" r="2.1" fill="url(#bub)"/><circle cx="639.4" cy="202.5" r="1.2" fill="url(#bub)"/><circle cx="609.3" cy="202.6" r="2.1" fill="url(#bub)"/><circle cx="624.1" cy="202.9" r="2.3" fill="url(#bub)"/><circle cx="571.1" cy="203.9" r="1.2" fill="url(#bub)"/><circle cx="485.3" cy="205.8" r="1.1" fill="url(#bub)"/><circle cx="583.1" cy="207.1" r="2.3" fill="url(#bub)"/><circle cx="473.7" cy="207.2" r="2" fill="url(#bub)"/><circle cx="564.1" cy="207.4" r="2" fill="url(#bub)"/><circle cx="545.3" cy="208.6" r="2.5" fill="url(#bub)"/><circle cx="544.5" cy="208.7" r="2.1" fill="url(#bub)"/><circle cx="618.4" cy="209.2" r="2.1" fill="url(#bub)"/><circle cx="473.2" cy="209.5" r="2.5" fill="url(#bub)"/><circle cx="600" cy="209.7" r="1.8" fill="url(#bub)"/><circle cx="623.9" cy="209.9" r="1.2" fill="url(#bub)"/><circle cx="658.9" cy="210" r="2.4" fill="url(#bub)"/><circle cx="659.2" cy="210" r="1.7" fill="url(#bub)"/><circle cx="522.5" cy="210.3" r="1.8" fill="url(#bub)"/><circle cx="632.9" cy="210.3" r="2" fill="url(#bub)"/><circle cx="558.2" cy="211.8" r="1.3" fill="url(#bub)"/><circle cx="574.8" cy="211.8" r="2.3" fill="url(#bub)"/><circle cx="638" cy="212.9" r="1.6" fill="url(#bub)"/><circle cx="504.3" cy="213.3" r="1.4" fill="url(#bub)"/><circle cx="589.8" cy="213.7" r="1.7" fill="url(#bub)"/><circle cx="479.5" cy="213.8" r="1.8" fill="url(#bub)"/><circle cx="542.5" cy="214.8" r="2.3" fill="url(#bub)"/><circle cx="664.3" cy="215.3" r="1.1" fill="url(#bub)"/><circle cx="640" cy="215.4" r="1.4" fill="url(#bub)"/><circle cx="612.6" cy="215.5" r="1.9" fill="url(#bub)"/><circle cx="561.5" cy="215.6" r="1.9" fill="url(#bub)"/><circle cx="651" cy="215.9" r="2.4" fill="url(#bub)"/><circle cx="561.2" cy="216.3" r="1.2" fill="url(#bub)"/><circle cx="561.6" cy="216.8" r="1.6" fill="url(#bub)"/><circle cx="509.9" cy="216.9" r="2.1" fill="url(#bub)"/><circle cx="501.8" cy="218.6" r="2.2" fill="url(#bub)"/><circle cx="554.6" cy="218.7" r="2.4" fill="url(#bub)"/><circle cx="505.7" cy="218.8" r="2.2" fill="url(#bub)"/><circle cx="588.8" cy="219.1" r="2.2" fill="url(#bub)"/><circle cx="573.4" cy="219.2" r="2.3" fill="url(#bub)"/><circle cx="667.9" cy="219.7" r="1.7" fill="url(#bub)"/><circle cx="551.1" cy="219.8" r="2" fill="url(#bub)"/><circle cx="490.1" cy="220.3" r="2.4" fill="url(#bub)"/><circle cx="622" cy="221.9" r="2.5" fill="url(#bub)"/><circle cx="472.7" cy="222" r="2" fill="url(#bub)"/><circle cx="669.6" cy="222.5" r="2.1" fill="url(#bub)"/><circle cx="519.8" cy="222.9" r="1.9" fill="url(#bub)"/><circle cx="504.3" cy="223.2" r="1.2" fill="url(#bub)"/><circle cx="635.8" cy="223.3" r="1.6" fill="url(#bub)"/><circle cx="637.3" cy="223.7" r="2" fill="url(#bub)"/><circle cx="671.3" cy="224.1" r="2.1" fill="url(#bub)"/><circle cx="600.1" cy="224.2" r="1.6" fill="url(#bub)"/><circle cx="625.6" cy="224.6" r="1.5" fill="url(#bub)"/><circle cx="527.7" cy="224.9" r="2.3" fill="url(#bub)"/><circle cx="493.3" cy="225.1" r="1.5" fill="url(#bub)"/><circle cx="601.6" cy="225.3" r="1.9" fill="url(#bub)"/><circle cx="627.4" cy="225.4" r="1.8" fill="url(#bub)"/><circle cx="520" cy="226.1" r="2.2" fill="url(#bub)"/><circle cx="568.4" cy="226.2" r="1.4" fill="url(#bub)"/><circle cx="526.5" cy="226.6" r="1.5" fill="url(#bub)"/><circle cx="599.6" cy="228.6" r="1.9" fill="url(#bub)"/><circle cx="610.7" cy="229" r="1.3" fill="url(#bub)"/><circle cx="645.4" cy="229.7" r="1.1" fill="url(#bub)"/><circle cx="660.2" cy="230" r="2" fill="url(#bub)"/><circle cx="629.6" cy="230.1" r="1.3" fill="url(#bub)"/><circle cx="491.4" cy="230.2" r="1.9" fill="url(#bub)"/><circle cx="484.4" cy="230.9" r="2.2" fill="url(#bub)"/><circle cx="499.8" cy="232.3" r="2.4" fill="url(#bub)"/><circle cx="562.7" cy="232.7" r="2.1" fill="url(#bub)"/><circle cx="512.6" cy="232.9" r="1.9" fill="url(#bub)"/><circle cx="511.6" cy="233.1" r="1.2" fill="url(#bub)"/><circle cx="526.4" cy="233.5" r="2" fill="url(#bub)"/><circle cx="538.4" cy="233.9" r="1.6" fill="url(#bub)"/><circle cx="538.9" cy="234.5" r="1.6" fill="url(#bub)"/><circle cx="613.6" cy="235.8" r="1.2" fill="url(#bub)"/><circle cx="503" cy="236" r="2" fill="url(#bub)"/><circle cx="630.3" cy="236" r="2" fill="url(#bub)"/><circle cx="480.8" cy="236.1" r="1.5" fill="url(#bub)"/><circle cx="662.8" cy="236.1" r="1.3" fill="url(#bub)"/><circle cx="624.1" cy="236.4" r="1.6" fill="url(#bub)"/><circle cx="489.6" cy="236.4" r="2.1" fill="url(#bub)"/><circle cx="661.7" cy="236.6" r="2.6" fill="url(#bub)"/><circle cx="592.4" cy="237" r="1.5" fill="url(#bub)"/><circle cx="632.1" cy="237.3" r="1.8" fill="url(#bub)"/><circle cx="552.4" cy="238.1" r="2.1" fill="url(#bub)"/><circle cx="543.3" cy="238.1" r="1.9" fill="url(#bub)"/><circle cx="650.9" cy="238.8" r="1.7" fill="url(#bub)"/><circle cx="638.6" cy="239.6" r="1.2" fill="url(#bub)"/><circle cx="582.8" cy="239.8" r="2" fill="url(#bub)"/><circle cx="649.8" cy="239.8" r="1.4" fill="url(#bub)"/><circle cx="654.1" cy="240.4" r="2.1" fill="url(#bub)"/><circle cx="606.5" cy="240.6" r="2.2" fill="url(#bub)"/><circle cx="523.9" cy="241" r="2.1" fill="url(#bub)"/><circle cx="527.1" cy="241.3" r="1.7" fill="url(#bub)"/><circle cx="590.2" cy="241.8" r="1.1" fill="url(#bub)"/><circle cx="675.3" cy="242.3" r="1.4" fill="url(#bub)"/><circle cx="577.9" cy="242.5" r="1.8" fill="url(#bub)"/><circle cx="479.4" cy="242.5" r="2.4" fill="url(#bub)"/><circle cx="600.7" cy="242.9" r="2.1" fill="url(#bub)"/><circle cx="520.4" cy="243.1" r="2" fill="url(#bub)"/><circle cx="552.1" cy="243.3" r="2.3" fill="url(#bub)"/><circle cx="475.8" cy="243.5" r="2.4" fill="url(#bub)"/><circle cx="518.4" cy="244.2" r="1.1" fill="url(#bub)"/><circle cx="587.7" cy="244.4" r="1.6" fill="url(#bub)"/><circle cx="663.2" cy="244.5" r="1.4" fill="url(#bub)"/><circle cx="596.5" cy="244.6" r="1.5" fill="url(#bub)"/><circle cx="512.3" cy="245.1" r="2.6" fill="url(#bub)"/><circle cx="661.3" cy="245.1" r="2" fill="url(#bub)"/><circle cx="606.4" cy="245.4" r="2" fill="url(#bub)"/><circle cx="575.8" cy="245.6" r="2.1" fill="url(#bub)"/><circle cx="472.5" cy="245.7" r="1.8" fill="url(#bub)"/><circle cx="540.6" cy="245.7" r="1.2" fill="url(#bub)"/><circle cx="673.4" cy="246.4" r="2" fill="url(#bub)"/><circle cx="635.6" cy="246.7" r="2.4" fill="url(#bub)"/><circle cx="475.9" cy="246.9" r="2" fill="url(#bub)"/><circle cx="634.3" cy="246.9" r="1.5" fill="url(#bub)"/><circle cx="495.1" cy="247" r="2" fill="url(#bub)"/><circle cx="605.6" cy="247.1" r="1.4" fill="url(#bub)"/><circle cx="567.4" cy="247.4" r="2.2" fill="url(#bub)"/><circle cx="603.6" cy="247.4" r="2.1" fill="url(#bub)"/><circle cx="498.6" cy="247.5" r="1.7" fill="url(#bub)"/><circle cx="541.2" cy="248.3" r="2.1" fill="url(#bub)"/><circle cx="599.4" cy="248.3" r="1.8" fill="url(#bub)"/><circle cx="546.2" cy="248.9" r="2" fill="url(#bub)"/><circle cx="597" cy="249" r="2.1" fill="url(#bub)"/><circle cx="480.1" cy="249.1" r="2.2" fill="url(#bub)"/><circle cx="534.1" cy="249.4" r="1.9" fill="url(#bub)"/><circle cx="602.4" cy="249.5" r="2" fill="url(#bub)"/><circle cx="546.7" cy="249.7" r="1.2" fill="url(#bub)"/><circle cx="595.7" cy="249.7" r="1.3" fill="url(#bub)"/><circle cx="515.9" cy="250.4" r="2.3" fill="url(#bub)"/><circle cx="655.3" cy="250.8" r="1.6" fill="url(#bub)"/><circle cx="523.2" cy="251.2" r="1.7" fill="url(#bub)"/><circle cx="573.5" cy="251.3" r="2.4" fill="url(#bub)"/><circle cx="621.2" cy="251.4" r="2.3" fill="url(#bub)"/><circle cx="554.7" cy="251.5" r="1.5" fill="url(#bub)"/><circle cx="528.5" cy="251.7" r="2.1" fill="url(#bub)"/><circle cx="581.5" cy="251.8" r="2" fill="url(#bub)"/><circle cx="479.1" cy="252.2" r="1.9" fill="url(#bub)"/><circle cx="509" cy="252.5" r="2.1" fill="url(#bub)"/><circle cx="590" cy="252.6" r="1.9" fill="url(#bub)"/><circle cx="605.5" cy="252.7" r="1.7" fill="url(#bub)"/><circle cx="492.2" cy="253.1" r="1.3" fill="url(#bub)"/><circle cx="651.1" cy="253.3" r="2.5" fill="url(#bub)"/><circle cx="614.8" cy="253.7" r="2.6" fill="url(#bub)"/><circle cx="625.8" cy="253.9" r="2.2" fill="url(#bub)"/><circle cx="497.7" cy="254.1" r="1.4" fill="url(#bub)"/><circle cx="645.1" cy="254.2" r="1.5" fill="url(#bub)"/><circle cx="569.1" cy="254.2" r="2.3" fill="url(#bub)"/><circle cx="562.4" cy="254.5" r="1.2" fill="url(#bub)"/><circle cx="467.7" cy="254.6" r="2.2" fill="url(#bub)"/><circle cx="499.8" cy="254.9" r="1.9" fill="url(#bub)"/><circle cx="527.3" cy="255.6" r="1.1" fill="url(#bub)"/><circle cx="618.8" cy="255.8" r="1.3" fill="url(#bub)"/><circle cx="642.1" cy="256" r="2.1" fill="url(#bub)"/><circle cx="608.2" cy="256.5" r="2" fill="url(#bub)"/><circle cx="592.1" cy="256.9" r="1.3" fill="url(#bub)"/><circle cx="583.7" cy="257" r="2.1" fill="url(#bub)"/><circle cx="606.6" cy="257.5" r="1.9" fill="url(#bub)"/><circle cx="579.6" cy="258.1" r="2.2" fill="url(#bub)"/><circle cx="479.8" cy="259.2" r="1.8" fill="url(#bub)"/><circle cx="581.1" cy="259.3" r="1.9" fill="url(#bub)"/><circle cx="583.3" cy="259.4" r="1.6" fill="url(#bub)"/><circle cx="475.8" cy="259.5" r="2" fill="url(#bub)"/><circle cx="551" cy="259.9" r="1.1" fill="url(#bub)"/><circle cx="591.3" cy="260.1" r="1.6" fill="url(#bub)"/><circle cx="528.4" cy="260.1" r="1.1" fill="url(#bub)"/><circle cx="639.3" cy="260.3" r="1.7" fill="url(#bub)"/><circle cx="616.7" cy="260.4" r="1.7" fill="url(#bub)"/><circle cx="604.7" cy="261.2" r="2.1" fill="url(#bub)"/><circle cx="513.4" cy="261.3" r="2.1" fill="url(#bub)"/><circle cx="569.2" cy="262.6" r="2.2" fill="url(#bub)"/><circle cx="525.2" cy="262.6" r="1.5" fill="url(#bub)"/><circle cx="609" cy="263.3" r="2.4" fill="url(#bub)"/><circle cx="627.4" cy="263.5" r="1.6" fill="url(#bub)"/><circle cx="489.6" cy="263.6" r="1.1" fill="url(#bub)"/><circle cx="605.7" cy="263.7" r="1.6" fill="url(#bub)"/><circle cx="586.1" cy="264.2" r="1.4" fill="url(#bub)"/><circle cx="562" cy="264.3" r="1.2" fill="url(#bub)"/><circle cx="545.2" cy="264.4" r="1.9" fill="url(#bub)"/><circle cx="498.5" cy="264.5" r="2" fill="url(#bub)"/><circle cx="609.3" cy="265.2" r="2" fill="url(#bub)"/><circle cx="611.4" cy="265.4" r="1.6" fill="url(#bub)"/><circle cx="586.2" cy="265.4" r="1.5" fill="url(#bub)"/><circle cx="479.5" cy="265.4" r="2.4" fill="url(#bub)"/><circle cx="521.6" cy="265.5" r="1.8" fill="url(#bub)"/><circle cx="557.7" cy="265.6" r="2.1" fill="url(#bub)"/><circle cx="614.4" cy="265.7" r="2" fill="url(#bub)"/><circle cx="486.4" cy="265.7" r="2.5" fill="url(#bub)"/><circle cx="628.9" cy="266.2" r="2.2" fill="url(#bub)"/><circle cx="618.1" cy="266.3" r="1.6" fill="url(#bub)"/><circle cx="578.1" cy="266.3" r="1.9" fill="url(#bub)"/><circle cx="611.1" cy="266.4" r="1.8" fill="url(#bub)"/><circle cx="640.3" cy="266.5" r="2.1" fill="url(#bub)"/><circle cx="672.8" cy="266.5" r="2.2" fill="url(#bub)"/><circle cx="608.9" cy="266.6" r="1.7" fill="url(#bub)"/><circle cx="535" cy="267.6" r="2.3" fill="url(#bub)"/><circle cx="671.4" cy="268.3" r="1.9" fill="url(#bub)"/><circle cx="578.7" cy="268.5" r="1.7" fill="url(#bub)"/><circle cx="588.4" cy="269.1" r="2.2" fill="url(#bub)"/><circle cx="501.5" cy="269.4" r="1.1" fill="url(#bub)"/><circle cx="602" cy="269.5" r="2.1" fill="url(#bub)"/><circle cx="606.7" cy="269.7" r="2.2" fill="url(#bub)"/><circle cx="596.6" cy="269.9" r="1.4" fill="url(#bub)"/><circle cx="633.4" cy="270.1" r="1.6" fill="url(#bub)"/><circle cx="617.9" cy="270.5" r="1.6" fill="url(#bub)"/><circle cx="634.1" cy="270.7" r="1.4" fill="url(#bub)"/><circle cx="567.9" cy="270.9" r="1.8" fill="url(#bub)"/><circle cx="630.9" cy="271" r="1.8" fill="url(#bub)"/><circle cx="652.4" cy="271.2" r="2.2" fill="url(#bub)"/><circle cx="515.3" cy="271.3" r="2.1" fill="url(#bub)"/><circle cx="575.4" cy="271.7" r="1.3" fill="url(#bub)"/><circle cx="485.9" cy="272" r="2.1" fill="url(#bub)"/><circle cx="641.5" cy="272.3" r="1.4" fill="url(#bub)"/><circle cx="619" cy="272.8" r="1.7" fill="url(#bub)"/><circle cx="501" cy="273" r="1.3" fill="url(#bub)"/><circle cx="648.6" cy="273" r="1.4" fill="url(#bub)"/><circle cx="527" cy="273.6" r="1.5" fill="url(#bub)"/><circle cx="572" cy="273.6" r="1.6" fill="url(#bub)"/><circle cx="565.2" cy="274.1" r="1.4" fill="url(#bub)"/><circle cx="626.8" cy="274.3" r="1.3" fill="url(#bub)"/><circle cx="566.3" cy="274.8" r="2.5" fill="url(#bub)"/><circle cx="526.2" cy="274.8" r="1.3" fill="url(#bub)"/><circle cx="607.6" cy="274.9" r="1.3" fill="url(#bub)"/><circle cx="583.5" cy="274.9" r="1.5" fill="url(#bub)"/><circle cx="607.6" cy="275.2" r="1.4" fill="url(#bub)"/><circle cx="563.5" cy="275.3" r="1.5" fill="url(#bub)"/><circle cx="620.8" cy="275.3" r="2.1" fill="url(#bub)"/><circle cx="535.1" cy="275.5" r="2.4" fill="url(#bub)"/><circle cx="605.8" cy="275.6" r="2.2" fill="url(#bub)"/><circle cx="652.7" cy="275.8" r="2.2" fill="url(#bub)"/><circle cx="535.7" cy="275.9" r="1.9" fill="url(#bub)"/><circle cx="570.3" cy="276" r="1.5" fill="url(#bub)"/><circle cx="530.5" cy="276.1" r="1.5" fill="url(#bub)"/><circle cx="614.2" cy="276.3" r="1.3" fill="url(#bub)"/><circle cx="521.7" cy="276.8" r="2.4" fill="url(#bub)"/><circle cx="484.6" cy="276.8" r="1.8" fill="url(#bub)"/><circle cx="615" cy="276.9" r="2.4" fill="url(#bub)"/><circle cx="525.8" cy="276.9" r="2.1" fill="url(#bub)"/><circle cx="593.4" cy="277.1" r="2.6" fill="url(#bub)"/><circle cx="487.5" cy="277.8" r="1.7" fill="url(#bub)"/><circle cx="518.8" cy="278.9" r="1.5" fill="url(#bub)"/><circle cx="636.9" cy="279" r="2" fill="url(#bub)"/><circle cx="607.6" cy="279.3" r="1.1" fill="url(#bub)"/><circle cx="601.2" cy="279.4" r="1.3" fill="url(#bub)"/><circle cx="538.7" cy="279.6" r="2.5" fill="url(#bub)"/><circle cx="664.4" cy="279.9" r="1.3" fill="url(#bub)"/><circle cx="637.3" cy="280.2" r="1.6" fill="url(#bub)"/><circle cx="590.5" cy="280.2" r="1.4" fill="url(#bub)"/><circle cx="542.7" cy="280.3" r="1.9" fill="url(#bub)"/><circle cx="617.8" cy="280.3" r="2.4" fill="url(#bub)"/><circle cx="562.6" cy="280.6" r="1.3" fill="url(#bub)"/><circle cx="544.2" cy="280.8" r="1.4" fill="url(#bub)"/><circle cx="599.5" cy="281.1" r="2.1" fill="url(#bub)"/><circle cx="565.4" cy="281.1" r="2" fill="url(#bub)"/><circle cx="543.1" cy="281.6" r="1.5" fill="url(#bub)"/><circle cx="614.1" cy="282" r="1.9" fill="url(#bub)"/><circle cx="511.3" cy="282.4" r="2.4" fill="url(#bub)"/><circle cx="607.6" cy="282.7" r="1.2" fill="url(#bub)"/><circle cx="566.7" cy="282.8" r="1.7" fill="url(#bub)"/><circle cx="600.7" cy="282.9" r="1.7" fill="url(#bub)"/><circle cx="593.5" cy="283.3" r="2.4" fill="url(#bub)"/><circle cx="530" cy="283.6" r="1.3" fill="url(#bub)"/><circle cx="617.9" cy="283.7" r="2.1" fill="url(#bub)"/><circle cx="638.5" cy="284.1" r="1.9" fill="url(#bub)"/><circle cx="651.9" cy="284.1" r="1.7" fill="url(#bub)"/><circle cx="626.8" cy="284.2" r="2.3" fill="url(#bub)"/><circle cx="572.2" cy="284.3" r="2.1" fill="url(#bub)"/><circle cx="622.2" cy="284.8" r="1.2" fill="url(#bub)"/><circle cx="593.2" cy="285.6" r="1.8" fill="url(#bub)"/><circle cx="613" cy="285.6" r="1.8" fill="url(#bub)"/><circle cx="474.3" cy="285.8" r="1.2" fill="url(#bub)"/><circle cx="475.9" cy="285.9" r="2.1" fill="url(#bub)"/><circle cx="632.7" cy="286" r="1.9" fill="url(#bub)"/><circle cx="535" cy="286.1" r="1.3" fill="url(#bub)"/><circle cx="481.8" cy="286.3" r="2.6" fill="url(#bub)"/><circle cx="589.1" cy="286.3" r="1.3" fill="url(#bub)"/><circle cx="635.6" cy="286.6" r="1.5" fill="url(#bub)"/><circle cx="615.1" cy="286.7" r="1.4" fill="url(#bub)"/><circle cx="484.9" cy="287.1" r="1.8" fill="url(#bub)"/><circle cx="523.9" cy="287.1" r="2.5" fill="url(#bub)"/><circle cx="610.1" cy="287.6" r="1.5" fill="url(#bub)"/><circle cx="537.6" cy="287.6" r="1.3" fill="url(#bub)"/><circle cx="562.2" cy="287.8" r="1.9" fill="url(#bub)"/><ellipse cx="471" cy="218" rx="5" ry="5" fill="url(#brb)"/><ellipse cx="490" cy="213" rx="4.5" ry="4.5" fill="url(#brb)"/><ellipse cx="584" cy="206" rx="5" ry="5" fill="url(#brb)"/><ellipse cx="652" cy="205" rx="6" ry="6" fill="url(#brb)"/><ellipse cx="474" cy="280" rx="6" ry="6" fill="url(#brb)"/><ellipse cx="478" cy="255" rx="2.5" ry="2.5" fill="url(#brb)"/><ellipse cx="536.8" cy="241.3" rx="2.8" ry="3.5" fill="url(#dspot)"/></g></g>
<line x1="467.6" y1="289.7" x2="675.5" y2="289.7" stroke="#fff" stroke-width="1.6" stroke-dasharray="5.8 5.9"/>
<text x="629.4" y="287.4" font-size="8.6" font-weight="bold" fill="#fff" textLength="40.1" lengthAdjust="spacingAndGlyphs">Interface</text>
<text x="598.2" y="305" font-size="8.6" font-weight="bold" fill="#fff" textLength="68.8" lengthAdjust="spacingAndGlyphs">S.S. electrode</text>
<text x="475.2" y="301.5" font-size="8.6" font-weight="bold" fill="#fff" textLength="26.7" lengthAdjust="spacingAndGlyphs">400 μm</text>
<rect x="477.5" y="303" width="15.4" height="3.6" fill="#fff"/>
<g clip-path="url(#b3)"><g filter="url(#bblur)"><rect x="132.8" y="323" width="213.1" height="93.3" fill="url(#b3g)"/><rect x="134.8" y="325" width="209.1" height="91.3" filter="url(#cloud)" opacity="0.22"/><circle cx="328.2" cy="411.6" r="15.7" fill="url(#blobw)"/><circle cx="258.6" cy="363.7" r="11.4" fill="url(#blobw)"/><circle cx="174.9" cy="365.6" r="7.7" fill="url(#blobw)"/><circle cx="140" cy="332.8" r="13.5" fill="url(#blobw)"/><circle cx="242" cy="392" r="9.3" fill="url(#blobw)"/><circle cx="298.5" cy="378.8" r="12.9" fill="url(#blobk)"/><circle cx="337.8" cy="358.1" r="14.1" fill="url(#blobw)"/><circle cx="254.4" cy="385.3" r="8.8" fill="url(#blobw)"/><circle cx="233.9" cy="390.5" r="12.1" fill="url(#blobw)"/><circle cx="269.1" cy="341.6" r="7.1" fill="url(#blobw)"/><circle cx="305.4" cy="342.9" r="6.4" fill="url(#blobw)"/><circle cx="142.9" cy="350.2" r="11.9" fill="url(#blobk)"/><circle cx="204" cy="358.7" r="8.5" fill="url(#blobw)"/><circle cx="297.4" cy="375.1" r="8.1" fill="url(#blobw)"/><circle cx="298.7" cy="389.6" r="14.9" fill="url(#blobw)"/><circle cx="248.9" cy="408.9" r="12.1" fill="url(#blobk)"/><circle cx="169.8" cy="414" r="5.7" fill="url(#blobw)"/><circle cx="139.7" cy="398.9" r="13.2" fill="url(#blobk)"/><circle cx="303.1" cy="411.6" r="11.5" fill="url(#blobk)"/><circle cx="291.4" cy="356.6" r="16.7" fill="url(#blobw)"/><circle cx="175.2" cy="331.9" r="10.6" fill="url(#blobw)"/><circle cx="330" cy="411.8" r="7.6" fill="url(#blobw)"/><circle cx="245.4" cy="340.5" r="11.5" fill="url(#blobk)"/><circle cx="187.7" cy="363.5" r="15.8" fill="url(#blobw)"/><circle cx="206.5" cy="406.5" r="14.8" fill="url(#blobk)"/><circle cx="278.6" cy="362.7" r="13.3" fill="url(#blobk)"/><circle cx="268.5" cy="346.8" r="8.5" fill="url(#blobw)"/><circle cx="296.2" cy="375.9" r="11.6" fill="url(#blobk)"/><circle cx="157.5" cy="382.6" r="9" fill="url(#blobk)"/><circle cx="309.5" cy="347.7" r="16.4" fill="url(#blobw)"/><circle cx="252.3" cy="374.5" r="7.8" fill="url(#blobk)"/><circle cx="233.2" cy="366" r="13.6" fill="url(#blobw)"/><circle cx="213.7" cy="396.7" r="6.7" fill="url(#blobk)"/><circle cx="177.4" cy="387.2" r="7.1" fill="url(#blobw)"/><circle cx="223.2" cy="332.5" r="13.4" fill="url(#blobw)"/><circle cx="278.9" cy="374.2" r="11.7" fill="url(#blobk)"/><circle cx="197.1" cy="407.1" r="6" fill="url(#blobk)"/><circle cx="315.4" cy="370.4" r="14.3" fill="url(#blobk)"/><circle cx="261.3" cy="351.6" r="8.8" fill="url(#blobw)"/><circle cx="198" cy="412.6" r="9.1" fill="url(#blobw)"/><rect x="132.8" y="416.3" width="213.1" height="19.6" fill="#242424"/><ellipse cx="222.5" cy="431.2" rx="2.5" ry="1.8" fill="rgb(80,80,80)" opacity="0.55"/><ellipse cx="247.5" cy="429" rx="1.4" ry="1" fill="rgb(74,74,74)" opacity="0.55"/><ellipse cx="313" cy="425.6" rx="2.2" ry="1.9" fill="rgb(57,57,57)" opacity="0.55"/><ellipse cx="192.8" cy="430.3" rx="2.7" ry="1" fill="rgb(50,50,50)" opacity="0.55"/><ellipse cx="312.7" cy="421.2" rx="2.3" ry="0.8" fill="rgb(86,86,86)" opacity="0.55"/><ellipse cx="303.6" cy="421.7" rx="2.1" ry="1.4" fill="rgb(73,73,73)" opacity="0.55"/><ellipse cx="297.9" cy="420" rx="1.8" ry="1.5" fill="rgb(82,82,82)" opacity="0.55"/><ellipse cx="196.1" cy="418.2" rx="2.3" ry="0.9" fill="rgb(94,94,94)" opacity="0.55"/><ellipse cx="338.9" cy="432.8" rx="3" ry="0.9" fill="rgb(61,61,61)" opacity="0.55"/><ellipse cx="277.6" cy="433.2" rx="1.9" ry="1.6" fill="rgb(68,68,68)" opacity="0.55"/><ellipse cx="253.9" cy="430.4" rx="2.2" ry="1.4" fill="rgb(52,52,52)" opacity="0.55"/><ellipse cx="203.1" cy="419.2" rx="1.3" ry="1" fill="rgb(55,55,55)" opacity="0.55"/><ellipse cx="337" cy="434.3" rx="2.2" ry="1.3" fill="rgb(98,98,98)" opacity="0.55"/><ellipse cx="314.4" cy="424.5" rx="2.1" ry="1" fill="rgb(73,73,73)" opacity="0.55"/><ellipse cx="252.1" cy="429.8" rx="2.8" ry="1.9" fill="rgb(79,79,79)" opacity="0.55"/><ellipse cx="340.2" cy="419.1" rx="3" ry="1.1" fill="rgb(74,74,74)" opacity="0.55"/><ellipse cx="327.6" cy="425.5" rx="2.4" ry="1.6" fill="rgb(72,72,72)" opacity="0.55"/><ellipse cx="246.7" cy="420.5" rx="1.8" ry="0.7" fill="rgb(76,76,76)" opacity="0.55"/><ellipse cx="288.7" cy="425.1" rx="2.2" ry="1.2" fill="rgb(60,60,60)" opacity="0.55"/><ellipse cx="186.2" cy="422.3" rx="1.6" ry="1.7" fill="rgb(92,92,92)" opacity="0.55"/><ellipse cx="218.2" cy="423.3" rx="2.9" ry="1.3" fill="rgb(81,81,81)" opacity="0.55"/><ellipse cx="265.1" cy="424.3" rx="1.4" ry="1.2" fill="rgb(88,88,88)" opacity="0.55"/><ellipse cx="174.6" cy="430.4" rx="1.9" ry="0.7" fill="rgb(54,54,54)" opacity="0.55"/><ellipse cx="268" cy="421.3" rx="1.1" ry="1.2" fill="rgb(97,97,97)" opacity="0.55"/><ellipse cx="338.6" cy="429.8" rx="3" ry="1.7" fill="rgb(95,95,95)" opacity="0.55"/><ellipse cx="285.2" cy="419.3" rx="2.5" ry="1.7" fill="rgb(54,54,54)" opacity="0.55"/><ellipse cx="231.9" cy="430" rx="1.8" ry="1.5" fill="rgb(54,54,54)" opacity="0.55"/><ellipse cx="339.5" cy="430.9" rx="2.2" ry="1.6" fill="rgb(57,57,57)" opacity="0.55"/><ellipse cx="261.6" cy="426.2" rx="2.7" ry="1.6" fill="rgb(62,62,62)" opacity="0.55"/><ellipse cx="200.1" cy="429.2" rx="2" ry="1.4" fill="rgb(77,77,77)" opacity="0.55"/><ellipse cx="300.1" cy="422" rx="1" ry="1.6" fill="rgb(97,97,97)" opacity="0.55"/><ellipse cx="253.9" cy="432.7" rx="1.1" ry="1.6" fill="rgb(59,59,59)" opacity="0.55"/><ellipse cx="164" cy="433.1" rx="2.8" ry="1.9" fill="rgb(94,94,94)" opacity="0.55"/><ellipse cx="158" cy="431.4" rx="2.7" ry="1.9" fill="rgb(55,55,55)" opacity="0.55"/><ellipse cx="141.9" cy="425.2" rx="1.1" ry="1" fill="rgb(90,90,90)" opacity="0.55"/><ellipse cx="248.7" cy="424.2" rx="2.3" ry="1.8" fill="rgb(90,90,90)" opacity="0.55"/><ellipse cx="176.1" cy="429.7" rx="2.4" ry="1.5" fill="rgb(96,96,96)" opacity="0.55"/><ellipse cx="162.3" cy="431.5" rx="1.1" ry="1.5" fill="rgb(81,81,81)" opacity="0.55"/><ellipse cx="164.6" cy="434" rx="2.2" ry="1.2" fill="rgb(50,50,50)" opacity="0.55"/><ellipse cx="144.3" cy="430.1" rx="2.6" ry="1.5" fill="rgb(76,76,76)" opacity="0.55"/><ellipse cx="163.9" cy="430.8" rx="2.3" ry="1.8" fill="rgb(72,72,72)" opacity="0.55"/><ellipse cx="251.4" cy="434" rx="2.7" ry="0.8" fill="rgb(50,50,50)" opacity="0.55"/><ellipse cx="203" cy="428.6" rx="1.1" ry="0.9" fill="rgb(89,89,89)" opacity="0.55"/><ellipse cx="199" cy="431.6" rx="1.3" ry="0.9" fill="rgb(57,57,57)" opacity="0.55"/><ellipse cx="256.8" cy="434" rx="2.7" ry="1.6" fill="rgb(89,89,89)" opacity="0.55"/><ellipse cx="175.9" cy="419.8" rx="2.1" ry="1.4" fill="rgb(93,93,93)" opacity="0.55"/><ellipse cx="329.7" cy="430.9" rx="1.5" ry="1.4" fill="rgb(54,54,54)" opacity="0.55"/><ellipse cx="306.9" cy="429.4" rx="1.3" ry="1.3" fill="rgb(98,98,98)" opacity="0.55"/><ellipse cx="209.6" cy="420.4" rx="1.8" ry="1.1" fill="rgb(82,82,82)" opacity="0.55"/><ellipse cx="304.7" cy="429.3" rx="1.7" ry="1.8" fill="rgb(59,59,59)" opacity="0.55"/><ellipse cx="230.9" cy="419.6" rx="2.6" ry="1.1" fill="rgb(85,85,85)" opacity="0.55"/><ellipse cx="252.7" cy="433.9" rx="2.6" ry="1.6" fill="rgb(56,56,56)" opacity="0.55"/><ellipse cx="166.7" cy="426.7" rx="1.1" ry="0.7" fill="rgb(90,90,90)" opacity="0.55"/><ellipse cx="305.6" cy="419.7" rx="1.7" ry="0.9" fill="rgb(66,66,66)" opacity="0.55"/><ellipse cx="282.4" cy="428.7" rx="1.2" ry="1.2" fill="rgb(69,69,69)" opacity="0.55"/><ellipse cx="235.2" cy="430.7" rx="2.1" ry="1.2" fill="rgb(75,75,75)" opacity="0.55"/><ellipse cx="268.9" cy="417.1" rx="2.8" ry="1.8" fill="rgb(86,86,86)" opacity="0.55"/><ellipse cx="139.8" cy="431.9" rx="1.7" ry="0.9" fill="rgb(99,99,99)" opacity="0.55"/><ellipse cx="312.8" cy="428.6" rx="2.3" ry="1.9" fill="rgb(91,91,91)" opacity="0.55"/><ellipse cx="332.8" cy="428" rx="1.3" ry="1.1" fill="rgb(94,94,94)" opacity="0.55"/><ellipse cx="245.6" cy="426" rx="2.3" ry="1.4" fill="rgb(88,88,88)" opacity="0.55"/><ellipse cx="264.7" cy="433.4" rx="2.4" ry="0.9" fill="rgb(75,75,75)" opacity="0.55"/><ellipse cx="191" cy="429.6" rx="1.3" ry="0.7" fill="rgb(96,96,96)" opacity="0.55"/><ellipse cx="205.1" cy="422.1" rx="2.8" ry="1.3" fill="rgb(55,55,55)" opacity="0.55"/><ellipse cx="284.5" cy="417.8" rx="2.3" ry="1.7" fill="rgb(76,76,76)" opacity="0.55"/><ellipse cx="192.2" cy="418.8" rx="2.2" ry="1.8" fill="rgb(89,89,89)" opacity="0.55"/><ellipse cx="211.2" cy="432.6" rx="2.2" ry="1.7" fill="rgb(65,65,65)" opacity="0.55"/><ellipse cx="244.3" cy="421.4" rx="2.9" ry="1.5" fill="rgb(62,62,62)" opacity="0.55"/><ellipse cx="340" cy="434.1" rx="2" ry="1.1" fill="rgb(59,59,59)" opacity="0.55"/><ellipse cx="296.1" cy="424" rx="2.1" ry="1.4" fill="rgb(73,73,73)" opacity="0.55"/><ellipse cx="312.5" cy="417.7" rx="2.8" ry="1.4" fill="rgb(74,74,74)" opacity="0.55"/><ellipse cx="288.6" cy="417.9" rx="1.2" ry="0.8" fill="rgb(58,58,58)" opacity="0.55"/><ellipse cx="225.8" cy="432" rx="1.3" ry="1.8" fill="rgb(72,72,72)" opacity="0.55"/><ellipse cx="210.8" cy="422" rx="2.6" ry="1.8" fill="rgb(97,97,97)" opacity="0.55"/><ellipse cx="343.7" cy="420.4" rx="2.5" ry="1.8" fill="rgb(86,86,86)" opacity="0.55"/><ellipse cx="290.9" cy="421.8" rx="1.1" ry="1.5" fill="rgb(82,82,82)" opacity="0.55"/><ellipse cx="168.9" cy="428.1" rx="2.6" ry="1.3" fill="rgb(52,52,52)" opacity="0.55"/><ellipse cx="268.7" cy="417.6" rx="1" ry="1.1" fill="rgb(80,80,80)" opacity="0.55"/><ellipse cx="298.3" cy="428.1" rx="1.5" ry="1.8" fill="rgb(99,99,99)" opacity="0.55"/><ellipse cx="272.2" cy="420.2" rx="1.6" ry="1.7" fill="rgb(52,52,52)" opacity="0.55"/><ellipse cx="175.4" cy="422.2" rx="2.2" ry="1.6" fill="rgb(81,81,81)" opacity="0.55"/><ellipse cx="303.4" cy="421.3" rx="2" ry="1.7" fill="rgb(83,83,83)" opacity="0.55"/><ellipse cx="342.1" cy="424.2" rx="1.2" ry="0.9" fill="rgb(62,62,62)" opacity="0.55"/><ellipse cx="215.7" cy="416.8" rx="1.2" ry="1.6" fill="rgb(76,76,76)" opacity="0.55"/><ellipse cx="191.5" cy="421.5" rx="1.4" ry="0.7" fill="rgb(64,64,64)" opacity="0.55"/><ellipse cx="277.9" cy="425.9" rx="1.2" ry="0.9" fill="rgb(76,76,76)" opacity="0.55"/><ellipse cx="175" cy="432.8" rx="2.6" ry="1.8" fill="rgb(52,52,52)" opacity="0.55"/><ellipse cx="149.7" cy="417.2" rx="1.7" ry="1.6" fill="rgb(61,61,61)" opacity="0.55"/><ellipse cx="140.2" cy="424" rx="2.2" ry="1.8" fill="rgb(70,70,70)" opacity="0.55"/><ellipse cx="294.9" cy="432.4" rx="1.5" ry="1.6" fill="rgb(64,64,64)" opacity="0.55"/><ellipse cx="162.6" cy="418.5" rx="1.2" ry="1.9" fill="rgb(62,62,62)" opacity="0.55"/><ellipse cx="332.3" cy="431.8" rx="2.7" ry="1.3" fill="rgb(94,94,94)" opacity="0.55"/><ellipse cx="238.6" cy="425.7" rx="2.7" ry="1.4" fill="rgb(52,52,52)" opacity="0.55"/><ellipse cx="170.6" cy="422.4" rx="2" ry="1.7" fill="rgb(89,89,89)" opacity="0.55"/><ellipse cx="254.1" cy="421.1" rx="2.2" ry="0.7" fill="rgb(88,88,88)" opacity="0.55"/><ellipse cx="292.5" cy="433.6" rx="2.7" ry="1.8" fill="rgb(85,85,85)" opacity="0.55"/><ellipse cx="240.2" cy="433.2" rx="2" ry="0.8" fill="rgb(61,61,61)" opacity="0.55"/><ellipse cx="300.9" cy="431.6" rx="2.7" ry="1.5" fill="rgb(94,94,94)" opacity="0.55"/><ellipse cx="273.6" cy="430" rx="2.6" ry="1" fill="rgb(68,68,68)" opacity="0.55"/><ellipse cx="185.1" cy="432.7" rx="1.1" ry="1.1" fill="rgb(53,53,53)" opacity="0.55"/><ellipse cx="266.8" cy="423.4" rx="2.8" ry="1" fill="rgb(76,76,76)" opacity="0.55"/><ellipse cx="154.2" cy="425.8" rx="1.4" ry="1.5" fill="rgb(64,64,64)" opacity="0.55"/><ellipse cx="248.1" cy="424.7" rx="1.1" ry="1" fill="rgb(92,92,92)" opacity="0.55"/><ellipse cx="216" cy="418.5" rx="1.1" ry="1.7" fill="rgb(64,64,64)" opacity="0.55"/><ellipse cx="171.6" cy="429.6" rx="2.4" ry="1.9" fill="rgb(53,53,53)" opacity="0.55"/><ellipse cx="243.2" cy="433.4" rx="1.7" ry="1.7" fill="rgb(63,63,63)" opacity="0.55"/><ellipse cx="297.9" cy="419.6" rx="2.5" ry="1.8" fill="rgb(73,73,73)" opacity="0.55"/><ellipse cx="338.2" cy="419.6" rx="1.8" ry="0.8" fill="rgb(96,96,96)" opacity="0.55"/><ellipse cx="321.3" cy="424.3" rx="1.4" ry="1.1" fill="rgb(86,86,86)" opacity="0.55"/><ellipse cx="230.9" cy="433" rx="2.7" ry="1.4" fill="rgb(87,87,87)" opacity="0.55"/><ellipse cx="235.7" cy="420.8" rx="2.1" ry="1.8" fill="rgb(98,98,98)" opacity="0.55"/><ellipse cx="294.4" cy="424.7" rx="1.9" ry="1.5" fill="rgb(56,56,56)" opacity="0.55"/><ellipse cx="333.4" cy="432.6" rx="1.2" ry="1" fill="rgb(71,71,71)" opacity="0.55"/><ellipse cx="201.6" cy="419.6" rx="1.7" ry="1.7" fill="rgb(69,69,69)" opacity="0.55"/><ellipse cx="138.2" cy="426.8" rx="1.6" ry="1.7" fill="rgb(79,79,79)" opacity="0.55"/><circle cx="185.6" cy="418.4" r="0.4" fill="rgb(128,128,128)" opacity="0.5"/><circle cx="292.1" cy="430.6" r="0.4" fill="rgb(113,113,113)" opacity="0.5"/><circle cx="149.8" cy="418.4" r="0.7" fill="rgb(114,114,114)" opacity="0.5"/><circle cx="206.6" cy="422.4" r="0.5" fill="rgb(134,134,134)" opacity="0.5"/><circle cx="211.2" cy="419.1" r="1" fill="rgb(105,105,105)" opacity="0.5"/><circle cx="166.2" cy="422.2" r="0.5" fill="rgb(107,107,107)" opacity="0.5"/><circle cx="283.3" cy="432.8" r="0.5" fill="rgb(105,105,105)" opacity="0.5"/><circle cx="285.1" cy="424.4" r="0.6" fill="rgb(126,126,126)" opacity="0.5"/><circle cx="175.4" cy="432.1" r="0.8" fill="rgb(133,133,133)" opacity="0.5"/><circle cx="218.9" cy="430.6" r="0.9" fill="rgb(128,128,128)" opacity="0.5"/><circle cx="199.2" cy="432.1" r="0.4" fill="rgb(115,115,115)" opacity="0.5"/><circle cx="160.6" cy="428.9" r="0.8" fill="rgb(95,95,95)" opacity="0.5"/><circle cx="304.5" cy="416.8" r="0.8" fill="rgb(145,145,145)" opacity="0.5"/><circle cx="139.1" cy="424.4" r="0.8" fill="rgb(120,120,120)" opacity="0.5"/><circle cx="216.2" cy="432.8" r="0.9" fill="rgb(126,126,126)" opacity="0.5"/><circle cx="268.4" cy="430.4" r="0.8" fill="rgb(106,106,106)" opacity="0.5"/><circle cx="293.9" cy="429" r="0.8" fill="rgb(99,99,99)" opacity="0.5"/><circle cx="334.2" cy="423.6" r="0.5" fill="rgb(98,98,98)" opacity="0.5"/><circle cx="291.3" cy="419.3" r="1" fill="rgb(112,112,112)" opacity="0.5"/><circle cx="215.2" cy="424" r="0.4" fill="rgb(123,123,123)" opacity="0.5"/><circle cx="333.5" cy="434.3" r="0.9" fill="rgb(138,138,138)" opacity="0.5"/><circle cx="168.4" cy="434.4" r="0.6" fill="rgb(119,119,119)" opacity="0.5"/><circle cx="184.3" cy="417.2" r="0.8" fill="rgb(130,130,130)" opacity="0.5"/><circle cx="198.1" cy="418.8" r="0.5" fill="rgb(126,126,126)" opacity="0.5"/><circle cx="193.5" cy="418.8" r="0.9" fill="rgb(105,105,105)" opacity="0.5"/><circle cx="221.7" cy="425" r="0.9" fill="rgb(90,90,90)" opacity="0.5"/><circle cx="274.1" cy="423.2" r="0.4" fill="rgb(94,94,94)" opacity="0.5"/><circle cx="221.2" cy="432.4" r="0.4" fill="rgb(133,133,133)" opacity="0.5"/><circle cx="249.8" cy="417.6" r="0.8" fill="rgb(135,135,135)" opacity="0.5"/><circle cx="190.5" cy="428.8" r="0.4" fill="rgb(131,131,131)" opacity="0.5"/><circle cx="296.9" cy="418.9" r="0.8" fill="rgb(129,129,129)" opacity="0.5"/><circle cx="178.6" cy="427" r="0.7" fill="rgb(102,102,102)" opacity="0.5"/><circle cx="246" cy="434" r="0.6" fill="rgb(146,146,146)" opacity="0.5"/><circle cx="300" cy="431.5" r="0.9" fill="rgb(113,113,113)" opacity="0.5"/><circle cx="137.2" cy="422.2" r="0.7" fill="rgb(90,90,90)" opacity="0.5"/><circle cx="283.6" cy="425.7" r="0.4" fill="rgb(100,100,100)" opacity="0.5"/><circle cx="159.9" cy="431.6" r="0.7" fill="rgb(140,140,140)" opacity="0.5"/><circle cx="316" cy="428.3" r="0.5" fill="rgb(132,132,132)" opacity="0.5"/><circle cx="307.6" cy="431.4" r="0.8" fill="rgb(108,108,108)" opacity="0.5"/><circle cx="226.4" cy="418" r="0.8" fill="rgb(104,104,104)" opacity="0.5"/><circle cx="271.1" cy="426.2" r="0.6" fill="rgb(97,97,97)" opacity="0.5"/><circle cx="230.2" cy="420.3" r="0.5" fill="rgb(104,104,104)" opacity="0.5"/><circle cx="156.4" cy="425.7" r="0.7" fill="rgb(106,106,106)" opacity="0.5"/><circle cx="294.5" cy="417.9" r="0.9" fill="rgb(90,90,90)" opacity="0.5"/><circle cx="189.7" cy="425.4" r="0.6" fill="rgb(127,127,127)" opacity="0.5"/><circle cx="338.2" cy="428.7" r="0.6" fill="rgb(142,142,142)" opacity="0.5"/><circle cx="335.8" cy="428.8" r="0.9" fill="rgb(138,138,138)" opacity="0.5"/><circle cx="216.6" cy="432.6" r="0.4" fill="rgb(94,94,94)" opacity="0.5"/><circle cx="343.6" cy="424.4" r="0.9" fill="rgb(92,92,92)" opacity="0.5"/><circle cx="246.8" cy="424.9" r="0.7" fill="rgb(101,101,101)" opacity="0.5"/><circle cx="267.7" cy="429.3" r="0.5" fill="rgb(120,120,120)" opacity="0.5"/><circle cx="138.1" cy="422" r="0.7" fill="rgb(92,92,92)" opacity="0.5"/><circle cx="209.3" cy="434.1" r="0.7" fill="rgb(137,137,137)" opacity="0.5"/><circle cx="194.7" cy="420.9" r="0.9" fill="rgb(124,124,124)" opacity="0.5"/><circle cx="149.8" cy="429.7" r="1" fill="rgb(94,94,94)" opacity="0.5"/><circle cx="184.3" cy="428.4" r="1" fill="rgb(127,127,127)" opacity="0.5"/><circle cx="275" cy="431.8" r="0.6" fill="rgb(115,115,115)" opacity="0.5"/><circle cx="229.6" cy="417.6" r="1" fill="rgb(104,104,104)" opacity="0.5"/><circle cx="156.7" cy="419.4" r="1" fill="rgb(128,128,128)" opacity="0.5"/><circle cx="203.6" cy="431.8" r="0.6" fill="rgb(110,110,110)" opacity="0.5"/><circle cx="321.3" cy="417.3" r="0.5" fill="rgb(141,141,141)" opacity="0.5"/><circle cx="217.3" cy="422.9" r="0.7" fill="rgb(140,140,140)" opacity="0.5"/><circle cx="186.5" cy="430.2" r="0.5" fill="rgb(106,106,106)" opacity="0.5"/><circle cx="148.6" cy="419.1" r="0.9" fill="rgb(94,94,94)" opacity="0.5"/><circle cx="185.4" cy="425.7" r="0.8" fill="rgb(107,107,107)" opacity="0.5"/><circle cx="293.9" cy="422.6" r="0.7" fill="rgb(110,110,110)" opacity="0.5"/><circle cx="206" cy="421.8" r="0.6" fill="rgb(103,103,103)" opacity="0.5"/><circle cx="328.9" cy="417.7" r="0.9" fill="rgb(122,122,122)" opacity="0.5"/><circle cx="237.9" cy="419.8" r="0.7" fill="rgb(145,145,145)" opacity="0.5"/><circle cx="286.4" cy="424.9" r="0.8" fill="rgb(99,99,99)" opacity="0.5"/><circle cx="169.6" cy="420.1" r="0.9" fill="rgb(108,108,108)" opacity="0.5"/><circle cx="319.6" cy="432" r="0.7" fill="rgb(113,113,113)" opacity="0.5"/><circle cx="255.2" cy="424.1" r="0.6" fill="rgb(138,138,138)" opacity="0.5"/><circle cx="313.5" cy="422.2" r="0.6" fill="rgb(125,125,125)" opacity="0.5"/><circle cx="338.6" cy="421.4" r="0.6" fill="rgb(97,97,97)" opacity="0.5"/><circle cx="213.1" cy="434.1" r="0.6" fill="rgb(136,136,136)" opacity="0.5"/><circle cx="325.1" cy="430" r="0.8" fill="rgb(118,118,118)" opacity="0.5"/><circle cx="191.8" cy="421.7" r="0.6" fill="rgb(150,150,150)" opacity="0.5"/><circle cx="270.2" cy="419.7" r="0.9" fill="rgb(95,95,95)" opacity="0.5"/><circle cx="172.2" cy="430.6" r="0.9" fill="rgb(120,120,120)" opacity="0.5"/><circle cx="169.9" cy="427.3" r="0.9" fill="rgb(112,112,112)" opacity="0.5"/><circle cx="323.7" cy="425.6" r="0.7" fill="rgb(130,130,130)" opacity="0.5"/><circle cx="286" cy="420.6" r="0.6" fill="rgb(142,142,142)" opacity="0.5"/><circle cx="339.2" cy="425.6" r="0.5" fill="rgb(92,92,92)" opacity="0.5"/><circle cx="291.4" cy="417.6" r="1" fill="rgb(118,118,118)" opacity="0.5"/><circle cx="168.3" cy="424.9" r="0.7" fill="rgb(90,90,90)" opacity="0.5"/><circle cx="271.2" cy="428.9" r="0.5" fill="rgb(93,93,93)" opacity="0.5"/><circle cx="315.3" cy="432.6" r="0.7" fill="rgb(96,96,96)" opacity="0.5"/><circle cx="312.9" cy="417" r="0.7" fill="rgb(141,141,141)" opacity="0.5"/><circle cx="260.4" cy="430.5" r="1" fill="rgb(107,107,107)" opacity="0.5"/><circle cx="255.2" cy="417.8" r="0.7" fill="rgb(108,108,108)" opacity="0.5"/><circle cx="268.4" cy="418.3" r="0.9" fill="rgb(136,136,136)" opacity="0.5"/><circle cx="148" cy="419.1" r="0.6" fill="rgb(131,131,131)" opacity="0.5"/><circle cx="295.5" cy="419.7" r="0.7" fill="rgb(110,110,110)" opacity="0.5"/><circle cx="272.9" cy="325.2" r="2.6" fill="url(#bub)"/><circle cx="151.3" cy="325.2" r="2.9" fill="url(#bub)"/><circle cx="302.8" cy="325.3" r="1.8" fill="url(#bub)"/><circle cx="158.9" cy="325.4" r="1.9" fill="url(#bub)"/><circle cx="329.6" cy="326.2" r="2.5" fill="url(#bub)"/><circle cx="189.5" cy="326.7" r="3" fill="url(#bub)"/><circle cx="233.7" cy="327.2" r="2.9" fill="url(#bub)"/><circle cx="188" cy="327.8" r="1.4" fill="url(#bub)"/><circle cx="255" cy="327.8" r="2.9" fill="url(#bub)"/><circle cx="157.4" cy="328" r="1.5" fill="url(#bub)"/><circle cx="158" cy="328.5" r="2.5" fill="url(#bub)"/><circle cx="230.7" cy="330.6" r="2.3" fill="url(#bub)"/><circle cx="253.9" cy="331.4" r="2.1" fill="url(#bub)"/><circle cx="222.9" cy="331.6" r="2.5" fill="url(#bub)"/><circle cx="174.7" cy="332.6" r="1.1" fill="url(#bub)"/><circle cx="276.5" cy="333.9" r="1.2" fill="url(#bub)"/><circle cx="150.7" cy="334.2" r="1.5" fill="url(#bub)"/><circle cx="325.4" cy="336.2" r="1.5" fill="url(#bub)"/><circle cx="311.8" cy="336.3" r="1.7" fill="url(#bub)"/><circle cx="180.5" cy="336.6" r="1.4" fill="url(#bub)"/><circle cx="306.3" cy="338.1" r="1.8" fill="url(#bub)"/><circle cx="294.9" cy="338.2" r="1.7" fill="url(#bub)"/><circle cx="301.8" cy="338.2" r="2.7" fill="url(#bub)"/><circle cx="148.7" cy="338.9" r="1.3" fill="url(#bub)"/><circle cx="179.4" cy="338.9" r="2.3" fill="url(#bub)"/><circle cx="240.4" cy="339.3" r="1.9" fill="url(#bub)"/><circle cx="210.3" cy="339.4" r="1.7" fill="url(#bub)"/><circle cx="327.7" cy="340.8" r="1.4" fill="url(#bub)"/><circle cx="272.6" cy="346.5" r="1.6" fill="url(#bub)"/><circle cx="185" cy="348" r="2" fill="url(#bub)"/><circle cx="201.7" cy="348.4" r="1.7" fill="url(#bub)"/><circle cx="330.2" cy="349.3" r="1.5" fill="url(#bub)"/><circle cx="242.5" cy="351.2" r="1.1" fill="url(#bub)"/><circle cx="146.6" cy="351.3" r="1.5" fill="url(#bub)"/><circle cx="214.6" cy="353.7" r="1.2" fill="url(#bub)"/><circle cx="201.6" cy="354.6" r="1.6" fill="url(#bub)"/><circle cx="265.4" cy="354.7" r="1.4" fill="url(#bub)"/><circle cx="338.5" cy="354.7" r="2.4" fill="url(#bub)"/><circle cx="320.4" cy="357.2" r="1.6" fill="url(#bub)"/><circle cx="215.7" cy="359.4" r="2.1" fill="url(#bub)"/><circle cx="292.7" cy="359.9" r="1.9" fill="url(#bub)"/><circle cx="238.5" cy="360.2" r="1.8" fill="url(#bub)"/><circle cx="294.2" cy="361.3" r="2.8" fill="url(#bub)"/><circle cx="205.5" cy="362.7" r="2.3" fill="url(#bub)"/><circle cx="190.1" cy="364.4" r="2.9" fill="url(#bub)"/><circle cx="315.7" cy="365.6" r="1.9" fill="url(#bub)"/><circle cx="249" cy="365.8" r="2.6" fill="url(#bub)"/><circle cx="319.8" cy="367.2" r="2.1" fill="url(#bub)"/><circle cx="240.3" cy="367.4" r="2.9" fill="url(#bub)"/><circle cx="210" cy="368.7" r="2.1" fill="url(#bub)"/><circle cx="183.1" cy="370.8" r="2.1" fill="url(#bub)"/><circle cx="234.9" cy="371.2" r="1.5" fill="url(#bub)"/><circle cx="291.1" cy="371.2" r="2" fill="url(#bub)"/><circle cx="341.1" cy="371.9" r="1.7" fill="url(#bub)"/><circle cx="201" cy="372.2" r="1.4" fill="url(#bub)"/><circle cx="283.5" cy="372.3" r="1.2" fill="url(#bub)"/><circle cx="304.5" cy="372.7" r="2.3" fill="url(#bub)"/><circle cx="231.9" cy="373.8" r="2.4" fill="url(#bub)"/><circle cx="296.9" cy="376.3" r="2.7" fill="url(#bub)"/><circle cx="295.1" cy="377.1" r="2.5" fill="url(#bub)"/><circle cx="253.8" cy="377.3" r="2" fill="url(#bub)"/><circle cx="169.4" cy="378.5" r="1.4" fill="url(#bub)"/><circle cx="194.3" cy="380.2" r="2.5" fill="url(#bub)"/><circle cx="270.7" cy="380.5" r="2.5" fill="url(#bub)"/><circle cx="299.2" cy="380.7" r="2" fill="url(#bub)"/><circle cx="233.8" cy="381.1" r="1.8" fill="url(#bub)"/><circle cx="162.6" cy="382.1" r="1.1" fill="url(#bub)"/><circle cx="206.1" cy="383.4" r="2.9" fill="url(#bub)"/><circle cx="165.8" cy="383.5" r="1.4" fill="url(#bub)"/><circle cx="247.8" cy="386.4" r="2.7" fill="url(#bub)"/><circle cx="325.6" cy="386.5" r="2.9" fill="url(#bub)"/><circle cx="239.8" cy="387" r="2" fill="url(#bub)"/><circle cx="258.3" cy="387.2" r="1.3" fill="url(#bub)"/><circle cx="159.1" cy="387.4" r="2.6" fill="url(#bub)"/><circle cx="277.5" cy="388" r="1.4" fill="url(#bub)"/><circle cx="338.2" cy="388.1" r="2" fill="url(#bub)"/><circle cx="264.6" cy="388.8" r="2.2" fill="url(#bub)"/><circle cx="335.4" cy="390" r="1.3" fill="url(#bub)"/><circle cx="205.8" cy="390.6" r="2.6" fill="url(#bub)"/><circle cx="138.6" cy="391.3" r="2.6" fill="url(#bub)"/><circle cx="307.2" cy="391.8" r="2.8" fill="url(#bub)"/><circle cx="300.8" cy="395.3" r="2.7" fill="url(#bub)"/><circle cx="248.5" cy="396.4" r="2.1" fill="url(#bub)"/><circle cx="236.7" cy="396.5" r="2.6" fill="url(#bub)"/><circle cx="185.5" cy="397.1" r="2.7" fill="url(#bub)"/><circle cx="215.1" cy="397.8" r="1.4" fill="url(#bub)"/><circle cx="336.7" cy="397.9" r="1.7" fill="url(#bub)"/><circle cx="311.2" cy="404.2" r="2.7" fill="url(#bub)"/><circle cx="235.2" cy="404.9" r="2.3" fill="url(#bub)"/><circle cx="221.1" cy="405.7" r="2.1" fill="url(#bub)"/><circle cx="207.8" cy="406.3" r="1.7" fill="url(#bub)"/><circle cx="271.1" cy="410.5" r="2.6" fill="url(#bub)"/><circle cx="232.9" cy="410.7" r="2.7" fill="url(#bub)"/><circle cx="228.1" cy="411.5" r="2.1" fill="url(#bub)"/><circle cx="212.7" cy="411.5" r="1.9" fill="url(#bub)"/><ellipse cx="242" cy="342" rx="3" ry="2.5" fill="url(#bub)" opacity="0.75"/><ellipse cx="172" cy="372" rx="3" ry="2.5" fill="url(#bub)" opacity="0.75"/><ellipse cx="208" cy="367" rx="3" ry="2.5" fill="url(#bub)" opacity="0.75"/><ellipse cx="240" cy="397" rx="3" ry="2.5" fill="url(#bub)" opacity="0.75"/><ellipse cx="280" cy="378" rx="3" ry="2.5" fill="url(#bub)" opacity="0.75"/><ellipse cx="306" cy="373" rx="3" ry="2.5" fill="url(#bub)" opacity="0.75"/><ellipse cx="343" cy="392" rx="2.5" ry="2" fill="url(#bub)" opacity="0.75"/><ellipse cx="205.6" cy="356.2" rx="3" ry="3.8" fill="url(#dspot)"/></g></g>
<line x1="135.8" y1="416.3" x2="343.9" y2="416.3" stroke="#fff" stroke-width="1.6" stroke-dasharray="5.8 5.9"/>
<text x="298.6" y="414.6" font-size="8.6" font-weight="bold" fill="#fff" textLength="42.7" lengthAdjust="spacingAndGlyphs">Interface</text>
<text x="272.9" y="432.9" font-size="8.6" font-weight="bold" fill="#fff" textLength="68.4" lengthAdjust="spacingAndGlyphs">S.S. electrode</text>
<text x="142.2" y="426.5" font-size="8.6" font-weight="bold" fill="#fff" textLength="27" lengthAdjust="spacingAndGlyphs">400 μm</text>
<rect x="144.5" y="429" width="15" height="3.6" fill="#fff"/>
<g clip-path="url(#b4)"><g filter="url(#bblur)"><rect x="464.2" y="323" width="215.9" height="92.4" fill="url(#b4g)"/><rect x="466.2" y="325" width="211.9" height="90.4" filter="url(#cloud)" opacity="0.22"/><circle cx="617.1" cy="400.9" r="7.2" fill="url(#blobk)"/><circle cx="507.3" cy="385.6" r="6.1" fill="url(#blobk)"/><circle cx="498.3" cy="388.9" r="13.7" fill="url(#blobk)"/><circle cx="559.7" cy="403.3" r="16.9" fill="url(#blobw)"/><circle cx="575.7" cy="411.6" r="13.9" fill="url(#blobw)"/><circle cx="530.7" cy="411.2" r="6" fill="url(#blobk)"/><circle cx="644.9" cy="339.3" r="8.9" fill="url(#blobw)"/><circle cx="581.1" cy="358.2" r="15.7" fill="url(#blobk)"/><circle cx="533.2" cy="405.9" r="5.8" fill="url(#blobw)"/><circle cx="607.1" cy="397.2" r="14.8" fill="url(#blobk)"/><circle cx="648.4" cy="349.1" r="13.9" fill="url(#blobk)"/><circle cx="486" cy="369.7" r="6.9" fill="url(#blobw)"/><circle cx="567.8" cy="385.6" r="16.7" fill="url(#blobw)"/><circle cx="573.3" cy="415.2" r="14.2" fill="url(#blobk)"/><circle cx="517.6" cy="382" r="8.1" fill="url(#blobk)"/><circle cx="603.7" cy="360.4" r="14.5" fill="url(#blobw)"/><circle cx="565.6" cy="400.2" r="8" fill="url(#blobw)"/><circle cx="587.9" cy="364.3" r="15.5" fill="url(#blobw)"/><circle cx="544.9" cy="330.2" r="10.4" fill="url(#blobw)"/><circle cx="561.3" cy="394.1" r="5.4" fill="url(#blobk)"/><circle cx="617" cy="398.3" r="11.5" fill="url(#blobk)"/><circle cx="553" cy="360.8" r="7.6" fill="url(#blobw)"/><circle cx="528.5" cy="355.4" r="15.9" fill="url(#blobk)"/><circle cx="602.1" cy="326.6" r="8.1" fill="url(#blobk)"/><circle cx="612.9" cy="362.9" r="12.6" fill="url(#blobk)"/><circle cx="522.9" cy="359.5" r="14.1" fill="url(#blobw)"/><circle cx="619" cy="360.9" r="5.2" fill="url(#blobw)"/><circle cx="480.6" cy="395.9" r="15.1" fill="url(#blobk)"/><circle cx="656.8" cy="344.3" r="10.3" fill="url(#blobw)"/><circle cx="476.5" cy="399.5" r="5.6" fill="url(#blobk)"/><circle cx="584.2" cy="388.3" r="5.6" fill="url(#blobk)"/><circle cx="634.4" cy="334.4" r="7.2" fill="url(#blobw)"/><circle cx="573" cy="332.1" r="14.6" fill="url(#blobw)"/><circle cx="615.4" cy="348" r="12.8" fill="url(#blobw)"/><circle cx="603.6" cy="362.1" r="16.9" fill="url(#blobk)"/><circle cx="642.7" cy="355.8" r="7.3" fill="url(#blobw)"/><circle cx="494.1" cy="412.5" r="8.4" fill="url(#blobk)"/><circle cx="515.4" cy="381" r="8" fill="url(#blobw)"/><circle cx="624.6" cy="380" r="16.4" fill="url(#blobw)"/><circle cx="523.5" cy="330.7" r="7.6" fill="url(#blobk)"/><rect x="464.2" y="415.4" width="215.9" height="20.5" fill="#222222"/><ellipse cx="585.7" cy="424.7" rx="3" ry="1.2" fill="rgb(71,71,71)" opacity="0.55"/><ellipse cx="651" cy="431.9" rx="1.3" ry="0.9" fill="rgb(61,61,61)" opacity="0.55"/><ellipse cx="641" cy="416.1" rx="1.6" ry="1.5" fill="rgb(67,67,67)" opacity="0.55"/><ellipse cx="624.8" cy="420.3" rx="1.5" ry="1.1" fill="rgb(71,71,71)" opacity="0.55"/><ellipse cx="566.7" cy="421.1" rx="1.5" ry="1.5" fill="rgb(51,51,51)" opacity="0.55"/><ellipse cx="586.7" cy="433.1" rx="2.7" ry="1.7" fill="rgb(73,73,73)" opacity="0.55"/><ellipse cx="663.5" cy="430.4" rx="1.7" ry="0.8" fill="rgb(75,75,75)" opacity="0.55"/><ellipse cx="560.3" cy="433" rx="2.9" ry="1.3" fill="rgb(72,72,72)" opacity="0.55"/><ellipse cx="553.9" cy="416.5" rx="2" ry="1.9" fill="rgb(60,60,60)" opacity="0.55"/><ellipse cx="651" cy="421.5" rx="2.1" ry="0.8" fill="rgb(100,100,100)" opacity="0.55"/><ellipse cx="605.8" cy="434" rx="2.5" ry="1.4" fill="rgb(95,95,95)" opacity="0.55"/><ellipse cx="541.9" cy="433.4" rx="2.7" ry="1.8" fill="rgb(91,91,91)" opacity="0.55"/><ellipse cx="575.7" cy="427.2" rx="1.7" ry="1" fill="rgb(95,95,95)" opacity="0.55"/><ellipse cx="646.2" cy="421.2" rx="1.6" ry="1.4" fill="rgb(60,60,60)" opacity="0.55"/><ellipse cx="547" cy="416.2" rx="1.5" ry="1.8" fill="rgb(54,54,54)" opacity="0.55"/><ellipse cx="518.6" cy="430.2" rx="2" ry="1.8" fill="rgb(99,99,99)" opacity="0.55"/><ellipse cx="620.7" cy="431.5" rx="2.9" ry="1.4" fill="rgb(72,72,72)" opacity="0.55"/><ellipse cx="604" cy="422.3" rx="1.4" ry="1.4" fill="rgb(96,96,96)" opacity="0.55"/><ellipse cx="628.6" cy="433.7" rx="1.7" ry="1.4" fill="rgb(62,62,62)" opacity="0.55"/><ellipse cx="515.1" cy="429.8" rx="3" ry="1.4" fill="rgb(80,80,80)" opacity="0.55"/><ellipse cx="565.3" cy="422.6" rx="1.9" ry="1.6" fill="rgb(62,62,62)" opacity="0.55"/><ellipse cx="607.6" cy="420.4" rx="1.3" ry="1.7" fill="rgb(91,91,91)" opacity="0.55"/><ellipse cx="646.5" cy="433.4" rx="1.3" ry="0.8" fill="rgb(93,93,93)" opacity="0.55"/><ellipse cx="578.1" cy="429.7" rx="2.5" ry="1.7" fill="rgb(65,65,65)" opacity="0.55"/><ellipse cx="631.1" cy="432.7" rx="1.4" ry="0.7" fill="rgb(86,86,86)" opacity="0.55"/><ellipse cx="593.9" cy="433.8" rx="2.2" ry="0.9" fill="rgb(80,80,80)" opacity="0.55"/><ellipse cx="500.2" cy="428" rx="2.9" ry="1.5" fill="rgb(77,77,77)" opacity="0.55"/><ellipse cx="492.6" cy="423.9" rx="1.6" ry="1.8" fill="rgb(89,89,89)" opacity="0.55"/><ellipse cx="617.4" cy="424.7" rx="2.7" ry="1.2" fill="rgb(63,63,63)" opacity="0.55"/><ellipse cx="572.9" cy="429.7" rx="1.5" ry="1.7" fill="rgb(88,88,88)" opacity="0.55"/><ellipse cx="490.8" cy="418" rx="1.3" ry="1.6" fill="rgb(50,50,50)" opacity="0.55"/><ellipse cx="634.9" cy="418.5" rx="1.7" ry="1.5" fill="rgb(50,50,50)" opacity="0.55"/><ellipse cx="553.3" cy="432.8" rx="1.3" ry="1" fill="rgb(93,93,93)" opacity="0.55"/><ellipse cx="481.7" cy="431.6" rx="1.9" ry="1.1" fill="rgb(99,99,99)" opacity="0.55"/><ellipse cx="593.5" cy="429.3" rx="3" ry="1.8" fill="rgb(64,64,64)" opacity="0.55"/><ellipse cx="644.9" cy="427.2" rx="2.8" ry="1.6" fill="rgb(81,81,81)" opacity="0.55"/><ellipse cx="486.3" cy="432.6" rx="3" ry="1.2" fill="rgb(67,67,67)" opacity="0.55"/><ellipse cx="576.7" cy="432.2" rx="1.7" ry="1.9" fill="rgb(68,68,68)" opacity="0.55"/><ellipse cx="594.4" cy="423.2" rx="2.8" ry="1.9" fill="rgb(60,60,60)" opacity="0.55"/><ellipse cx="640.9" cy="417.7" rx="1" ry="1.6" fill="rgb(80,80,80)" opacity="0.55"/><ellipse cx="496.1" cy="426.6" rx="2.8" ry="1.8" fill="rgb(99,99,99)" opacity="0.55"/><ellipse cx="676.6" cy="427.6" rx="3" ry="0.8" fill="rgb(52,52,52)" opacity="0.55"/><ellipse cx="504.7" cy="421.2" rx="1.3" ry="1.8" fill="rgb(75,75,75)" opacity="0.55"/><ellipse cx="588.6" cy="426.9" rx="2.3" ry="1.6" fill="rgb(57,57,57)" opacity="0.55"/><ellipse cx="535.7" cy="420.6" rx="2.1" ry="1.3" fill="rgb(91,91,91)" opacity="0.55"/><ellipse cx="606.3" cy="433.8" rx="2.3" ry="1.4" fill="rgb(59,59,59)" opacity="0.55"/><ellipse cx="670.9" cy="431.9" rx="1.5" ry="1.2" fill="rgb(96,96,96)" opacity="0.55"/><ellipse cx="552.6" cy="431.9" rx="1.9" ry="1.2" fill="rgb(56,56,56)" opacity="0.55"/><ellipse cx="476.6" cy="432.3" rx="1.8" ry="1.8" fill="rgb(63,63,63)" opacity="0.55"/><ellipse cx="493.9" cy="424.4" rx="1.6" ry="1.6" fill="rgb(90,90,90)" opacity="0.55"/><ellipse cx="586" cy="419.9" rx="2.2" ry="1.5" fill="rgb(60,60,60)" opacity="0.55"/><ellipse cx="609.3" cy="417.7" rx="2.5" ry="1.8" fill="rgb(85,85,85)" opacity="0.55"/><ellipse cx="515.1" cy="420.1" rx="1.7" ry="1.3" fill="rgb(96,96,96)" opacity="0.55"/><ellipse cx="559.6" cy="427.6" rx="1.5" ry="1.3" fill="rgb(98,98,98)" opacity="0.55"/><ellipse cx="669.4" cy="428.4" rx="3" ry="1.3" fill="rgb(62,62,62)" opacity="0.55"/><ellipse cx="636.6" cy="432.7" rx="2.3" ry="1.1" fill="rgb(53,53,53)" opacity="0.55"/><ellipse cx="493.2" cy="432.7" rx="2.7" ry="1" fill="rgb(75,75,75)" opacity="0.55"/><ellipse cx="489.7" cy="421.5" rx="2.9" ry="1.1" fill="rgb(80,80,80)" opacity="0.55"/><ellipse cx="640" cy="422" rx="1.9" ry="1.2" fill="rgb(76,76,76)" opacity="0.55"/><ellipse cx="615.3" cy="431.3" rx="2.9" ry="1.8" fill="rgb(58,58,58)" opacity="0.55"/><ellipse cx="626.9" cy="416.8" rx="1.8" ry="1.7" fill="rgb(54,54,54)" opacity="0.55"/><ellipse cx="556.2" cy="418.9" rx="1.1" ry="1" fill="rgb(88,88,88)" opacity="0.55"/><ellipse cx="503.9" cy="428.5" rx="1.3" ry="0.7" fill="rgb(54,54,54)" opacity="0.55"/><ellipse cx="508.9" cy="424.9" rx="2.8" ry="1" fill="rgb(55,55,55)" opacity="0.55"/><ellipse cx="623.9" cy="429.3" rx="2.7" ry="1.5" fill="rgb(76,76,76)" opacity="0.55"/><ellipse cx="556.3" cy="422.7" rx="1.2" ry="0.9" fill="rgb(57,57,57)" opacity="0.55"/><ellipse cx="545.5" cy="434" rx="2" ry="0.9" fill="rgb(79,79,79)" opacity="0.55"/><ellipse cx="600.9" cy="433.5" rx="1.5" ry="1.1" fill="rgb(73,73,73)" opacity="0.55"/><ellipse cx="522.6" cy="430.1" rx="2.9" ry="1.4" fill="rgb(79,79,79)" opacity="0.55"/><ellipse cx="550.3" cy="417.7" rx="1" ry="1" fill="rgb(50,50,50)" opacity="0.55"/><ellipse cx="621.5" cy="428.7" rx="2.4" ry="0.9" fill="rgb(61,61,61)" opacity="0.55"/><ellipse cx="656.3" cy="417.6" rx="2.6" ry="0.7" fill="rgb(88,88,88)" opacity="0.55"/><ellipse cx="593.7" cy="416.3" rx="1.2" ry="1.5" fill="rgb(100,100,100)" opacity="0.55"/><ellipse cx="587.6" cy="428" rx="1.1" ry="0.9" fill="rgb(87,87,87)" opacity="0.55"/><ellipse cx="468.7" cy="427.5" rx="2.1" ry="0.7" fill="rgb(54,54,54)" opacity="0.55"/><ellipse cx="551.1" cy="430" rx="1.7" ry="1.7" fill="rgb(57,57,57)" opacity="0.55"/><ellipse cx="675.9" cy="417.9" rx="1.8" ry="0.8" fill="rgb(65,65,65)" opacity="0.55"/><ellipse cx="536.4" cy="430.2" rx="1.6" ry="1.3" fill="rgb(100,100,100)" opacity="0.55"/><ellipse cx="485.5" cy="419.2" rx="2.6" ry="0.9" fill="rgb(62,62,62)" opacity="0.55"/><ellipse cx="672.8" cy="423.1" rx="1.1" ry="1.2" fill="rgb(68,68,68)" opacity="0.55"/><ellipse cx="516.1" cy="426.4" rx="2.5" ry="1.2" fill="rgb(72,72,72)" opacity="0.55"/><ellipse cx="578.1" cy="425.1" rx="1.3" ry="1.8" fill="rgb(75,75,75)" opacity="0.55"/><ellipse cx="565" cy="433.6" rx="1.3" ry="0.9" fill="rgb(87,87,87)" opacity="0.55"/><ellipse cx="549.5" cy="426.9" rx="2.2" ry="1.4" fill="rgb(82,82,82)" opacity="0.55"/><ellipse cx="670.3" cy="422" rx="2.5" ry="1.2" fill="rgb(92,92,92)" opacity="0.55"/><ellipse cx="602.8" cy="434.3" rx="1.2" ry="1.5" fill="rgb(79,79,79)" opacity="0.55"/><ellipse cx="547.7" cy="428" rx="2.8" ry="1.7" fill="rgb(55,55,55)" opacity="0.55"/><ellipse cx="597.9" cy="424" rx="1.2" ry="1.1" fill="rgb(73,73,73)" opacity="0.55"/><ellipse cx="528" cy="432.2" rx="1.6" ry="1.4" fill="rgb(54,54,54)" opacity="0.55"/><ellipse cx="633.5" cy="425.5" rx="2.2" ry="1.8" fill="rgb(52,52,52)" opacity="0.55"/><ellipse cx="553.3" cy="429.4" rx="2.9" ry="1.1" fill="rgb(63,63,63)" opacity="0.55"/><ellipse cx="585.9" cy="429.5" rx="1.3" ry="0.8" fill="rgb(63,63,63)" opacity="0.55"/><ellipse cx="520.2" cy="427.8" rx="1.6" ry="1.1" fill="rgb(93,93,93)" opacity="0.55"/><ellipse cx="650.8" cy="427.6" rx="2.9" ry="1.1" fill="rgb(52,52,52)" opacity="0.55"/><ellipse cx="467.8" cy="419.1" rx="2.1" ry="1.8" fill="rgb(66,66,66)" opacity="0.55"/><ellipse cx="610.4" cy="424.6" rx="2.3" ry="1.5" fill="rgb(75,75,75)" opacity="0.55"/><ellipse cx="522.9" cy="432.7" rx="2.7" ry="1.7" fill="rgb(91,91,91)" opacity="0.55"/><ellipse cx="508.2" cy="433.5" rx="2.2" ry="1.4" fill="rgb(70,70,70)" opacity="0.55"/><ellipse cx="584.1" cy="417.7" rx="1.4" ry="1.5" fill="rgb(98,98,98)" opacity="0.55"/><ellipse cx="641.5" cy="423.3" rx="1.2" ry="1.4" fill="rgb(55,55,55)" opacity="0.55"/><ellipse cx="664.2" cy="426.4" rx="1.5" ry="1.7" fill="rgb(64,64,64)" opacity="0.55"/><ellipse cx="466.7" cy="420" rx="3" ry="1.3" fill="rgb(66,66,66)" opacity="0.55"/><ellipse cx="468.6" cy="431.3" rx="1.7" ry="1.6" fill="rgb(76,76,76)" opacity="0.55"/><ellipse cx="556.6" cy="421.8" rx="2.7" ry="1.2" fill="rgb(94,94,94)" opacity="0.55"/><ellipse cx="630.5" cy="417.4" rx="1.1" ry="1.8" fill="rgb(69,69,69)" opacity="0.55"/><ellipse cx="611.1" cy="420.9" rx="2.8" ry="1.2" fill="rgb(68,68,68)" opacity="0.55"/><ellipse cx="676.8" cy="434" rx="2.4" ry="1.7" fill="rgb(87,87,87)" opacity="0.55"/><ellipse cx="529.8" cy="426.8" rx="2" ry="0.7" fill="rgb(69,69,69)" opacity="0.55"/><ellipse cx="523.1" cy="433.2" rx="1.1" ry="1.5" fill="rgb(90,90,90)" opacity="0.55"/><ellipse cx="505.7" cy="434.3" rx="1.9" ry="0.9" fill="rgb(68,68,68)" opacity="0.55"/><ellipse cx="629.6" cy="426.8" rx="1.9" ry="1.4" fill="rgb(53,53,53)" opacity="0.55"/><ellipse cx="622.6" cy="430.4" rx="1.6" ry="0.8" fill="rgb(80,80,80)" opacity="0.55"/><ellipse cx="476.4" cy="418.1" rx="2.5" ry="1.2" fill="rgb(76,76,76)" opacity="0.55"/><ellipse cx="499.1" cy="425.1" rx="2.4" ry="1.5" fill="rgb(58,58,58)" opacity="0.55"/><ellipse cx="644.8" cy="431.8" rx="2.5" ry="1.1" fill="rgb(94,94,94)" opacity="0.55"/><ellipse cx="651.4" cy="428.7" rx="1.2" ry="0.9" fill="rgb(98,98,98)" opacity="0.55"/><circle cx="490.4" cy="419.3" r="0.7" fill="rgb(110,110,110)" opacity="0.5"/><circle cx="605.2" cy="421.8" r="0.8" fill="rgb(148,148,148)" opacity="0.5"/><circle cx="579.9" cy="418.6" r="0.9" fill="rgb(136,136,136)" opacity="0.5"/><circle cx="615.7" cy="432.6" r="1" fill="rgb(109,109,109)" opacity="0.5"/><circle cx="501.9" cy="416.2" r="0.8" fill="rgb(113,113,113)" opacity="0.5"/><circle cx="607.3" cy="420.7" r="0.6" fill="rgb(130,130,130)" opacity="0.5"/><circle cx="560.2" cy="417.6" r="0.7" fill="rgb(121,121,121)" opacity="0.5"/><circle cx="529.4" cy="430.5" r="0.5" fill="rgb(121,121,121)" opacity="0.5"/><circle cx="549.5" cy="418.1" r="0.7" fill="rgb(102,102,102)" opacity="0.5"/><circle cx="635" cy="421.7" r="0.6" fill="rgb(127,127,127)" opacity="0.5"/><circle cx="609" cy="425" r="0.7" fill="rgb(106,106,106)" opacity="0.5"/><circle cx="542.9" cy="420" r="0.6" fill="rgb(128,128,128)" opacity="0.5"/><circle cx="572.4" cy="420.3" r="0.7" fill="rgb(120,120,120)" opacity="0.5"/><circle cx="509.5" cy="417.6" r="0.9" fill="rgb(117,117,117)" opacity="0.5"/><circle cx="501.5" cy="416.7" r="0.7" fill="rgb(143,143,143)" opacity="0.5"/><circle cx="677.7" cy="420.9" r="0.6" fill="rgb(132,132,132)" opacity="0.5"/><circle cx="546.1" cy="431.7" r="0.4" fill="rgb(141,141,141)" opacity="0.5"/><circle cx="525.9" cy="426.1" r="1" fill="rgb(125,125,125)" opacity="0.5"/><circle cx="616.9" cy="422.2" r="0.4" fill="rgb(149,149,149)" opacity="0.5"/><circle cx="474.6" cy="429.6" r="1" fill="rgb(106,106,106)" opacity="0.5"/><circle cx="636" cy="428.8" r="0.5" fill="rgb(94,94,94)" opacity="0.5"/><circle cx="564.3" cy="420.2" r="0.8" fill="rgb(94,94,94)" opacity="0.5"/><circle cx="567.1" cy="434.3" r="0.9" fill="rgb(143,143,143)" opacity="0.5"/><circle cx="514.7" cy="424.5" r="0.4" fill="rgb(138,138,138)" opacity="0.5"/><circle cx="524.6" cy="422.8" r="0.5" fill="rgb(91,91,91)" opacity="0.5"/><circle cx="529.7" cy="428.7" r="0.7" fill="rgb(103,103,103)" opacity="0.5"/><circle cx="590.8" cy="434.2" r="0.5" fill="rgb(138,138,138)" opacity="0.5"/><circle cx="469.5" cy="429.1" r="0.9" fill="rgb(105,105,105)" opacity="0.5"/><circle cx="650.8" cy="424.5" r="0.7" fill="rgb(150,150,150)" opacity="0.5"/><circle cx="470.1" cy="425.6" r="0.9" fill="rgb(115,115,115)" opacity="0.5"/><circle cx="500.7" cy="431.3" r="0.9" fill="rgb(114,114,114)" opacity="0.5"/><circle cx="551.2" cy="417.5" r="0.6" fill="rgb(119,119,119)" opacity="0.5"/><circle cx="539.3" cy="432.1" r="0.6" fill="rgb(119,119,119)" opacity="0.5"/><circle cx="535.1" cy="424.3" r="0.4" fill="rgb(126,126,126)" opacity="0.5"/><circle cx="573.1" cy="433.3" r="0.8" fill="rgb(115,115,115)" opacity="0.5"/><circle cx="572.8" cy="425.6" r="0.9" fill="rgb(106,106,106)" opacity="0.5"/><circle cx="603.6" cy="423.6" r="0.4" fill="rgb(117,117,117)" opacity="0.5"/><circle cx="640.7" cy="420.8" r="0.5" fill="rgb(108,108,108)" opacity="0.5"/><circle cx="495.1" cy="416.4" r="0.8" fill="rgb(113,113,113)" opacity="0.5"/><circle cx="646.6" cy="420" r="0.7" fill="rgb(100,100,100)" opacity="0.5"/><circle cx="598.3" cy="426.4" r="0.5" fill="rgb(122,122,122)" opacity="0.5"/><circle cx="596.9" cy="424.8" r="0.6" fill="rgb(141,141,141)" opacity="0.5"/><circle cx="675.1" cy="428.1" r="0.8" fill="rgb(143,143,143)" opacity="0.5"/><circle cx="659.2" cy="421.1" r="0.6" fill="rgb(134,134,134)" opacity="0.5"/><circle cx="583" cy="433.2" r="0.4" fill="rgb(118,118,118)" opacity="0.5"/><circle cx="587.5" cy="429.7" r="0.4" fill="rgb(134,134,134)" opacity="0.5"/><circle cx="483" cy="427.4" r="0.6" fill="rgb(100,100,100)" opacity="0.5"/><circle cx="535.9" cy="433.4" r="0.6" fill="rgb(143,143,143)" opacity="0.5"/><circle cx="592.6" cy="428.2" r="0.9" fill="rgb(122,122,122)" opacity="0.5"/><circle cx="534.2" cy="433.7" r="0.5" fill="rgb(133,133,133)" opacity="0.5"/><circle cx="467.9" cy="427.5" r="0.9" fill="rgb(103,103,103)" opacity="0.5"/><circle cx="570.7" cy="432.1" r="0.7" fill="rgb(116,116,116)" opacity="0.5"/><circle cx="602.9" cy="423.5" r="0.9" fill="rgb(148,148,148)" opacity="0.5"/><circle cx="605.6" cy="428.8" r="0.9" fill="rgb(146,146,146)" opacity="0.5"/><circle cx="506.2" cy="416.8" r="1" fill="rgb(114,114,114)" opacity="0.5"/><circle cx="650.7" cy="417.8" r="0.9" fill="rgb(90,90,90)" opacity="0.5"/><circle cx="503.4" cy="427.6" r="0.4" fill="rgb(111,111,111)" opacity="0.5"/><circle cx="559" cy="427.3" r="0.7" fill="rgb(138,138,138)" opacity="0.5"/><circle cx="513.8" cy="419.4" r="1" fill="rgb(91,91,91)" opacity="0.5"/><circle cx="515.5" cy="425" r="0.7" fill="rgb(113,113,113)" opacity="0.5"/><circle cx="627.5" cy="423.4" r="0.8" fill="rgb(112,112,112)" opacity="0.5"/><circle cx="607.3" cy="421.3" r="0.9" fill="rgb(149,149,149)" opacity="0.5"/><circle cx="517.8" cy="419.4" r="0.9" fill="rgb(115,115,115)" opacity="0.5"/><circle cx="581.5" cy="421.4" r="0.7" fill="rgb(93,93,93)" opacity="0.5"/><circle cx="477.8" cy="420.7" r="0.5" fill="rgb(132,132,132)" opacity="0.5"/><circle cx="514.5" cy="416.8" r="0.8" fill="rgb(114,114,114)" opacity="0.5"/><circle cx="672.5" cy="426" r="0.5" fill="rgb(118,118,118)" opacity="0.5"/><circle cx="532" cy="433.1" r="0.7" fill="rgb(108,108,108)" opacity="0.5"/><circle cx="650.1" cy="421.4" r="0.7" fill="rgb(122,122,122)" opacity="0.5"/><circle cx="623.9" cy="423.2" r="0.9" fill="rgb(128,128,128)" opacity="0.5"/><circle cx="611.2" cy="425.4" r="0.8" fill="rgb(113,113,113)" opacity="0.5"/><circle cx="616.1" cy="432.1" r="0.6" fill="rgb(95,95,95)" opacity="0.5"/><circle cx="568.2" cy="426.8" r="0.7" fill="rgb(115,115,115)" opacity="0.5"/><circle cx="592" cy="432.9" r="0.5" fill="rgb(96,96,96)" opacity="0.5"/><circle cx="484.3" cy="426.5" r="0.7" fill="rgb(93,93,93)" opacity="0.5"/><circle cx="643.1" cy="433.7" r="0.5" fill="rgb(112,112,112)" opacity="0.5"/><circle cx="539" cy="424.3" r="0.8" fill="rgb(104,104,104)" opacity="0.5"/><circle cx="579.8" cy="428.7" r="0.9" fill="rgb(95,95,95)" opacity="0.5"/><circle cx="647.4" cy="424.2" r="0.8" fill="rgb(143,143,143)" opacity="0.5"/><circle cx="594.7" cy="426.2" r="0.5" fill="rgb(102,102,102)" opacity="0.5"/><circle cx="612.4" cy="433.8" r="0.5" fill="rgb(132,132,132)" opacity="0.5"/><circle cx="526.1" cy="425.2" r="0.7" fill="rgb(126,126,126)" opacity="0.5"/><circle cx="483.5" cy="417.5" r="0.9" fill="rgb(100,100,100)" opacity="0.5"/><circle cx="495" cy="416.5" r="0.6" fill="rgb(146,146,146)" opacity="0.5"/><circle cx="645.7" cy="433" r="0.4" fill="rgb(135,135,135)" opacity="0.5"/><circle cx="560.5" cy="429.6" r="0.8" fill="rgb(113,113,113)" opacity="0.5"/><circle cx="676.4" cy="423.4" r="0.8" fill="rgb(98,98,98)" opacity="0.5"/><circle cx="486.3" cy="427.1" r="0.9" fill="rgb(109,109,109)" opacity="0.5"/><circle cx="643.5" cy="430.9" r="0.7" fill="rgb(143,143,143)" opacity="0.5"/><circle cx="544.4" cy="426.3" r="0.9" fill="rgb(119,119,119)" opacity="0.5"/><circle cx="495.7" cy="423.1" r="0.7" fill="rgb(104,104,104)" opacity="0.5"/><circle cx="590.9" cy="421.7" r="0.7" fill="rgb(95,95,95)" opacity="0.5"/><circle cx="492.7" cy="416.1" r="0.9" fill="rgb(150,150,150)" opacity="0.5"/><circle cx="500.3" cy="433.9" r="0.7" fill="rgb(112,112,112)" opacity="0.5"/><circle cx="494.4" cy="422.7" r="0.8" fill="rgb(145,145,145)" opacity="0.5"/><circle cx="569.7" cy="326" r="0.9" fill="url(#bub)"/><circle cx="558.7" cy="326.3" r="1.5" fill="url(#bub)"/><circle cx="536.2" cy="326.3" r="1" fill="url(#bub)"/><circle cx="677.2" cy="327.1" r="1.6" fill="url(#bub)"/><circle cx="667" cy="327.2" r="1.5" fill="url(#bub)"/><circle cx="519.2" cy="327.2" r="1.1" fill="url(#bub)"/><circle cx="533" cy="327.6" r="1.1" fill="url(#bub)"/><circle cx="601.6" cy="327.6" r="1" fill="url(#bub)"/><circle cx="657.2" cy="328" r="1.3" fill="url(#bub)"/><circle cx="475.4" cy="328.1" r="0.7" fill="url(#bub)"/><circle cx="504.7" cy="328.2" r="1" fill="url(#bub)"/><circle cx="548.1" cy="328.3" r="1.5" fill="url(#bub)"/><circle cx="527.6" cy="328.6" r="0.7" fill="url(#bub)"/><circle cx="485.1" cy="329.1" r="1.3" fill="url(#bub)"/><circle cx="588.5" cy="329.2" r="1.4" fill="url(#bub)"/><circle cx="669.4" cy="329.5" r="1.5" fill="url(#bub)"/><circle cx="500.7" cy="329.9" r="1.1" fill="url(#bub)"/><circle cx="506.6" cy="330.2" r="1" fill="url(#bub)"/><circle cx="560.4" cy="330.3" r="0.7" fill="url(#bub)"/><circle cx="524.9" cy="331.2" r="1.4" fill="url(#bub)"/><circle cx="554" cy="332.6" r="1.2" fill="url(#bub)"/><circle cx="559.8" cy="332.8" r="1" fill="url(#bub)"/><circle cx="535.8" cy="333.1" r="1.5" fill="url(#bub)"/><circle cx="613.9" cy="333.4" r="0.7" fill="url(#bub)"/><circle cx="676.9" cy="334.5" r="0.7" fill="url(#bub)"/><circle cx="672.3" cy="334.5" r="1" fill="url(#bub)"/><circle cx="540.4" cy="335.1" r="0.7" fill="url(#bub)"/><circle cx="645.1" cy="337" r="1.2" fill="url(#bub)"/><circle cx="489.8" cy="337" r="1" fill="url(#bub)"/><circle cx="476.3" cy="337.1" r="0.9" fill="url(#bub)"/><circle cx="581.1" cy="337.1" r="1.1" fill="url(#bub)"/><circle cx="602.9" cy="337.2" r="1.5" fill="url(#bub)"/><circle cx="507.6" cy="338" r="1.6" fill="url(#bub)"/><circle cx="599.3" cy="338.2" r="1.3" fill="url(#bub)"/><circle cx="490.4" cy="338.8" r="0.7" fill="url(#bub)"/><circle cx="500" cy="338.9" r="0.7" fill="url(#bub)"/><circle cx="639.6" cy="339" r="0.9" fill="url(#bub)"/><circle cx="541.2" cy="339.3" r="1.2" fill="url(#bub)"/><circle cx="667.4" cy="341.7" r="1.5" fill="url(#bub)"/><circle cx="470.6" cy="341.9" r="1.2" fill="url(#bub)"/><circle cx="541.8" cy="342.3" r="1.4" fill="url(#bub)"/><circle cx="479" cy="343.1" r="1.5" fill="url(#bub)"/><circle cx="557" cy="343.3" r="1" fill="url(#bub)"/><circle cx="522.3" cy="343.5" r="1.4" fill="url(#bub)"/><circle cx="656.4" cy="344.3" r="1.4" fill="url(#bub)"/><circle cx="482.2" cy="344.8" r="0.9" fill="url(#bub)"/><circle cx="579.8" cy="345.2" r="1.2" fill="url(#bub)"/><circle cx="519.1" cy="345.6" r="0.8" fill="url(#bub)"/><circle cx="526" cy="346.7" r="1.5" fill="url(#bub)"/><circle cx="541.7" cy="347.2" r="1.2" fill="url(#bub)"/><circle cx="525.7" cy="347.2" r="1.2" fill="url(#bub)"/><circle cx="518" cy="347.2" r="0.7" fill="url(#bub)"/><circle cx="513" cy="347.3" r="1.3" fill="url(#bub)"/><circle cx="666.8" cy="347.6" r="1.3" fill="url(#bub)"/><circle cx="665.7" cy="347.8" r="0.7" fill="url(#bub)"/><circle cx="521.4" cy="348" r="1.5" fill="url(#bub)"/><circle cx="652.4" cy="349.5" r="1.4" fill="url(#bub)"/><circle cx="559.5" cy="349.8" r="1.1" fill="url(#bub)"/><circle cx="579.3" cy="351.6" r="0.8" fill="url(#bub)"/><circle cx="514" cy="352.2" r="1" fill="url(#bub)"/><circle cx="469.2" cy="352.4" r="1.3" fill="url(#bub)"/><circle cx="476.1" cy="353.3" r="1.3" fill="url(#bub)"/><circle cx="479.4" cy="354" r="1" fill="url(#bub)"/><circle cx="654" cy="354.5" r="1.3" fill="url(#bub)"/><circle cx="664.9" cy="354.8" r="1" fill="url(#bub)"/><circle cx="566.2" cy="355.2" r="1.3" fill="url(#bub)"/><circle cx="562.3" cy="355.4" r="1.3" fill="url(#bub)"/><circle cx="658" cy="355.7" r="1.5" fill="url(#bub)"/><circle cx="509.2" cy="356.3" r="1.2" fill="url(#bub)"/><circle cx="502.6" cy="356.4" r="0.9" fill="url(#bub)"/><circle cx="658.3" cy="356.9" r="1.4" fill="url(#bub)"/><circle cx="590" cy="356.9" r="1.1" fill="url(#bub)"/><circle cx="547.8" cy="357.7" r="1" fill="url(#bub)"/><circle cx="515.2" cy="357.8" r="1" fill="url(#bub)"/><circle cx="514.6" cy="357.9" r="0.7" fill="url(#bub)"/><circle cx="581.6" cy="358.4" r="1.4" fill="url(#bub)"/><circle cx="492.5" cy="358.6" r="1.4" fill="url(#bub)"/><circle cx="642.5" cy="359.2" r="1.5" fill="url(#bub)"/><circle cx="667.4" cy="359.8" r="0.9" fill="url(#bub)"/><circle cx="632.5" cy="359.9" r="1.1" fill="url(#bub)"/><circle cx="614.7" cy="360.3" r="0.9" fill="url(#bub)"/><circle cx="563.4" cy="360.6" r="1.1" fill="url(#bub)"/><circle cx="583.6" cy="361.1" r="0.7" fill="url(#bub)"/><circle cx="557.1" cy="361.2" r="0.9" fill="url(#bub)"/><circle cx="586.4" cy="361.4" r="0.9" fill="url(#bub)"/><circle cx="641.9" cy="361.5" r="0.6" fill="url(#bub)"/><circle cx="598.9" cy="362.2" r="1.5" fill="url(#bub)"/><circle cx="612.5" cy="362.4" r="1.5" fill="url(#bub)"/><circle cx="486.9" cy="363" r="1.4" fill="url(#bub)"/><circle cx="567.3" cy="364.6" r="0.9" fill="url(#bub)"/><circle cx="555.4" cy="364.8" r="0.7" fill="url(#bub)"/><circle cx="521.1" cy="365.1" r="1.2" fill="url(#bub)"/><circle cx="541.5" cy="365.7" r="1.2" fill="url(#bub)"/><circle cx="501" cy="366.1" r="1.4" fill="url(#bub)"/><circle cx="585" cy="367.2" r="1.1" fill="url(#bub)"/><circle cx="585.4" cy="367.8" r="1.5" fill="url(#bub)"/><circle cx="618.9" cy="367.9" r="1" fill="url(#bub)"/><circle cx="470.5" cy="368.2" r="0.8" fill="url(#bub)"/><circle cx="641.1" cy="368.4" r="1.1" fill="url(#bub)"/><circle cx="489.1" cy="368.7" r="1" fill="url(#bub)"/><circle cx="476.2" cy="369.2" r="1" fill="url(#bub)"/><circle cx="627.5" cy="369.2" r="1" fill="url(#bub)"/><circle cx="664.4" cy="370.5" r="0.7" fill="url(#bub)"/><circle cx="590" cy="370.8" r="1.2" fill="url(#bub)"/><circle cx="574" cy="371.3" r="1.1" fill="url(#bub)"/><circle cx="646.8" cy="372.1" r="1.1" fill="url(#bub)"/><circle cx="551.1" cy="372.4" r="1.6" fill="url(#bub)"/><circle cx="586.6" cy="372.6" r="1.2" fill="url(#bub)"/><circle cx="642.1" cy="373.6" r="1.2" fill="url(#bub)"/><circle cx="503.4" cy="373.6" r="0.6" fill="url(#bub)"/><circle cx="676.2" cy="374.5" r="1.2" fill="url(#bub)"/><circle cx="655.1" cy="375.1" r="1" fill="url(#bub)"/><circle cx="620.9" cy="375.4" r="0.9" fill="url(#bub)"/><circle cx="573.5" cy="375.6" r="0.7" fill="url(#bub)"/><circle cx="647" cy="375.6" r="1.1" fill="url(#bub)"/><circle cx="566.7" cy="375.8" r="1" fill="url(#bub)"/><circle cx="618.9" cy="375.9" r="1" fill="url(#bub)"/><circle cx="566" cy="376.3" r="0.6" fill="url(#bub)"/><circle cx="663.6" cy="376.4" r="0.8" fill="url(#bub)"/><circle cx="550.3" cy="376.6" r="1.4" fill="url(#bub)"/><circle cx="554.9" cy="376.8" r="0.8" fill="url(#bub)"/><circle cx="614.1" cy="376.9" r="1.4" fill="url(#bub)"/><circle cx="586.8" cy="377.1" r="1.5" fill="url(#bub)"/><circle cx="625.9" cy="377.3" r="1.1" fill="url(#bub)"/><circle cx="513.9" cy="377.8" r="1.5" fill="url(#bub)"/><circle cx="577.2" cy="378" r="1.5" fill="url(#bub)"/><circle cx="667.9" cy="378.1" r="1.4" fill="url(#bub)"/><circle cx="468.7" cy="378.9" r="0.6" fill="url(#bub)"/><circle cx="527.6" cy="379.4" r="1.6" fill="url(#bub)"/><circle cx="672.9" cy="379.6" r="1.3" fill="url(#bub)"/><circle cx="566.5" cy="381.2" r="1.1" fill="url(#bub)"/><circle cx="538.6" cy="381.7" r="0.8" fill="url(#bub)"/><circle cx="583.5" cy="381.8" r="1.4" fill="url(#bub)"/><circle cx="491.1" cy="382.7" r="1.3" fill="url(#bub)"/><circle cx="652.4" cy="382.8" r="1.5" fill="url(#bub)"/><circle cx="577.3" cy="382.8" r="0.7" fill="url(#bub)"/><circle cx="576.4" cy="383.1" r="1" fill="url(#bub)"/><circle cx="520.4" cy="383.3" r="1.1" fill="url(#bub)"/><circle cx="507.5" cy="384.3" r="0.8" fill="url(#bub)"/><circle cx="468.3" cy="384.4" r="1.5" fill="url(#bub)"/><circle cx="503.2" cy="385.1" r="1" fill="url(#bub)"/><circle cx="590.4" cy="385.5" r="1.3" fill="url(#bub)"/><circle cx="636.8" cy="386.1" r="1.5" fill="url(#bub)"/><circle cx="527.6" cy="386.4" r="1.2" fill="url(#bub)"/><circle cx="590.5" cy="387.5" r="1.3" fill="url(#bub)"/><circle cx="467.9" cy="387.6" r="1.2" fill="url(#bub)"/><circle cx="648" cy="387.8" r="1.1" fill="url(#bub)"/><circle cx="605" cy="387.9" r="1.1" fill="url(#bub)"/><circle cx="513.9" cy="388" r="0.8" fill="url(#bub)"/><circle cx="581.1" cy="388.3" r="1.6" fill="url(#bub)"/><circle cx="588" cy="388.4" r="0.7" fill="url(#bub)"/><circle cx="589.8" cy="389.3" r="1" fill="url(#bub)"/><circle cx="632.7" cy="390" r="0.8" fill="url(#bub)"/><circle cx="578.9" cy="390.5" r="1.2" fill="url(#bub)"/><circle cx="677.6" cy="390.9" r="1.3" fill="url(#bub)"/><circle cx="557.2" cy="391.2" r="1.4" fill="url(#bub)"/><circle cx="643.5" cy="392.1" r="1.1" fill="url(#bub)"/><circle cx="570.9" cy="392.7" r="0.9" fill="url(#bub)"/><circle cx="657.7" cy="393.6" r="1.2" fill="url(#bub)"/><circle cx="543.3" cy="393.6" r="0.7" fill="url(#bub)"/><circle cx="536.7" cy="393.9" r="1.4" fill="url(#bub)"/><circle cx="669.1" cy="394.2" r="1.3" fill="url(#bub)"/><circle cx="581.4" cy="395.2" r="1" fill="url(#bub)"/><circle cx="630.7" cy="395.3" r="0.7" fill="url(#bub)"/><circle cx="495.5" cy="396.9" r="1.5" fill="url(#bub)"/><circle cx="635.7" cy="396.9" r="0.7" fill="url(#bub)"/><circle cx="541.3" cy="397" r="1" fill="url(#bub)"/><circle cx="619.2" cy="397.4" r="0.7" fill="url(#bub)"/><circle cx="629.3" cy="398.8" r="0.7" fill="url(#bub)"/><circle cx="659.6" cy="399.4" r="1.2" fill="url(#bub)"/><circle cx="669.2" cy="399.5" r="1.1" fill="url(#bub)"/><circle cx="580.8" cy="399.5" r="0.8" fill="url(#bub)"/><circle cx="606.7" cy="399.6" r="1.4" fill="url(#bub)"/><circle cx="550.2" cy="400.2" r="1.6" fill="url(#bub)"/><circle cx="614.5" cy="400.6" r="0.9" fill="url(#bub)"/><circle cx="633.4" cy="401" r="1.3" fill="url(#bub)"/><circle cx="559.1" cy="401.2" r="1.2" fill="url(#bub)"/><circle cx="498.4" cy="401.8" r="0.9" fill="url(#bub)"/><circle cx="481.8" cy="401.9" r="0.9" fill="url(#bub)"/><circle cx="618.5" cy="402.2" r="0.6" fill="url(#bub)"/><circle cx="484.9" cy="402.6" r="0.8" fill="url(#bub)"/><circle cx="664.3" cy="403.8" r="0.7" fill="url(#bub)"/><circle cx="563.8" cy="404.4" r="1.5" fill="url(#bub)"/><circle cx="649.5" cy="405.6" r="0.7" fill="url(#bub)"/><circle cx="499.1" cy="405.7" r="1.4" fill="url(#bub)"/><circle cx="579.4" cy="407" r="1.6" fill="url(#bub)"/><circle cx="628.2" cy="407.3" r="1.3" fill="url(#bub)"/><circle cx="645.4" cy="407.9" r="1.5" fill="url(#bub)"/><circle cx="518.2" cy="409.2" r="1.2" fill="url(#bub)"/><circle cx="483" cy="409.4" r="1.2" fill="url(#bub)"/><circle cx="571.1" cy="409.4" r="0.9" fill="url(#bub)"/><circle cx="476.6" cy="409.9" r="0.9" fill="url(#bub)"/><circle cx="492.8" cy="410" r="1" fill="url(#bub)"/><circle cx="502.5" cy="410.2" r="1.3" fill="url(#bub)"/><circle cx="649.4" cy="410.5" r="1.3" fill="url(#bub)"/><circle cx="587" cy="411.1" r="1.6" fill="url(#bub)"/><circle cx="654.2" cy="411.5" r="1.2" fill="url(#bub)"/><circle cx="573.2" cy="412.2" r="1" fill="url(#bub)"/><circle cx="528.6" cy="412.2" r="0.7" fill="url(#bub)"/><circle cx="532.3" cy="413.1" r="0.9" fill="url(#bub)"/><ellipse cx="548" cy="405" rx="9" ry="9" fill="url(#bigb)" opacity="0.9"/><ellipse cx="583" cy="406" rx="6" ry="6" fill="url(#bigb)" opacity="0.9"/><ellipse cx="632" cy="402" rx="7" ry="7" fill="url(#bigb)" opacity="0.9"/><ellipse cx="471" cy="410" rx="5" ry="5" fill="url(#bigb)" opacity="0.9"/><ellipse cx="550" cy="371" rx="2.5" ry="2.5" fill="url(#bigb)" opacity="0.9"/><ellipse cx="515" cy="393" rx="3" ry="3" fill="url(#bigb)" opacity="0.9"/><ellipse cx="668" cy="410" rx="5" ry="5" fill="url(#bigb)" opacity="0.9"/><ellipse cx="527.6" cy="359.7" rx="3.2" ry="4" fill="url(#dspot)"/></g></g>
<line x1="467.2" y1="415.4" x2="678.1" y2="415.4" stroke="#fff" stroke-width="1.6" stroke-dasharray="5.8 5.9"/>
<text x="624.6" y="414" font-size="8.6" font-weight="bold" fill="#fff" textLength="42.4" lengthAdjust="spacingAndGlyphs">Interface</text>
<text x="598.9" y="431.6" font-size="8.6" font-weight="bold" fill="#fff" textLength="68.1" lengthAdjust="spacingAndGlyphs">S.S. electrode</text>
<text x="473" y="425.9" font-size="8.6" font-weight="bold" fill="#fff" textLength="27.9" lengthAdjust="spacingAndGlyphs">400 μm</text>
<rect x="476.8" y="428" width="14.5" height="3.6" fill="#fff"/>
<text x="53.3" y="198.06" font-size="9.6" font-weight="bold" textLength="43.4" lengthAdjust="spacingAndGlyphs">Φ = 5 μm</text>
<text x="386.5" y="196.96" font-size="9.6" font-weight="bold" textLength="48.5" lengthAdjust="spacingAndGlyphs">Φ = 10 μm</text>
<text x="49.5" y="321.66" font-size="9.6" font-weight="bold" textLength="48.5" lengthAdjust="spacingAndGlyphs">Φ = 30 μm</text>
<text x="386.5" y="323.76" font-size="9.6" font-weight="bold" textLength="48.5" lengthAdjust="spacingAndGlyphs">Φ = 50 μm</text>
<text x="-0.6" y="192.8" font-size="12" font-weight="bold">d</text>
<text x="-0.6" y="449.6" font-size="12" font-weight="bold">e</text>
<text x="84.8" y="453.08" font-size="10.5" font-weight="bold" textLength="107.5" lengthAdjust="spacingAndGlyphs">Increasing pore size</text>
<rect x="47.9" y="469.6" width="70.6" height="75.4" fill="#8eaadc"/>
<rect x="118.5" y="469.6" width="29" height="75.4" fill="#fee39b"/>
<rect x="147.5" y="469.6" width="42.2" height="75.4" fill="#8eaadc"/>
<rect x="189.7" y="469.6" width="27.4" height="75.4" fill="#bfbfbf"/>
<circle cx="155.1" cy="476.6" r="6.75" fill="#000"/>
<circle cx="155.1" cy="491.2" r="6.75" fill="#000"/>
<circle cx="155.1" cy="506.9" r="6.75" fill="#000"/>
<circle cx="155.1" cy="522" r="6.75" fill="#000"/>
<circle cx="155.1" cy="537.4" r="6.75" fill="#000"/>
<circle cx="168.8" cy="476.6" r="6.75" fill="#000"/>
<circle cx="168.8" cy="491.2" r="6.75" fill="#000"/>
<circle cx="168.8" cy="506.9" r="6.75" fill="#000"/>
<circle cx="168.8" cy="522" r="6.75" fill="#000"/>
<circle cx="168.8" cy="537.4" r="6.75" fill="#000"/>
<circle cx="182.5" cy="476.6" r="6.75" fill="#000"/>
<circle cx="182.5" cy="491.2" r="6.75" fill="#000"/>
<circle cx="182.5" cy="506.9" r="6.75" fill="#000"/>
<circle cx="182.5" cy="522" r="6.75" fill="#000"/>
<circle cx="182.5" cy="537.4" r="6.75" fill="#000"/>
<circle cx="196.5" cy="476.6" r="6.75" fill="#000"/>
<circle cx="196.5" cy="491.2" r="6.75" fill="#000"/>
<circle cx="196.5" cy="506.9" r="6.75" fill="#000"/>
<circle cx="196.5" cy="522" r="6.75" fill="#000"/>
<circle cx="196.5" cy="537.4" r="6.75" fill="#000"/>
<circle cx="210.2" cy="476.6" r="6.75" fill="#000"/>
<circle cx="210.2" cy="491.2" r="6.75" fill="#000"/>
<circle cx="210.2" cy="506.9" r="6.75" fill="#000"/>
<circle cx="210.2" cy="522" r="6.75" fill="#000"/>
<circle cx="210.2" cy="537.4" r="6.75" fill="#000"/>
<text x="24.5" y="459.04" font-size="9" fill="#c8102e" stroke="#c8102e" stroke-width="0.22" textLength="37.7" lengthAdjust="spacingAndGlyphs">Φ = 5 μm</text>
<text x="25.9" y="470.24" font-size="9" font-weight="bold" fill="#8eaadb" textLength="20" lengthAdjust="spacingAndGlyphs">KOH</text>
<text x="27.1" y="481.74" font-size="9" font-weight="bold" fill="#8eaadb" textLength="18" lengthAdjust="spacingAndGlyphs">(aq)</text>
<path d="M25.1,483.1 L42.7,483.1 L42.7,481.2 L47.9,485.2 L42.7,489.2 L42.7,487.3 L25.1,487.3 z" fill="#8eaadb"/>
<text x="27.4" y="514.42" font-size="9.5" font-weight="bold" fill="#c8102e">H<tspan font-size="6.5" dy="2">2</tspan><tspan dy="-2">O</tspan></text>
<text x="73.6" y="468.04" font-size="9" font-weight="bold" textLength="28.4" lengthAdjust="spacingAndGlyphs">Anode</text>
<text x="133.3" y="468.84" font-size="9" text-anchor="middle" font-weight="bold" textLength="20.5" lengthAdjust="spacingAndGlyphs">AEM</text>
<text x="167.4" y="468.04" font-size="9" font-weight="bold" textLength="36.8" lengthAdjust="spacingAndGlyphs">Cathode</text>
<g clip-path="url(#an1)" stroke="#000" stroke-width="2.5"><line x1="-59.1" y1="469.6" x2="-18.34" y2="545"/><line x1="-59.1" y1="469.6" x2="-99.86" y2="545"/><line x1="-44.4" y1="469.6" x2="-3.64" y2="545"/><line x1="-44.4" y1="469.6" x2="-85.16" y2="545"/><line x1="-29.7" y1="469.6" x2="11.06" y2="545"/><line x1="-29.7" y1="469.6" x2="-70.46" y2="545"/><line x1="-15" y1="469.6" x2="25.76" y2="545"/><line x1="-15" y1="469.6" x2="-55.76" y2="545"/><line x1="-0.3" y1="469.6" x2="40.46" y2="545"/><line x1="-0.3" y1="469.6" x2="-41.06" y2="545"/><line x1="14.4" y1="469.6" x2="55.16" y2="545"/><line x1="14.4" y1="469.6" x2="-26.36" y2="545"/><line x1="29.1" y1="469.6" x2="69.86" y2="545"/><line x1="29.1" y1="469.6" x2="-11.66" y2="545"/><line x1="43.8" y1="469.6" x2="84.56" y2="545"/><line x1="43.8" y1="469.6" x2="3.04" y2="545"/><line x1="58.5" y1="469.6" x2="99.26" y2="545"/><line x1="58.5" y1="469.6" x2="17.74" y2="545"/><line x1="73.2" y1="469.6" x2="113.96" y2="545"/><line x1="73.2" y1="469.6" x2="32.44" y2="545"/><line x1="87.9" y1="469.6" x2="128.66" y2="545"/><line x1="87.9" y1="469.6" x2="47.14" y2="545"/><line x1="102.6" y1="469.6" x2="143.36" y2="545"/><line x1="102.6" y1="469.6" x2="61.84" y2="545"/><line x1="117.3" y1="469.6" x2="158.06" y2="545"/><line x1="117.3" y1="469.6" x2="76.54" y2="545"/><line x1="132" y1="469.6" x2="172.76" y2="545"/><line x1="132" y1="469.6" x2="91.24" y2="545"/><line x1="146.7" y1="469.6" x2="187.46" y2="545"/><line x1="146.7" y1="469.6" x2="105.94" y2="545"/><line x1="161.4" y1="469.6" x2="202.16" y2="545"/><line x1="161.4" y1="469.6" x2="120.64" y2="545"/><line x1="176.1" y1="469.6" x2="216.86" y2="545"/><line x1="176.1" y1="469.6" x2="135.34" y2="545"/><line x1="190.8" y1="469.6" x2="231.56" y2="545"/><line x1="190.8" y1="469.6" x2="150.04" y2="545"/></g>
<rect x="115.3" y="469.6" width="3.2" height="75.4" fill="#000"/>
<ellipse cx="74.2" cy="476" rx="4.4" ry="4.4" fill="url(#eb)"/>
<line x1="75.3" y1="472.48" x2="73.76" y2="479.52" stroke="#a8a8a8" stroke-width="1.98" opacity="0.45"/>
<ellipse cx="61.8" cy="486.5" rx="4.4" ry="4.4" fill="url(#eb)"/>
<line x1="62.9" y1="482.98" x2="61.36" y2="490.02" stroke="#a8a8a8" stroke-width="1.98" opacity="0.45"/>
<ellipse cx="77.3" cy="486.5" rx="4.4" ry="4.4" fill="url(#eb)"/>
<line x1="78.4" y1="482.98" x2="76.86" y2="490.02" stroke="#a8a8a8" stroke-width="1.98" opacity="0.45"/>
<ellipse cx="96.6" cy="485.9" rx="4.4" ry="4.4" fill="url(#eb)"/>
<line x1="97.7" y1="482.38" x2="96.16" y2="489.42" stroke="#a8a8a8" stroke-width="1.98" opacity="0.45"/>
<ellipse cx="108.4" cy="494.6" rx="9.3" ry="3.7" fill="url(#eb)"/>
<line x1="110.73" y1="491.64" x2="107.47" y2="497.56" stroke="#a8a8a8" stroke-width="1.67" opacity="0.45"/>
<ellipse cx="78.6" cy="508.9" rx="4.4" ry="4.4" fill="url(#eb)"/>
<line x1="79.7" y1="505.38" x2="78.16" y2="512.42" stroke="#a8a8a8" stroke-width="1.98" opacity="0.45"/>
<ellipse cx="89.8" cy="510.2" rx="4.4" ry="4.4" fill="url(#eb)"/>
<line x1="90.9" y1="506.68" x2="89.36" y2="513.72" stroke="#a8a8a8" stroke-width="1.98" opacity="0.45"/>
<ellipse cx="68" cy="515.8" rx="4.4" ry="4.4" fill="url(#eb)"/>
<line x1="69.1" y1="512.28" x2="67.56" y2="519.32" stroke="#a8a8a8" stroke-width="1.98" opacity="0.45"/>
<ellipse cx="90.4" cy="526.9" rx="4.4" ry="4.4" fill="url(#eb)"/>
<line x1="91.5" y1="523.38" x2="89.96" y2="530.42" stroke="#a8a8a8" stroke-width="1.98" opacity="0.45"/>
<ellipse cx="106.6" cy="520.1" rx="8.7" ry="3.7" fill="url(#eb)"/>
<line x1="108.77" y1="517.14" x2="105.73" y2="523.06" stroke="#a8a8a8" stroke-width="1.67" opacity="0.45"/>
<ellipse cx="64.3" cy="529.4" rx="4.4" ry="4.4" fill="url(#eb)"/>
<line x1="65.4" y1="525.88" x2="63.86" y2="532.92" stroke="#a8a8a8" stroke-width="1.98" opacity="0.45"/>
<ellipse cx="70.5" cy="540.6" rx="8" ry="3.7" fill="url(#eb)"/>
<line x1="72.5" y1="537.64" x2="69.7" y2="543.56" stroke="#a8a8a8" stroke-width="1.67" opacity="0.45"/>
<line x1="49.5" y1="495.6" x2="88" y2="495.6" stroke="#c6889c" stroke-width="1.3" stroke-dasharray="5 4" marker-end="url(#pa)"/>
<line x1="49.5" y1="502.1" x2="116.5" y2="502.1" stroke="#c6889c" stroke-width="1.3" stroke-dasharray="5 4" marker-end="url(#pa)"/>
<line x1="49.5" y1="520.1" x2="88" y2="520.1" stroke="#c6889c" stroke-width="1.3" stroke-dasharray="5 4" marker-end="url(#pa)"/>
<line x1="49.5" y1="537.1" x2="114" y2="537.1" stroke="#c6889c" stroke-width="1.3" stroke-dasharray="5 4" marker-end="url(#pa)"/>
<line x1="36.8" y1="495.6" x2="42.9" y2="495.6" stroke="#c6889c" stroke-width="1.3"/>
<line x1="36.8" y1="502.1" x2="42.9" y2="502.1" stroke="#c6889c" stroke-width="1.3"/>
<line x1="36.8" y1="520.1" x2="42.9" y2="520.1" stroke="#c6889c" stroke-width="1.3"/>
<line x1="36.8" y1="537.1" x2="42.9" y2="537.1" stroke="#c6889c" stroke-width="1.3"/>
<g stroke="#e00000" stroke-width="3.0" stroke-linecap="round"><line x1="92.28" y1="492.38" x2="97.32" y2="497.42"/><line x1="92.28" y1="497.42" x2="97.32" y2="492.38"/></g>
<g stroke="#e00000" stroke-width="3.0" stroke-linecap="round"><line x1="90.38" y1="516.98" x2="95.42" y2="522.02"/><line x1="90.38" y1="522.02" x2="95.42" y2="516.98"/></g>
<text x="101" y="523.16" font-size="8.5" font-weight="bold">O<tspan font-size="6" dy="2">2</tspan></text>
<text x="125.5" y="485.32" font-size="9.5" fill="#f4b183" stroke="#f4b183" stroke-width="0.22">H<tspan font-size="6.5" dy="2">2</tspan><tspan dy="-2">O</tspan></text>
<path d="M122,489.7 L139.8,489.7 L139.8,487.5 L144.8,491.5 L139.8,495.5 L139.8,493.3 L122,493.3 z" fill="#f4b183"/>
<path d="M143.7,513.9 L126.5,513.9 L126.5,511.7 L121.5,515.7 L126.5,519.7 L126.5,517.5 L143.7,517.5 z" fill="#7030a0"/>
<text x="126.7" y="528.62" font-size="9.5" font-weight="bold" fill="#7030a0">OH<tspan font-size="6" dy="-3">-</tspan></text>
<ellipse cx="162.3" cy="481.7" rx="4.3" ry="4.3" fill="url(#eb)"/>
<line x1="163.38" y1="478.26" x2="161.87" y2="485.14" stroke="#a8a8a8" stroke-width="1.94" opacity="0.45"/>
<ellipse cx="176.7" cy="476.6" rx="4" ry="4.3" fill="url(#eb)"/>
<line x1="177.7" y1="473.16" x2="176.3" y2="480.04" stroke="#a8a8a8" stroke-width="1.8" opacity="0.45"/>
<ellipse cx="176" cy="485.3" rx="4.3" ry="4.3" fill="url(#eb)"/>
<line x1="177.07" y1="481.86" x2="175.57" y2="488.74" stroke="#a8a8a8" stroke-width="1.94" opacity="0.45"/>
<ellipse cx="164.5" cy="498.2" rx="10" ry="4" fill="url(#eb)"/>
<line x1="167" y1="495" x2="163.5" y2="501.4" stroke="#a8a8a8" stroke-width="1.8" opacity="0.45"/>
<ellipse cx="183.2" cy="503.3" rx="7.2" ry="3.6" fill="url(#eb)"/>
<line x1="185" y1="500.42" x2="182.48" y2="506.18" stroke="#a8a8a8" stroke-width="1.62" opacity="0.45"/>
<ellipse cx="178.2" cy="513.4" rx="4" ry="4" fill="url(#eb)"/>
<line x1="179.2" y1="510.2" x2="177.8" y2="516.6" stroke="#a8a8a8" stroke-width="1.8" opacity="0.45"/>
<ellipse cx="161.6" cy="517" rx="4" ry="4" fill="url(#eb)"/>
<line x1="162.6" y1="513.8" x2="161.2" y2="520.2" stroke="#a8a8a8" stroke-width="1.8" opacity="0.45"/>
<ellipse cx="170.3" cy="529.9" rx="8" ry="4" fill="url(#eb)"/>
<line x1="172.3" y1="526.7" x2="169.5" y2="533.1" stroke="#a8a8a8" stroke-width="1.8" opacity="0.45"/>
<ellipse cx="188.3" cy="529.2" rx="4" ry="4" fill="url(#eb)"/>
<line x1="189.3" y1="526" x2="187.9" y2="532.4" stroke="#a8a8a8" stroke-width="1.8" opacity="0.45"/>
<ellipse cx="160.9" cy="540.7" rx="8" ry="4" fill="url(#eb)"/>
<line x1="162.9" y1="537.5" x2="160.1" y2="543.9" stroke="#a8a8a8" stroke-width="1.8" opacity="0.45"/>
<text x="160.9" y="501.26" font-size="8.5" font-weight="bold" fill="#1db954">H<tspan font-size="6" dy="2">2</tspan></text>
<line x1="94.8" y1="552.5" x2="126.6" y2="552.5" stroke="#c6889c" stroke-width="1.3" stroke-dasharray="5 4" marker-end="url(#pa)"/>
<text x="129.7" y="556.45" font-size="9.3" font-weight="bold" fill="#c8102e" textLength="21.2" lengthAdjust="spacingAndGlyphs">Flow</text>
<g stroke="#e00000" stroke-width="3.0" stroke-linecap="round"><line x1="161.96" y1="551.46" x2="166.04" y2="555.54"/><line x1="161.96" y1="555.54" x2="166.04" y2="551.46"/></g>
<text x="168.9" y="557.15" font-size="9.3" font-weight="bold" fill="#c8102e" textLength="39.2" lengthAdjust="spacingAndGlyphs">Blocking</text>
<rect x="46.3" y="568" width="70.2" height="74.6" fill="#8eaadc"/>
<rect x="116.5" y="568" width="29.5" height="74.6" fill="#fee39b"/>
<rect x="146" y="568" width="18.7" height="74.6" fill="#8eaadc"/>
<rect x="164.7" y="568" width="50.8" height="74.6" fill="#bfbfbf"/>
<circle cx="153" cy="574.9" r="6.5" fill="#000"/>
<circle cx="153" cy="588.7" r="6.5" fill="#000"/>
<circle cx="153" cy="603.5" r="6.5" fill="#000"/>
<circle cx="153" cy="618.3" r="6.5" fill="#000"/>
<circle cx="153" cy="633.1" r="6.5" fill="#000"/>
<circle cx="166.8" cy="574.9" r="6.5" fill="#000"/>
<circle cx="166.8" cy="588.7" r="6.5" fill="#000"/>
<circle cx="166.8" cy="603.5" r="6.5" fill="#000"/>
<circle cx="166.8" cy="618.3" r="6.5" fill="#000"/>
<circle cx="166.8" cy="633.1" r="6.5" fill="#000"/>
<circle cx="180.6" cy="574.9" r="6.5" fill="#000"/>
<circle cx="180.6" cy="588.7" r="6.5" fill="#000"/>
<circle cx="180.6" cy="603.5" r="6.5" fill="#000"/>
<circle cx="180.6" cy="618.3" r="6.5" fill="#000"/>
<circle cx="180.6" cy="633.1" r="6.5" fill="#000"/>
<circle cx="194.3" cy="574.9" r="6.5" fill="#000"/>
<circle cx="194.3" cy="588.7" r="6.5" fill="#000"/>
<circle cx="194.3" cy="603.5" r="6.5" fill="#000"/>
<circle cx="194.3" cy="618.3" r="6.5" fill="#000"/>
<circle cx="194.3" cy="633.1" r="6.5" fill="#000"/>
<circle cx="208" cy="574.9" r="6.5" fill="#000"/>
<circle cx="208" cy="588.7" r="6.5" fill="#000"/>
<circle cx="208" cy="603.5" r="6.5" fill="#000"/>
<circle cx="208" cy="618.3" r="6.5" fill="#000"/>
<circle cx="208" cy="633.1" r="6.5" fill="#000"/>
<text x="20.1" y="556.34" font-size="9" fill="#c8102e" stroke="#c8102e" stroke-width="0.22" textLength="43.3" lengthAdjust="spacingAndGlyphs">Φ = 50 μm</text>
<text x="24.2" y="568.14" font-size="9" font-weight="bold" fill="#8eaadb" textLength="20" lengthAdjust="spacingAndGlyphs">KOH</text>
<text x="25.4" y="579.14" font-size="9" font-weight="bold" fill="#8eaadb" textLength="18" lengthAdjust="spacingAndGlyphs">(aq)</text>
<path d="M23.4,580.5 L41.1,580.5 L41.1,578.6 L46.3,582.6 L41.1,586.6 L41.1,584.7 L23.4,584.7 z" fill="#8eaadb"/>
<text x="25.7" y="612.62" font-size="9.5" font-weight="bold" fill="#c8102e">H<tspan font-size="6.5" dy="2">2</tspan><tspan dy="-2">O</tspan></text>
<text x="71.8" y="566.74" font-size="9" font-weight="bold" textLength="28.4" lengthAdjust="spacingAndGlyphs">Anode</text>
<text x="131" y="567.54" font-size="9" text-anchor="middle" font-weight="bold" textLength="20.5" lengthAdjust="spacingAndGlyphs">AEM</text>
<text x="166.8" y="566.74" font-size="9" font-weight="bold" textLength="36.8" lengthAdjust="spacingAndGlyphs">Cathode</text>
<g clip-path="url(#an2)" stroke="#000" stroke-width="2.7"><line x1="47.1" y1="578.3" x2="80.1" y2="641.7"/><line x1="47.1" y1="608.2" x2="70.7" y2="569"/><line x1="70.7" y1="569" x2="107.4" y2="641.7"/><line x1="98.7" y1="569" x2="63.9" y2="635.5"/><line x1="98.7" y1="569" x2="116.1" y2="603.8"/><line x1="47.1" y1="624.3" x2="57.1" y2="641.7"/><line x1="116.1" y1="602.6" x2="93.8" y2="642.4"/></g>
<ellipse cx="72.6" cy="608.8" rx="6.8" ry="6.8" fill="url(#eb)"/>
<line x1="74.3" y1="603.36" x2="71.92" y2="614.24" stroke="#a8a8a8" stroke-width="3.06" opacity="0.45"/>
<ellipse cx="60.8" cy="628" rx="6.8" ry="6.8" fill="url(#eb)"/>
<line x1="62.5" y1="622.56" x2="60.12" y2="633.44" stroke="#a8a8a8" stroke-width="3.06" opacity="0.45"/>
<ellipse cx="85" cy="629.3" rx="6.5" ry="6.5" fill="url(#eb)"/>
<line x1="86.62" y1="624.1" x2="84.35" y2="634.5" stroke="#a8a8a8" stroke-width="2.93" opacity="0.45"/>
<ellipse cx="107.4" cy="621.2" rx="7.5" ry="12.4" fill="url(#eb)"/>
<line x1="109.28" y1="611.28" x2="106.65" y2="631.12" stroke="#a8a8a8" stroke-width="3.38" opacity="0.45"/>
<ellipse cx="107.4" cy="588.9" rx="8" ry="8" fill="url(#eb)"/>
<line x1="109.4" y1="582.5" x2="106.6" y2="595.3" stroke="#a8a8a8" stroke-width="3.6" opacity="0.45"/>
<line x1="49" y1="570.5" x2="115" y2="570.5" stroke="#c6889c" stroke-width="1.3" stroke-dasharray="5 4" marker-end="url(#pa)"/>
<line x1="49" y1="593.9" x2="92.5" y2="593.9" stroke="#c6889c" stroke-width="1.3" stroke-dasharray="5 4" marker-end="url(#pa)"/>
<line x1="49" y1="601.3" x2="115" y2="601.3" stroke="#c6889c" stroke-width="1.3" stroke-dasharray="5 4" marker-end="url(#pa)"/>
<line x1="49" y1="617.5" x2="92.5" y2="617.5" stroke="#c6889c" stroke-width="1.3" stroke-dasharray="5 4" marker-end="url(#pa)"/>
<line x1="34.5" y1="593.9" x2="40.5" y2="593.9" stroke="#c6889c" stroke-width="1.3"/>
<line x1="34.5" y1="601.3" x2="40.5" y2="601.3" stroke="#c6889c" stroke-width="1.3"/>
<line x1="34.5" y1="617.5" x2="40.5" y2="617.5" stroke="#c6889c" stroke-width="1.3"/>
<line x1="33" y1="569.5" x2="39" y2="569.5" stroke="#c6889c" stroke-width="1.3"/>
<g stroke="#e00000" stroke-width="3.0" stroke-linecap="round"><line x1="93.68" y1="591.38" x2="98.72" y2="596.42"/><line x1="93.68" y1="596.42" x2="98.72" y2="591.38"/></g>
<g stroke="#e00000" stroke-width="3.0" stroke-linecap="round"><line x1="93.68" y1="614.98" x2="98.72" y2="620.02"/><line x1="93.68" y1="620.02" x2="98.72" y2="614.98"/></g>
<text x="102" y="592.06" font-size="8.5" font-weight="bold">O<tspan font-size="6" dy="2">2</tspan></text>
<text x="123.4" y="583.22" font-size="9.5" fill="#f4b183" stroke="#f4b183" stroke-width="0.22">H<tspan font-size="6.5" dy="2">2</tspan><tspan dy="-2">O</tspan></text>
<path d="M120.2,587.3 L137.4,587.3 L137.4,585.1 L142.4,589.1 L137.4,593.1 L137.4,590.9 L120.2,590.9 z" fill="#f4b183"/>
<path d="M141.8,611.2 L124.2,611.2 L124.2,609 L119.2,613 L124.2,617 L124.2,614.8 L141.8,614.8 z" fill="#7030a0"/>
<text x="124.9" y="628.12" font-size="9.5" font-weight="bold" fill="#7030a0">OH<tspan font-size="6" dy="-3">-</tspan></text>
<ellipse cx="160" cy="579.2" rx="4.2" ry="4.2" fill="url(#eb)"/>
<line x1="161.05" y1="575.84" x2="159.58" y2="582.56" stroke="#a8a8a8" stroke-width="1.89" opacity="0.45"/>
<ellipse cx="158.3" cy="597.2" rx="8.5" ry="4.2" fill="url(#eb)"/>
<line x1="160.43" y1="593.84" x2="157.45" y2="600.56" stroke="#a8a8a8" stroke-width="1.89" opacity="0.45"/>
<ellipse cx="160" cy="615.1" rx="3.8" ry="3.8" fill="url(#eb)"/>
<line x1="160.95" y1="612.06" x2="159.62" y2="618.14" stroke="#a8a8a8" stroke-width="1.71" opacity="0.45"/>
<ellipse cx="158.3" cy="632.1" rx="8.5" ry="3.8" fill="url(#eb)"/>
<line x1="160.43" y1="629.06" x2="157.45" y2="635.14" stroke="#a8a8a8" stroke-width="1.71" opacity="0.45"/>
<ellipse cx="159.4" cy="642.7" rx="8.5" ry="3.2" fill="url(#eb)"/>
<line x1="161.53" y1="640.14" x2="158.55" y2="645.26" stroke="#a8a8a8" stroke-width="1.44" opacity="0.45"/>
<text x="154.5" y="600.66" font-size="8.5" font-weight="bold" fill="#1db954">H<tspan font-size="6" dy="2">2</tspan></text>
<text x="234" y="448.8" font-size="11.6" font-weight="bold">f</text>
<line x1="269.3" y1="635.1" x2="272.3" y2="635.1" stroke="#444" stroke-width="1"/>
<text x="266" y="638.99" font-size="10.8" text-anchor="end" stroke="#000" stroke-width="0.22" textLength="19.07" lengthAdjust="spacingAndGlyphs">0.00</text>
<line x1="269.3" y1="635.1" x2="269.3" y2="632.1" stroke="#444" stroke-width="1"/>
<text x="269.3" y="646.89" font-size="10.8" text-anchor="middle" stroke="#000" stroke-width="0.22" textLength="13.34" lengthAdjust="spacingAndGlyphs">0.0</text>
<line x1="269.3" y1="589.6" x2="272.3" y2="589.6" stroke="#444" stroke-width="1"/>
<text x="266" y="593.49" font-size="10.8" text-anchor="end" stroke="#000" stroke-width="0.22" textLength="19.07" lengthAdjust="spacingAndGlyphs">0.01</text>
<line x1="314.73" y1="635.1" x2="314.73" y2="632.1" stroke="#444" stroke-width="1"/>
<text x="314.73" y="646.89" font-size="10.8" text-anchor="middle" stroke="#000" stroke-width="0.22" textLength="13.34" lengthAdjust="spacingAndGlyphs">0.1</text>
<line x1="269.3" y1="544.1" x2="272.3" y2="544.1" stroke="#444" stroke-width="1"/>
<text x="266" y="547.99" font-size="10.8" text-anchor="end" stroke="#000" stroke-width="0.22" textLength="19.07" lengthAdjust="spacingAndGlyphs">0.02</text>
<line x1="360.16" y1="635.1" x2="360.16" y2="632.1" stroke="#444" stroke-width="1"/>
<text x="360.16" y="646.89" font-size="10.8" text-anchor="middle" stroke="#000" stroke-width="0.22" textLength="13.34" lengthAdjust="spacingAndGlyphs">0.2</text>
<line x1="269.3" y1="498.6" x2="272.3" y2="498.6" stroke="#444" stroke-width="1"/>
<text x="266" y="502.49" font-size="10.8" text-anchor="end" stroke="#000" stroke-width="0.22" textLength="19.07" lengthAdjust="spacingAndGlyphs">0.03</text>
<line x1="405.59" y1="635.1" x2="405.59" y2="632.1" stroke="#444" stroke-width="1"/>
<text x="405.59" y="646.89" font-size="10.8" text-anchor="middle" stroke="#000" stroke-width="0.22" textLength="13.34" lengthAdjust="spacingAndGlyphs">0.3</text>
<line x1="269.3" y1="453.1" x2="272.3" y2="453.1" stroke="#444" stroke-width="1"/>
<text x="266" y="456.99" font-size="10.8" text-anchor="end" stroke="#000" stroke-width="0.22" textLength="19.07" lengthAdjust="spacingAndGlyphs">0.04</text>
<line x1="451.02" y1="635.1" x2="451.02" y2="632.1" stroke="#444" stroke-width="1"/>
<text x="451.02" y="646.89" font-size="10.8" text-anchor="middle" stroke="#000" stroke-width="0.22" textLength="13.34" lengthAdjust="spacingAndGlyphs">0.4</text>
<line x1="269.3" y1="612.35" x2="271.1" y2="612.35" stroke="#444" stroke-width="1"/>
<line x1="292.01" y1="635.1" x2="292.01" y2="633.3" stroke="#444" stroke-width="1"/>
<line x1="269.3" y1="566.85" x2="271.1" y2="566.85" stroke="#444" stroke-width="1"/>
<line x1="337.45" y1="635.1" x2="337.45" y2="633.3" stroke="#444" stroke-width="1"/>
<line x1="269.3" y1="521.35" x2="271.1" y2="521.35" stroke="#444" stroke-width="1"/>
<line x1="382.88" y1="635.1" x2="382.88" y2="633.3" stroke="#444" stroke-width="1"/>
<line x1="269.3" y1="475.85" x2="271.1" y2="475.85" stroke="#444" stroke-width="1"/>
<line x1="428.31" y1="635.1" x2="428.31" y2="633.3" stroke="#444" stroke-width="1"/>
<text x="239.6" y="539.8" font-size="10.8" text-anchor="middle" stroke="#000" stroke-width="0.22" textLength="48.7" lengthAdjust="spacingAndGlyphs" transform="rotate(-90 239.6 539.8)">-Z" (Ω cm<tspan font-size="7" dy="-4">2</tspan><tspan dy="4">)</tspan></text>
<text x="360" y="656.49" font-size="10.8" text-anchor="middle" stroke="#000" stroke-width="0.22" textLength="45.2" lengthAdjust="spacingAndGlyphs">Z' (Ω cm<tspan font-size="7" dy="-4">2</tspan><tspan dy="4">)</tspan></text>
<polyline points="319.6,635.1 319.77,633.54 320,631.41 320.27,628.83 320.58,625.95 320.9,622.9 321.24,619.51 321.62,615.69 322.02,611.7 322.42,607.78 322.8,604.2 323.17,600.94 323.53,597.82 323.88,594.88 324.24,592.13 324.6,589.6 324.95,587.31 325.29,585.26 325.64,583.39 326,581.68 326.4,580.1 326.84,578.62 327.31,577.25 327.8,576.05 328.3,575.05 328.8,574.3 329.3,573.83 329.8,573.6 330.3,573.58 330.8,573.73 331.3,574 331.79,574.42 332.27,575.01 332.75,575.74 333.23,576.58 333.7,577.5 334.17,578.57 334.65,579.82 335.11,581.12 335.57,582.39 336,583.5 336.41,584.58 336.8,585.7 337.17,586.68 337.54,587.34 337.9,587.5 338.25,587.04 338.6,586.08 338.94,584.79 339.27,583.37 339.6,582 339.91,580.62 340.2,579.11 340.5,577.55 340.82,576.02 341.2,574.6 341.64,573.21 342.13,571.8 342.64,570.49 343.17,569.38 343.7,568.6 344.23,568.18 344.78,568.05 345.33,568.15 345.88,568.42 346.4,568.8 346.91,569.33 347.41,570.05 347.9,570.91 348.36,571.84 348.8,572.8 349.21,573.78 349.59,574.81 349.94,575.9 350.28,577.06 350.6,578.3 350.89,579.64 351.16,581.09 351.4,582.59 351.65,584.11 351.9,585.6 352.16,587.09 352.41,588.61 352.66,590.12 352.92,591.56 353.2,592.9 353.5,594.1 353.81,595.19 354.14,596.22 354.47,597.24 354.8,598.3 355.16,599.48 355.55,600.76 355.94,601.99 356.27,603.05 356.5,603.8" fill="none" stroke="#e46c7e" stroke-width="1.3"/>
<circle cx="320.9" cy="622.9" r="3.4" fill="url(#gb5)"/>
<circle cx="322.8" cy="604.2" r="3.4" fill="url(#gb5)"/>
<circle cx="324.6" cy="589.6" r="3.4" fill="url(#gb5)"/>
<circle cx="326.4" cy="580.1" r="3.4" fill="url(#gb5)"/>
<circle cx="327.15" cy="577.7" r="3.4" fill="url(#gb5)"/>
<circle cx="327.97" cy="575.71" r="3.4" fill="url(#gb5)"/>
<circle cx="328.8" cy="574.3" r="3.4" fill="url(#gb5)"/>
<circle cx="331.3" cy="574" r="3.4" fill="url(#gb5)"/>
<circle cx="332.51" cy="575.37" r="3.4" fill="url(#gb5)"/>
<circle cx="333.7" cy="577.5" r="3.4" fill="url(#gb5)"/>
<circle cx="334.29" cy="578.88" r="3.4" fill="url(#gb5)"/>
<circle cx="334.88" cy="580.47" r="3.4" fill="url(#gb5)"/>
<circle cx="335.45" cy="582.07" r="3.4" fill="url(#gb5)"/>
<circle cx="336" cy="583.5" r="3.4" fill="url(#gb5)"/>
<circle cx="336.99" cy="586.19" r="3.4" fill="url(#gb5)"/>
<circle cx="337.9" cy="587.5" r="3.4" fill="url(#gb5)"/>
<circle cx="338.48" cy="586.4" r="3.4" fill="url(#gb5)"/>
<circle cx="339.05" cy="584.32" r="3.4" fill="url(#gb5)"/>
<circle cx="339.6" cy="582" r="3.4" fill="url(#gb5)"/>
<circle cx="341.2" cy="574.6" r="3.4" fill="url(#gb5)"/>
<circle cx="341.76" cy="572.86" r="3.4" fill="url(#gb5)"/>
<circle cx="342.38" cy="571.14" r="3.4" fill="url(#gb5)"/>
<circle cx="343.04" cy="569.66" r="3.4" fill="url(#gb5)"/>
<circle cx="343.7" cy="568.6" r="3.4" fill="url(#gb5)"/>
<circle cx="346.4" cy="568.8" r="3.4" fill="url(#gb5)"/>
<circle cx="347.65" cy="570.48" r="3.4" fill="url(#gb5)"/>
<circle cx="348.8" cy="572.8" r="3.4" fill="url(#gb5)"/>
<circle cx="349.46" cy="574.46" r="3.4" fill="url(#gb5)"/>
<circle cx="350.06" cy="576.29" r="3.4" fill="url(#gb5)"/>
<circle cx="350.6" cy="578.3" r="3.4" fill="url(#gb5)"/>
<circle cx="351.9" cy="585.6" r="3.4" fill="url(#gb5)"/>
<circle cx="353.2" cy="592.9" r="3.4" fill="url(#gb5)"/>
<circle cx="353.71" cy="594.83" r="3.4" fill="url(#gb5)"/>
<circle cx="354.25" cy="596.56" r="3.4" fill="url(#gb5)"/>
<circle cx="354.8" cy="598.3" r="3.4" fill="url(#gb5)"/>
<circle cx="355.42" cy="600.33" r="3.4" fill="url(#gb5)"/>
<circle cx="356.05" cy="602.34" r="3.4" fill="url(#gb5)"/>
<circle cx="356.5" cy="603.8" r="3.4" fill="url(#gb5)"/>
<polyline points="353.4,635.1 353.48,633.53 353.59,631.39 353.73,628.78 353.9,625.82 354.1,622.6 354.34,618.93 354.62,614.74 354.93,610.33 355.26,605.98 355.6,602 355.97,598.35 356.38,594.83 356.8,591.5 357.22,588.4 357.6,585.6 357.94,583.15 358.24,581.02 358.54,579.12 358.85,577.34 359.2,575.6 359.58,573.88 359.98,572.26 360.41,570.74 360.85,569.32 361.3,568 361.77,566.78 362.26,565.64 362.77,564.62 363.28,563.73 363.8,563 364.32,562.42 364.85,561.98 365.39,561.68 365.94,561.52 366.5,561.5 367.08,561.64 367.68,561.93 368.29,562.35 368.9,562.88 369.5,563.5 370.1,564.24 370.7,565.12 371.31,566.08 371.91,567.06 372.5,568 373.11,569.09 373.75,570.38 374.37,571.56 374.93,572.37 375.4,572.5 375.75,571.74 376.01,570.27 376.22,568.43 376.4,566.56 376.6,565 376.81,563.77 377,562.65 377.2,561.59 377.39,560.56 377.6,559.5 377.82,558.42 378.04,557.35 378.27,556.28 378.52,555.23 378.8,554.2 379.11,553.18 379.45,552.18 379.81,551.2 380.19,550.24 380.6,549.3 381.04,548.36 381.51,547.43 382,546.53 382.5,545.7 383,545 383.51,544.4 384.03,543.87 384.55,543.44 385.08,543.14 385.6,543 386.12,543.04 386.65,543.23 387.17,543.55 387.69,543.98 388.2,544.5 388.7,545.1 389.2,545.8 389.69,546.6 390.16,547.5 390.6,548.5 391.01,549.6 391.39,550.8 391.76,552.1 392.12,553.5 392.5,555 392.9,556.66 393.31,558.49 393.72,560.39 394.12,562.26 394.5,564 394.92,565.45 395.38,566.68 395.8,567.93 396.1,569.45 396.2,571.5 396,574.47 395.57,578.21 395.03,582.09 394.53,585.53 394.2,587.9" fill="none" stroke="#8fb1f2" stroke-width="1.3"/>
<circle cx="354.1" cy="622.6" r="3.4" fill="url(#gb10)"/>
<circle cx="355.6" cy="602" r="3.4" fill="url(#gb10)"/>
<circle cx="357.6" cy="585.6" r="3.4" fill="url(#gb10)"/>
<circle cx="359.2" cy="575.6" r="3.4" fill="url(#gb10)"/>
<circle cx="361.3" cy="568" r="3.4" fill="url(#gb10)"/>
<circle cx="363.8" cy="563" r="3.4" fill="url(#gb10)"/>
<circle cx="366.5" cy="561.5" r="3.4" fill="url(#gb10)"/>
<circle cx="367.98" cy="562.14" r="3.4" fill="url(#gb10)"/>
<circle cx="369.5" cy="563.5" r="3.4" fill="url(#gb10)"/>
<circle cx="372.5" cy="568" r="3.4" fill="url(#gb10)"/>
<circle cx="375.4" cy="572.5" r="3.4" fill="url(#gb10)"/>
<circle cx="376.6" cy="565" r="3.4" fill="url(#gb10)"/>
<circle cx="377.6" cy="559.5" r="3.4" fill="url(#gb10)"/>
<circle cx="378.8" cy="554.2" r="3.4" fill="url(#gb10)"/>
<circle cx="380.6" cy="549.3" r="3.4" fill="url(#gb10)"/>
<circle cx="381.35" cy="547.74" r="3.4" fill="url(#gb10)"/>
<circle cx="382.16" cy="546.25" r="3.4" fill="url(#gb10)"/>
<circle cx="383" cy="545" r="3.4" fill="url(#gb10)"/>
<circle cx="384.29" cy="543.65" r="3.4" fill="url(#gb10)"/>
<circle cx="385.6" cy="543" r="3.4" fill="url(#gb10)"/>
<circle cx="388.2" cy="544.5" r="3.4" fill="url(#gb10)"/>
<circle cx="389.44" cy="546.2" r="3.4" fill="url(#gb10)"/>
<circle cx="390.6" cy="548.5" r="3.4" fill="url(#gb10)"/>
<circle cx="392.5" cy="555" r="3.4" fill="url(#gb10)"/>
<circle cx="394.5" cy="564" r="3.4" fill="url(#gb10)"/>
<circle cx="396.2" cy="571.5" r="3.4" fill="url(#gb10)"/>
<circle cx="394.2" cy="587.9" r="3.4" fill="url(#gb10)"/>
<polyline points="380.2,635.1 380.19,634.93 380.16,634.83 380.16,634.51 380.22,633.63 380.4,631.9 380.72,628.96 381.15,625.02 381.65,620.61 382.18,616.23 382.7,612.4 383.23,609.16 383.78,606.16 384.35,603.35 384.9,600.68 385.4,598.1 385.84,595.65 386.25,593.35 386.63,591.17 387.01,589.03 387.4,586.9 387.8,584.76 388.2,582.66 388.59,580.6 388.99,578.58 389.4,576.6 389.82,574.67 390.24,572.79 390.66,570.96 391.08,569.16 391.5,567.4 391.9,565.67 392.27,563.98 392.65,562.32 393.06,560.73 393.5,559.2 393.98,557.76 394.49,556.41 395.03,555.1 395.6,553.81 396.2,552.5 396.86,551.16 397.57,549.82 398.3,548.48 399.02,547.17 399.7,545.9 400.35,544.71 400.98,543.59 401.59,542.48 402.17,541.3 402.7,540 403.17,538.44 403.58,536.68 403.96,534.9 404.36,533.28 404.8,532 405.3,531.07 405.82,530.37 406.37,529.9 406.93,529.64 407.5,529.6 408.09,529.82 408.7,530.29 409.32,530.97 409.93,531.79 410.5,532.7 411.04,533.75 411.56,534.96 412.06,536.28 412.54,537.65 413,539 413.44,540.37 413.87,541.8 414.28,543.24 414.66,544.63 415,545.9 415.3,546.97 415.56,547.87 415.79,548.74 416,549.74 416.2,551 416.36,552.66 416.49,554.62 416.61,556.68 416.74,558.64 416.9,560.3 417.11,561.57 417.35,562.59 417.61,563.49 417.86,564.38 418.1,565.4 418.31,566.57 418.51,567.82 418.71,569.08 418.9,570.33 419.1,571.5 419.3,572.6 419.51,573.66 419.72,574.68 419.92,575.66 420.1,576.6 420.26,577.48 420.4,578.31 420.53,579.11 420.66,579.9 420.8,580.7 420.96,581.49 421.12,582.24 421.29,583.01 421.45,583.85 421.6,584.8 421.74,586 421.88,587.43 422.01,588.87 422.12,590.12 422.2,591" fill="none" stroke="#f7834a" stroke-width="1.3"/>
<circle cx="380.4" cy="631.9" r="3.4" fill="url(#gb30)"/>
<circle cx="382.7" cy="612.4" r="3.4" fill="url(#gb30)"/>
<circle cx="385.4" cy="598.1" r="3.4" fill="url(#gb30)"/>
<circle cx="387.4" cy="586.9" r="3.4" fill="url(#gb30)"/>
<circle cx="389.4" cy="576.6" r="3.4" fill="url(#gb30)"/>
<circle cx="391.5" cy="567.4" r="3.4" fill="url(#gb30)"/>
<circle cx="393.5" cy="559.2" r="3.4" fill="url(#gb30)"/>
<circle cx="396.2" cy="552.5" r="3.4" fill="url(#gb30)"/>
<circle cx="399.7" cy="545.9" r="3.4" fill="url(#gb30)"/>
<circle cx="402.7" cy="540" r="3.4" fill="url(#gb30)"/>
<circle cx="404.8" cy="532" r="3.4" fill="url(#gb30)"/>
<circle cx="406.1" cy="530.13" r="3.4" fill="url(#gb30)"/>
<circle cx="407.5" cy="529.6" r="3.4" fill="url(#gb30)"/>
<circle cx="410.5" cy="532.7" r="3.4" fill="url(#gb30)"/>
<circle cx="413" cy="539" r="3.4" fill="url(#gb30)"/>
<circle cx="415" cy="545.9" r="3.4" fill="url(#gb30)"/>
<circle cx="416.2" cy="551" r="3.4" fill="url(#gb30)"/>
<circle cx="416.9" cy="560.3" r="3.4" fill="url(#gb30)"/>
<circle cx="418.1" cy="565.4" r="3.4" fill="url(#gb30)"/>
<circle cx="419.1" cy="571.5" r="3.4" fill="url(#gb30)"/>
<circle cx="420.1" cy="576.6" r="3.4" fill="url(#gb30)"/>
<circle cx="420.8" cy="580.7" r="3.4" fill="url(#gb30)"/>
<circle cx="421.6" cy="584.8" r="3.4" fill="url(#gb30)"/>
<circle cx="422.2" cy="591" r="3.4" fill="url(#gb30)"/>
<polyline points="380.1,635.1 380.14,633.06 380.19,630.23 380.26,626.87 380.39,623.24 380.6,619.6 380.93,615.82 381.35,611.72 381.82,607.51 382.29,603.4 382.7,599.6 383.05,596.12 383.37,592.84 383.68,589.71 383.98,586.71 384.3,583.8 384.63,580.99 384.96,578.3 385.29,575.73 385.64,573.26 386,570.9 386.38,568.64 386.79,566.48 387.2,564.43 387.61,562.5 388,560.7 388.36,559.03 388.7,557.5 389.04,556.08 389.4,554.75 389.8,553.5 390.24,552.31 390.71,551.2 391.21,550.19 391.74,549.28 392.3,548.5 392.91,547.84 393.56,547.27 394.24,546.83 394.93,546.54 395.6,546.4 396.26,546.46 396.93,546.72 397.59,547.1 398.25,547.54 398.9,548 399.54,548.49 400.19,549.05 400.82,549.65 401.43,550.25 402,550.8 402.54,551.4 403.05,552.08 403.53,552.7 403.98,553.12 404.4,553.2 404.78,552.91 405.14,552.35 405.46,551.56 405.74,550.59 406,549.5 406.2,548.19 406.35,546.63 406.48,544.96 406.62,543.3 406.8,541.8 407.02,540.5 407.26,539.3 407.52,538.14 407.8,536.96 408.1,535.7 408.42,534.32 408.76,532.88 409.12,531.4 409.5,529.93 409.9,528.5 410.32,527.09 410.75,525.67 411.21,524.28 411.69,522.98 412.2,521.8 412.74,520.75 413.31,519.79 413.9,518.93 414.53,518.17 415.2,517.5 415.94,516.85 416.74,516.23 417.57,515.73 418.37,515.49 419.1,515.6 419.75,516.1 420.36,516.9 420.93,517.98 421.47,519.29 422,520.8 422.5,522.63 422.98,524.81 423.44,527.15 423.88,529.44 424.3,531.5 424.7,533.29 425.06,534.94 425.42,536.5 425.79,538.01 426.2,539.5 426.66,540.92 427.17,542.24 427.69,543.55 428.18,544.94 428.6,546.5 428.96,548.28 429.28,550.21 429.56,552.23 429.8,554.26 430,556.2 430.15,558.04 430.24,559.83 430.3,561.6 430.35,563.41 430.4,565.3 430.44,567.29 430.45,569.35 430.46,571.45 430.5,573.55 430.6,575.6 430.8,577.69 431.08,579.85 431.39,581.96 431.65,583.88 431.8,585.5 431.82,586.8 431.74,587.87 431.61,588.72 431.48,589.39 431.4,589.9" fill="none" stroke="#a2d4cf" stroke-width="1.3"/>
<circle cx="380.6" cy="619.6" r="3.4" fill="url(#gb50)"/>
<circle cx="382.7" cy="599.6" r="3.4" fill="url(#gb50)"/>
<circle cx="384.3" cy="583.8" r="3.4" fill="url(#gb50)"/>
<circle cx="386" cy="570.9" r="3.4" fill="url(#gb50)"/>
<circle cx="388" cy="560.7" r="3.4" fill="url(#gb50)"/>
<circle cx="389.8" cy="553.5" r="3.4" fill="url(#gb50)"/>
<circle cx="392.3" cy="548.5" r="3.4" fill="url(#gb50)"/>
<circle cx="393.9" cy="547.05" r="3.4" fill="url(#gb50)"/>
<circle cx="395.6" cy="546.4" r="3.4" fill="url(#gb50)"/>
<circle cx="397.26" cy="546.91" r="3.4" fill="url(#gb50)"/>
<circle cx="398.9" cy="548" r="3.4" fill="url(#gb50)"/>
<circle cx="402" cy="550.8" r="3.4" fill="url(#gb50)"/>
<circle cx="403.29" cy="552.39" r="3.4" fill="url(#gb50)"/>
<circle cx="404.4" cy="553.2" r="3.4" fill="url(#gb50)"/>
<circle cx="406" cy="549.5" r="3.4" fill="url(#gb50)"/>
<circle cx="406.8" cy="541.8" r="3.4" fill="url(#gb50)"/>
<circle cx="408.1" cy="535.7" r="3.4" fill="url(#gb50)"/>
<circle cx="409.9" cy="528.5" r="3.4" fill="url(#gb50)"/>
<circle cx="412.2" cy="521.8" r="3.4" fill="url(#gb50)"/>
<circle cx="415.2" cy="517.5" r="3.4" fill="url(#gb50)"/>
<circle cx="419.1" cy="515.6" r="3.4" fill="url(#gb50)"/>
<circle cx="422" cy="520.8" r="3.4" fill="url(#gb50)"/>
<circle cx="424.3" cy="531.5" r="3.4" fill="url(#gb50)"/>
<circle cx="426.2" cy="539.5" r="3.4" fill="url(#gb50)"/>
<circle cx="428.6" cy="546.5" r="3.4" fill="url(#gb50)"/>
<circle cx="430" cy="556.2" r="3.4" fill="url(#gb50)"/>
<circle cx="430.4" cy="565.3" r="3.4" fill="url(#gb50)"/>
<circle cx="430.6" cy="575.6" r="3.4" fill="url(#gb50)"/>
<circle cx="431.8" cy="585.5" r="3.4" fill="url(#gb50)"/>
<circle cx="431.4" cy="589.9" r="3.4" fill="url(#gb50)"/>
<rect x="269.3" y="453.1" width="181.7" height="182" fill="none" stroke="#444" stroke-width="1.1"/>
<line x1="277.2" y1="462.8" x2="294.2" y2="462.8" stroke="#e46c7e" stroke-width="1.3"/>
<circle cx="285.8" cy="462.8" r="3.6" fill="url(#gb5)"/>
<text x="298.2" y="466.47" font-size="10.2" stroke="#000" stroke-width="0.22" textLength="21.3" lengthAdjust="spacingAndGlyphs">5 μm</text>
<line x1="277.2" y1="475" x2="294.2" y2="475" stroke="#8fb1f2" stroke-width="1.3"/>
<circle cx="285.8" cy="475" r="3.6" fill="url(#gb10)"/>
<text x="296.5" y="478.67" font-size="10.2" stroke="#000" stroke-width="0.22" textLength="27.3" lengthAdjust="spacingAndGlyphs">10 μm</text>
<line x1="277.2" y1="487.3" x2="294.2" y2="487.3" stroke="#f7834a" stroke-width="1.3"/>
<circle cx="285.8" cy="487.3" r="3.6" fill="url(#gb30)"/>
<text x="296.5" y="490.97" font-size="10.2" stroke="#000" stroke-width="0.22" textLength="27.3" lengthAdjust="spacingAndGlyphs">30 μm</text>
<line x1="277.2" y1="500.1" x2="294.2" y2="500.1" stroke="#a2d4cf" stroke-width="1.3"/>
<circle cx="285.8" cy="500.1" r="3.6" fill="url(#gb50)"/>
<text x="296.5" y="503.77" font-size="10.2" stroke="#000" stroke-width="0.22" textLength="27.3" lengthAdjust="spacingAndGlyphs">50 μm</text>
<line x1="496.5" y1="634.3" x2="499.5" y2="634.3" stroke="#444" stroke-width="1"/>
<text x="493.1" y="637.72" font-size="10.6" text-anchor="end" stroke="#000" stroke-width="0.22" textLength="24.52" lengthAdjust="spacingAndGlyphs">0.000</text>
<line x1="496.5" y1="598.1" x2="499.5" y2="598.1" stroke="#444" stroke-width="1"/>
<text x="493.1" y="601.52" font-size="10.6" text-anchor="end" stroke="#000" stroke-width="0.22" textLength="24.52" lengthAdjust="spacingAndGlyphs">0.005</text>
<line x1="496.5" y1="561.9" x2="499.5" y2="561.9" stroke="#444" stroke-width="1"/>
<text x="493.1" y="565.32" font-size="10.6" text-anchor="end" stroke="#000" stroke-width="0.22" textLength="24.52" lengthAdjust="spacingAndGlyphs">0.010</text>
<line x1="496.5" y1="525.7" x2="499.5" y2="525.7" stroke="#444" stroke-width="1"/>
<text x="493.1" y="529.12" font-size="10.6" text-anchor="end" stroke="#000" stroke-width="0.22" textLength="24.52" lengthAdjust="spacingAndGlyphs">0.015</text>
<line x1="496.5" y1="489.5" x2="499.5" y2="489.5" stroke="#444" stroke-width="1"/>
<text x="493.1" y="492.92" font-size="10.6" text-anchor="end" stroke="#000" stroke-width="0.22" textLength="24.52" lengthAdjust="spacingAndGlyphs">0.020</text>
<line x1="496.5" y1="453.3" x2="499.5" y2="453.3" stroke="#444" stroke-width="1"/>
<text x="493.1" y="456.72" font-size="10.6" text-anchor="end" stroke="#000" stroke-width="0.22" textLength="24.52" lengthAdjust="spacingAndGlyphs">0.025</text>
<line x1="496.5" y1="616.2" x2="498.3" y2="616.2" stroke="#444" stroke-width="1"/>
<line x1="496.5" y1="580" x2="498.3" y2="580" stroke="#444" stroke-width="1"/>
<line x1="496.5" y1="543.8" x2="498.3" y2="543.8" stroke="#444" stroke-width="1"/>
<line x1="496.5" y1="507.6" x2="498.3" y2="507.6" stroke="#444" stroke-width="1"/>
<line x1="496.5" y1="471.4" x2="498.3" y2="471.4" stroke="#444" stroke-width="1"/>
<line x1="496.5" y1="634.3" x2="496.5" y2="631.3" stroke="#444" stroke-width="1"/>
<text x="497.1" y="647.13" font-size="9.8" text-anchor="middle" stroke="#000" stroke-width="0.22">10<tspan font-size="6.8" dy="-4.3">0</tspan></text>
<line x1="532.76" y1="634.3" x2="532.76" y2="631.3" stroke="#444" stroke-width="1"/>
<text x="533.36" y="647.13" font-size="9.8" text-anchor="middle" stroke="#000" stroke-width="0.22">10<tspan font-size="6.8" dy="-4.3">1</tspan></text>
<line x1="569.02" y1="634.3" x2="569.02" y2="631.3" stroke="#444" stroke-width="1"/>
<text x="569.62" y="647.13" font-size="9.8" text-anchor="middle" stroke="#000" stroke-width="0.22">10<tspan font-size="6.8" dy="-4.3">2</tspan></text>
<line x1="605.28" y1="634.3" x2="605.28" y2="631.3" stroke="#444" stroke-width="1"/>
<text x="605.88" y="647.13" font-size="9.8" text-anchor="middle" stroke="#000" stroke-width="0.22">10<tspan font-size="6.8" dy="-4.3">3</tspan></text>
<line x1="641.54" y1="634.3" x2="641.54" y2="631.3" stroke="#444" stroke-width="1"/>
<text x="642.14" y="647.13" font-size="9.8" text-anchor="middle" stroke="#000" stroke-width="0.22">10<tspan font-size="6.8" dy="-4.3">4</tspan></text>
<line x1="677.8" y1="634.3" x2="677.8" y2="631.3" stroke="#444" stroke-width="1"/>
<text x="678.4" y="647.13" font-size="9.8" text-anchor="middle" stroke="#000" stroke-width="0.22">10<tspan font-size="6.8" dy="-4.3">5</tspan></text>
<line x1="507.42" y1="634.3" x2="507.42" y2="632.7" stroke="#444" stroke-width="0.8"/>
<line x1="513.8" y1="634.3" x2="513.8" y2="632.7" stroke="#444" stroke-width="0.8"/>
<line x1="518.33" y1="634.3" x2="518.33" y2="632.7" stroke="#444" stroke-width="0.8"/>
<line x1="521.84" y1="634.3" x2="521.84" y2="632.7" stroke="#444" stroke-width="0.8"/>
<line x1="524.72" y1="634.3" x2="524.72" y2="632.7" stroke="#444" stroke-width="0.8"/>
<line x1="527.14" y1="634.3" x2="527.14" y2="632.7" stroke="#444" stroke-width="0.8"/>
<line x1="529.25" y1="634.3" x2="529.25" y2="632.7" stroke="#444" stroke-width="0.8"/>
<line x1="531.1" y1="634.3" x2="531.1" y2="632.7" stroke="#444" stroke-width="0.8"/>
<line x1="543.68" y1="634.3" x2="543.68" y2="632.7" stroke="#444" stroke-width="0.8"/>
<line x1="550.06" y1="634.3" x2="550.06" y2="632.7" stroke="#444" stroke-width="0.8"/>
<line x1="554.59" y1="634.3" x2="554.59" y2="632.7" stroke="#444" stroke-width="0.8"/>
<line x1="558.1" y1="634.3" x2="558.1" y2="632.7" stroke="#444" stroke-width="0.8"/>
<line x1="560.98" y1="634.3" x2="560.98" y2="632.7" stroke="#444" stroke-width="0.8"/>
<line x1="563.4" y1="634.3" x2="563.4" y2="632.7" stroke="#444" stroke-width="0.8"/>
<line x1="565.51" y1="634.3" x2="565.51" y2="632.7" stroke="#444" stroke-width="0.8"/>
<line x1="567.36" y1="634.3" x2="567.36" y2="632.7" stroke="#444" stroke-width="0.8"/>
<line x1="579.94" y1="634.3" x2="579.94" y2="632.7" stroke="#444" stroke-width="0.8"/>
<line x1="586.32" y1="634.3" x2="586.32" y2="632.7" stroke="#444" stroke-width="0.8"/>
<line x1="590.85" y1="634.3" x2="590.85" y2="632.7" stroke="#444" stroke-width="0.8"/>
<line x1="594.36" y1="634.3" x2="594.36" y2="632.7" stroke="#444" stroke-width="0.8"/>
<line x1="597.24" y1="634.3" x2="597.24" y2="632.7" stroke="#444" stroke-width="0.8"/>
<line x1="599.66" y1="634.3" x2="599.66" y2="632.7" stroke="#444" stroke-width="0.8"/>
<line x1="601.77" y1="634.3" x2="601.77" y2="632.7" stroke="#444" stroke-width="0.8"/>
<line x1="603.62" y1="634.3" x2="603.62" y2="632.7" stroke="#444" stroke-width="0.8"/>
<line x1="616.2" y1="634.3" x2="616.2" y2="632.7" stroke="#444" stroke-width="0.8"/>
<line x1="622.58" y1="634.3" x2="622.58" y2="632.7" stroke="#444" stroke-width="0.8"/>
<line x1="627.11" y1="634.3" x2="627.11" y2="632.7" stroke="#444" stroke-width="0.8"/>
<line x1="630.62" y1="634.3" x2="630.62" y2="632.7" stroke="#444" stroke-width="0.8"/>
<line x1="633.5" y1="634.3" x2="633.5" y2="632.7" stroke="#444" stroke-width="0.8"/>
<line x1="635.92" y1="634.3" x2="635.92" y2="632.7" stroke="#444" stroke-width="0.8"/>
<line x1="638.03" y1="634.3" x2="638.03" y2="632.7" stroke="#444" stroke-width="0.8"/>
<line x1="639.88" y1="634.3" x2="639.88" y2="632.7" stroke="#444" stroke-width="0.8"/>
<line x1="652.46" y1="634.3" x2="652.46" y2="632.7" stroke="#444" stroke-width="0.8"/>
<line x1="658.84" y1="634.3" x2="658.84" y2="632.7" stroke="#444" stroke-width="0.8"/>
<line x1="663.37" y1="634.3" x2="663.37" y2="632.7" stroke="#444" stroke-width="0.8"/>
<line x1="666.88" y1="634.3" x2="666.88" y2="632.7" stroke="#444" stroke-width="0.8"/>
<line x1="669.76" y1="634.3" x2="669.76" y2="632.7" stroke="#444" stroke-width="0.8"/>
<line x1="672.18" y1="634.3" x2="672.18" y2="632.7" stroke="#444" stroke-width="0.8"/>
<line x1="674.29" y1="634.3" x2="674.29" y2="632.7" stroke="#444" stroke-width="0.8"/>
<line x1="676.14" y1="634.3" x2="676.14" y2="632.7" stroke="#444" stroke-width="0.8"/>
<text x="587.6" y="656.19" font-size="10.8" text-anchor="middle" stroke="#000" stroke-width="0.22" textLength="23" lengthAdjust="spacingAndGlyphs">f (Hz)</text>
<text x="463.8" y="548.4" font-size="8.6" text-anchor="middle" stroke="#000" stroke-width="0.22" textLength="17.5" lengthAdjust="spacingAndGlyphs" transform="rotate(-90 463.8 548.4)">γ (τ)</text>
<rect x="496.5" y="453.2" width="181.3" height="181.1" fill="none" stroke="#444" stroke-width="1.1"/>
<polyline points="496.5,634.26 496.8,634.25 497.1,634.25 497.41,634.24 497.71,634.23 498.01,634.22 498.31,634.21 498.62,634.19 498.92,634.18 499.22,634.16 499.52,634.14 499.82,634.12 500.13,634.09 500.43,634.06 500.73,634.03 501.03,634 501.33,633.96 501.64,633.92 501.94,633.87 502.24,633.82 502.54,633.76 502.85,633.69 503.15,633.62 503.45,633.54 503.75,633.46 504.05,633.37 504.36,633.26 504.66,633.15 504.96,633.03 505.26,632.9 505.56,632.76 505.87,632.6 506.17,632.44 506.47,632.26 506.77,632.07 507.08,631.86 507.38,631.64 507.68,631.41 507.98,631.16 508.28,630.89 508.59,630.61 508.89,630.32 509.19,630 509.49,629.67 509.8,629.32 510.1,628.96 510.4,628.58 510.7,628.18 511,627.77 511.31,627.34 511.61,626.89 511.91,626.43 512.21,625.96 512.51,625.47 512.82,624.97 513.12,624.46 513.42,623.94 513.72,623.41 514.03,622.87 514.33,622.33 514.63,621.78 514.93,621.24 515.23,620.69 515.54,620.14 515.84,619.6 516.14,619.06 516.44,618.53 516.75,618.01 517.05,617.5 517.35,617 517.65,616.53 517.95,616.07 518.26,615.63 518.56,615.21 518.86,614.82 519.16,614.46 519.46,614.12 519.77,613.81 520.07,613.54 520.37,613.29 520.67,613.08 520.98,612.91 521.28,612.77 521.58,612.67 521.88,612.61 522.18,612.58 522.49,612.59 522.79,612.64 523.09,612.73 523.39,612.85 523.7,613.01 524,613.21 524.3,613.43 524.6,613.7 524.9,613.99 525.21,614.32 525.51,614.67 525.81,615.05 526.11,615.46 526.41,615.89 526.72,616.34 527.02,616.81 527.32,617.3 527.62,617.8 527.93,618.32 528.23,618.85 528.53,619.38 528.83,619.92 529.13,620.47 529.44,621.02 529.74,621.57 530.04,622.11 530.34,622.66 530.64,623.2 530.95,623.73 531.25,624.25 531.55,624.77 531.85,625.27 532.16,625.76 532.46,626.24 532.76,626.71 533.06,627.16 533.36,627.6 533.67,628.02 533.97,628.42 534.27,628.81 534.57,629.18 534.88,629.53 535.18,629.87 535.48,630.19 535.78,630.5 536.08,630.78 536.39,631.06 536.69,631.31 536.99,631.55 537.29,631.78 537.59,631.99 537.9,632.19 538.2,632.37 538.5,632.54 538.8,632.7 539.11,632.84 539.41,632.98 539.71,633.1 540.01,633.22 540.31,633.33 540.62,633.42 540.92,633.51 541.22,633.59 541.52,633.67 541.83,633.73 542.13,633.79 542.43,633.85 542.73,633.9 543.03,633.94 543.34,633.98 543.64,634.02 543.94,634.05 544.24,634.08 544.54,634.11 544.85,634.13 545.15,634.15 545.45,634.16 545.75,634.18 546.06,634.19 546.36,634.2 546.66,634.21 546.96,634.22 547.26,634.22 547.57,634.22 547.87,634.22 548.17,634.22 548.47,634.21 548.77,634.21 549.08,634.19 549.38,634.18 549.68,634.16 549.98,634.14 550.29,634.11 550.59,634.08 550.89,634.04 551.19,633.99 551.49,633.94 551.8,633.88 552.1,633.81 552.4,633.73 552.7,633.64 553.01,633.54 553.31,633.42 553.61,633.29 553.91,633.15 554.21,632.99 554.52,632.82 554.82,632.63 555.12,632.42 555.42,632.19 555.72,631.95 556.03,631.69 556.33,631.41 556.63,631.12 556.93,630.81 557.24,630.49 557.54,630.16 557.84,629.81 558.14,629.45 558.44,629.09 558.75,628.73 559.05,628.36 559.35,627.99 559.65,627.63 559.96,627.27 560.26,626.93 560.56,626.6 560.86,626.29 561.16,625.99 561.47,625.73 561.77,625.48 562.07,625.27 562.37,625.09 562.67,624.94 562.98,624.82 563.28,624.74 563.58,624.69 563.88,624.68 564.19,624.7 564.49,624.75 564.79,624.84 565.09,624.95 565.39,625.08 565.7,625.24 566,625.42 566.3,625.61 566.6,625.81 566.9,626.02 567.21,626.23 567.51,626.43 567.81,626.63 568.11,626.81 568.42,626.98 568.72,627.12 569.02,627.24 569.32,627.32 569.62,627.37 569.93,627.38 570.23,627.34 570.53,627.26 570.83,627.13 571.14,626.94 571.44,626.7 571.74,626.41 572.04,626.06 572.34,625.64 572.65,625.17 572.95,624.63 573.25,624.03 573.55,623.37 573.85,622.64 574.16,621.85 574.46,621.01 574.76,620.1 575.06,619.13 575.37,618.11 575.67,617.03 575.97,615.91 576.27,614.73 576.57,613.51 576.88,612.25 577.18,610.95 577.48,609.62 577.78,608.26 578.09,606.88 578.39,605.48 578.69,604.07 578.99,602.66 579.29,601.25 579.6,599.85 579.9,598.46 580.2,597.1 580.5,595.76 580.8,594.47 581.11,593.21 581.41,592.01 581.71,590.86 582.01,589.78 582.32,588.77 582.62,587.83 582.92,586.98 583.22,586.21 583.52,585.54 583.83,584.96 584.13,584.48 584.43,584.11 584.73,583.84 585.03,583.67 585.34,583.62 585.64,583.67 585.94,583.84 586.24,584.11 586.55,584.48 586.85,584.96 587.15,585.54 587.45,586.21 587.75,586.98 588.06,587.83 588.36,588.77 588.66,589.78 588.96,590.87 589.27,592.01 589.57,593.22 589.87,594.48 590.17,595.78 590.47,597.11 590.78,598.48 591.08,599.87 591.38,601.28 591.68,602.69 591.98,604.11 592.29,605.53 592.59,606.93 592.89,608.32 593.19,609.69 593.5,611.04 593.8,612.35 594.1,613.63 594.4,614.87 594.7,616.07 595.01,617.22 595.31,618.32 595.61,619.37 595.91,620.37 596.22,621.31 596.52,622.2 596.82,623.03 597.12,623.79 597.42,624.5 597.73,625.15 598.03,625.74 598.33,626.27 598.63,626.73 598.93,627.14 599.24,627.49 599.54,627.79 599.84,628.02 600.14,628.21 600.45,628.34 600.75,628.43 601.05,628.47 601.35,628.47 601.65,628.43 601.96,628.35 602.26,628.25 602.56,628.11 602.86,627.96 603.16,627.79 603.47,627.6 603.77,627.41 604.07,627.22 604.37,627.03 604.68,626.85 604.98,626.68 605.28,626.52 605.58,626.39 605.88,626.28 606.19,626.2 606.49,626.15 606.79,626.13 607.09,626.14 607.4,626.19 607.7,626.27 608,626.38 608.3,626.53 608.6,626.71 608.91,626.92 609.21,627.16 609.51,627.42 609.81,627.7 610.11,628 610.42,628.32 610.72,628.65 611.02,628.98 611.32,629.32 611.63,629.66 611.93,629.99 612.23,630.32 612.53,630.65 612.83,630.96 613.14,631.26 613.44,631.55 613.74,631.82 614.04,632.07 614.35,632.31 614.65,632.53 614.95,632.74 615.25,632.93 615.55,633.1 615.86,633.25 616.16,633.39 616.46,633.51 616.76,633.63 617.06,633.72 617.37,633.81 617.67,633.88 617.97,633.95 618.27,634.01 618.58,634.05 618.88,634.1 619.18,634.13 619.48,634.16 619.78,634.19 620.09,634.21 620.39,634.23 620.69,634.24 620.99,634.25 621.29,634.26 621.6,634.27 621.9,634.28 622.2,634.28 622.5,634.28 622.81,634.29 623.11,634.29 623.41,634.29 623.71,634.29 624.01,634.3 624.32,634.3 624.62,634.3 624.92,634.3 625.22,634.3 625.53,634.3 625.83,634.3 626.13,634.3 626.43,634.3 626.73,634.3 627.04,634.3 627.34,634.3 627.64,634.3 627.94,634.29 628.24,634.29 628.55,634.28 628.85,634.28 629.15,634.26 629.45,634.25 629.76,634.22 630.06,634.19 630.36,634.14 630.66,634.07 630.96,633.98 631.27,633.85 631.57,633.69 631.87,633.46 632.17,633.16 632.48,632.78 632.78,632.28 633.08,631.64 633.38,630.84 633.68,629.83 633.99,628.59 634.29,627.07 634.59,625.24 634.89,623.06 635.19,620.47 635.5,617.46 635.8,613.99 636.1,610.04 636.4,605.6 636.71,600.66 637.01,595.26 637.31,589.42 637.61,583.2 637.91,576.68 638.22,569.94 638.52,563.11 638.82,556.3 639.12,549.66 639.42,543.34 639.73,537.47 640.03,532.22 640.33,527.7 640.63,524.06 640.94,521.38 641.24,519.74 641.54,519.18 641.84,519.74 642.14,521.38 642.45,524.06 642.75,527.7 643.05,532.22 643.35,537.47 643.66,543.34 643.96,549.66 644.26,556.3 644.56,563.11 644.86,569.94 645.17,576.68 645.47,583.2 645.77,589.42 646.07,595.26 646.37,600.66 646.68,605.6 646.98,610.04 647.28,613.99 647.58,617.46 647.89,620.47 648.19,623.06 648.49,625.24 648.79,627.07 649.09,628.59 649.4,629.83 649.7,630.84 650,631.64 650.3,632.28 650.61,632.78 650.91,633.16 651.21,633.46 651.51,633.69 651.81,633.85 652.12,633.98 652.42,634.07 652.72,634.14 653.02,634.19 653.32,634.22 653.63,634.25 653.93,634.26 654.23,634.28 654.53,634.28 654.84,634.29 655.14,634.29 655.44,634.3 655.74,634.3 656.04,634.3 656.35,634.3 656.65,634.3 656.95,634.3 657.25,634.3 657.55,634.3 657.86,634.3 658.16,634.3 658.46,634.3 658.76,634.3 659.07,634.3 659.37,634.3 659.67,634.3 659.97,634.3 660.27,634.3 660.58,634.3 660.88,634.3 661.18,634.3 661.48,634.3 661.79,634.3 662.09,634.3 662.39,634.3 662.69,634.3 662.99,634.3 663.3,634.3 663.6,634.3 663.9,634.3 664.2,634.3 664.5,634.3 664.81,634.3 665.11,634.3 665.41,634.3 665.71,634.3 666.02,634.3 666.32,634.3 666.62,634.3 666.92,634.3 667.22,634.3 667.53,634.3 667.83,634.3 668.13,634.3 668.43,634.3 668.74,634.3 669.04,634.3 669.34,634.3 669.64,634.3 669.94,634.3 670.25,634.3 670.55,634.3 670.85,634.3 671.15,634.3 671.45,634.3 671.76,634.3 672.06,634.3 672.36,634.3 672.66,634.3 672.97,634.3 673.27,634.3 673.57,634.3 673.87,634.3 674.17,634.3 674.48,634.3 674.78,634.3 675.08,634.3 675.38,634.3 675.68,634.3 675.99,634.3 676.29,634.3 676.59,634.3 676.89,634.3 677.2,634.3 677.5,634.3 677.8,634.3" fill="none" stroke="#8fb1f2" stroke-width="1.3"/>
<polyline points="496.5,634.3 496.8,634.3 497.1,634.3 497.41,634.3 497.71,634.3 498.01,634.3 498.31,634.3 498.62,634.3 498.92,634.3 499.22,634.3 499.52,634.3 499.82,634.3 500.13,634.3 500.43,634.3 500.73,634.3 501.03,634.3 501.33,634.3 501.64,634.3 501.94,634.3 502.24,634.3 502.54,634.3 502.85,634.3 503.15,634.3 503.45,634.3 503.75,634.3 504.05,634.3 504.36,634.3 504.66,634.3 504.96,634.3 505.26,634.3 505.56,634.3 505.87,634.3 506.17,634.3 506.47,634.3 506.77,634.3 507.08,634.3 507.38,634.3 507.68,634.3 507.98,634.3 508.28,634.3 508.59,634.3 508.89,634.3 509.19,634.3 509.49,634.3 509.8,634.3 510.1,634.3 510.4,634.3 510.7,634.3 511,634.3 511.31,634.3 511.61,634.3 511.91,634.3 512.21,634.3 512.51,634.3 512.82,634.3 513.12,634.3 513.42,634.3 513.72,634.3 514.03,634.3 514.33,634.3 514.63,634.3 514.93,634.3 515.23,634.3 515.54,634.3 515.84,634.3 516.14,634.3 516.44,634.3 516.75,634.3 517.05,634.3 517.35,634.3 517.65,634.3 517.95,634.3 518.26,634.3 518.56,634.3 518.86,634.3 519.16,634.3 519.46,634.3 519.77,634.3 520.07,634.3 520.37,634.3 520.67,634.3 520.98,634.3 521.28,634.3 521.58,634.3 521.88,634.3 522.18,634.3 522.49,634.3 522.79,634.3 523.09,634.3 523.39,634.3 523.7,634.3 524,634.3 524.3,634.3 524.6,634.29 524.9,634.29 525.21,634.28 525.51,634.28 525.81,634.27 526.11,634.25 526.41,634.23 526.72,634.21 527.02,634.17 527.32,634.12 527.62,634.06 527.93,633.98 528.23,633.87 528.53,633.73 528.83,633.56 529.13,633.35 529.44,633.09 529.74,632.78 530.04,632.4 530.34,631.96 530.64,631.44 530.95,630.86 531.25,630.19 531.55,629.45 531.85,628.63 532.16,627.75 532.46,626.82 532.76,625.84 533.06,624.84 533.36,623.84 533.67,622.85 533.97,621.91 534.27,621.03 534.57,620.24 534.88,619.57 535.18,619.04 535.48,618.65 535.78,618.43 536.08,618.38 536.39,618.5 536.69,618.78 536.99,619.23 537.29,619.83 537.59,620.55 537.9,621.37 538.2,622.28 538.5,623.24 538.8,624.24 539.11,625.24 539.41,626.24 539.71,627.2 540.01,628.11 540.31,628.97 540.62,629.75 540.92,630.46 541.22,631.1 541.52,631.66 541.83,632.14 542.13,632.56 542.43,632.91 542.73,633.2 543.03,633.44 543.34,633.63 543.64,633.79 543.94,633.91 544.24,634.01 544.54,634.08 544.85,634.13 545.15,634.16 545.45,634.18 545.75,634.19 546.06,634.18 546.36,634.16 546.66,634.13 546.96,634.07 547.26,633.99 547.57,633.88 547.87,633.73 548.17,633.53 548.47,633.28 548.77,632.96 549.08,632.55 549.38,632.04 549.68,631.42 549.98,630.66 550.29,629.75 550.59,628.68 550.89,627.43 551.19,626 551.49,624.37 551.8,622.55 552.1,620.55 552.4,618.38 552.7,616.07 553.01,613.65 553.31,611.15 553.61,608.64 553.91,606.16 554.21,603.78 554.52,601.54 554.82,599.53 555.12,597.79 555.42,596.38 555.72,595.33 556.03,594.7 556.33,594.48 556.63,594.7 556.93,595.33 557.24,596.38 557.54,597.79 557.84,599.53 558.14,601.54 558.44,603.78 558.75,606.16 559.05,608.64 559.35,611.15 559.65,613.65 559.96,616.07 560.26,618.38 560.56,620.55 560.86,622.55 561.16,624.37 561.47,626 561.77,627.43 562.07,628.68 562.37,629.75 562.67,630.66 562.98,631.42 563.28,632.04 563.58,632.55 563.88,632.96 564.19,633.28 564.49,633.54 564.79,633.73 565.09,633.88 565.39,634 565.7,634.08 566,634.14 566.3,634.19 566.6,634.22 566.9,634.24 567.21,634.25 567.51,634.26 567.81,634.26 568.11,634.25 568.42,634.24 568.72,634.22 569.02,634.19 569.32,634.15 569.62,634.09 569.93,634.01 570.23,633.9 570.53,633.75 570.83,633.56 571.14,633.31 571.44,632.99 571.74,632.59 572.04,632.08 572.34,631.44 572.65,630.67 572.95,629.72 573.25,628.58 573.55,627.22 573.85,625.63 574.16,623.79 574.46,621.67 574.76,619.27 575.06,616.58 575.37,613.62 575.67,610.39 575.97,606.92 576.27,603.24 576.57,599.41 576.88,595.48 577.18,591.53 577.48,587.62 577.78,583.84 578.09,580.27 578.39,577.01 578.69,574.13 578.99,571.71 579.29,569.82 579.6,568.51 579.9,567.81 580.2,567.74 580.5,568.32 580.8,569.51 581.11,571.29 581.41,573.61 581.71,576.4 582.01,579.59 582.32,583.1 582.62,586.85 582.92,590.74 583.22,594.69 583.52,598.63 583.83,602.49 584.13,606.2 584.43,609.71 584.73,612.99 585.03,616.01 585.34,618.75 585.64,621.21 585.94,623.39 586.24,625.29 586.55,626.93 586.85,628.33 587.15,629.51 587.45,630.49 587.75,631.3 588.06,631.96 588.36,632.49 588.66,632.92 588.96,633.25 589.27,633.52 589.57,633.72 589.87,633.87 590.17,633.99 590.47,634.07 590.78,634.14 591.08,634.19 591.38,634.22 591.68,634.24 591.98,634.26 592.29,634.27 592.59,634.28 592.89,634.29 593.19,634.29 593.5,634.29 593.8,634.3 594.1,634.3 594.4,634.3 594.7,634.3 595.01,634.3 595.31,634.3 595.61,634.3 595.91,634.3 596.22,634.3 596.52,634.3 596.82,634.3 597.12,634.3 597.42,634.3 597.73,634.3 598.03,634.3 598.33,634.3 598.63,634.3 598.93,634.3 599.24,634.3 599.54,634.3 599.84,634.3 600.14,634.3 600.45,634.3 600.75,634.3 601.05,634.3 601.35,634.3 601.65,634.3 601.96,634.3 602.26,634.3 602.56,634.3 602.86,634.3 603.16,634.3 603.47,634.3 603.77,634.3 604.07,634.3 604.37,634.3 604.68,634.3 604.98,634.3 605.28,634.3 605.58,634.3 605.88,634.3 606.19,634.3 606.49,634.3 606.79,634.3 607.09,634.3 607.4,634.3 607.7,634.3 608,634.3 608.3,634.3 608.6,634.3 608.91,634.3 609.21,634.3 609.51,634.3 609.81,634.3 610.11,634.3 610.42,634.3 610.72,634.3 611.02,634.3 611.32,634.3 611.63,634.3 611.93,634.3 612.23,634.3 612.53,634.3 612.83,634.3 613.14,634.3 613.44,634.3 613.74,634.3 614.04,634.3 614.35,634.3 614.65,634.3 614.95,634.3 615.25,634.3 615.55,634.3 615.86,634.3 616.16,634.3 616.46,634.3 616.76,634.3 617.06,634.3 617.37,634.3 617.67,634.3 617.97,634.3 618.27,634.3 618.58,634.3 618.88,634.3 619.18,634.3 619.48,634.3 619.78,634.3 620.09,634.3 620.39,634.3 620.69,634.3 620.99,634.3 621.29,634.3 621.6,634.3 621.9,634.3 622.2,634.3 622.5,634.3 622.81,634.3 623.11,634.3 623.41,634.3 623.71,634.29 624.01,634.28 624.32,634.27 624.62,634.26 624.92,634.23 625.22,634.18 625.53,634.12 625.83,634.01 626.13,633.86 626.43,633.63 626.73,633.3 627.04,632.84 627.34,632.19 627.64,631.3 627.94,630.11 628.24,628.55 628.55,626.53 628.85,623.98 629.15,620.81 629.45,616.95 629.76,612.35 630.06,606.99 630.36,600.87 630.66,594.05 630.96,586.62 631.27,578.75 631.57,570.63 631.87,562.51 632.17,554.68 632.48,547.43 632.78,541.07 633.08,535.87 633.38,532.08 633.68,529.87 633.99,529.35 634.29,530.56 634.59,533.41 634.89,537.79 635.19,543.49 635.5,550.24 635.8,557.76 636.1,565.74 636.4,573.89 636.71,581.94 637.01,589.66 637.31,596.86 637.61,603.41 637.91,609.23 638.22,614.28 638.52,618.58 638.82,622.15 639.12,625.07 639.42,627.4 639.73,629.23 640.03,630.63 640.33,631.69 640.63,632.47 640.94,633.04 641.24,633.45 641.54,633.73 641.84,633.93 642.14,634.06 642.45,634.15 642.75,634.2 643.05,634.24 643.35,634.26 643.66,634.28 643.96,634.29 644.26,634.29 644.56,634.3 644.86,634.3 645.17,634.3 645.47,634.3 645.77,634.3 646.07,634.3 646.37,634.3 646.68,634.3 646.98,634.3 647.28,634.3 647.58,634.3 647.89,634.3 648.19,634.3 648.49,634.3 648.79,634.3 649.09,634.3 649.4,634.3 649.7,634.3 650,634.3 650.3,634.3 650.61,634.3 650.91,634.3 651.21,634.3 651.51,634.3 651.81,634.3 652.12,634.3 652.42,634.3 652.72,634.3 653.02,634.3 653.32,634.3 653.63,634.3 653.93,634.3 654.23,634.3 654.53,634.3 654.84,634.3 655.14,634.3 655.44,634.3 655.74,634.3 656.04,634.3 656.35,634.3 656.65,634.3 656.95,634.3 657.25,634.3 657.55,634.3 657.86,634.3 658.16,634.3 658.46,634.3 658.76,634.3 659.07,634.3 659.37,634.3 659.67,634.3 659.97,634.3 660.27,634.3 660.58,634.3 660.88,634.3 661.18,634.3 661.48,634.3 661.79,634.3 662.09,634.3 662.39,634.3 662.69,634.3 662.99,634.3 663.3,634.3 663.6,634.3 663.9,634.3 664.2,634.3 664.5,634.3 664.81,634.3 665.11,634.3 665.41,634.3 665.71,634.3 666.02,634.3 666.32,634.3 666.62,634.3 666.92,634.3 667.22,634.3 667.53,634.3 667.83,634.3 668.13,634.3 668.43,634.3 668.74,634.3 669.04,634.3 669.34,634.3 669.64,634.3 669.94,634.3 670.25,634.3 670.55,634.3 670.85,634.3 671.15,634.3 671.45,634.3 671.76,634.3 672.06,634.3 672.36,634.3 672.66,634.3 672.97,634.3 673.27,634.3 673.57,634.3 673.87,634.3 674.17,634.3 674.48,634.3 674.78,634.3 675.08,634.3 675.38,634.3 675.68,634.3 675.99,634.3 676.29,634.3 676.59,634.3 676.89,634.3 677.2,634.3 677.5,634.3 677.8,634.3" fill="none" stroke="#e46c7e" stroke-width="1.3"/>
<polyline points="496.5,634.3 496.8,634.3 497.1,634.3 497.41,634.3 497.71,634.3 498.01,634.3 498.31,634.3 498.62,634.3 498.92,634.3 499.22,634.3 499.52,634.3 499.82,634.3 500.13,634.3 500.43,634.3 500.73,634.3 501.03,634.3 501.33,634.3 501.64,634.3 501.94,634.3 502.24,634.3 502.54,634.3 502.85,634.3 503.15,634.3 503.45,634.3 503.75,634.3 504.05,634.3 504.36,634.3 504.66,634.3 504.96,634.3 505.26,634.3 505.56,634.3 505.87,634.3 506.17,634.3 506.47,634.3 506.77,634.3 507.08,634.3 507.38,634.3 507.68,634.3 507.98,634.3 508.28,634.3 508.59,634.3 508.89,634.3 509.19,634.3 509.49,634.3 509.8,634.3 510.1,634.3 510.4,634.3 510.7,634.3 511,634.3 511.31,634.3 511.61,634.3 511.91,634.3 512.21,634.3 512.51,634.3 512.82,634.3 513.12,634.3 513.42,634.3 513.72,634.3 514.03,634.3 514.33,634.3 514.63,634.3 514.93,634.3 515.23,634.3 515.54,634.3 515.84,634.3 516.14,634.3 516.44,634.3 516.75,634.3 517.05,634.3 517.35,634.3 517.65,634.3 517.95,634.29 518.26,634.29 518.56,634.29 518.86,634.28 519.16,634.27 519.46,634.26 519.77,634.24 520.07,634.22 520.37,634.19 520.67,634.15 520.98,634.09 521.28,634.01 521.58,633.92 521.88,633.79 522.18,633.62 522.49,633.41 522.79,633.14 523.09,632.81 523.39,632.4 523.7,631.89 524,631.27 524.3,630.52 524.6,629.64 524.9,628.59 525.21,627.37 525.51,625.96 525.81,624.34 526.11,622.52 526.41,620.48 526.72,618.22 527.02,615.76 527.32,613.11 527.62,610.28 527.93,607.3 528.23,604.21 528.53,601.06 528.83,597.89 529.13,594.76 529.44,591.73 529.74,588.86 530.04,586.2 530.34,583.83 530.64,581.79 530.95,580.14 531.25,578.91 531.55,578.13 531.85,577.83 532.16,578.02 532.46,578.68 532.76,579.8 533.06,581.36 533.36,583.31 533.67,585.61 533.97,588.2 534.27,591.03 534.57,594.03 534.88,597.14 535.18,600.3 535.48,603.46 535.78,606.57 536.08,609.57 536.39,612.44 536.69,615.14 536.99,617.65 537.29,619.96 537.59,622.05 537.9,623.92 538.2,625.59 538.5,627.05 538.8,628.31 539.11,629.4 539.41,630.32 539.71,631.1 540.01,631.75 540.31,632.28 540.62,632.72 540.92,633.07 541.22,633.35 541.52,633.58 541.83,633.75 542.13,633.89 542.43,633.99 542.73,634.07 543.03,634.13 543.34,634.18 543.64,634.21 543.94,634.23 544.24,634.25 544.54,634.26 544.85,634.27 545.15,634.27 545.45,634.28 545.75,634.28 546.06,634.27 546.36,634.27 546.66,634.26 546.96,634.26 547.26,634.24 547.57,634.23 547.87,634.22 548.17,634.2 548.47,634.17 548.77,634.14 549.08,634.11 549.38,634.07 549.68,634.02 549.98,633.96 550.29,633.89 550.59,633.81 550.89,633.72 551.19,633.61 551.49,633.49 551.8,633.35 552.1,633.18 552.4,633 552.7,632.78 553.01,632.55 553.31,632.28 553.61,631.98 553.91,631.65 554.21,631.28 554.52,630.88 554.82,630.44 555.12,629.96 555.42,629.44 555.72,628.88 556.03,628.29 556.33,627.65 556.63,626.97 556.93,626.26 557.24,625.52 557.54,624.75 557.84,623.95 558.14,623.14 558.44,622.3 558.75,621.46 559.05,620.61 559.35,619.77 559.65,618.94 559.96,618.12 560.26,617.34 560.56,616.58 560.86,615.86 561.16,615.2 561.47,614.58 561.77,614.02 562.07,613.53 562.37,613.11 562.67,612.75 562.98,612.47 563.28,612.26 563.58,612.13 563.88,612.06 564.19,612.06 564.49,612.11 564.79,612.23 565.09,612.39 565.39,612.58 565.7,612.81 566,613.06 566.3,613.31 566.6,613.57 566.9,613.82 567.21,614.05 567.51,614.25 567.81,614.42 568.11,614.55 568.42,614.63 568.72,614.68 569.02,614.68 569.32,614.64 569.62,614.56 569.93,614.45 570.23,614.32 570.53,614.18 570.83,614.04 571.14,613.91 571.44,613.8 571.74,613.72 572.04,613.69 572.34,613.72 572.65,613.82 572.95,613.98 573.25,614.23 573.55,614.56 573.85,614.97 574.16,615.46 574.46,616.04 574.76,616.68 575.06,617.39 575.37,618.15 575.67,618.95 575.97,619.78 576.27,620.63 576.57,621.48 576.88,622.31 577.18,623.12 577.48,623.88 577.78,624.59 578.09,625.23 578.39,625.8 578.69,626.28 578.99,626.66 579.29,626.94 579.6,627.11 579.9,627.17 580.2,627.11 580.5,626.92 580.8,626.62 581.11,626.19 581.41,625.64 581.71,624.96 582.01,624.16 582.32,623.24 582.62,622.21 582.92,621.06 583.22,619.8 583.52,618.44 583.83,616.98 584.13,615.44 584.43,613.81 584.73,612.12 585.03,610.37 585.34,608.57 585.64,606.75 585.94,604.9 586.24,603.06 586.55,601.23 586.85,599.44 587.15,597.7 587.45,596.03 587.75,594.44 588.06,592.96 588.36,591.6 588.66,590.37 588.96,589.29 589.27,588.38 589.57,587.64 589.87,587.08 590.17,586.71 590.47,586.53 590.78,586.55 591.08,586.77 591.38,587.18 591.68,587.77 591.98,588.55 592.29,589.5 592.59,590.61 592.89,591.86 593.19,593.25 593.5,594.76 593.8,596.37 594.1,598.06 594.4,599.82 594.7,601.62 595.01,603.46 595.31,605.32 595.61,607.17 595.91,609.01 596.22,610.83 596.52,612.6 596.82,614.32 597.12,615.98 597.42,617.57 597.73,619.08 598.03,620.52 598.33,621.87 598.63,623.13 598.93,624.31 599.24,625.4 599.54,626.4 599.84,627.32 600.14,628.16 600.45,628.92 600.75,629.6 601.05,630.22 601.35,630.76 601.65,631.25 601.96,631.68 602.26,632.06 602.56,632.39 602.86,632.68 603.16,632.94 603.47,633.15 603.77,633.34 604.07,633.5 604.37,633.63 604.68,633.75 604.98,633.85 605.28,633.93 605.58,634 605.88,634.05 606.19,634.1 606.49,634.14 606.79,634.17 607.09,634.2 607.4,634.22 607.7,634.23 608,634.25 608.3,634.26 608.6,634.27 608.91,634.27 609.21,634.28 609.51,634.28 609.81,634.29 610.11,634.29 610.42,634.29 610.72,634.29 611.02,634.3 611.32,634.3 611.63,634.3 611.93,634.3 612.23,634.3 612.53,634.3 612.83,634.3 613.14,634.3 613.44,634.3 613.74,634.3 614.04,634.3 614.35,634.3 614.65,634.3 614.95,634.3 615.25,634.3 615.55,634.3 615.86,634.3 616.16,634.3 616.46,634.3 616.76,634.3 617.06,634.3 617.37,634.3 617.67,634.3 617.97,634.3 618.27,634.3 618.58,634.3 618.88,634.3 619.18,634.3 619.48,634.3 619.78,634.3 620.09,634.3 620.39,634.3 620.69,634.3 620.99,634.3 621.29,634.3 621.6,634.3 621.9,634.3 622.2,634.3 622.5,634.29 622.81,634.29 623.11,634.29 623.41,634.28 623.71,634.26 624.01,634.24 624.32,634.2 624.62,634.15 624.92,634.07 625.22,633.95 625.53,633.77 625.83,633.52 626.13,633.17 626.43,632.68 626.73,632.01 627.04,631.12 627.34,629.93 627.64,628.39 627.94,626.42 628.24,623.95 628.55,620.88 628.85,617.15 629.15,612.7 629.45,607.47 629.76,601.44 630.06,594.62 630.36,587.06 630.66,578.86 630.96,570.15 631.27,561.11 631.57,551.97 631.87,543 632.17,534.47 632.48,526.69 632.78,519.92 633.08,514.45 633.38,510.48 633.68,508.17 633.99,507.64 634.29,508.89 634.59,511.87 634.89,516.47 635.19,522.49 635.5,529.69 635.8,537.81 636.1,546.55 636.4,555.62 636.71,564.75 637.01,573.68 637.31,582.21 637.61,590.17 637.91,597.44 638.22,603.94 638.52,609.65 638.82,614.57 639.12,618.73 639.42,622.18 639.73,625 640.03,627.27 640.33,629.06 640.63,630.44 640.94,631.51 641.24,632.3 641.54,632.89 641.84,633.32 642.14,633.63 642.45,633.85 642.75,634 643.05,634.1 643.35,634.17 643.66,634.22 643.96,634.25 644.26,634.27 644.56,634.28 644.86,634.29 645.17,634.29 645.47,634.3 645.77,634.3 646.07,634.3 646.37,634.3 646.68,634.3 646.98,634.3 647.28,634.3 647.58,634.3 647.89,634.3 648.19,634.3 648.49,634.3 648.79,634.3 649.09,634.3 649.4,634.3 649.7,634.3 650,634.3 650.3,634.3 650.61,634.3 650.91,634.3 651.21,634.3 651.51,634.3 651.81,634.3 652.12,634.3 652.42,634.3 652.72,634.3 653.02,634.3 653.32,634.3 653.63,634.3 653.93,634.3 654.23,634.3 654.53,634.3 654.84,634.3 655.14,634.3 655.44,634.3 655.74,634.3 656.04,634.3 656.35,634.3 656.65,634.3 656.95,634.3 657.25,634.3 657.55,634.3 657.86,634.3 658.16,634.3 658.46,634.3 658.76,634.3 659.07,634.3 659.37,634.3 659.67,634.3 659.97,634.3 660.27,634.3 660.58,634.3 660.88,634.3 661.18,634.3 661.48,634.3 661.79,634.3 662.09,634.3 662.39,634.3 662.69,634.3 662.99,634.3 663.3,634.3 663.6,634.3 663.9,634.3 664.2,634.3 664.5,634.3 664.81,634.3 665.11,634.3 665.41,634.3 665.71,634.3 666.02,634.3 666.32,634.3 666.62,634.3 666.92,634.3 667.22,634.3 667.53,634.3 667.83,634.3 668.13,634.3 668.43,634.3 668.74,634.3 669.04,634.3 669.34,634.3 669.64,634.3 669.94,634.3 670.25,634.3 670.55,634.3 670.85,634.3 671.15,634.3 671.45,634.3 671.76,634.3 672.06,634.3 672.36,634.3 672.66,634.3 672.97,634.3 673.27,634.3 673.57,634.3 673.87,634.3 674.17,634.3 674.48,634.3 674.78,634.3 675.08,634.3 675.38,634.3 675.68,634.3 675.99,634.3 676.29,634.3 676.59,634.3 676.89,634.3 677.2,634.3 677.5,634.3 677.8,634.3" fill="none" stroke="#f7834a" stroke-width="1.3"/>
<polyline points="496.5,634.3 496.8,634.3 497.1,634.3 497.41,634.3 497.71,634.3 498.01,634.3 498.31,634.3 498.62,634.29 498.92,634.29 499.22,634.29 499.52,634.28 499.82,634.28 500.13,634.27 500.43,634.26 500.73,634.25 501.03,634.24 501.33,634.22 501.64,634.19 501.94,634.16 502.24,634.12 502.54,634.07 502.85,634 503.15,633.92 503.45,633.82 503.75,633.7 504.05,633.55 504.36,633.37 504.66,633.14 504.96,632.88 505.26,632.56 505.56,632.19 505.87,631.74 506.17,631.22 506.47,630.61 506.77,629.91 507.08,629.09 507.38,628.16 507.68,627.1 507.98,625.9 508.28,624.55 508.59,623.05 508.89,621.38 509.19,619.54 509.49,617.53 509.8,615.34 510.1,612.98 510.4,610.46 510.7,607.77 511,604.93 511.31,601.96 511.61,598.88 511.91,595.71 512.21,592.47 512.51,589.2 512.82,585.93 513.12,582.69 513.42,579.52 513.72,576.47 514.03,573.56 514.33,570.84 514.63,568.35 514.93,566.12 515.23,564.18 515.54,562.56 515.84,561.29 516.14,560.39 516.44,559.87 516.75,559.73 517.05,559.99 517.35,560.64 517.65,561.66 517.95,563.04 518.26,564.76 518.56,566.8 518.86,569.12 519.16,571.69 519.46,574.47 519.77,577.43 520.07,580.53 520.37,583.72 520.67,586.97 520.98,590.25 521.28,593.51 521.58,596.73 521.88,599.88 522.18,602.93 522.49,605.86 522.79,608.65 523.09,611.28 523.39,613.76 523.7,616.06 524,618.19 524.3,620.15 524.6,621.93 524.9,623.55 525.21,625 525.51,626.3 525.81,627.45 526.11,628.47 526.41,629.37 526.72,630.14 527.02,630.82 527.32,631.4 527.62,631.89 527.93,632.31 528.23,632.67 528.53,632.97 528.83,633.22 529.13,633.43 529.44,633.6 529.74,633.74 530.04,633.85 530.34,633.95 530.64,634.02 530.95,634.08 531.25,634.13 531.55,634.17 531.85,634.2 532.16,634.22 532.46,634.24 532.76,634.26 533.06,634.27 533.36,634.27 533.67,634.28 533.97,634.29 534.27,634.29 534.57,634.29 534.88,634.29 535.18,634.3 535.48,634.3 535.78,634.3 536.08,634.3 536.39,634.3 536.69,634.3 536.99,634.3 537.29,634.3 537.59,634.3 537.9,634.3 538.2,634.3 538.5,634.3 538.8,634.3 539.11,634.3 539.41,634.3 539.71,634.3 540.01,634.3 540.31,634.3 540.62,634.3 540.92,634.3 541.22,634.3 541.52,634.3 541.83,634.3 542.13,634.3 542.43,634.3 542.73,634.3 543.03,634.3 543.34,634.3 543.64,634.3 543.94,634.3 544.24,634.3 544.54,634.3 544.85,634.3 545.15,634.3 545.45,634.3 545.75,634.3 546.06,634.3 546.36,634.3 546.66,634.3 546.96,634.3 547.26,634.3 547.57,634.3 547.87,634.3 548.17,634.3 548.47,634.3 548.77,634.3 549.08,634.3 549.38,634.3 549.68,634.3 549.98,634.3 550.29,634.3 550.59,634.3 550.89,634.3 551.19,634.3 551.49,634.3 551.8,634.3 552.1,634.3 552.4,634.3 552.7,634.3 553.01,634.3 553.31,634.3 553.61,634.3 553.91,634.3 554.21,634.3 554.52,634.3 554.82,634.3 555.12,634.3 555.42,634.3 555.72,634.3 556.03,634.3 556.33,634.3 556.63,634.3 556.93,634.3 557.24,634.3 557.54,634.3 557.84,634.3 558.14,634.3 558.44,634.3 558.75,634.29 559.05,634.29 559.35,634.29 559.65,634.28 559.96,634.27 560.26,634.26 560.56,634.25 560.86,634.22 561.16,634.2 561.47,634.16 561.77,634.11 562.07,634.04 562.37,633.96 562.67,633.84 562.98,633.7 563.28,633.52 563.58,633.28 563.88,632.98 564.19,632.61 564.49,632.15 564.79,631.59 565.09,630.9 565.39,630.06 565.7,629.05 566,627.85 566.3,626.43 566.6,624.76 566.9,622.81 567.21,620.57 567.51,618 567.81,615.09 568.11,611.81 568.42,608.15 568.72,604.1 569.02,599.68 569.32,594.88 569.62,589.72 569.93,584.24 570.23,578.47 570.53,572.47 570.83,566.3 571.14,560.03 571.44,553.74 571.74,547.53 572.04,541.48 572.34,535.7 572.65,530.29 572.95,525.33 573.25,520.93 573.55,517.17 573.85,514.12 574.16,511.85 574.46,510.39 574.76,509.79 575.06,510.05 575.37,511.17 575.67,513.12 575.97,515.86 576.27,519.35 576.57,523.5 576.88,528.24 577.18,533.49 577.48,539.13 577.78,545.08 578.09,551.24 578.39,557.51 578.69,563.8 578.99,570.02 579.29,576.09 579.6,581.96 579.9,587.56 580.2,592.85 580.5,597.8 580.8,602.38 581.11,606.58 581.41,610.39 581.71,613.82 582.01,616.88 582.32,619.58 582.62,621.95 582.92,624.02 583.22,625.79 583.52,627.31 583.83,628.6 584.13,629.68 584.43,630.58 584.73,631.32 585.03,631.93 585.34,632.43 585.64,632.82 585.94,633.14 586.24,633.38 586.55,633.56 586.85,633.69 587.15,633.77 587.45,633.8 587.75,633.79 588.06,633.74 588.36,633.63 588.66,633.47 588.96,633.24 589.27,632.95 589.57,632.56 589.87,632.09 590.17,631.51 590.47,630.81 590.78,629.98 591.08,629.02 591.38,627.93 591.68,626.7 591.98,625.34 592.29,623.88 592.59,622.32 592.89,620.69 593.19,619.04 593.5,617.39 593.8,615.8 594.1,614.3 594.4,612.95 594.7,611.78 595.01,610.85 595.31,610.17 595.61,609.78 595.91,609.69 596.22,609.9 596.52,610.41 596.82,611.19 597.12,612.22 597.42,613.47 597.73,614.88 598.03,616.43 598.33,618.05 598.63,619.7 598.93,621.35 599.24,622.95 599.54,624.48 599.84,625.9 600.14,627.21 600.45,628.39 600.75,629.43 601.05,630.34 601.35,631.11 601.65,631.77 601.96,632.32 602.26,632.76 602.56,633.13 602.86,633.41 603.16,633.64 603.47,633.81 603.77,633.94 604.07,634.04 604.37,634.12 604.68,634.17 604.98,634.21 605.28,634.24 605.58,634.26 605.88,634.27 606.19,634.28 606.49,634.29 606.79,634.29 607.09,634.3 607.4,634.3 607.7,634.3 608,634.3 608.3,634.3 608.6,634.3 608.91,634.3 609.21,634.3 609.51,634.3 609.81,634.3 610.11,634.3 610.42,634.3 610.72,634.3 611.02,634.3 611.32,634.3 611.63,634.3 611.93,634.3 612.23,634.3 612.53,634.3 612.83,634.3 613.14,634.3 613.44,634.3 613.74,634.3 614.04,634.3 614.35,634.3 614.65,634.3 614.95,634.3 615.25,634.3 615.55,634.3 615.86,634.3 616.16,634.3 616.46,634.3 616.76,634.3 617.06,634.3 617.37,634.3 617.67,634.3 617.97,634.3 618.27,634.3 618.58,634.3 618.88,634.3 619.18,634.3 619.48,634.3 619.78,634.3 620.09,634.3 620.39,634.3 620.69,634.3 620.99,634.3 621.29,634.3 621.6,634.29 621.9,634.29 622.2,634.29 622.5,634.28 622.81,634.26 623.11,634.24 623.41,634.21 623.71,634.17 624.01,634.1 624.32,634 624.62,633.86 624.92,633.66 625.22,633.39 625.53,633.01 625.83,632.49 626.13,631.79 626.43,630.87 626.73,629.67 627.04,628.13 627.34,626.17 627.64,623.73 627.94,620.72 628.24,617.06 628.55,612.69 628.85,607.55 629.15,601.58 629.45,594.78 629.76,587.15 630.06,578.74 630.36,569.62 630.66,559.94 630.96,549.86 631.27,539.59 631.57,529.37 631.87,519.47 632.17,510.18 632.48,501.79 632.78,494.56 633.08,488.75 633.38,484.56 633.68,482.14 633.99,481.57 634.29,482.89 634.59,486.03 634.89,490.89 635.19,497.3 635.5,505.02 635.8,513.8 636.1,523.37 636.4,533.43 636.71,543.7 637.01,553.93 637.31,563.87 637.61,573.35 637.91,582.19 638.22,590.3 638.52,597.6 638.82,604.07 639.12,609.7 639.42,614.53 639.73,618.61 640.03,621.99 640.33,624.77 640.63,627.01 640.94,628.79 641.24,630.19 641.54,631.27 641.84,632.09 642.14,632.71 642.45,633.17 642.75,633.51 643.05,633.75 643.35,633.92 643.66,634.05 643.96,634.13 644.26,634.19 644.56,634.23 644.86,634.25 645.17,634.27 645.47,634.28 645.77,634.29 646.07,634.29 646.37,634.3 646.68,634.3 646.98,634.3 647.28,634.3 647.58,634.3 647.89,634.3 648.19,634.3 648.49,634.3 648.79,634.3 649.09,634.3 649.4,634.3 649.7,634.3 650,634.3 650.3,634.3 650.61,634.3 650.91,634.3 651.21,634.3 651.51,634.3 651.81,634.3 652.12,634.3 652.42,634.3 652.72,634.3 653.02,634.3 653.32,634.3 653.63,634.3 653.93,634.3 654.23,634.3 654.53,634.3 654.84,634.3 655.14,634.3 655.44,634.3 655.74,634.3 656.04,634.3 656.35,634.3 656.65,634.3 656.95,634.3 657.25,634.3 657.55,634.3 657.86,634.3 658.16,634.3 658.46,634.3 658.76,634.3 659.07,634.3 659.37,634.3 659.67,634.3 659.97,634.3 660.27,634.3 660.58,634.3 660.88,634.3 661.18,634.3 661.48,634.3 661.79,634.3 662.09,634.3 662.39,634.3 662.69,634.3 662.99,634.3 663.3,634.3 663.6,634.3 663.9,634.3 664.2,634.3 664.5,634.3 664.81,634.3 665.11,634.3 665.41,634.3 665.71,634.3 666.02,634.3 666.32,634.3 666.62,634.3 666.92,634.3 667.22,634.3 667.53,634.3 667.83,634.3 668.13,634.3 668.43,634.3 668.74,634.3 669.04,634.3 669.34,634.3 669.64,634.3 669.94,634.3 670.25,634.3 670.55,634.3 670.85,634.3 671.15,634.3 671.45,634.3 671.76,634.3 672.06,634.3 672.36,634.3 672.66,634.3 672.97,634.3 673.27,634.3 673.57,634.3 673.87,634.3 674.17,634.3 674.48,634.3 674.78,634.3 675.08,634.3 675.38,634.3 675.68,634.3 675.99,634.3 676.29,634.3 676.59,634.3 676.89,634.3 677.2,634.3 677.5,634.3 677.8,634.3" fill="none" stroke="#a2d4cf" stroke-width="1.3"/>
<line x1="545.7" y1="505.5" x2="545.7" y2="634.3" stroke="#000" stroke-width="2.1" stroke-dasharray="5 3.4"/>
<line x1="573.6" y1="503" x2="573.6" y2="634.3" stroke="#000" stroke-width="2.1" stroke-dasharray="5 3.4"/>
<line x1="612.9" y1="504.5" x2="612.9" y2="634.3" stroke="#000" stroke-width="2.1" stroke-dasharray="5 3.4"/>
<rect x="496.5" y="453.2" width="181.3" height="181.1" fill="none" stroke="#444" stroke-width="1.1"/>
<line x1="502" y1="463.7" x2="518.4" y2="463.7" stroke="#e46c7e" stroke-width="1.3"/>
<text x="520.9" y="467.37" font-size="10.2" stroke="#000" stroke-width="0.22" textLength="22" lengthAdjust="spacingAndGlyphs">5 μm</text>
<line x1="502" y1="476.3" x2="518.4" y2="476.3" stroke="#8fb1f2" stroke-width="1.3"/>
<text x="520.9" y="479.97" font-size="10.2" stroke="#000" stroke-width="0.22" textLength="27" lengthAdjust="spacingAndGlyphs">10 μm</text>
<line x1="502" y1="488.2" x2="518.4" y2="488.2" stroke="#f7834a" stroke-width="1.3"/>
<text x="520.9" y="491.87" font-size="10.2" stroke="#000" stroke-width="0.22" textLength="27" lengthAdjust="spacingAndGlyphs">30 μm</text>
<line x1="502" y1="500.4" x2="518.4" y2="500.4" stroke="#a2d4cf" stroke-width="1.3"/>
<text x="520.9" y="504.07" font-size="10.2" stroke="#000" stroke-width="0.22" textLength="27" lengthAdjust="spacingAndGlyphs">50 μm</text>
<text x="502" y="534.78" font-size="8" font-weight="bold" textLength="35" lengthAdjust="spacingAndGlyphs">P1: Mass</text>
<text x="501.1" y="544.28" font-size="8" font-weight="bold" textLength="36.3" lengthAdjust="spacingAndGlyphs">transport</text>
<text x="552.8" y="532.48" font-size="8" font-weight="bold" textLength="12.2" lengthAdjust="spacingAndGlyphs">P2:</text>
<text x="550.7" y="541.78" font-size="8" font-weight="bold" textLength="17" lengthAdjust="spacingAndGlyphs">OER</text>
<text x="578.7" y="534.78" font-size="8" font-weight="bold" textLength="31.9" lengthAdjust="spacingAndGlyphs">P3: HER</text>
<text x="636.7" y="461.88" font-size="8" font-weight="bold" textLength="12.3" lengthAdjust="spacingAndGlyphs">P4:</text>
<text x="613.7" y="471.68" font-size="8" font-weight="bold" textLength="59.1" lengthAdjust="spacingAndGlyphs">OH<tspan font-size="5.5" dy="-3">-</tspan><tspan dy="3"> conduction</tspan></text>
<line x1="512.6" y1="547.5" x2="514" y2="560.8" stroke="#111" stroke-width="1.15"/>
<line x1="514" y1="560.8" x2="516.23" y2="555.45" stroke="#111" stroke-width="1.15"/>
<line x1="514" y1="560.8" x2="510.7" y2="556.03" stroke="#111" stroke-width="1.15"/>
<line x1="517" y1="547.5" x2="517.8" y2="611.5" stroke="#111" stroke-width="1.15"/>
<line x1="517.8" y1="611.5" x2="520.52" y2="606.38" stroke="#111" stroke-width="1.15"/>
<line x1="517.8" y1="611.5" x2="514.96" y2="606.45" stroke="#111" stroke-width="1.15"/>
<line x1="520" y1="547.5" x2="526.5" y2="579.5" stroke="#111" stroke-width="1.15"/>
<line x1="526.5" y1="579.5" x2="528.21" y2="573.96" stroke="#111" stroke-width="1.15"/>
<line x1="526.5" y1="579.5" x2="522.76" y2="575.07" stroke="#111" stroke-width="1.15"/>
<line x1="528.5" y1="547.5" x2="532.3" y2="618" stroke="#111" stroke-width="1.15"/>
<line x1="532.3" y1="618" x2="534.8" y2="612.77" stroke="#111" stroke-width="1.15"/>
<line x1="532.3" y1="618" x2="529.25" y2="613.07" stroke="#111" stroke-width="1.15"/>
<line x1="552" y1="543.5" x2="552.5" y2="596.5" stroke="#111" stroke-width="1.15"/>
<line x1="552.5" y1="596.5" x2="555.23" y2="591.38" stroke="#111" stroke-width="1.15"/>
<line x1="552.5" y1="596.5" x2="549.67" y2="591.44" stroke="#111" stroke-width="1.15"/>
<line x1="559" y1="543.5" x2="555.8" y2="622.5" stroke="#111" stroke-width="1.15"/>
<line x1="555.8" y1="622.5" x2="558.78" y2="617.53" stroke="#111" stroke-width="1.15"/>
<line x1="555.8" y1="622.5" x2="553.23" y2="617.3" stroke="#111" stroke-width="1.15"/>
<line x1="563.5" y1="543.5" x2="563" y2="606" stroke="#111" stroke-width="1.15"/>
<line x1="563" y1="606" x2="565.82" y2="600.93" stroke="#111" stroke-width="1.15"/>
<line x1="563" y1="606" x2="560.26" y2="600.89" stroke="#111" stroke-width="1.15"/>
<line x1="555.5" y1="524" x2="574" y2="508.5" stroke="#111" stroke-width="1.15"/>
<line x1="574" y1="508.5" x2="568.31" y2="509.64" stroke="#111" stroke-width="1.15"/>
<line x1="574" y1="508.5" x2="571.88" y2="513.9" stroke="#111" stroke-width="1.15"/>
<line x1="587.6" y1="535.8" x2="580.8" y2="568.5" stroke="#111" stroke-width="1.15"/>
<line x1="580.8" y1="568.5" x2="584.56" y2="564.08" stroke="#111" stroke-width="1.15"/>
<line x1="580.8" y1="568.5" x2="579.11" y2="562.95" stroke="#111" stroke-width="1.15"/>
<line x1="593.2" y1="535.8" x2="583.8" y2="581.5" stroke="#111" stroke-width="1.15"/>
<line x1="583.8" y1="581.5" x2="587.55" y2="577.07" stroke="#111" stroke-width="1.15"/>
<line x1="583.8" y1="581.5" x2="582.1" y2="575.95" stroke="#111" stroke-width="1.15"/>
<line x1="598" y1="535.8" x2="589.8" y2="585.2" stroke="#111" stroke-width="1.15"/>
<line x1="589.8" y1="585.2" x2="593.38" y2="580.63" stroke="#111" stroke-width="1.15"/>
<line x1="589.8" y1="585.2" x2="587.89" y2="579.72" stroke="#111" stroke-width="1.15"/>
<line x1="608" y1="535.8" x2="595.8" y2="608.5" stroke="#111" stroke-width="1.15"/>
<line x1="595.8" y1="608.5" x2="599.38" y2="603.94" stroke="#111" stroke-width="1.15"/>
<line x1="595.8" y1="608.5" x2="593.9" y2="603.02" stroke="#111" stroke-width="1.15"/>
<line x1="643.2" y1="477" x2="633.9" y2="480.3" stroke="#111" stroke-width="1.15"/>
<line x1="633.9" y1="480.3" x2="639.63" y2="481.22" stroke="#111" stroke-width="1.15"/>
<line x1="633.9" y1="480.3" x2="637.77" y2="475.98" stroke="#111" stroke-width="1.15"/>
<line x1="651.6" y1="477.4" x2="633.4" y2="506.2" stroke="#111" stroke-width="1.15"/>
<line x1="633.4" y1="506.2" x2="638.47" y2="503.38" stroke="#111" stroke-width="1.15"/>
<line x1="633.4" y1="506.2" x2="633.77" y2="500.41" stroke="#111" stroke-width="1.15"/>
<line x1="658.8" y1="476.7" x2="631" y2="527.1" stroke="#111" stroke-width="1.15"/>
<line x1="631" y1="527.1" x2="635.89" y2="523.99" stroke="#111" stroke-width="1.15"/>
<line x1="631" y1="527.1" x2="631.02" y2="521.3" stroke="#111" stroke-width="1.15"/>
<line x1="664.8" y1="477" x2="641.1" y2="518.8" stroke="#111" stroke-width="1.15"/>
<line x1="641.1" y1="518.8" x2="646.03" y2="515.74" stroke="#111" stroke-width="1.15"/>
<line x1="641.1" y1="518.8" x2="641.19" y2="513" stroke="#111" stroke-width="1.15"/>
</svg></body></html>
